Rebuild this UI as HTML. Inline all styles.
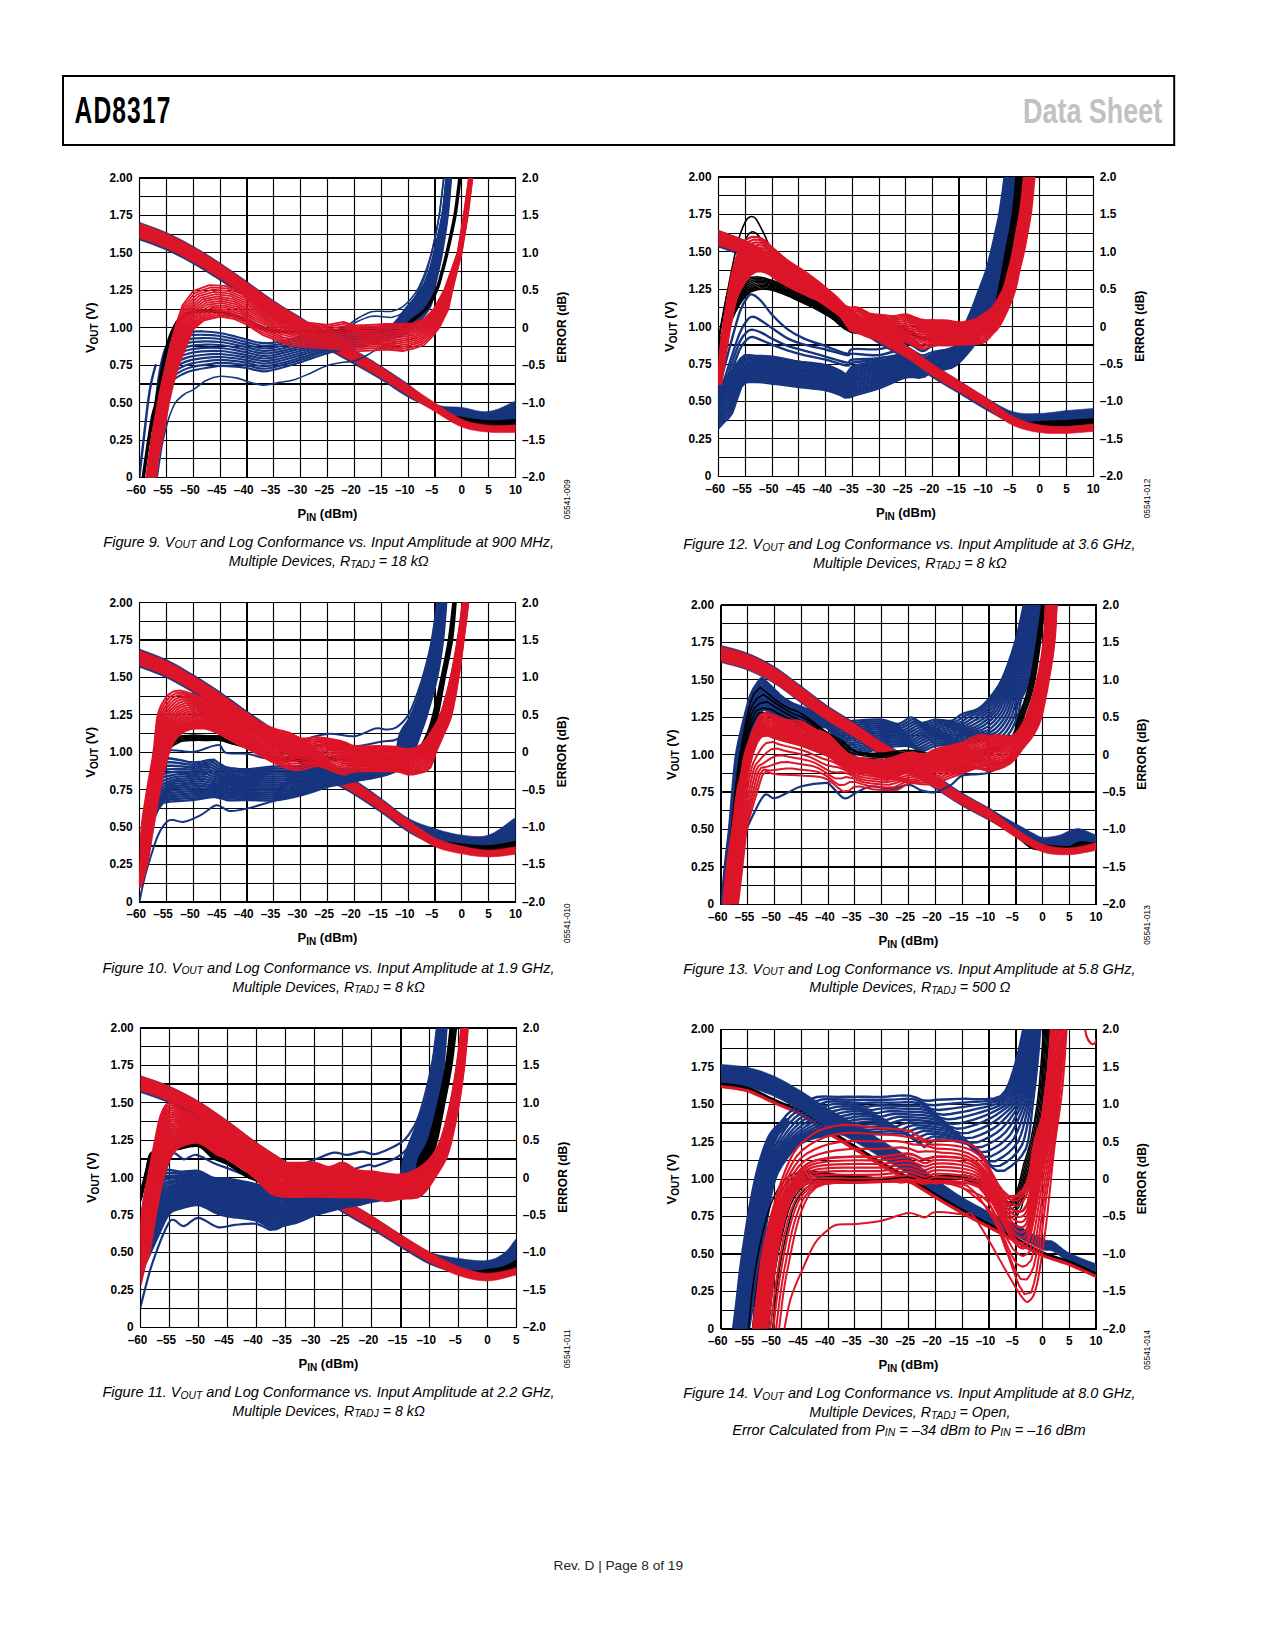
<!DOCTYPE html>
<html><head><meta charset="utf-8"><title>AD8317 Data Sheet Page 8</title>
<style>html,body{margin:0;padding:0;background:#fff;}body{width:1275px;height:1650px;overflow:hidden;position:relative;font-family:"Liberation Sans",sans-serif;}svg{position:absolute;left:0;top:0;}</style>
</head><body>
<svg width="1275" height="1650" viewBox="0 0 1275 1650" xmlns="http://www.w3.org/2000/svg">
<rect x="63" y="76" width="1111.2" height="69" fill="none" stroke="#000" stroke-width="2"/>
<text font-family="Liberation Sans" font-weight="bold" font-size="36.5" fill="#000" letter-spacing="1.6" transform="translate(74.6,122.7) scale(0.675,1)">AD8317</text>
<text font-family="Liberation Sans" font-weight="bold" font-size="35" fill="#c1c1c1" text-anchor="end" transform="translate(1162.2,122.7) scale(0.77,1)">Data Sheet</text>
<clipPath id="clip1"><rect x="139.5" y="178" width="376" height="299.5"/></clipPath>
<g stroke="#000" fill="none"><line x1="139.5" y1="178" x2="139.5" y2="478" stroke-width="1.15"/><line x1="166.5" y1="178" x2="166.5" y2="478" stroke-width="1.15"/><line x1="193.5" y1="178" x2="193.5" y2="478" stroke-width="1.15"/><line x1="220.5" y1="178" x2="220.5" y2="478" stroke-width="1.15"/><line x1="247" y1="178" x2="247" y2="478" stroke-width="2.0"/><line x1="273.5" y1="178" x2="273.5" y2="478" stroke-width="1.15"/><line x1="300.5" y1="178" x2="300.5" y2="478" stroke-width="1.15"/><line x1="327.5" y1="178" x2="327.5" y2="478" stroke-width="1.15"/><line x1="354.5" y1="178" x2="354.5" y2="478" stroke-width="1.15"/><line x1="381.5" y1="178" x2="381.5" y2="478" stroke-width="1.15"/><line x1="408.5" y1="178" x2="408.5" y2="478" stroke-width="1.15"/><line x1="435" y1="178" x2="435" y2="478" stroke-width="2.0"/><line x1="461.5" y1="178" x2="461.5" y2="478" stroke-width="1.15"/><line x1="488.5" y1="178" x2="488.5" y2="478" stroke-width="1.15"/><line x1="515.5" y1="178" x2="515.5" y2="478" stroke-width="1.15"/><line x1="139" y1="178" x2="516" y2="178" stroke-width="2.0"/><line x1="139" y1="196.5" x2="516" y2="196.5" stroke-width="1.15"/><line x1="139" y1="215.5" x2="516" y2="215.5" stroke-width="1.15"/><line x1="139" y1="234.5" x2="516" y2="234.5" stroke-width="1.15"/><line x1="139" y1="252.5" x2="516" y2="252.5" stroke-width="1.15"/><line x1="139" y1="271.5" x2="516" y2="271.5" stroke-width="1.15"/><line x1="139" y1="290.5" x2="516" y2="290.5" stroke-width="1.15"/><line x1="139" y1="309.5" x2="516" y2="309.5" stroke-width="1.15"/><line x1="139" y1="327.5" x2="516" y2="327.5" stroke-width="1.15"/><line x1="139" y1="346.5" x2="516" y2="346.5" stroke-width="1.15"/><line x1="139" y1="365.5" x2="516" y2="365.5" stroke-width="1.15"/><line x1="139" y1="384" x2="516" y2="384" stroke-width="2.0"/><line x1="139" y1="402.5" x2="516" y2="402.5" stroke-width="1.15"/><line x1="139" y1="421.5" x2="516" y2="421.5" stroke-width="1.15"/><line x1="139" y1="440.5" x2="516" y2="440.5" stroke-width="1.15"/><line x1="139" y1="458.5" x2="516" y2="458.5" stroke-width="1.15"/><line x1="139" y1="477.5" x2="516" y2="477.5" stroke-width="1.15"/></g>
<g clip-path="url(#clip1)" fill="none" stroke-linecap="round" stroke-linejoin="round">
<path d="M134.1,220.5 134.5,220.6 134.7,220.7 135.1,220.8 135.9,221 137.3,221.5 139.5,222.3 142.7,223.5 146.9,225 151.6,226.7 156.6,228.5 161.6,230.5 166.4,232.5 170.8,234.6 175.3,236.7 179.8,239 184.3,241.3 188.7,243.8 193.2,246.3 197.7,248.9 202.2,251.5 206.6,254.3 211.1,257.1 215.6,260 220.1,262.9 224.5,265.9 229,268.9 233.5,272 238,275.2 242.5,278.3 246.9,281.5 251.4,284.7 255.9,287.9 260.4,291.2 264.8,294.4 269.3,297.6 273.8,300.7 278.3,303.6 282.7,306.4 287.2,309.2 291.7,311.9 296.2,314.6 300.6,317.3 305.1,320.2 309.6,323 314.1,325.9 318.5,328.7 323,331.5 327.5,334.2 332,336.9 336.5,339.5 340.9,342 345.4,344.6 349.9,347.1 354.4,349.8 358.8,352.4 363.3,355.1 367.8,357.9 372.3,360.6 376.7,363.4 381.2,366.2 385.7,369.1 390.2,372 394.6,374.9 399.1,377.9 403.6,380.9 408.1,384.1 412.5,387.5 417,391.2 421.5,395 426,398.6 430.5,401.7 434.9,404.1 439.4,405.6 443.9,406.4 448.4,406.8 452.8,406.9 457.3,407 461.8,407.4 466.3,408.2 470.7,409.3 475.2,410.4 479.7,411.3 484.2,411.8 488.6,411.6 493.4,410.6 498.4,408.9 503.4,406.7 508.1,404.5 512.3,402.5 515.5,401.1 517.7,400.3 519.1,399.9 519.9,399.7 520.3,399.7 520.5,399.7 520.9,399.6 520.9,430.6 520.5,430.6 520.3,430.6 519.9,430.6 519.1,430.7 517.7,430.6 515.5,430.6 512.3,430.7 508.1,430.7 503.4,430.8 498.4,430.8 493.4,430.7 488.6,430.3 484.2,429.9 479.7,429.4 475.2,428.7 470.7,427.9 466.3,426.7 461.8,425.2 457.3,423.3 452.8,420.8 448.4,418.1 443.9,415.2 439.4,412.5 434.9,410 430.5,407.7 426,405.7 421.5,403.7 417,401.7 412.5,399.6 408.1,397.2 403.6,394.6 399.1,391.8 394.6,388.8 390.2,385.8 385.7,382.8 381.2,380 376.7,377.3 372.3,374.7 367.8,372.1 363.3,369.5 358.8,367 354.4,364.4 349.9,361.9 345.4,359.4 340.9,357 336.5,354.5 332,352 327.5,349.4 323,346.8 318.5,344.1 314.1,341.3 309.6,338.6 305.1,335.8 300.6,333.1 296.2,330.4 291.7,327.7 287.2,325.1 282.7,322.4 278.3,319.6 273.8,316.8 269.3,313.8 264.8,310.6 260.4,307.4 255.9,304.2 251.4,301 246.9,297.9 242.5,295 238,292 233.5,289.1 229,286.3 224.5,283.4 220.1,280.6 215.6,277.7 211.1,274.9 206.6,272 202.2,269.3 197.7,266.6 193.2,264 188.7,261.5 184.3,259 179.8,256.7 175.3,254.4 170.8,252.2 166.4,250.2 161.6,248.2 156.6,246.2 151.6,244.3 146.9,242.6 142.7,241.2 139.5,240 137.3,239.2 135.9,238.7 135.1,238.5 134.7,238.4 134.5,238.3 134.1,238.2Z" fill="#17357f" stroke="#17357f" stroke-width="0.6"/>
<path d="M134.1,228.9C135,229.2 134.1,228.7 139.5,230.7C144.9,232.7 157.4,236.9 166.4,240.9C175.3,244.9 184.3,249.6 193.2,254.7C202.2,259.7 211.1,265.5 220.1,271.3C229,277.1 238,283.1 246.9,289.3C255.9,295.4 264.8,302.4 273.8,308.3C282.7,314.2 291.7,319.2 300.6,324.8C309.6,330.3 318.5,336.1 327.5,341.4C336.5,346.7 345.4,351.4 354.4,356.7C363.3,361.9 372.3,367.1 381.2,372.7C390.2,378.3 399.1,384.4 408.1,390.2C417,396 427.8,402.7 434.9,407.3C442.1,411.8 446.6,415.5 451,417.6C455.5,419.7 455.5,418.9 461.8,419.8C468.1,420.8 479.7,422.8 488.6,423.1C497.6,423.5 510.1,422.1 515.5,421.8C520.9,421.5 520,421.5 520.9,421.5" stroke="#000000" stroke-width="6"/>
<path d="M134.1,221.4 134.5,221.5 134.7,221.6 135.1,221.7 135.9,221.9 137.3,222.4 139.5,223.2 142.7,224.4 146.9,225.9 151.6,227.6 156.6,229.4 161.6,231.4 166.4,233.4 170.8,235.5 175.3,237.6 179.8,239.9 184.3,242.2 188.7,244.7 193.2,247.2 197.7,249.8 202.2,252.4 206.6,255.2 211.1,258 215.6,260.9 220.1,263.8 224.5,266.8 229,269.8 233.5,272.9 238,276.1 242.5,279.2 246.9,282.4 251.4,285.6 255.9,288.8 260.4,292.1 264.8,295.3 269.3,298.5 273.8,301.6 278.3,304.5 282.7,307.3 287.2,310.1 291.7,312.8 296.2,315.5 300.6,318.2 305.1,321.1 309.6,323.9 314.1,326.8 318.5,329.6 323,332.4 327.5,335.1 332,337.8 336.5,340.4 340.9,342.9 345.4,345.5 349.9,348 354.4,350.7 358.8,353.3 363.3,356 367.8,358.8 372.3,361.5 376.7,364.3 381.2,367.1 385.7,370 390.2,373 394.6,376 399.1,379 403.6,382 408.1,385 412.5,387.9 417,390.9 421.5,393.9 426,396.9 430.5,399.9 434.9,402.8 439.4,405.7 443.9,408.8 448.4,411.8 452.8,414.6 457.3,417.1 461.8,419.2 466.3,420.9 470.7,422.3 475.2,423.3 479.7,424.1 484.2,424.7 488.6,425.2 493.4,425.5 498.4,425.6 503.4,425.5 508.1,425.2 512.3,425 515.5,424.9 517.7,424.9 519.1,424.9 519.9,424.9 520.3,424.9 520.5,424.9 520.9,424.9 520.9,432.4 520.5,432.4 520.3,432.4 519.9,432.4 519.1,432.4 517.7,432.4 515.5,432.4 512.3,432.4 508.1,432.5 503.4,432.6 498.4,432.6 493.4,432.5 488.6,432.1 484.2,431.7 479.7,431.2 475.2,430.5 470.7,429.7 466.3,428.5 461.8,427 457.3,425.1 452.8,422.7 448.4,420.1 443.9,417.3 439.4,414.5 434.9,411.8 430.5,409.1 426,406.4 421.5,403.7 417,401 412.5,398.2 408.1,395.4 403.6,392.6 399.1,389.7 394.6,386.8 390.2,383.9 385.7,381 381.2,378.2 376.7,375.5 372.3,372.9 367.8,370.3 363.3,367.7 358.8,365.2 354.4,362.6 349.9,360.1 345.4,357.6 340.9,355.2 336.5,352.7 332,350.2 327.5,347.6 323,345 318.5,342.3 314.1,339.5 309.6,336.8 305.1,334 300.6,331.3 296.2,328.6 291.7,325.9 287.2,323.3 282.7,320.6 278.3,317.8 273.8,315 269.3,312 264.8,308.8 260.4,305.6 255.9,302.4 251.4,299.2 246.9,296.2 242.5,293.2 238,290.2 233.5,287.3 229,284.5 224.5,281.6 220.1,278.8 215.6,275.9 211.1,273.1 206.6,270.2 202.2,267.5 197.7,264.8 193.2,262.2 188.7,259.7 184.3,257.2 179.8,254.9 175.3,252.6 170.8,250.4 166.4,248.4 161.6,246.4 156.6,244.4 151.6,242.5 146.9,240.8 142.7,239.4 139.5,238.2 137.3,237.4 135.9,236.9 135.1,236.7 134.7,236.6 134.5,236.5 134.1,236.4Z" fill="#dc1529" stroke="#dc1529" stroke-width="0.6"/>
<path d="M149.2,485C149.7,477.5 151.3,453.8 152.4,440.1C153.5,426.3 154.5,413.9 155.6,402.6C156.8,391.4 157.9,381.4 159.4,372.7C160.9,363.9 162.5,356 164.7,350.2C167,344.5 169,341.2 172.8,338.2C176.7,335.2 182.7,333.4 187.8,332.2C193,331.1 198.6,331.4 204,331.5C209.3,331.6 214.7,332.1 220.1,333C225.4,333.9 231.7,335.6 236.2,336.7C240.7,337.8 242.9,338.6 246.9,339.6C251,340.6 255.9,342.4 260.4,342.9C264.8,343.4 267.1,343.6 273.8,342.7C280.5,341.8 291.7,339.2 300.6,337.5C309.6,335.7 318.5,333.6 327.5,332.2C336.5,330.9 346.3,330 354.4,329.2C362.4,328.5 369.6,328.5 375.8,327.8C382.1,327 387,327.9 392,324.8C396.9,321.6 400.6,314.8 405.4,309C410.1,303.3 416.5,296.6 420.4,290.3C424.4,284.1 426.8,277.8 429,271.6C431.3,265.4 431.7,262.2 433.9,252.9C436,243.5 440.1,227.9 442.1,215.4C444.2,203 445.4,185.5 446.2,178C447,170.5 446.7,171.8 446.7,170.5" stroke="#17357f" stroke-width="2.2"/>
<path d="M149.4,485C149.9,477.6 151.6,454.2 152.7,440.7C153.8,427.2 154.8,415 156,404C157.2,393 158.3,383.2 159.9,374.7C161.5,366.2 163.1,358.6 165.4,353.1C167.7,347.5 169.9,344.4 173.7,341.5C177.5,338.6 183.2,336.8 188.3,335.7C193.5,334.6 199.2,334.7 204.4,334.8C209.7,334.8 214.8,335.2 220.1,336C225.4,336.8 231.7,338.4 236.2,339.5C240.7,340.5 242.9,341.2 246.9,342.2C251,343.2 256.1,345 260.6,345.5C265.1,346 267.1,346.1 273.8,345.2C280.5,344.2 291.7,341.6 300.6,339.7C309.6,337.9 318.5,335.6 327.5,334.1C336.5,332.7 346.3,331.7 354.4,330.9C362.4,330 369.6,329.9 375.8,329.1C382.1,328.3 387,329 392,326C396.9,323 400.8,316.8 405.6,311.1C410.5,305.5 417.2,298.3 421.2,292C425.2,285.7 427.3,279.5 429.5,273.3C431.6,267.1 432.1,263.7 434.2,254.6C436.4,245.5 440.1,231 442.1,218.8C444.1,206.6 445.5,189.5 446.4,181.4C447.2,173.3 447,172.3 447.2,170.5" stroke="#17357f" stroke-width="2.2"/>
<path d="M149.6,485C150.1,477.7 151.8,454.7 153,441.4C154.1,428.2 155.2,416.1 156.4,405.3C157.6,394.6 158.8,385 160.4,376.8C162.1,368.5 163.7,361.3 166,355.9C168.4,350.6 170.8,347.6 174.6,344.8C178.4,342 183.8,340.3 188.8,339.2C193.9,338 199.7,338.1 204.9,338C210.1,338 214.9,338.3 220.1,339C225.3,339.7 231.7,341.2 236.2,342.2C240.7,343.1 242.8,343.8 246.9,344.8C251,345.7 256.4,347.6 260.8,348C265.3,348.5 267.2,348.6 273.8,347.6C280.4,346.6 291.7,343.9 300.6,342C309.6,340 318.5,337.6 327.5,336.1C336.5,334.5 346.3,333.4 354.4,332.5C362.4,331.6 369.6,331.4 375.8,330.5C382.1,329.6 387,330.1 392,327.2C397,324.3 400.9,318.8 405.9,313.3C410.9,307.7 418,300.1 422,293.7C426,287.3 427.8,281.2 429.9,275C432,268.8 432.6,265.1 434.6,256.3C436.7,247.5 440.1,234.2 442.1,222.2C444.1,210.3 445.6,193.4 446.5,184.8C447.4,176.2 447.4,172.9 447.6,170.5" stroke="#17357f" stroke-width="2.2"/>
<path d="M149.8,485C150.3,477.8 152.1,455.2 153.3,442.1C154.4,429.1 155.5,417.3 156.8,406.7C158.1,396.2 159.3,386.8 161,378.8C162.6,370.8 164.2,363.9 166.7,358.8C169.1,353.7 171.7,350.7 175.4,348C179.2,345.3 184.3,343.7 189.3,342.6C194.3,341.5 200.3,341.4 205.4,341.3C210.5,341.2 214.9,341.4 220.1,342C225.2,342.6 231.7,344 236.2,344.9C240.7,345.8 242.8,346.4 246.9,347.3C251.1,348.3 256.6,350.2 261.1,350.6C265.6,351.1 267.2,351.1 273.8,350.1C280.4,349 291.7,346.2 300.6,344.2C309.6,342.2 318.5,339.6 327.5,338C336.5,336.3 346.3,335.2 354.4,334.1C362.4,333.1 369.6,332.8 375.8,331.8C382.1,330.9 386.9,331.2 392,328.4C397,325.7 401,320.9 406.1,315.4C411.3,309.9 418.7,301.9 422.8,295.4C426.8,289 428.3,282.9 430.3,276.7C432.4,270.5 433.1,266.5 435,258C437,249.5 440.2,237.3 442.1,225.6C444.1,214 445.7,197.4 446.6,188.2C447.6,179 447.8,173.5 448.1,170.5" stroke="#17357f" stroke-width="2.2"/>
<path d="M149.9,485C150.6,478 152.4,455.6 153.6,442.8C154.8,430 155.9,418.4 157.2,408.1C158.5,397.7 159.8,388.6 161.5,380.8C163.2,373.1 164.8,366.6 167.3,361.6C169.8,356.7 172.6,353.9 176.3,351.3C180.1,348.7 184.9,347.2 189.8,346.1C194.7,345 200.9,344.7 205.9,344.6C211,344.4 215,344.5 220.1,345C225.1,345.5 231.7,346.8 236.2,347.6C240.7,348.5 242.7,349 246.9,349.9C251.1,350.9 256.9,352.8 261.3,353.2C265.8,353.7 267.2,353.7 273.8,352.5C280.3,351.4 291.7,348.6 300.6,346.5C309.6,344.4 318.5,341.6 327.5,339.9C336.5,338.1 346.3,336.9 354.4,335.8C362.4,334.7 369.6,334.2 375.8,333.2C382.1,332.2 386.9,332.3 392,329.7C397,327 401.1,322.9 406.4,317.5C411.6,312 419.5,303.6 423.6,297.1C427.6,290.6 428.8,284.6 430.8,278.4C432.8,272.2 433.5,267.9 435.4,259.7C437.3,251.5 440.2,240.4 442.1,229.1C444,217.7 445.7,201.4 446.8,191.6C447.9,181.9 448.2,174 448.5,170.5" stroke="#17357f" stroke-width="2.2"/>
<path d="M150.1,485C150.8,478.1 152.6,456.1 153.9,443.5C155.1,430.9 156.2,419.5 157.6,409.4C158.9,399.3 160.3,390.4 162.1,382.9C163.8,375.4 165.4,369.2 167.9,364.5C170.4,359.8 173.5,357.1 177.2,354.6C180.9,352.1 185.4,350.7 190.3,349.5C195.2,348.4 201.4,348.1 206.4,347.8C211.4,347.6 215.1,347.5 220.1,348C225,348.4 231.7,349.6 236.2,350.3C240.7,351.1 242.7,351.6 246.9,352.5C251.2,353.4 257.1,355.4 261.6,355.8C266.1,356.2 267.3,356.2 273.8,355C280.3,353.8 291.7,350.9 300.6,348.7C309.6,346.5 318.5,343.7 327.5,341.8C336.5,339.9 346.3,338.6 354.4,337.4C362.4,336.2 369.6,335.6 375.8,334.6C382.1,333.5 386.8,333.4 392,330.9C397.1,328.4 401.2,324.9 406.6,319.6C412,314.2 420.2,305.4 424.3,298.8C428.4,292.2 429.3,286.3 431.2,280.1C433.1,273.9 434,269.3 435.8,261.4C437.6,253.4 440.3,243.5 442.1,232.5C444,221.4 445.8,205.3 446.9,195C448.1,184.7 448.6,174.6 448.9,170.5" stroke="#17357f" stroke-width="2.2"/>
<path d="M150.3,485C151,478.2 152.9,456.5 154.1,444.1C155.4,431.8 156.6,420.7 158,410.8C159.4,400.9 160.8,392.2 162.6,384.9C164.4,377.7 166,371.9 168.6,367.4C171.1,362.9 174.4,360.2 178.1,357.8C181.8,355.4 186,354.1 190.8,353C195.6,351.9 202,351.4 206.9,351.1C211.8,350.8 215.2,350.6 220.1,351C225,351.3 231.7,352.4 236.2,353.1C240.7,353.8 242.7,354.2 246.9,355.1C251.2,356 257.3,358 261.8,358.4C266.3,358.8 267.3,358.7 273.8,357.4C280.3,356.2 291.7,353.3 300.6,351C309.6,348.7 318.5,345.7 327.5,343.7C336.5,341.7 346.3,340.3 354.4,339C362.4,337.8 369.6,337.1 375.8,335.9C382.1,334.8 386.8,334.5 392,332.1C397.1,329.7 401.3,327 406.9,321.7C412.4,316.4 421,307.2 425.1,300.5C429.2,293.9 429.8,288 431.7,281.8C433.5,275.6 434.5,270.7 436.2,263.1C437.9,255.4 440.3,246.6 442.1,235.9C443.9,225.1 445.9,209.3 447.1,198.4C448.3,187.5 449,175.2 449.4,170.5" stroke="#17357f" stroke-width="2.2"/>
<path d="M150.5,485C151.2,478.3 153.1,457 154.4,444.8C155.7,432.7 156.9,421.8 158.3,412.2C159.8,402.5 161.3,394 163.1,387C164.9,380 166.6,374.5 169.2,370.2C171.8,365.9 175.3,363.4 179,361.1C182.6,358.8 186.5,357.6 191.3,356.4C196,355.3 202.6,354.8 207.4,354.4C212.2,353.9 215.3,353.7 220.1,354C224.9,354.2 231.7,355.2 236.2,355.8C240.7,356.4 242.6,356.8 246.9,357.7C251.2,358.6 257.6,360.6 262.1,361C266.5,361.3 267.4,361.2 273.8,359.9C280.2,358.6 291.7,355.6 300.6,353.2C309.6,350.8 318.5,347.7 327.5,345.6C336.5,343.5 346.3,342.1 354.4,340.7C362.4,339.3 369.6,338.5 375.8,337.3C382.1,336.1 386.7,335.6 392,333.3C397.2,331.1 401.4,329 407.1,323.8C412.8,318.6 421.7,308.9 425.9,302.2C430.1,295.5 430.3,289.7 432.1,283.5C433.9,277.3 434.9,272.2 436.6,264.8C438.3,257.4 440.4,249.8 442.1,239.3C443.9,228.8 446,213.3 447.2,201.8C448.5,190.4 449.4,175.7 449.8,170.5" stroke="#17357f" stroke-width="2.2"/>
<path d="M150.7,485C151.4,478.4 153.4,457.4 154.7,445.5C156.1,433.6 157.3,422.9 158.7,413.5C160.2,404.1 161.8,395.8 163.7,389C165.5,382.3 167.1,377.2 169.8,373.1C172.5,369 176.2,366.6 179.8,364.4C183.5,362.2 187.1,361 191.7,359.9C196.4,358.8 203.1,358.1 207.9,357.6C212.6,357.1 215.4,356.8 220.1,357C224.8,357.1 231.7,358 236.2,358.5C240.7,359.1 242.6,359.4 246.9,360.3C251.3,361.1 257.8,363.2 262.3,363.6C266.8,363.9 267.4,363.7 273.8,362.3C280.2,361 291.7,357.9 300.6,355.5C309.6,353 318.5,349.7 327.5,347.5C336.5,345.3 346.3,343.8 354.4,342.3C362.4,340.8 369.6,339.9 375.8,338.6C382.1,337.3 386.7,336.7 392,334.6C397.2,332.4 401.6,331 407.3,325.9C413.1,320.8 422.5,310.7 426.7,303.9C430.9,297.1 430.8,291.4 432.5,285.2C434.3,279 435.4,273.6 437,266.5C438.6,259.4 440.4,252.9 442.1,242.7C443.9,232.5 446,217.3 447.4,205.2C448.7,193.2 449.8,176.3 450.3,170.5" stroke="#17357f" stroke-width="2.2"/>
<path d="M150.9,485C151.6,478.5 153.7,457.9 155,446.2C156.4,434.5 157.6,424.1 159.1,414.9C160.7,405.7 162.3,397.5 164.2,391.1C166.1,384.6 167.7,379.8 170.5,375.9C173.2,372 177.1,369.7 180.7,367.6C184.3,365.5 187.6,364.5 192.2,363.4C196.8,362.2 203.7,361.5 208.4,360.9C213,360.3 215.4,359.9 220.1,359.9C224.7,360 231.7,360.8 236.2,361.2C240.7,361.7 242.5,362 246.9,362.9C251.3,363.7 258.1,365.8 262.6,366.2C267,366.5 267.4,366.2 273.8,364.8C280.1,363.4 291.7,360.3 300.6,357.7C309.6,355.1 318.5,351.7 327.5,349.4C336.5,347.1 346.3,345.5 354.4,344C362.4,342.4 369.6,341.4 375.8,340C382.1,338.6 386.7,337.8 392,335.8C397.2,333.8 401.7,333 407.6,328C413.5,323 423.2,312.5 427.5,305.6C431.7,298.8 431.3,293.1 433,286.9C434.6,280.7 435.8,275 437.4,268.2C438.9,261.4 440.4,256 442.1,246.1C443.8,236.1 446.1,221.2 447.5,208.6C449,196 450.2,176.9 450.7,170.5" stroke="#17357f" stroke-width="2.2"/>
<path d="M151.1,485C151.8,478.6 153.9,458.3 155.3,446.9C156.7,435.4 158,425.2 159.5,416.2C161.1,407.3 162.8,399.3 164.7,393.1C166.7,386.9 168.3,382.5 171.1,378.8C173.9,375.1 178,372.9 181.6,370.9C185.2,368.9 188.2,367.9 192.7,366.8C197.3,365.7 204.3,364.8 208.8,364.2C213.4,363.5 215.5,363 220.1,362.9C224.6,362.9 231.7,363.5 236.2,364C240.7,364.4 242.5,364.6 246.9,365.4C251.4,366.2 258.3,368.4 262.8,368.7C267.3,369 267.5,368.7 273.8,367.2C280.1,365.8 291.7,362.6 300.6,359.9C309.6,357.3 318.5,353.7 327.5,351.3C336.5,348.9 346.3,347.2 354.4,345.6C362.4,343.9 369.6,342.8 375.8,341.4C382.1,339.9 386.6,338.9 392,337C397.3,335.1 401.8,335.1 407.8,330.1C413.9,325.2 424,314.2 428.2,307.3C432.5,300.4 431.8,294.9 433.4,288.6C435,282.4 436.3,276.4 437.8,269.9C439.2,263.4 440.5,259.1 442.1,249.5C443.8,239.8 446.2,225.2 447.7,212C449.2,198.9 450.6,177.4 451.1,170.5" stroke="#17357f" stroke-width="2.2"/>
<path d="M151.3,485C152,478.7 154.2,458.8 155.6,447.6C157,436.3 158.3,426.3 159.9,417.6C161.5,408.9 163.3,401.1 165.3,395.1C167.3,389.1 168.9,385.2 171.7,381.7C174.6,378.2 178.9,376.1 182.5,374.2C186.1,372.3 188.7,371.4 193.2,370.3C197.7,369.2 204.9,368.2 209.3,367.4C213.8,366.7 215.6,366.1 220.1,365.9C224.5,365.8 231.7,366.3 236.2,366.7C240.7,367 242.5,367.3 246.9,368C251.4,368.8 258.6,371.1 263,371.3C267.5,371.6 267.5,371.2 273.8,369.7C280.1,368.2 291.7,364.9 300.6,362.2C309.6,359.4 318.5,355.7 327.5,353.2C336.5,350.7 346.3,349 354.4,347.2C362.4,345.5 369.6,344.2 375.8,342.7C382.1,341.2 386.6,340 392,338.2C397.3,336.5 401.9,337.1 408.1,332.2C414.2,327.4 424.7,316 429,309C433.3,302 432.3,296.6 433.9,290.3C435.4,284.1 436.8,277.8 438.2,271.6C439.5,265.4 440.5,262.2 442.1,252.9C443.7,243.5 446.2,229.2 447.8,215.4C449.4,201.7 451,178 451.6,170.5" stroke="#17357f" stroke-width="2.2"/>
<path d="M156.2,485C156.8,480.6 158.7,466.3 159.9,458.8C161.1,451.3 161.6,446.9 163.1,440.1C164.7,433.2 167,423.8 169,417.6C171.1,411.4 172.8,406.6 175.5,402.6C178.2,398.6 182.2,395.8 185.2,393.6C188.1,391.5 189.6,392.1 193.2,389.9C196.8,387.7 202.2,382.4 206.6,380.2C211.1,377.9 215.1,376.6 220.1,376.3C225,375.9 231.7,377.1 236.2,377.9C240.7,378.7 242.5,380 246.9,381.2C251.4,382.4 257.7,384.9 263,385.1C268.4,385.3 273.8,383.4 279.2,382.4C284.5,381.5 289.9,381 295.3,379.4C300.6,377.8 306,375 311.4,372.7C316.8,370.4 322.1,367.2 327.5,365.5C332.9,363.7 339.1,362.9 343.6,362.2C348.1,361.5 350.3,362.4 354.4,361.1C358.4,359.9 363.3,357.1 367.8,354.7C372.3,352.3 376.3,349.2 381.2,346.9C386.1,344.7 394.6,342.2 397.3,341.2" stroke="#17357f" stroke-width="1.6"/>
<path d="M138.4,485C139.1,478.7 141.3,460 142.7,447.6C144.2,435.1 145.7,420.6 147,410.1C148.4,399.6 149.3,392.1 150.8,384.7C152.2,377.2 154.8,368.4 155.6,365.2" stroke="#17357f" stroke-width="2.5"/>
<path d="M327.5,332.2C330.2,331.5 338.7,330 343.6,327.8C348.5,325.5 352.6,321.4 357,318.8C361.5,316.1 366.4,313.3 370.5,312C374.5,310.8 377.6,311.4 381.2,311.3C384.8,311.2 388.4,312 392,311.3C395.5,310.5 399.4,309 402.7,306.8C406,304.5 409.1,301 411.8,297.8C414.5,294.6 416.3,292.3 418.8,287.3C421.3,282.3 424.5,274.8 426.9,267.9C429.3,260.9 431.3,254.1 433.3,245.4C435.4,236.7 437.3,227.9 439.2,215.4C441.1,203 443.7,178 444.6,170.5" stroke="#17357f" stroke-width="1.6"/>
<path d="M327.5,333.7C330.2,333 338.7,331.2 343.6,329.2C348.5,327.3 352.6,323.9 357,321.8C361.5,319.6 366.4,317.4 370.5,316.5C374.5,315.6 377.6,316.4 381.2,316.5C384.8,316.6 388.4,317.9 392,317.3C395.5,316.6 399.4,315.3 402.7,312.8C406,310.3 409.1,306 411.8,302.3C414.5,298.5 416.3,295.6 418.8,290.3C421.3,285.1 424.5,278.3 426.9,270.8C429.3,263.4 431.3,254.6 433.3,245.4C435.4,236.2 437.3,227.9 439.2,215.4C441.1,203 443.7,178 444.6,170.5" stroke="#17357f" stroke-width="1.6"/>
<path d="M142.2,485C143.1,478.7 145.9,458.8 147.6,447.6C149.3,436.3 151,425.1 152.4,417.6C153.8,410.1 154.4,411.4 156.2,402.6C157.9,393.9 160.9,375.9 163.1,365.2C165.4,354.5 166.8,346 169.6,338.2C172.4,330.5 175.8,323.1 179.8,318.8C183.7,314.4 188.3,313.3 193.2,312C198.1,310.7 204.9,311 209.3,311C213.8,311 216,311.2 220.1,312C224.1,312.8 229,314.3 233.5,315.8C238,317.2 242,318.7 246.9,320.9C251.9,323 257.7,326.7 263,328.5C268.4,330.3 272.9,331 279.2,331.5C285.4,332 292.6,331.6 300.6,331.5C308.7,331.4 318.5,331 327.5,330.7C336.5,330.5 345.4,330 354.4,330C363.3,330 373.2,330.9 381.2,330.7C389.3,330.6 397.9,330.7 402.7,329.2C407.5,327.8 406.4,325.1 410.2,321.8C414.1,318.4 421.4,314.3 425.8,309C430.2,303.8 433.8,296.6 436.5,290.3C439.3,284.1 440.4,277.8 442.2,271.6C443.9,265.4 444.9,262.2 447,252.9C449.1,243.5 452.8,227.9 455,215.4C457.1,203 458.9,185.5 459.9,178C460.9,170.5 460.6,171.8 460.7,170.5" stroke="#000000" stroke-width="3.5"/>
<path d="M145.4,485L148.6,458.8 151.3,440.1 154.5,421.3 157.8,402.6 161.5,383.9 165.8,365.2 170.1,346.5 175,327.8 182.5,305.3 193.2,291.1 209.3,285.1 225.4,285.8 241.6,291.8 257.7,303.8 273.8,314.3 289.9,320.3 306,322.5 327.5,324.8 343.6,321.8 354.4,325.5 370.5,324.8 386.6,324 402.7,324 413.4,323.3 424.2,318.8 433.9,309 444.2,290.3 457.5,252.9 463.7,215.4 468.9,178 469.6,170.5" stroke="#dc1529" stroke-width="1.8"/>
<path d="M146.1,485L149.3,458.8 152,440.1 155.3,421.3 158.5,402.6 162.3,383.9 166.7,365.2 171.2,346.5 176.2,327.8 183.9,306.3 195,292.8 210.9,287.3 226.9,288.4 243,294.7 259.8,306.6 275.9,316.5 292.4,322.2 308.5,324.4 329.3,326.5 345.4,323.7 356.5,327.1 372.6,326.5 388.4,325.7 404.1,325.4 414.7,324.2 425.2,319.4 434.8,309 444.7,290.3 457.8,252.9 464,215.4 469.1,178 469.8,170.5" stroke="#dc1529" stroke-width="1.8"/>
<path d="M146.8,485L149.9,458.8 152.7,440.1 156,421.3 159.3,402.6 163.1,383.9 167.5,365.2 172.3,346.5 177.4,327.9 185.3,307.3 196.8,294.5 212.6,289.6 228.3,291 244.4,297.6 262,309.4 278.1,318.7 294.9,324.1 311,326.2 331.1,328.3 347.2,325.6 358.7,328.7 374.8,328.2 390.2,327.3 405.6,326.8 415.9,325.1 426.2,320 435.8,309 445.3,290.3 458.1,252.9 464.3,215.4 469.4,178 470,170.5" stroke="#dc1529" stroke-width="1.8"/>
<path d="M147.4,485L150.6,458.8 153.5,440.1 156.8,421.3 160,402.6 163.9,383.9 168.4,365.2 173.3,346.5 178.6,328 186.8,308.3 198.6,296.2 214.2,291.8 229.7,293.6 245.9,300.5 264.1,312.2 280.2,320.9 297.4,326 313.5,328 332.9,330.1 349,327.5 360.8,330.3 376.9,330 392,328.9 407,328.2 417.2,326 427.2,320.6 436.8,309 445.8,290.3 458.4,252.9 464.5,215.4 469.6,178 470.3,170.5" stroke="#dc1529" stroke-width="1.8"/>
<path d="M148.1,485L151.2,458.8 154.2,440.1 157.5,421.3 160.8,402.6 164.7,383.9 169.3,365.2 174.4,346.5 179.8,328.1 188.2,309.3 200.4,297.8 215.8,294.1 231.2,296.2 247.3,303.4 266.3,315 282.4,323.1 299.9,327.8 316,329.9 334.7,331.8 350.8,329.5 363,331.9 379.1,331.7 393.7,330.6 408.4,329.6 418.5,326.9 428.2,321.2 437.7,309 446.4,290.3 458.6,252.9 464.8,215.4 469.8,178 470.5,170.5" stroke="#dc1529" stroke-width="1.8"/>
<path d="M148.8,485L151.9,458.8 154.9,440.1 158.3,421.3 161.5,402.6 165.5,383.9 170.1,365.2 175.5,346.5 181,328.2 189.6,310.3 202.2,299.5 217.4,296.3 232.6,298.8 248.7,306.3 268.4,317.8 284.5,325.3 302.4,329.7 318.5,331.7 336.5,333.6 352.6,331.4 365.1,333.5 381.2,333.5 395.5,332.2 409.9,331 419.7,327.8 429.2,321.8 438.7,309 446.9,290.3 458.9,252.9 465.1,215.4 470.1,178 470.7,170.5" stroke="#dc1529" stroke-width="1.8"/>
<path d="M149.5,485L152.5,458.8 155.6,440.1 159.1,421.3 162.3,402.6 166.2,383.9 171,365.2 176.6,346.5 182.3,328.3 191.1,311.3 204,301.2 219,298.5 234,301.4 250.2,309.2 270.6,320.6 286.7,327.5 304.9,331.6 321.1,333.6 338.2,335.4 354.4,333.3 367.2,335.1 383.4,335.2 397.3,333.9 411.3,332.4 421,328.6 430.2,322.4 439.7,309 447.5,290.3 459.2,252.9 465.4,215.4 470.3,178 471,170.5" stroke="#dc1529" stroke-width="1.8"/>
<path d="M150.2,485L153.1,458.8 156.3,440.1 159.8,421.3 163,402.6 167,383.9 171.8,365.2 177.6,346.5 183.5,328.4 192.5,312.3 205.7,302.9 220.6,300.8 235.5,304 251.6,312.1 272.7,323.4 288.8,329.6 307.4,333.5 323.6,335.4 340,337.1 356.1,335.2 369.4,336.7 385.5,337 399.1,335.5 412.7,333.8 422.2,329.5 431.2,323 440.6,309 448,290.3 459.5,252.9 465.6,215.4 470.6,178 471.2,170.5" stroke="#dc1529" stroke-width="1.8"/>
<path d="M150.9,485L153.8,458.8 157,440.1 160.6,421.3 163.8,402.6 167.8,383.9 172.7,365.2 178.7,346.5 184.7,328.5 193.9,313.3 207.5,304.6 222.2,303 236.9,306.6 253,315 274.9,326.2 291,331.8 310,335.4 326.1,337.3 341.8,338.9 357.9,337.2 371.5,338.3 387.7,338.7 400.9,337.2 414.2,335.2 423.5,330.4 432.2,323.6 441.6,309 448.6,290.3 459.7,252.9 465.9,215.4 470.8,178 471.4,170.5" stroke="#dc1529" stroke-width="1.8"/>
<path d="M151.5,485L154.4,458.8 157.8,440.1 161.3,421.3 164.5,402.6 168.6,383.9 173.6,365.2 179.8,346.5 185.9,328.6 195.4,314.3 209.3,306.3 223.8,305.3 238.3,309.2 254.4,317.9 277,328.9 293.1,334 312.5,337.3 328.6,339.1 343.6,340.7 359.7,339.1 373.7,339.9 389.8,340.5 402.7,338.8 415.6,336.6 424.7,331.3 433.2,324.2 442.6,309 449.1,290.3 460,252.9 466.2,215.4 471,178 471.7,170.5" stroke="#dc1529" stroke-width="1.8"/>
<path d="M152.2,485L155.1,458.8 158.5,440.1 162.1,421.3 165.3,402.6 169.4,383.9 174.4,365.2 180.9,346.5 187.1,328.7 196.8,315.3 211.1,308 225.4,307.5 239.8,311.8 255.9,320.8 279.2,331.7 295.3,336.2 315,339.2 331.1,341 345.4,342.4 361.5,341 375.8,341.5 392,342.2 404.5,340.5 417,338 426,332.2 434.2,324.8 443.5,309 449.7,290.3 460.3,252.9 466.5,215.4 471.3,178 471.9,170.5" stroke="#dc1529" stroke-width="1.8"/>
<path d="M152.9,485L155.7,458.8 159.2,440.1 162.8,421.3 166,402.6 170.2,383.9 175.3,365.2 181.9,346.5 188.3,328.8 198.2,316.3 212.9,309.7 227.1,309.8 241.2,314.4 257.3,323.7 281.3,334.5 297.4,338.4 317.5,341.1 333.6,342.8 347.2,344.2 363.3,343 378,343.1 394.1,344 406.3,342.1 418.5,339.4 427.2,333.1 435.2,325.4 444.5,309 450.2,290.3 460.6,252.9 466.8,215.4 471.5,178 472.1,170.5" stroke="#dc1529" stroke-width="1.8"/>
<path d="M153.6,485L156.4,458.8 159.9,440.1 163.6,421.3 166.8,402.6 171,383.9 176.1,365.2 183,346.5 189.6,328.9 199.7,317.3 214.7,311.4 228.7,312 242.6,317 258.7,326.6 283.5,337.3 299.6,340.6 320,343 336.1,344.7 349,346 365.1,344.9 380.1,344.7 396.3,345.7 408.1,343.8 419.9,340.8 428.5,334 436.2,326 445.5,309 450.8,290.3 460.9,252.9 467,215.4 471.8,178 472.4,170.5" stroke="#dc1529" stroke-width="1.8"/>
<path d="M154.3,485L157,458.8 160.6,440.1 164.3,421.3 167.5,402.6 171.8,383.9 177,365.2 184.1,346.5 190.8,329 201.1,318.3 216.5,313.1 230.3,314.3 244.1,319.6 260.2,329.4 285.6,340.1 301.7,342.8 322.5,344.9 338.6,346.5 350.8,347.7 366.9,346.8 382.3,346.3 398.4,347.5 409.9,345.4 421.3,342.2 429.7,334.9 437.2,326.6 446.4,309 451.3,290.3 461.1,252.9 467.3,215.4 472,178 472.6,170.5" stroke="#dc1529" stroke-width="1.8"/>
<path d="M154.9,485L157.7,458.8 161.3,440.1 165.1,421.3 168.3,402.6 172.6,383.9 177.9,365.2 185.2,346.5 192,329.1 202.5,319.3 218.3,314.8 231.9,316.5 245.5,322.2 261.6,332.3 287.8,342.9 303.9,345 325,346.8 341.1,348.4 352.6,349.5 368.7,348.7 384.4,347.9 400.6,349.2 411.7,347.1 422.8,343.6 431,335.8 438.2,327.2 447.4,309 451.9,290.3 461.4,252.9 467.6,215.4 472.2,178 472.8,170.5" stroke="#dc1529" stroke-width="1.8"/>
<path d="M155.6,485L158.3,458.8 162.1,440.1 165.8,421.3 169,402.6 173.3,383.9 178.7,365.2 186.2,346.5 193.2,329.2 204,320.3 220.1,316.5 233.5,318.8 246.9,324.8 263,335.2 289.9,345.7 306,347.2 327.5,348.7 343.6,350.2 354.4,351.3 370.5,350.7 386.6,349.5 402.7,351 413.4,348.7 424.2,345 432.2,336.7 439.2,327.8 448.4,309 452.4,290.3 461.7,252.9 467.9,215.4 472.5,178 473.1,170.5" stroke="#dc1529" stroke-width="1.8"/>
</g>
<g font-family="Liberation Sans" font-weight="bold" font-size="13.5" fill="#000"><text x="132.5" y="181.9" text-anchor="end" transform="translate(132.5,0) scale(0.88,1) translate(-132.5,0)">2.00</text><text x="132.5" y="219.34" text-anchor="end" transform="translate(132.5,0) scale(0.88,1) translate(-132.5,0)">1.75</text><text x="132.5" y="256.77" text-anchor="end" transform="translate(132.5,0) scale(0.88,1) translate(-132.5,0)">1.50</text><text x="132.5" y="294.21" text-anchor="end" transform="translate(132.5,0) scale(0.88,1) translate(-132.5,0)">1.25</text><text x="132.5" y="331.65" text-anchor="end" transform="translate(132.5,0) scale(0.88,1) translate(-132.5,0)">1.00</text><text x="132.5" y="369.09" text-anchor="end" transform="translate(132.5,0) scale(0.88,1) translate(-132.5,0)">0.75</text><text x="132.5" y="406.52" text-anchor="end" transform="translate(132.5,0) scale(0.88,1) translate(-132.5,0)">0.50</text><text x="132.5" y="443.96" text-anchor="end" transform="translate(132.5,0) scale(0.88,1) translate(-132.5,0)">0.25</text><text x="132.5" y="481.4" text-anchor="end" transform="translate(132.5,0) scale(0.88,1) translate(-132.5,0)">0</text><text x="522" y="181.9" transform="translate(522,0) scale(0.88,1) translate(-522,0)">2.0</text><text x="522" y="219.34" transform="translate(522,0) scale(0.88,1) translate(-522,0)">1.5</text><text x="522" y="256.77" transform="translate(522,0) scale(0.88,1) translate(-522,0)">1.0</text><text x="522" y="294.21" transform="translate(522,0) scale(0.88,1) translate(-522,0)">0.5</text><text x="522" y="331.65" transform="translate(522,0) scale(0.88,1) translate(-522,0)">0</text><text x="522" y="369.09" transform="translate(522,0) scale(0.88,1) translate(-522,0)">–0.5</text><text x="522" y="406.52" transform="translate(522,0) scale(0.88,1) translate(-522,0)">–1.0</text><text x="522" y="443.96" transform="translate(522,0) scale(0.88,1) translate(-522,0)">–1.5</text><text x="522" y="481.4" transform="translate(522,0) scale(0.88,1) translate(-522,0)">–2.0</text><text x="146.03" y="493.8" text-anchor="end" transform="translate(146.03,0) scale(0.87,1) translate(-146.03,0)">–60</text><text x="172.88" y="493.8" text-anchor="end" transform="translate(172.88,0) scale(0.87,1) translate(-172.88,0)">–55</text><text x="199.74" y="493.8" text-anchor="end" transform="translate(199.74,0) scale(0.87,1) translate(-199.74,0)">–50</text><text x="226.6" y="493.8" text-anchor="end" transform="translate(226.6,0) scale(0.87,1) translate(-226.6,0)">–45</text><text x="253.45" y="493.8" text-anchor="end" transform="translate(253.45,0) scale(0.87,1) translate(-253.45,0)">–40</text><text x="280.31" y="493.8" text-anchor="end" transform="translate(280.31,0) scale(0.87,1) translate(-280.31,0)">–35</text><text x="307.17" y="493.8" text-anchor="end" transform="translate(307.17,0) scale(0.87,1) translate(-307.17,0)">–30</text><text x="334.02" y="493.8" text-anchor="end" transform="translate(334.02,0) scale(0.87,1) translate(-334.02,0)">–25</text><text x="360.88" y="493.8" text-anchor="end" transform="translate(360.88,0) scale(0.87,1) translate(-360.88,0)">–20</text><text x="387.74" y="493.8" text-anchor="end" transform="translate(387.74,0) scale(0.87,1) translate(-387.74,0)">–15</text><text x="414.6" y="493.8" text-anchor="end" transform="translate(414.6,0) scale(0.87,1) translate(-414.6,0)">–10</text><text x="438.19" y="493.8" text-anchor="end" transform="translate(438.19,0) scale(0.87,1) translate(-438.19,0)">–5</text><text x="461.79" y="493.8" text-anchor="middle" transform="translate(461.79,0) scale(0.87,1) translate(-461.79,0)">0</text><text x="488.64" y="493.8" text-anchor="middle" transform="translate(488.64,0) scale(0.87,1) translate(-488.64,0)">5</text><text x="515.5" y="493.8" text-anchor="middle" transform="translate(515.5,0) scale(0.87,1) translate(-515.5,0)">10</text></g>
<g font-family="Liberation Sans" font-weight="bold" fill="#000">
<text font-size="13" transform="translate(94.9,327.75) rotate(-90)" text-anchor="middle">V<tspan font-size="10" dy="3">OUT</tspan><tspan dy="-3"> (V)</tspan></text>
<text font-size="13" transform="translate(565.8,327.25) rotate(-90)" text-anchor="middle" textLength="71" lengthAdjust="spacingAndGlyphs">ERROR (dB)</text>
<text font-size="13" x="327.5" y="517.9" text-anchor="middle">P<tspan font-size="10" dy="3">IN</tspan><tspan dy="-3"> (dBm)</tspan></text>
</g>
<text font-family="Liberation Sans" font-size="8.3" fill="#000" transform="translate(570,499.3) rotate(-90)" text-anchor="middle">05541-009</text>
<text font-family="Liberation Sans" font-style="italic" font-size="15.5" x="328.75" y="546.8" text-anchor="middle" textLength="450.8" lengthAdjust="spacingAndGlyphs">Figure 9. V<tspan font-size="11" dy="1.6">OUT</tspan><tspan dy="-1.6"> and Log Conformance vs. Input Amplitude at 900 MHz,</tspan></text>
<text font-family="Liberation Sans" font-style="italic" font-size="15.5" x="328.6" y="566.2" text-anchor="middle" textLength="199.9" lengthAdjust="spacingAndGlyphs">Multiple Devices, R<tspan font-size="11" dy="1.6">TADJ</tspan><tspan dy="-1.6"> = 18 kΩ</tspan></text>
<clipPath id="clip2"><rect x="718.5" y="177" width="374.8" height="299.3"/></clipPath>
<g stroke="#000" fill="none"><line x1="718.5" y1="177" x2="718.5" y2="477" stroke-width="1.15"/><line x1="745.5" y1="177" x2="745.5" y2="477" stroke-width="1.15"/><line x1="772.5" y1="177" x2="772.5" y2="477" stroke-width="1.15"/><line x1="798.5" y1="177" x2="798.5" y2="477" stroke-width="1.15"/><line x1="825.5" y1="177" x2="825.5" y2="477" stroke-width="1.15"/><line x1="852.5" y1="177" x2="852.5" y2="477" stroke-width="1.15"/><line x1="879.5" y1="177" x2="879.5" y2="477" stroke-width="1.15"/><line x1="905.5" y1="177" x2="905.5" y2="477" stroke-width="1.15"/><line x1="932.5" y1="177" x2="932.5" y2="477" stroke-width="1.15"/><line x1="959" y1="177" x2="959" y2="477" stroke-width="2.0"/><line x1="986.5" y1="177" x2="986.5" y2="477" stroke-width="1.15"/><line x1="1012.5" y1="177" x2="1012.5" y2="477" stroke-width="1.15"/><line x1="1039.5" y1="177" x2="1039.5" y2="477" stroke-width="1.15"/><line x1="1066.5" y1="177" x2="1066.5" y2="477" stroke-width="1.15"/><line x1="1093.5" y1="177" x2="1093.5" y2="477" stroke-width="1.15"/><line x1="718" y1="177" x2="1094" y2="177" stroke-width="2.0"/><line x1="718" y1="195.5" x2="1094" y2="195.5" stroke-width="1.15"/><line x1="718" y1="214.5" x2="1094" y2="214.5" stroke-width="1.15"/><line x1="718" y1="233.5" x2="1094" y2="233.5" stroke-width="1.15"/><line x1="718" y1="251.5" x2="1094" y2="251.5" stroke-width="1.15"/><line x1="718" y1="270.5" x2="1094" y2="270.5" stroke-width="1.15"/><line x1="718" y1="289.5" x2="1094" y2="289.5" stroke-width="1.15"/><line x1="718" y1="307.5" x2="1094" y2="307.5" stroke-width="1.15"/><line x1="718" y1="326.5" x2="1094" y2="326.5" stroke-width="1.15"/><line x1="718" y1="345" x2="1094" y2="345" stroke-width="2.0"/><line x1="718" y1="364.5" x2="1094" y2="364.5" stroke-width="1.15"/><line x1="718" y1="382.5" x2="1094" y2="382.5" stroke-width="1.15"/><line x1="718" y1="401.5" x2="1094" y2="401.5" stroke-width="1.15"/><line x1="718" y1="420.5" x2="1094" y2="420.5" stroke-width="1.15"/><line x1="718" y1="438.5" x2="1094" y2="438.5" stroke-width="1.15"/><line x1="718" y1="457.5" x2="1094" y2="457.5" stroke-width="1.15"/><line x1="718" y1="476.5" x2="1094" y2="476.5" stroke-width="1.15"/></g>
<g clip-path="url(#clip2)" fill="none" stroke-linecap="round" stroke-linejoin="round">
<path d="M713.1,229.4 713.5,229.4 713.7,229.3 714.1,229.3 714.9,229.4 716.3,229.7 718.5,230.4 721.7,231.5 725.8,233 730.5,234.7 735.6,236.6 740.6,238.6 745.3,240.6 749.7,242.7 754.2,244.9 758.7,247.2 763.1,249.7 767.6,252.2 772,254.8 776.5,257.6 781,260.4 785.4,263.4 789.9,266.5 794.4,269.6 798.8,272.8 803.3,276 807.7,279.3 812.2,282.7 816.7,286.2 821.1,289.5 825.6,292.8 830,296.1 834.5,299.3 839,302.4 843.4,305.6 847.9,308.7 852.4,311.7 856.8,314.7 861.3,317.7 865.7,320.6 870.2,323.5 874.7,326.3 879.1,329.1 883.6,331.8 888.1,334.4 892.5,337 897,339.6 901.4,342.3 905.9,345.1 910.4,348.1 914.8,351.3 919.3,354.5 923.7,357.8 928.2,361 932.7,364.1 937.1,367 941.6,369.9 946.1,372.7 950.5,375.4 955,378.2 959.4,381 963.9,383.8 968.4,386.7 972.8,389.5 977.3,392.4 981.8,395.1 986.2,397.7 990.7,400.4 995.1,403.1 999.6,405.7 1004.1,408.1 1008.5,410.2 1013,411.8 1017.4,412.8 1021.9,413.4 1026.4,413.7 1030.8,413.7 1035.3,413.6 1039.8,413.4 1044.2,413.2 1048.7,412.8 1053.1,412.3 1057.6,411.7 1062.1,411.1 1066.5,410.6 1071.2,410.2 1076.2,409.8 1081.3,409.4 1086,409 1090.1,408.7 1093.3,408.5 1095.5,408.4 1096.9,408.3 1097.7,408.2 1098.1,408.2 1098.3,408.2 1098.7,408.2 1098.7,429.3 1098.3,429.3 1098.1,429.3 1097.7,429.3 1096.9,429.4 1095.5,429.5 1093.3,429.6 1090.1,429.9 1086,430.2 1081.3,430.6 1076.2,431 1071.2,431.4 1066.5,431.6 1062.1,431.7 1057.6,431.7 1053.1,431.8 1048.7,431.6 1044.2,431.3 1039.8,430.8 1035.3,430.1 1030.8,429.1 1026.4,428 1021.9,426.7 1017.4,425.3 1013,423.6 1008.5,421.8 1004.1,419.7 999.6,417.4 995.1,415 990.7,412.5 986.2,410 981.8,407.5 977.3,404.8 972.8,402.1 968.4,399.3 963.9,396.6 959.4,393.8 955,391.2 950.5,388.6 946.1,386 941.6,383.3 937.1,380.6 932.7,377.8 928.2,374.9 923.7,371.8 919.3,368.6 914.8,365.4 910.4,362.3 905.9,359.4 901.4,356.7 897,354.1 892.5,351.6 888.1,349.1 883.6,346.6 879.1,343.9 874.7,341.2 870.2,338.4 865.7,335.6 861.3,332.8 856.8,329.9 852.4,326.9 847.9,323.9 843.4,320.9 839,317.8 834.5,314.6 830,311.5 825.6,308.4 821.1,305.3 816.7,302.1 812.2,298.9 807.7,295.8 803.3,292.6 798.8,289.5 794.4,286.4 789.9,283.3 785.4,280.3 781,277.3 776.5,274.3 772,271.6 767.6,268.9 763.1,266.4 758.7,264 754.2,261.7 749.7,259.5 745.3,257.4 740.6,255.3 735.6,253.3 730.5,251.5 725.8,249.8 721.7,248.3 718.5,247.2 716.3,246.5 714.9,246.1 714.1,246 713.7,246.1 713.5,246.1 713.1,246.1Z" fill="#17357f" stroke="#17357f" stroke-width="0.6"/>
<path d="M713.1,236.9C714,237 713.1,236 718.5,237.9C723.9,239.8 736.3,244 745.3,248.1C754.2,252.1 763.1,256.9 772,262.3C781,267.7 789.9,274 798.8,280.3C807.7,286.5 816.7,293.4 825.6,299.7C834.5,306.1 843.4,312.4 852.4,318.4C861.3,324.4 870.2,330.1 879.1,335.6C888.1,341.1 897,345.6 905.9,351.3C914.8,357.1 923.7,364.2 932.7,370C941.6,375.9 950.5,381 959.4,386.5C968.4,392 977.3,397.2 986.2,403C995.1,408.7 1005.8,417.3 1013,420.9C1020.1,424.5 1024.6,424.2 1029,424.7C1033.5,425.2 1033.5,424.2 1039.8,423.9C1046,423.6 1057.6,423.3 1066.5,422.9C1075.5,422.4 1087.9,421.6 1093.3,421.2C1098.7,420.9 1097.8,421 1098.7,420.9" stroke="#000000" stroke-width="6"/>
<path d="M716.9,386.5L720.7,383 724.6,379.4 728.2,375.6 731.5,371.6 734.5,367.3 737.5,362.9 740.6,358.7 744.4,355.3 749.6,355.1 754.8,355.7 760.1,356 765.3,356.1 770.5,356.4 775.7,357.1 780.9,358.1 786,359.2 791.1,360.2 796.2,361.3 801.4,362 806.6,362.5 811.9,363 817.1,363.6 822.3,364.3 827.4,365.5 832.3,367.1 837.1,369.3 841.8,371.6 845.9,374.8 848.4,371.1 851.4,367.1 856.3,365.2 861.4,364.1 866.6,363.1 871.7,362.3 876.9,361.3 882,360.3 887.1,359.1 892.2,357.9 897.3,356.7 902.5,355.8 907.7,355.4 912.9,356.1 917.9,357.5 923.1,357.9 928,356.4 932.8,354.3 937.8,352.7 942.8,351.2 947.8,349.5 952.7,347.7 957.4,345.4 960.5,341.2 962.1,336.2 963.2,331.1 964.7,326.1 966.7,321.2 968.7,316.4 970.8,311.6 972.8,306.7 974.6,301.8 976.4,296.9 978.2,292 980.1,287.1 982,282.2 983.8,277.3 985.6,272.4 987.2,267.4 988.5,262.3 989.7,257.2 991,252.1 992.2,247 993.4,241.9 994.5,236.8 995.6,231.7 996.8,226.5 997.9,221.4 998.9,216.3 999.8,211.1 1000.6,205.9 1001.4,200.8 1002.1,195.6 1002.9,190.4 1003.5,185.2 1004.2,180 1004.7,174.8 1005,169.5" stroke="#17357f" stroke-width="2.4"/>
<path d="M716.9,389.4L720.7,385.8 724.6,382.2 728.3,378.4 731.6,374.4 734.5,370 737.4,365.6 740.4,361.3 744.1,357.8 749.1,357.2 754.2,357.5 759.4,357.7 764.7,357.8 769.9,358.2 775.2,358.8 780.3,359.8 785.5,360.8 790.7,361.9 795.8,362.9 801,363.6 806.3,364.2 811.5,364.7 816.8,365.3 822,366 827.1,367.1 832.1,368.7 836.9,370.8 841.7,373.2 845.8,376.4 848.4,372.9 851.6,368.9 856.5,367.1 861.7,366 866.9,365 872,364.1 877.2,363.1 882.3,361.9 887.4,360.7 892.5,359.4 897.7,358.2 902.8,357.2 908.1,356.8 913.3,357.5 918.4,358.7 923.5,359 928.5,357.3 933.3,355.3 938.4,353.8 943.4,352.3 948.3,350.5 953.2,348.6 957.8,346.2 961,342 962.7,337.1 964,332 965.6,327 967.6,322.1 969.6,317.3 971.7,312.4 973.7,307.5 975.6,302.6 977.5,297.7 979.3,292.7 981.1,287.8 983,282.9 984.9,278 986.6,273 988.1,267.9 989.4,262.8 990.7,257.7 991.9,252.6 993,247.4 994.2,242.3 995.4,237.2 996.5,232 997.6,226.9 998.7,221.7 999.7,216.5 1000.6,211.3 1001.5,206.1 1002.2,200.9 1002.9,195.7 1003.6,190.5 1004.3,185.3 1004.9,180 1005.5,174.8 1005.7,169.5" stroke="#17357f" stroke-width="2.4"/>
<path d="M716.9,392.3L720.7,388.7 724.6,385 728.3,381.2 731.6,377.1 734.5,372.7 737.2,368.2 740.2,363.9 743.8,360.2 748.5,359.3 753.5,359.3 758.8,359.4 764.1,359.6 769.4,359.9 774.6,360.6 779.8,361.5 785,362.5 790.2,363.5 795.4,364.5 800.7,365.3 805.9,365.8 811.2,366.3 816.5,366.9 821.7,367.6 826.9,368.7 831.9,370.3 836.8,372.4 841.5,374.7 845.7,377.9 848.5,374.6 851.9,370.8 856.8,369 862,367.8 867.2,366.8 872.3,365.9 877.5,364.8 882.7,363.6 887.8,362.3 892.9,360.9 898,359.6 903.2,358.6 908.5,358.3 913.7,359 918.8,360 923.9,360 928.9,358.3 933.8,356.4 938.9,354.9 944,353.4 948.9,351.6 953.7,349.5 958.3,346.9 961.5,342.8 963.3,337.9 964.8,332.9 966.5,327.9 968.5,323 970.6,318.1 972.7,313.2 974.7,308.3 976.6,303.4 978.5,298.5 980.3,293.5 982.2,288.5 984.1,283.6 985.9,278.6 987.6,273.6 989,268.5 990.3,263.4 991.6,258.2 992.7,253 993.9,247.9 995.1,242.7 996.2,237.5 997.3,232.4 998.4,227.2 999.5,222 1000.5,216.8 1001.5,211.6 1002.3,206.3 1003,201.1 1003.7,195.8 1004.4,190.6 1005.1,185.3 1005.7,180.1 1006.2,174.8 1006.5,169.5" stroke="#17357f" stroke-width="2.4"/>
<path d="M716.9,395.2L720.7,391.5 724.6,387.8 728.3,384.1 731.6,379.9 734.4,375.4 737.1,370.9 740,366.5 743.4,362.7 748,361.4 752.9,361.1 758.2,361.1 763.5,361.3 768.8,361.6 774.1,362.3 779.3,363.2 784.6,364.2 789.8,365.2 795,366.2 800.3,366.9 805.6,367.5 810.9,368 816.1,368.6 821.4,369.3 826.6,370.3 831.7,371.9 836.6,374 841.4,376.3 845.7,379.4 848.6,376.3 852.1,372.7 857,370.9 862.2,369.7 867.4,368.7 872.7,367.7 877.9,366.5 883,365.3 888.1,363.8 893.2,362.4 898.4,361.1 903.6,360 908.9,359.7 914.1,360.4 919.3,361.3 924.3,361 929.3,359.3 934.3,357.4 939.4,356 944.5,354.5 949.5,352.6 954.2,350.4 958.7,347.7 962,343.6 963.9,338.7 965.5,333.7 967.3,328.7 969.4,323.8 971.5,318.9 973.6,314.1 975.7,309.1 977.6,304.2 979.5,299.2 981.4,294.2 983.2,289.2 985.1,284.2 986.9,279.2 988.5,274.2 990,269.1 991.3,263.9 992.5,258.7 993.6,253.5 994.8,248.3 995.9,243.1 997,237.9 998.2,232.7 999.3,227.5 1000.3,222.3 1001.4,217.1 1002.3,211.8 1003.1,206.5 1003.8,201.3 1004.5,196 1005.2,190.7 1005.8,185.4 1006.5,180.1 1007,174.8 1007.2,169.5" stroke="#17357f" stroke-width="2.4"/>
<path d="M716.9,398.1L720.7,394.4 724.6,390.6 728.4,386.9 731.7,382.7 734.4,378.2 737,373.5 739.8,369 743.1,365.1 747.4,363.5 752.2,362.9 757.5,362.9 762.9,363 768.2,363.3 773.5,364 778.8,364.9 784.1,365.9 789.3,366.8 794.6,367.8 799.9,368.5 805.2,369.1 810.5,369.7 815.8,370.2 821.1,370.9 826.4,372 831.5,373.5 836.4,375.5 841.3,377.8 845.6,380.9 848.6,378.1 852.3,374.6 857.3,372.8 862.5,371.6 867.7,370.5 873,369.4 878.2,368.3 883.3,366.9 888.4,365.4 893.6,363.9 898.7,362.5 903.9,361.5 909.3,361.2 914.6,361.8 919.7,362.5 924.7,362 929.8,360.3 934.8,358.5 939.9,357.1 945.1,355.6 950,353.7 954.7,351.3 959.2,348.5 962.5,344.4 964.6,339.6 966.3,334.6 968.2,329.6 970.2,324.7 972.4,319.8 974.6,314.9 976.6,310 978.6,305 980.6,300 982.4,295 984.3,290 986.1,284.9 987.9,279.9 989.5,274.8 990.9,269.6 992.2,264.4 993.4,259.2 994.5,254 995.6,248.8 996.8,243.5 997.9,238.3 999,233.1 1000.1,227.8 1001.2,222.6 1002.2,217.3 1003.1,212 1003.9,206.8 1004.6,201.4 1005.3,196.1 1006,190.8 1006.6,185.5 1007.2,180.2 1007.8,174.9 1008,169.5" stroke="#17357f" stroke-width="2.4"/>
<path d="M716.9,401L720.7,397.2 724.6,393.4 728.4,389.7 731.7,385.5 734.3,380.9 736.9,376.2 739.6,371.6 742.8,367.5 746.9,365.6 751.6,364.7 756.9,364.6 762.3,364.8 767.7,365.1 773,365.7 778.3,366.6 783.6,367.6 788.9,368.5 794.2,369.5 799.5,370.2 804.8,370.8 810.2,371.3 815.5,371.9 820.9,372.6 826.1,373.6 831.3,375.1 836.3,377.1 841.2,379.3 845.5,382.4 848.7,379.8 852.5,376.5 857.5,374.7 862.8,373.5 868,372.4 873.3,371.2 878.5,370 883.7,368.6 888.8,367 893.9,365.4 899.1,364 904.3,362.9 909.7,362.6 915,363.3 920.2,363.8 925.2,363.1 930.2,361.3 935.2,359.5 940.4,358.2 945.6,356.7 950.6,354.7 955.2,352.3 959.6,349.3 963,345.2 965.2,340.4 967.1,335.4 969,330.5 971.1,325.5 973.3,320.6 975.5,315.7 977.6,310.8 979.6,305.8 981.6,300.8 983.5,295.7 985.3,290.7 987.2,285.6 988.9,280.5 990.5,275.4 991.9,270.2 993.1,265 994.3,259.7 995.4,254.5 996.5,249.2 997.6,243.9 998.7,238.7 999.8,233.4 1000.9,228.1 1002,222.9 1003,217.6 1004,212.3 1004.7,207 1005.4,201.6 1006.1,196.3 1006.8,190.9 1007.4,185.6 1008,180.3 1008.5,174.9 1008.7,169.5" stroke="#17357f" stroke-width="2.4"/>
<path d="M716.9,403.9L720.7,400.1 724.6,396.3 728.4,392.5 731.7,388.3 734.3,383.6 736.8,378.8 739.4,374.2 742.4,370 746.4,367.8 750.9,366.5 756.3,366.3 761.7,366.5 767.1,366.8 772.5,367.5 777.8,368.3 783.1,369.2 788.4,370.2 793.8,371.1 799.1,371.8 804.5,372.4 809.9,373 815.2,373.5 820.6,374.2 825.9,375.2 831.1,376.7 836.1,378.7 841,380.9 845.4,383.9 848.8,381.6 852.7,378.3 857.8,376.6 863.1,375.4 868.3,374.2 873.6,373 878.8,371.7 884,370.2 889.1,368.6 894.2,366.9 899.4,365.4 904.7,364.3 910.1,364 915.4,364.7 920.6,365.1 925.6,364.1 930.6,362.2 935.7,360.6 941,359.3 946.2,357.9 951.1,355.8 955.7,353.2 960.1,350.1 963.5,346 965.8,341.2 967.8,336.3 969.9,331.4 972,326.4 974.2,321.4 976.4,316.5 978.6,311.6 980.6,306.6 982.6,301.5 984.5,296.5 986.4,291.4 988.2,286.3 989.9,281.2 991.5,276 992.8,270.8 994,265.5 995.2,260.2 996.3,254.9 997.4,249.6 998.5,244.3 999.6,239 1000.7,233.8 1001.8,228.5 1002.8,223.2 1003.9,217.8 1004.8,212.5 1005.6,207.2 1006.2,201.8 1006.9,196.4 1007.5,191.1 1008.2,185.7 1008.8,180.3 1009.3,174.9 1009.5,169.5" stroke="#17357f" stroke-width="2.4"/>
<path d="M716.9,406.8L720.7,402.9 724.6,399.1 728.5,395.3 731.8,391.1 734.3,386.3 736.7,381.5 739.2,376.8 742.1,372.4 745.8,369.9 750.3,368.3 755.7,368 761.1,368.2 766.5,368.5 771.9,369.2 777.3,370 782.6,370.9 788,371.8 793.3,372.7 798.7,373.4 804.1,374.1 809.5,374.6 814.9,375.2 820.3,375.9 825.6,376.9 830.9,378.3 835.9,380.2 840.9,382.4 845.4,385.4 848.8,383.3 852.9,380.2 858,378.5 863.3,377.3 868.6,376.1 873.9,374.8 879.1,373.5 884.3,371.9 889.4,370.2 894.6,368.5 899.8,366.9 905,365.7 910.5,365.5 915.8,366.2 921.1,366.3 926,365.1 931,363.2 936.2,361.6 941.5,360.4 946.7,359 951.7,356.9 956.2,354.1 960.5,350.9 963.9,346.8 966.4,342 968.6,337.2 970.7,332.2 972.9,327.3 975.1,322.3 977.4,317.3 979.6,312.4 981.7,307.3 983.7,302.3 985.6,297.2 987.4,292.1 989.3,287 991,281.8 992.5,276.6 993.8,271.3 995,266 996.1,260.7 997.2,255.4 998.2,250.1 999.3,244.8 1000.4,239.4 1001.5,234.1 1002.6,228.8 1003.7,223.4 1004.7,218.1 1005.6,212.7 1006.4,207.4 1007.1,202 1007.7,196.6 1008.3,191.2 1008.9,185.8 1009.5,180.4 1010,175 1010.2,169.5" stroke="#17357f" stroke-width="2.4"/>
<path d="M716.9,409.7L720.7,405.8 724.6,401.9 728.5,398.1 731.8,393.9 734.2,389 736.5,384.1 739,379.3 741.8,374.9 745.3,372 749.7,370.1 755,369.7 760.5,369.9 765.9,370.3 771.4,370.9 776.8,371.7 782.2,372.6 787.5,373.5 792.9,374.4 798.3,375.1 803.8,375.7 809.2,376.3 814.6,376.9 820,377.5 825.4,378.5 830.7,379.9 835.8,381.8 840.8,384 845.3,386.9 848.9,385.1 853.1,382.1 858.3,380.4 863.6,379.1 868.9,377.9 874.2,376.6 879.5,375.2 884.6,373.5 889.8,371.8 894.9,370 900.1,368.3 905.4,367.1 910.9,366.9 916.3,367.6 921.5,367.6 926.4,366.1 931.5,364.2 936.7,362.7 942,361.5 947.3,360.1 952.2,357.9 956.7,355 961,351.7 964.4,347.6 967,342.9 969.4,338 971.6,333.1 973.8,328.1 976,323.1 978.3,318.2 980.5,313.2 982.7,308.1 984.7,303.1 986.6,298 988.5,292.8 990.3,287.7 992,282.5 993.4,277.2 994.7,271.9 995.9,266.6 997,261.2 998,255.9 999.1,250.5 1000.2,245.2 1001.3,239.8 1002.4,234.4 1003.4,229.1 1004.5,223.7 1005.5,218.4 1006.4,213 1007.2,207.6 1007.9,202.1 1008.5,196.7 1009.1,191.3 1009.7,185.9 1010.3,180.4 1010.8,175 1011,169.5" stroke="#17357f" stroke-width="2.4"/>
<path d="M716.9,412.5L720.7,408.6 724.5,404.7 728.5,400.9 731.8,396.7 734.2,391.8 736.4,386.8 738.8,381.9 741.4,377.3 744.7,374.1 749,371.8 754.4,371.5 759.9,371.7 765.4,372 770.8,372.6 776.3,373.4 781.7,374.3 787.1,375.1 792.5,376 797.9,376.7 803.4,377.4 808.9,377.9 814.3,378.5 819.8,379.2 825.2,380.1 830.5,381.5 835.6,383.4 840.7,385.5 845.2,388.5 849,386.8 853.3,384 858.6,382.3 863.9,381 869.2,379.7 874.5,378.4 879.8,376.9 885,375.2 890.1,373.3 895.3,371.5 900.4,369.8 905.8,368.5 911.2,368.4 916.7,369 922,368.9 926.8,367.1 931.9,365.2 937.2,363.8 942.5,362.6 947.8,361.2 952.8,359 957.2,355.9 961.4,352.5 964.9,348.3 967.7,343.7 970.1,338.9 972.4,334 974.7,329 977,324 979.2,319 981.5,314 983.7,308.9 985.7,303.8 987.7,298.7 989.6,293.5 991.4,288.4 993,283.1 994.4,277.8 995.7,272.5 996.8,267.1 997.9,261.7 998.9,256.3 1000,251 1001,245.6 1002.1,240.2 1003.2,234.8 1004.3,229.4 1005.3,224 1006.4,218.6 1007.3,213.2 1008,207.8 1008.7,202.3 1009.3,196.9 1009.9,191.4 1010.5,185.9 1011,180.5 1011.5,175 1011.7,169.5" stroke="#17357f" stroke-width="2.4"/>
<path d="M716.9,415.4L720.7,411.5 724.5,407.5 728.6,403.7 731.9,399.5 734.1,394.5 736.3,389.4 738.6,384.5 741.1,379.8 744.2,376.2 748.4,373.6 753.8,373.2 759.3,373.4 764.8,373.7 770.3,374.4 775.7,375.1 781.2,376 786.6,376.8 792.1,377.6 797.6,378.4 803,379 808.5,379.6 814,380.2 819.5,380.8 824.9,381.8 830.3,383.1 835.4,384.9 840.5,387.1 845.1,390 849,388.6 853.5,385.9 858.8,384.2 864.2,382.9 869.5,381.6 874.8,380.2 880.1,378.7 885.3,376.9 890.4,374.9 895.6,373 900.8,371.2 906.2,370 911.6,369.8 917.1,370.5 922.4,370.1 927.2,368.2 932.3,366.2 937.7,364.8 943,363.7 948.4,362.3 953.3,360 957.7,356.8 961.9,353.3 965.4,349.1 968.3,344.5 970.9,339.8 973.3,334.9 975.6,329.8 977.9,324.8 980.2,319.8 982.5,314.8 984.7,309.7 986.7,304.6 988.7,299.4 990.6,294.3 992.4,289 994,283.8 995.4,278.4 996.6,273.1 997.7,267.7 998.8,262.2 999.8,256.8 1000.8,251.4 1001.9,246 1003,240.6 1004,235.1 1005.1,229.7 1006.2,224.3 1007.2,218.9 1008.1,213.4 1008.8,208 1009.5,202.5 1010.1,197 1010.7,191.5 1011.2,186 1011.8,180.5 1012.3,175 1012.5,169.5" stroke="#17357f" stroke-width="2.4"/>
<path d="M716.9,418.3L720.7,414.3 724.5,410.3 728.6,406.6 731.9,402.2 734.1,397.2 736.2,392.1 738.4,387.1 740.8,382.2 743.6,378.3 747.7,375.4 753.2,374.9 758.7,375.1 764.2,375.4 769.7,376.1 775.2,376.8 780.7,377.6 786.2,378.4 791.7,379.3 797.2,380 802.7,380.6 808.2,381.2 813.7,381.8 819.2,382.5 824.7,383.4 830,384.7 835.3,386.5 840.4,388.6 845.1,391.5 849.1,390.3 853.8,387.7 859.1,386.1 864.4,384.8 869.8,383.4 875.1,382 880.4,380.4 885.6,378.5 890.8,376.5 895.9,374.5 901.1,372.7 906.5,371.4 912,371.2 917.5,371.9 922.9,371.4 927.7,369.2 932.8,367.1 938.1,365.9 943.6,364.8 948.9,363.4 953.9,361.1 958.2,357.8 962.3,354.1 965.9,349.9 968.9,345.4 971.7,340.6 974.2,335.7 976.5,330.7 978.8,325.6 981.1,320.6 983.4,315.6 985.7,310.5 987.8,305.4 989.8,300.2 991.7,295 993.4,289.7 995,284.4 996.4,279 997.5,273.6 998.6,268.2 999.7,262.7 1000.7,257.3 1001.7,251.8 1002.8,246.4 1003.8,240.9 1004.9,235.5 1005.9,230 1007,224.6 1008,219.2 1008.9,213.7 1009.7,208.2 1010.3,202.7 1010.9,197.1 1011.4,191.6 1012,186.1 1012.6,180.6 1013,175.1 1013.2,169.5" stroke="#17357f" stroke-width="2.4"/>
<path d="M716.9,421.2L720.7,417.2 724.5,413.1 728.6,409.4 731.9,405 734.1,399.9 736.1,394.8 738.2,389.6 740.4,384.7 743.1,380.4 747.1,377.2 752.5,376.6 758.1,376.8 763.7,377.2 769.2,377.8 774.7,378.5 780.2,379.3 785.7,380.1 791.3,380.9 796.8,381.6 802.3,382.3 807.9,382.9 813.4,383.5 818.9,384.1 824.4,385 829.8,386.3 835.1,388.1 840.3,390.1 845,393 849.2,392.1 854,389.6 859.3,388.1 864.7,386.7 870.1,385.3 875.5,383.8 880.8,382.1 886,380.2 891.1,378.1 896.3,376 901.5,374.1 906.9,372.8 912.4,372.7 918,373.4 923.3,372.7 928.1,370.2 933.2,368.1 938.6,366.9 944.1,365.9 949.5,364.6 954.4,362.1 958.7,358.7 962.7,354.9 966.4,350.7 969.5,346.2 972.4,341.5 975,336.6 977.4,331.6 979.7,326.5 982.1,321.4 984.4,316.4 986.7,311.3 988.8,306.1 990.8,300.9 992.7,295.7 994.5,290.4 996,285.1 997.4,279.6 998.5,274.2 999.6,268.7 1000.6,263.2 1001.6,257.8 1002.6,252.3 1003.6,246.8 1004.7,241.3 1005.7,235.8 1006.8,230.4 1007.8,224.9 1008.9,219.4 1009.8,213.9 1010.5,208.4 1011.1,202.8 1011.6,197.3 1012.2,191.7 1012.8,186.2 1013.3,180.6 1013.8,175.1 1013.9,169.5" stroke="#17357f" stroke-width="2.4"/>
<path d="M716.9,424.1L720.7,420 724.5,415.9 728.6,412.2 732,407.8 734,402.6 736,397.4 738,392.2 740.1,387.1 742.5,382.5 746.4,379 751.9,378.3 757.5,378.6 763.1,378.9 768.7,379.5 774.2,380.2 779.8,381 785.3,381.8 790.8,382.5 796.4,383.3 802,383.9 807.5,384.5 813.1,385.1 818.6,385.8 824.2,386.7 829.6,387.9 835,389.6 840.2,391.7 844.9,394.5 849.2,393.8 854.2,391.5 859.6,390 865,388.6 870.4,387.1 875.8,385.6 881.1,383.8 886.3,381.8 891.4,379.7 896.6,377.5 901.8,375.6 907.3,374.2 912.8,374.1 918.4,374.8 923.8,373.9 928.5,371.2 933.6,369.1 939.1,368 944.6,367 950,365.7 955,363.2 959.2,359.6 963.2,355.7 966.9,351.5 970.2,347 973.2,342.4 975.9,337.5 978.3,332.4 980.6,327.3 983,322.3 985.4,317.2 987.7,312.1 989.8,306.9 991.9,301.7 993.8,296.4 995.5,291.1 997.1,285.7 998.3,280.3 999.4,274.8 1000.5,269.3 1001.5,263.7 1002.5,258.2 1003.4,252.7 1004.5,247.2 1005.5,241.7 1006.5,236.2 1007.6,230.7 1008.7,225.2 1009.7,219.7 1010.6,214.1 1011.3,208.6 1011.9,203 1012.4,197.4 1013,191.9 1013.6,186.3 1014.1,180.7 1014.5,175.1 1014.7,169.5" stroke="#17357f" stroke-width="2.4"/>
<path d="M716.9,427L720.7,422.9 724.5,418.7 728.7,415 732,410.6 734,405.4 735.8,400.1 737.8,394.8 739.7,389.6 742,384.6 745.8,380.8 751.3,380.1 756.9,380.3 762.5,380.6 768.1,381.3 773.7,381.9 779.3,382.7 784.9,383.4 790.4,384.2 796,384.9 801.6,385.6 807.2,386.2 812.8,386.8 818.4,387.5 823.9,388.3 829.4,389.5 834.8,391.2 840,393.2 844.9,396 849.3,395.6 854.4,393.4 859.8,391.9 865.2,390.4 870.7,389 876.1,387.4 881.4,385.6 886.6,383.5 891.8,381.3 896.9,379 902.2,377 907.6,375.6 913.2,375.6 918.8,376.2 924.2,375.2 928.9,372.3 934.1,370.1 939.6,369 945.1,368.1 950.6,366.8 955.5,364.2 959.7,360.5 963.6,356.5 967.3,352.3 970.8,347.9 973.9,343.2 976.7,338.4 979.2,333.3 981.5,328.2 983.9,323.1 986.3,318 988.7,312.9 990.9,307.7 992.9,302.4 994.8,297.1 996.6,291.8 998.1,286.4 999.3,280.9 1000.4,275.3 1001.4,269.8 1002.4,264.3 1003.4,258.7 1004.3,253.2 1005.3,247.6 1006.4,242.1 1007.4,236.5 1008.4,231 1009.5,225.5 1010.5,219.9 1011.4,214.4 1012.1,208.8 1012.7,203.2 1013.2,197.6 1013.8,192 1014.3,186.4 1014.9,180.8 1015.3,175.1 1015.4,169.5" stroke="#17357f" stroke-width="2.4"/>
<path d="M716.9,429.9L720.7,425.7 724.5,421.6 728.7,417.8 732,413.4 734,408.1 735.7,402.7 737.6,397.4 739.4,392 741.4,386.7 745.1,382.6 750.7,381.8 756.3,382 761.9,382.3 767.6,383 773.2,383.7 778.8,384.4 784.4,385.1 790,385.8 795.6,386.5 801.2,387.2 806.9,387.9 812.5,388.5 818.1,389.1 823.7,389.9 829.2,391.1 834.6,392.8 839.9,394.8 844.8,397.5 849.3,397.3 854.6,395.3 860.1,393.8 865.5,392.3 871,390.8 876.4,389.2 881.7,387.3 886.9,385.1 892.1,382.8 897.3,380.5 902.5,378.4 908,377 913.6,377 919.2,377.7 924.7,376.5 929.3,373.3 934.5,371.1 940.1,370.1 945.6,369.2 951.1,367.9 956.1,365.3 960.2,361.4 964.1,357.3 967.8,353.1 971.4,348.7 974.7,344.1 977.6,339.2 980.1,334.1 982.4,329 984.9,323.9 987.3,318.8 989.7,313.6 991.9,308.4 994,303.2 995.9,297.8 997.6,292.5 999.1,287 1000.3,281.5 1001.3,275.9 1002.3,270.3 1003.3,264.8 1004.2,259.2 1005.2,253.6 1006.2,248 1007.2,242.5 1008.2,236.9 1009.3,231.3 1010.3,225.8 1011.4,220.2 1012.3,214.6 1013,209 1013.5,203.4 1014,197.7 1014.6,192.1 1015.1,186.5 1015.6,180.8 1016.1,175.2 1016.2,169.5" stroke="#17357f" stroke-width="2.4"/>
<path d="M717.4,394C719.4,386.5 725.5,362.8 729.2,349.1C733,335.4 736.8,320.4 739.9,311.7C743,303 745.7,299.5 747.9,296.7C750.2,293.9 751.1,294 753.3,294.8C755.5,295.5 758.2,297.9 761.3,301.2C764.5,304.5 767.6,309.9 772,314.7C776.5,319.4 782.8,325.7 788.1,329.6C793.5,333.6 797.9,335.9 804.2,338.6C810.4,341.4 818.4,343.6 825.6,346.1C832.7,348.6 842.5,353.1 847,353.6C851.5,354.1 847,349.8 852.4,349.1C857.7,348.3 870.2,350.1 879.1,349.1C888.1,348.1 898.8,342.9 905.9,343.3C913,343.6 917.5,350.6 922,351C926.4,351.5 926.4,347.8 932.7,346.1C938.9,344.4 953.2,343 959.4,341C965.7,339 968.4,335.3 970.2,334.1" stroke="#17357f" stroke-width="2.4"/>
<path d="M717.4,401.5C719.4,395.2 725.5,375.5 729.2,364.1C733,352.6 736.8,340.1 739.9,332.6C743,325.2 745.7,321.8 747.9,319.2C750.2,316.5 751.1,316.5 753.3,316.8C755.5,317 758.2,318.8 761.3,320.7C764.5,322.6 767.6,325.2 772,328.1C776.5,331.1 782.8,335.9 788.1,338.6C793.5,341.4 797.9,342.8 804.2,344.6C810.4,346.4 818.4,347.8 825.6,349.5C832.7,351.3 842.5,354.4 847,355.1C851.5,355.8 847,353.6 852.4,353.6C857.7,353.6 870.2,355.9 879.1,355.1C888.1,354.3 898.8,348.7 905.9,348.8C913,348.8 917.5,354.8 922,355.4C926.4,355.9 926.4,353.6 932.7,352.1C938.9,350.6 953.2,349 959.4,346.6C965.7,344.1 968.4,338.7 970.2,337.1" stroke="#17357f" stroke-width="2.4"/>
<path d="M717.4,409C719.4,402.7 725.5,382.8 729.2,371.5C733,360.3 736.8,348.3 739.9,341.6C743,334.9 745.7,333.1 747.9,331.1C750.2,329.2 751.1,329.7 753.3,329.9C755.5,330.2 758.2,331.2 761.3,332.6C764.5,334.1 767.6,336.4 772,338.6C776.5,340.9 782.8,344.1 788.1,346.1C793.5,348.1 797.9,348.8 804.2,350.6C810.4,352.3 818.4,354.6 825.6,356.6C832.7,358.6 842.5,362.1 847,362.6C851.5,363.1 847,360.3 852.4,359.6C857.7,358.8 870.2,359.1 879.1,358.1C888.1,357.1 901.4,354.3 905.9,353.6" stroke="#17357f" stroke-width="2.4"/>
<path d="M717.4,413.4C719.4,407.7 725.5,389.8 729.2,379C733,368.3 736.8,355.8 739.9,349.1C743,342.4 745.7,340.6 747.9,338.6C750.2,336.6 751.1,336.9 753.3,337.1C755.5,337.4 758.2,338.9 761.3,340.1C764.5,341.4 767.6,342.9 772,344.6C776.5,346.4 782.8,348.8 788.1,350.6C793.5,352.3 797.9,353.6 804.2,355.1C810.4,356.6 818.4,357.8 825.6,359.6C832.7,361.3 842.5,365.1 847,365.6C851.5,366.1 847,363.6 852.4,362.6C857.7,361.6 874.7,360.1 879.1,359.6" stroke="#17357f" stroke-width="2.4"/>
<path d="M717.4,349.1L719.4,342.7 721.3,336.2 723.2,329.8 725.2,323.4 727.3,317 729.4,310.6 731.6,304.2 734,298 736.9,291.9 740.4,286.2 744.7,281 750.3,277.4 756.9,276.8 763.6,277.7 770,279.6 776.4,281.8 782.7,284.1 788.9,286.6 795,289.3 801.1,292.2 807.1,295.3 812.9,298.5 818.8,301.9 824.7,305.1 830.6,308.2 836.3,311.7 841.2,316.3 845.8,321.2 851.5,324.8 857.9,326.7 864.6,327.7 871.2,328.4 877.9,328.8 884.7,328.9 891.4,328.6 898.1,328.4 904.8,328.9 911,331.1 916.6,334.9 922.5,337.9 928.5,335.4 935,334 941.8,334 948.5,334.2 955.2,334.3 961.9,334 968.6,333.5 975.3,332.7 981.7,330.8 987.4,327.4 991,321.8 993.3,315.4 994.8,308.9 996.1,302.3 997.3,295.7 998.6,289.1 999.9,282.5 1001.1,275.9 1002.3,269.3 1003.5,262.6 1004.7,256 1005.9,249.4 1007.2,242.8 1008.5,236.2 1009.8,229.6 1010.9,223 1012,216.4 1012.9,209.7 1013.6,203 1014.3,196.3 1014.9,189.6 1015.4,182.9 1016,176.2 1016.2,169.5" stroke="#000000" stroke-width="1.5"/>
<path d="M717.8,349.1L719.8,342.7 721.7,336.3 723.7,329.9 725.7,323.5 727.9,317.1 730,310.8 732.3,304.5 734.9,298.3 737.9,292.4 741.6,286.8 746.1,282 751.8,278.7 758.4,278.2 765,279.2 771.4,281.1 777.7,283.4 784,285.7 790.2,288.3 796.3,291 802.3,293.9 808.3,296.9 814.2,300.2 820,303.5 825.8,306.8 831.6,310.1 837.3,313.7 842.2,318.1 847.1,322.5 852.8,325.8 859.3,327.5 865.9,328.4 872.6,329 879.2,329.3 885.9,329.3 892.6,329 899.3,329 905.9,329.7 912.1,332.1 917.7,335.4 923.7,337.8 929.8,335.6 936.3,334.4 943,334.4 949.7,334.5 956.4,334.6 963,334.3 969.7,333.7 976.3,332.6 982.5,330.5 988.1,326.9 991.7,321.3 993.9,314.9 995.4,308.4 996.7,301.8 997.9,295.2 999.2,288.7 1000.5,282.1 1001.8,275.5 1003.1,269 1004.4,262.4 1005.6,255.8 1006.9,249.2 1008.1,242.6 1009.4,236 1010.6,229.4 1011.8,222.8 1012.8,216.2 1013.7,209.6 1014.5,202.9 1015.1,196.2 1015.7,189.6 1016.3,182.9 1016.9,176.2 1017.1,169.5" stroke="#000000" stroke-width="1.5"/>
<path d="M718.3,349.1L720.2,342.7 722.2,336.3 724.2,330 726.3,323.6 728.4,317.3 730.7,311 733.1,304.8 735.8,298.7 738.9,292.8 742.7,287.4 747.4,282.9 753.2,280 759.8,279.7 766.4,280.7 772.8,282.7 779.1,285 785.3,287.4 791.5,290 797.6,292.7 803.6,295.6 809.5,298.6 815.4,301.9 821.2,305.2 826.9,308.5 832.6,312 838.2,315.6 843.3,319.9 848.3,323.9 854.1,326.8 860.6,328.3 867.2,329.1 873.9,329.6 880.5,329.8 887.2,329.7 893.9,329.5 900.5,329.6 907,330.6 913.2,333 918.9,335.8 924.8,337.7 931,335.7 937.5,334.7 944.2,334.7 950.9,334.8 957.5,334.8 964.2,334.5 970.8,333.9 977.3,332.5 983.4,330.1 988.8,326.4 992.4,320.8 994.6,314.5 996.1,307.9 997.3,301.4 998.5,294.8 999.8,288.3 1001.2,281.7 1002.6,275.2 1004,268.6 1005.3,262.1 1006.6,255.5 1007.8,249 1009.1,242.4 1010.3,235.8 1011.5,229.3 1012.6,222.7 1013.7,216.1 1014.6,209.5 1015.3,202.8 1016,196.2 1016.6,189.5 1017.2,182.8 1017.8,176.2 1018,169.5" stroke="#000000" stroke-width="1.5"/>
<path d="M718.7,349.1L720.7,342.7 722.7,336.4 724.7,330 726.8,323.7 729,317.4 731.4,311.2 733.8,305 736.6,299 739.9,293.3 743.9,288 748.8,283.9 754.7,281.3 761.3,281.1 767.8,282.3 774.2,284.3 780.4,286.6 786.6,289.1 792.7,291.7 798.8,294.4 804.8,297.3 810.8,300.3 816.6,303.5 822.4,306.8 828.1,310.3 833.6,313.8 839.2,317.5 844.3,321.6 849.5,325.2 855.5,327.8 862,329.1 868.6,329.9 875.2,330.3 881.8,330.3 888.5,330.2 895.1,329.9 901.8,330.1 908.2,331.4 914.2,334 920,336.3 926,337.6 932.2,335.9 938.7,335.1 945.4,335.1 952,335.2 958.7,335.1 965.4,334.8 971.9,334 978.3,332.5 984.3,329.8 989.5,325.9 993.1,320.3 995.2,314 996.7,307.5 997.9,300.9 999.1,294.4 1000.4,287.8 1001.9,281.3 1003.3,274.8 1004.8,268.3 1006.2,261.8 1007.5,255.3 1008.8,248.8 1010,242.2 1011.2,235.7 1012.4,229.1 1013.5,222.5 1014.5,215.9 1015.4,209.3 1016.1,202.7 1016.8,196.1 1017.5,189.4 1018.1,182.8 1018.7,176.2 1018.9,169.5" stroke="#000000" stroke-width="1.5"/>
<path d="M719.1,349.1L721.1,342.8 723.2,336.4 725.2,330.1 727.4,323.8 729.6,317.6 732,311.4 734.6,305.3 737.5,299.4 740.9,293.7 745.1,288.7 750.2,284.9 756.2,282.6 762.8,282.6 769.3,283.8 775.6,285.8 781.8,288.2 787.9,290.8 794,293.4 800.1,296.1 806.1,299 812,302 817.8,305.2 823.6,308.5 829.2,312 834.6,315.7 840.1,319.5 845.3,323.4 850.8,326.6 856.8,328.8 863.3,330 869.9,330.6 876.5,330.9 883.1,330.9 889.8,330.6 896.4,330.3 903,330.7 909.3,332.3 915.3,334.9 921.1,336.7 927.2,337.5 933.4,336.1 940,335.4 946.6,335.4 953.2,335.5 959.9,335.4 966.5,335.1 973.1,334.2 979.3,332.4 985.1,329.5 990.2,325.4 993.7,319.8 995.9,313.5 997.3,307 998.4,300.5 999.7,293.9 1001.1,287.4 1002.6,281 1004.1,274.5 1005.6,268 1007,261.6 1008.4,255.1 1009.7,248.5 1011,242 1012.2,235.5 1013.3,228.9 1014.4,222.4 1015.3,215.8 1016.2,209.2 1017,202.6 1017.7,196 1018.3,189.4 1018.9,182.8 1019.5,176.1 1019.8,169.5" stroke="#000000" stroke-width="1.5"/>
<path d="M719.5,349.1L721.6,342.8 723.6,336.5 725.7,330.2 727.9,324 730.2,317.8 732.7,311.6 735.4,305.6 738.4,299.7 741.9,294.2 746.2,289.3 751.6,285.8 757.7,283.9 764.2,284 770.7,285.4 777,287.4 783.2,289.8 789.2,292.4 795.3,295.1 801.3,297.8 807.3,300.6 813.2,303.7 819,306.8 824.8,310.2 830.3,313.7 835.6,317.6 841,321.4 846.4,325.1 852,327.9 858.1,329.8 864.6,330.8 871.2,331.3 877.8,331.5 884.4,331.4 891,331 897.6,330.7 904.2,331.2 910.4,333.1 916.4,335.9 922.3,337.2 928.3,337.5 934.7,336.3 941.2,335.8 947.8,335.8 954.4,335.8 961,335.7 967.7,335.4 974.2,334.4 980.3,332.3 986,329.2 990.9,324.9 994.4,319.3 996.5,313 997.9,306.5 999,300 1000.2,293.5 1001.7,287 1003.2,280.6 1004.8,274.2 1006.4,267.7 1007.9,261.3 1009.3,254.8 1010.7,248.3 1011.9,241.8 1013.1,235.3 1014.2,228.8 1015.2,222.2 1016.2,215.7 1017.1,209.1 1017.8,202.5 1018.5,195.9 1019.2,189.3 1019.8,182.7 1020.4,176.1 1020.7,169.5" stroke="#000000" stroke-width="1.5"/>
<path d="M719.9,349.1L722,342.8 724.1,336.6 726.2,330.3 728.5,324.1 730.8,317.9 733.3,311.8 736.1,305.8 739.2,300.1 742.9,294.6 747.4,289.9 753,286.8 759.2,285.2 765.7,285.5 772.1,286.9 778.4,289 784.5,291.4 790.5,294.1 796.6,296.8 802.6,299.5 808.6,302.3 814.4,305.3 820.2,308.5 826,311.8 831.4,315.5 836.6,319.5 842,323.3 847.4,326.9 853.3,329.3 859.5,330.8 866,331.6 872.6,332 879.2,332.1 885.7,331.9 892.3,331.5 898.9,331.2 905.4,331.8 911.5,333.9 917.4,336.8 923.4,337.6 929.5,337.4 935.9,336.5 942.4,336.1 949,336.2 955.6,336.1 962.2,336 968.8,335.7 975.3,334.5 981.3,332.2 986.9,328.8 991.6,324.4 995.1,318.8 997.2,312.5 998.5,306.1 999.6,299.5 1000.8,293.1 1002.3,286.6 1003.9,280.2 1005.6,273.8 1007.2,267.4 1008.8,261 1010.3,254.6 1011.6,248.1 1012.8,241.6 1014,235.1 1015.1,228.6 1016.1,222.1 1017,215.5 1017.9,209 1018.7,202.4 1019.4,195.8 1020.1,189.3 1020.7,182.7 1021.3,176.1 1021.6,169.5" stroke="#000000" stroke-width="1.5"/>
<path d="M720.3,349.1L722.4,342.9 724.6,336.6 726.7,330.4 729,324.2 731.4,318.1 734,312 736.9,306.1 740.1,300.4 743.9,295.1 748.6,290.5 754.3,287.8 760.6,286.5 767.2,286.9 773.6,288.4 779.8,290.5 785.9,293 791.9,295.8 797.8,298.5 803.8,301.2 809.8,304 815.7,307 821.5,310.1 827.2,313.5 832.5,317.2 837.6,321.3 842.9,325.3 848.4,328.6 854.5,330.6 860.8,331.8 867.3,332.4 873.9,332.7 880.5,332.7 887,332.4 893.6,331.9 900.2,331.6 906.7,332.3 912.7,334.8 918.5,337.8 924.5,338.1 930.7,337.3 937.1,336.6 943.6,336.4 950.2,336.5 956.8,336.5 963.4,336.3 970,335.9 976.4,334.7 982.4,332.1 987.7,328.5 992.3,323.9 995.7,318.3 997.8,312 999.2,305.6 1000.2,299.1 1001.4,292.6 1002.9,286.2 1004.6,279.8 1006.3,273.5 1008,267.1 1009.7,260.7 1011.2,254.3 1012.5,247.9 1013.8,241.4 1014.9,234.9 1015.9,228.4 1016.9,221.9 1017.9,215.4 1018.7,208.8 1019.5,202.3 1020.2,195.8 1020.9,189.2 1021.6,182.6 1022.2,176.1 1022.4,169.5" stroke="#000000" stroke-width="1.5"/>
<path d="M720.8,349.1L722.9,342.9 725,336.7 727.2,330.5 729.5,324.3 732,318.3 734.7,312.2 737.6,306.4 741,300.8 744.9,295.5 749.7,291.2 755.7,288.7 762.1,287.8 768.6,288.4 775,290 781.2,292.1 787.2,294.6 793.2,297.4 799.1,300.2 805.1,302.9 811.1,305.7 816.9,308.7 822.7,311.8 828.3,315.1 833.7,318.9 838.6,323.2 843.8,327.2 849.5,330.4 855.7,331.9 862.1,332.8 868.7,333.2 875.2,333.4 881.8,333.4 888.3,332.9 894.9,332.3 901.4,332 907.9,332.9 913.8,335.6 919.5,338.7 925.7,338.5 931.8,337.2 938.3,336.8 944.9,336.8 951.4,336.9 958,336.8 964.6,336.6 971.1,336.2 977.5,334.9 983.4,332.1 988.6,328.2 993,323.4 996.4,317.8 998.5,311.6 999.8,305.1 1000.8,298.6 1002,292.2 1003.5,285.8 1005.3,279.5 1007.1,273.1 1008.9,266.8 1010.6,260.5 1012.1,254.1 1013.5,247.7 1014.7,241.2 1015.8,234.7 1016.8,228.2 1017.8,221.7 1018.7,215.2 1019.6,208.7 1020.3,202.2 1021.1,195.7 1021.8,189.1 1022.5,182.6 1023.1,176.1 1023.3,169.5" stroke="#000000" stroke-width="1.5"/>
<path d="M721.2,349.1L723.3,342.9 725.5,336.7 727.7,330.6 730.1,324.5 732.6,318.4 735.3,312.5 738.4,306.7 741.9,301.1 745.9,296 750.9,291.8 757.1,289.7 763.6,289.1 770.1,289.8 776.4,291.5 782.6,293.7 788.6,296.2 794.5,299.1 800.4,301.9 806.4,304.6 812.3,307.4 818.1,310.4 823.9,313.5 829.5,316.8 834.8,320.7 839.6,325.1 844.8,329.2 850.5,332.2 857,333.3 863.5,333.8 870,334 876.6,334.1 883.1,334 889.6,333.4 896.1,332.7 902.7,332.4 909.1,333.4 914.9,336.5 920.6,339.7 926.8,339 933,337.1 939.6,337 946.1,337.1 952.6,337.2 959.2,337.1 965.7,336.9 972.3,336.5 978.6,335.1 984.4,332 989.4,327.8 993.7,322.9 997.1,317.3 999.1,311.1 1000.4,304.7 1001.4,298.2 1002.6,291.7 1004.2,285.4 1006,279.1 1007.8,272.8 1009.7,266.5 1011.4,260.2 1013,253.9 1014.4,247.5 1015.6,241 1016.7,234.6 1017.7,228.1 1018.6,221.6 1019.5,215.1 1020.4,208.6 1021.2,202.1 1021.9,195.6 1022.6,189.1 1023.3,182.6 1024,176.1 1024.2,169.5" stroke="#000000" stroke-width="1.5"/>
<path d="M717.4,349.1C718.9,340.4 723.2,314.2 726.5,296.7C729.8,279.3 734.1,256.8 737.2,244.3C740.4,231.9 743,226.5 745.3,221.9C747.5,217.3 748.8,217.2 750.6,216.7C752.4,216.2 753.7,216 756,218.9C758.2,221.8 761.3,228.4 764,233.9C766.7,239.4 768.9,245.8 772,251.8C775.2,257.8 779.2,264.8 782.8,269.8C786.3,274.8 791.7,279.8 793.5,281.8" stroke="#000000" stroke-width="1.6"/>
<path d="M718,341.6C719.4,334.1 723.3,310.4 726.5,296.7C729.7,283 734.1,268.8 737.2,259.3C740.4,249.8 743,244.3 745.3,239.9C747.5,235.4 748.8,233.5 750.6,232.4C752.4,231.2 753.7,231.4 756,233.1C758.2,234.9 761.3,239 764,242.8C766.7,246.7 768.9,251.8 772,256.3C775.2,260.8 779.2,265.5 782.8,269.8C786.3,274 791.7,279.8 793.5,281.8" stroke="#000000" stroke-width="1.6"/>
<path d="M713.1,229.4 713.5,229.4 713.7,229.3 714.1,229.3 714.9,229.4 716.3,229.7 718.5,230.4 721.7,231.5 725.8,233 730.5,234.7 735.6,236.6 740.6,238.6 745.3,240.6 749.7,242.7 754.2,244.9 758.7,247.2 763.1,249.7 767.6,252.2 772,254.8 776.5,257.6 781,260.4 785.4,263.4 789.9,266.5 794.4,269.6 798.8,272.8 803.3,276 807.7,279.3 812.2,282.7 816.7,286.2 821.1,289.5 825.6,292.8 830,296.1 834.5,299.3 839,302.4 843.4,305.6 847.9,308.7 852.4,311.7 856.8,314.7 861.3,317.7 865.7,320.6 870.2,323.5 874.7,326.3 879.1,329.1 883.6,331.8 888.1,334.4 892.5,337 897,339.6 901.4,342.3 905.9,345.1 910.4,348.1 914.8,351.3 919.3,354.5 923.7,357.8 928.2,361 932.7,364.1 937.1,367 941.6,369.9 946.1,372.7 950.5,375.4 955,378.2 959.4,381 963.9,383.8 968.4,386.5 972.8,389.2 977.3,392 981.8,394.8 986.2,397.7 990.7,400.9 995.1,404.2 999.6,407.6 1004.1,410.9 1008.5,413.9 1013,416.4 1017.4,418.5 1021.9,420.2 1026.4,421.7 1030.8,422.9 1035.3,423.9 1039.8,424.8 1044.2,425.5 1048.7,426 1053.1,426.3 1057.6,426.5 1062.1,426.5 1066.5,426.5 1071.2,426.3 1076.2,425.8 1081.3,425.3 1086,424.8 1090.1,424.3 1093.3,423.9 1095.5,423.7 1096.9,423.6 1097.7,423.6 1098.1,423.6 1098.3,423.6 1098.7,423.6 1098.7,431.1 1098.3,431.1 1098.1,431.1 1097.7,431.1 1096.9,431.2 1095.5,431.3 1093.3,431.4 1090.1,431.7 1086,432 1081.3,432.4 1076.2,432.8 1071.2,433.2 1066.5,433.4 1062.1,433.5 1057.6,433.5 1053.1,433.5 1048.7,433.4 1044.2,433.1 1039.8,432.6 1035.3,431.9 1030.8,431.1 1026.4,430 1021.9,428.8 1017.4,427.3 1013,425.4 1008.5,423.1 1004.1,420.4 999.6,417.4 995.1,414.2 990.7,411.1 986.2,408.2 981.8,405.5 977.3,402.7 972.8,400.1 968.4,397.4 963.9,394.7 959.4,392 955,389.4 950.5,386.8 946.1,384.2 941.6,381.5 937.1,378.8 932.7,376 928.2,373.1 923.7,370 919.3,366.8 914.8,363.6 910.4,360.5 905.9,357.6 901.4,354.9 897,352.3 892.5,349.8 888.1,347.3 883.6,344.8 879.1,342.1 874.7,339.4 870.2,336.6 865.7,333.8 861.3,331 856.8,328.1 852.4,325.1 847.9,322.1 843.4,319.1 839,316 834.5,312.9 830,309.7 825.6,306.6 821.1,303.5 816.7,300.3 812.2,297.1 807.7,294 803.3,290.8 798.8,287.7 794.4,284.7 789.9,281.5 785.4,278.5 781,275.5 776.5,272.5 772,269.8 767.6,267.2 763.1,264.6 758.7,262.2 754.2,259.9 749.7,257.7 745.3,255.6 740.6,253.5 735.6,251.5 730.5,249.7 725.8,248 721.7,246.5 718.5,245.4 716.3,244.7 714.9,244.3 714.1,244.2 713.7,244.3 713.5,244.4 713.1,244.3Z" fill="#dc1529" stroke="#dc1529" stroke-width="0.6"/>
<path d="M716.9,383.5L717.4,378.2 717.9,372.9 718.4,367.6 719,362.3 719.5,357 720.1,351.7 720.6,346.3 721.2,341 721.9,335.8 722.6,330.5 723.3,325.2 724.1,319.9 724.9,314.6 725.7,309.3 726.6,304.1 727.4,298.8 728.3,293.5 729.2,288.3 730.2,283 731.2,277.8 732.3,272.6 733.6,267.4 735,262.2 736.6,257.2 738.4,252.2 740.7,247.3 743.5,242.8 747.2,239 752,236.8 757.3,237 762.3,238.8 766.6,242 770.3,245.8 774.3,249.3 778.3,252.8 782.4,256.3 786.5,259.6 790.9,262.8 795.3,265.6 799.9,268.5 804.3,271.4 808.7,274.5 813,277.6 817.2,280.9 821.4,284.2 825.5,287.5 829.6,291 833.7,294.4 837.6,298 841.2,301.9 844.9,305.8 849.7,307.7 855,307.1 860.1,308.2 864.6,311.1 869.4,313.5 874.6,314.3 879.9,314.8 885.2,315.4 890.5,316 895.8,316.1 901,314.8 906.2,314.3 911.3,315.9 916.2,317.9 921.3,319.7 926.5,320.4 931.8,320.2 937.2,320.3 942.5,320.4 947.8,320.6 953.1,321.5 958.3,322.4 963.6,322 968.9,321 974,319.7 978.9,317.5 983.1,314.3 987.7,311.6 991.8,308.3 994.9,303.9 997.8,299.4 1000.4,294.8 1002.8,290 1004.7,285.1 1006.2,279.9 1007.4,274.7 1008.7,269.6 1010,264.4 1011.2,259.2 1012.4,254 1013.4,248.8 1014.4,243.5 1015.3,238.2 1016.2,233 1017.2,227.7 1018.2,222.5 1019.2,217.2 1020,212 1020.7,206.7 1021.4,201.4 1022,196.1 1022.6,190.8 1023.1,185.5 1023.6,180.2 1024.1,174.9 1024.2,169.5" stroke="#dc1529" stroke-width="2.2"/>
<path d="M717.1,383.5L717.7,378.2 718.2,372.9 718.7,367.6 719.3,362.3 719.8,357 720.4,351.7 721,346.4 721.6,341.1 722.3,335.8 723,330.6 723.8,325.3 724.5,320 725.3,314.7 726.2,309.5 727,304.2 727.9,299 728.8,293.7 729.8,288.5 730.9,283.3 732,278.1 733.2,272.9 734.6,267.8 736.2,262.8 738,258 740,253.4 742.4,248.9 745.4,244.9 749.1,241.4 753.8,239.5 759.1,239.9 764,241.8 768.4,244.9 772.2,248.5 776.2,252 780.3,255.4 784.4,258.8 788.6,262.1 792.9,265.2 797.3,268.1 801.9,270.9 806.3,273.9 810.6,277 814.8,280.2 819,283.5 823.1,286.9 827.3,290.1 831.4,293.5 835.5,296.8 839.5,300.3 843.2,304.1 847,307.8 851.8,309.7 857.1,309.1 862.2,310.2 866.7,312.9 871.5,315.1 876.7,316 882,316.6 887.2,317.4 892.5,317.9 897.8,317.9 902.9,316.6 908.2,316.1 913.3,317.6 918.2,319.5 923.2,321.2 928.5,321.8 933.8,321.6 939.1,321.7 944.5,321.8 949.8,322 955,322.7 960.1,323.3 965.3,322.7 970.5,321.6 975.5,320 980.2,317.7 984.4,314.4 988.8,311.6 992.8,308.2 995.8,303.9 998.6,299.3 1001.2,294.7 1003.5,289.9 1005.4,284.9 1006.9,279.8 1008.1,274.6 1009.4,269.4 1010.7,264.3 1011.9,259.1 1013,253.9 1014.1,248.6 1015.1,243.4 1016,238.2 1016.9,232.9 1017.9,227.7 1018.9,222.4 1019.8,217.2 1020.6,211.9 1021.4,206.6 1022,201.4 1022.6,196.1 1023.2,190.8 1023.7,185.5 1024.2,180.2 1024.7,174.8 1024.8,169.5" stroke="#dc1529" stroke-width="2.2"/>
<path d="M717.4,383.5L718,378.2 718.5,372.9 719,367.6 719.6,362.3 720.2,357.1 720.7,351.8 721.4,346.5 722,341.2 722.7,335.9 723.4,330.7 724.2,325.4 725,320.1 725.8,314.9 726.6,309.6 727.5,304.4 728.4,299.1 729.4,293.9 730.4,288.7 731.6,283.5 732.8,278.4 734.1,273.3 735.6,268.2 737.4,263.4 739.4,258.8 741.6,254.6 744.2,250.6 747.2,247 750.9,243.9 755.6,242.3 760.9,242.8 765.8,244.7 770.1,247.7 774,251.3 778.1,254.7 782.2,258.1 786.3,261.3 790.6,264.5 794.9,267.6 799.4,270.5 803.8,273.4 808.2,276.4 812.5,279.5 816.7,282.8 820.7,286.2 824.8,289.6 829,292.8 833.2,296 837.3,299.3 841.4,302.7 845.1,306.3 849,309.8 853.9,311.6 859.1,311.1 864.2,312.2 868.8,314.7 873.6,316.8 878.8,317.7 884,318.5 889.2,319.3 894.5,319.8 899.8,319.7 904.9,318.4 910.1,317.9 915.2,319.3 920.2,321.1 925.2,322.7 930.5,323.2 935.8,323.1 941.1,323.1 946.4,323.1 951.7,323.3 956.9,323.9 961.9,324.2 967,323.4 972.1,322.1 977,320.4 981.6,318 985.6,314.6 989.9,311.7 993.8,308.2 996.8,303.8 999.5,299.2 1002,294.5 1004.3,289.7 1006.1,284.8 1007.6,279.6 1008.8,274.5 1010,269.3 1011.3,264.1 1012.6,259 1013.7,253.8 1014.8,248.5 1015.7,243.3 1016.7,238.1 1017.6,232.8 1018.6,227.6 1019.5,222.4 1020.5,217.1 1021.3,211.9 1022,206.6 1022.7,201.3 1023.3,196 1023.8,190.7 1024.4,185.4 1024.9,180.1 1025.3,174.8 1025.5,169.5" stroke="#dc1529" stroke-width="2.2"/>
<path d="M717.6,383.5L718.2,378.2 718.8,373 719.3,367.7 719.9,362.4 720.5,357.1 721.1,351.8 721.7,346.5 722.4,341.3 723.1,336 723.8,330.7 724.6,325.5 725.4,320.2 726.2,315 727.1,309.7 728,304.5 728.9,299.3 729.9,294.1 731,288.9 732.3,283.8 733.6,278.7 735,273.6 736.7,268.7 738.6,263.9 740.8,259.6 743.2,255.7 745.9,252.2 749,249 752.7,246.4 757.5,245 762.6,245.7 767.6,247.6 771.9,250.6 775.8,254.1 780,257.4 784.1,260.7 788.3,263.9 792.6,267 796.9,270 801.4,272.9 805.8,275.8 810.2,278.9 814.4,282 818.5,285.4 822.5,288.8 826.5,292.3 830.7,295.4 835,298.5 839.2,301.7 843.3,305 847.1,308.5 851,311.8 855.9,313.6 861.2,313.1 866.3,314.1 870.9,316.4 875.7,318.4 880.9,319.5 886.1,320.3 891.3,321.2 896.5,321.8 901.7,321.5 906.8,320.2 912.1,319.7 917.2,321.1 922.2,322.7 927.2,324.2 932.5,324.7 937.8,324.5 943.1,324.5 948.4,324.5 953.7,324.7 958.8,325 963.8,325.1 968.7,324.1 973.7,322.6 978.5,320.8 982.9,318.2 986.9,314.7 991,311.7 994.8,308.1 997.7,303.7 1000.4,299.1 1002.8,294.4 1005.1,289.6 1006.9,284.6 1008.3,279.5 1009.5,274.3 1010.7,269.2 1012,264 1013.2,258.8 1014.4,253.6 1015.5,248.4 1016.4,243.2 1017.3,238 1018.3,232.7 1019.2,227.5 1020.2,222.3 1021.1,217.1 1022,211.8 1022.7,206.5 1023.3,201.3 1023.9,196 1024.5,190.7 1025,185.4 1025.5,180.1 1025.9,174.8 1026.1,169.5" stroke="#dc1529" stroke-width="2.2"/>
<path d="M717.9,383.5L718.5,378.2 719.1,373 719.6,367.7 720.2,362.4 720.8,357.1 721.4,351.9 722.1,346.6 722.8,341.3 723.5,336.1 724.2,330.8 725,325.6 725.8,320.3 726.6,315.1 727.5,309.9 728.4,304.6 729.4,299.4 730.4,294.2 731.6,289.1 732.9,284 734.4,279 735.9,274 737.7,269.1 739.8,264.5 742.2,260.5 744.8,256.9 747.7,253.8 750.8,251.1 754.6,248.9 759.3,247.8 764.4,248.6 769.3,250.6 773.7,253.5 777.7,256.9 781.9,260.1 786,263.3 790.3,266.4 794.6,269.5 799,272.5 803.4,275.4 807.8,278.3 812.1,281.3 816.3,284.6 820.4,287.9 824.2,291.5 828.2,295 832.5,298 836.8,301 841,304.1 845.1,307.3 849.1,310.7 853.1,313.9 858,315.5 863.2,315.1 868.4,316.1 873,318.2 877.9,320.1 883,321.2 888.1,322.1 893.3,323.2 898.5,323.7 903.7,323.3 908.8,322 914,321.6 919.2,322.8 924.1,324.4 929.2,325.6 934.5,326.1 939.7,325.9 945,325.9 950.3,325.9 955.6,326 960.8,326.2 965.6,326 970.4,324.7 975.3,323.2 980,321.1 984.3,318.4 988.1,314.9 992.1,311.7 995.8,308.1 998.6,303.6 1001.2,299 1003.6,294.3 1005.8,289.5 1007.6,284.5 1009,279.4 1010.1,274.2 1011.4,269 1012.7,263.9 1013.9,258.7 1015.1,253.5 1016.1,248.3 1017.1,243.1 1018,237.9 1018.9,232.7 1019.9,227.4 1020.9,222.2 1021.8,217 1022.6,211.8 1023.3,206.5 1023.9,201.2 1024.5,196 1025.1,190.7 1025.6,185.4 1026.1,180.1 1026.5,174.8 1026.7,169.5" stroke="#dc1529" stroke-width="2.2"/>
<path d="M718.2,383.5L718.8,378.3 719.3,373 719.9,367.7 720.5,362.5 721.2,357.2 721.8,351.9 722.4,346.7 723.1,341.4 723.9,336.2 724.6,330.9 725.4,325.7 726.2,320.5 727.1,315.2 728,310 728.9,304.8 729.9,299.6 731,294.4 732.2,289.3 733.6,284.2 735.2,279.2 736.8,274.3 738.7,269.5 741,265 743.6,261.3 746.4,258.1 749.4,255.4 752.6,253.2 756.4,251.3 761.1,250.6 766.2,251.5 771.1,253.5 775.5,256.4 779.5,259.7 783.7,262.8 788,265.9 792.3,269 796.6,271.9 801,274.9 805.4,277.8 809.8,280.7 814.1,283.8 818.3,287.1 822.2,290.5 826,294.1 829.9,297.7 834.2,300.6 838.5,303.5 842.8,306.5 847,309.6 851,312.9 855.1,315.9 860,317.5 865.3,317.1 870.4,318.1 875.1,320 880,321.7 885.1,322.9 890.2,324 895.3,325.1 900.5,325.6 905.7,325.1 910.8,323.7 916,323.4 921.1,324.5 926.1,326 931.2,327.1 936.4,327.5 941.7,327.3 947,327.3 952.3,327.3 957.6,327.3 962.7,327.4 967.4,326.9 972.1,325.4 977,323.7 981.5,321.5 985.7,318.6 989.4,315 993.3,311.7 996.8,308 999.6,303.5 1002.1,298.9 1004.5,294.2 1006.6,289.3 1008.3,284.3 1009.7,279.2 1010.8,274 1012.1,268.9 1013.3,263.8 1014.6,258.6 1015.7,253.4 1016.8,248.2 1017.8,243 1018.7,237.8 1019.6,232.6 1020.6,227.4 1021.6,222.2 1022.5,216.9 1023.3,211.7 1024,206.5 1024.6,201.2 1025.2,195.9 1025.7,190.6 1026.2,185.4 1026.7,180.1 1027.1,174.8 1027.3,169.5" stroke="#dc1529" stroke-width="2.2"/>
<path d="M718.4,383.5L719,378.3 719.6,373 720.2,367.8 720.9,362.5 721.5,357.2 722.1,352 722.8,346.7 723.5,341.5 724.3,336.3 725,331 725.8,325.8 726.7,320.6 727.5,315.4 728.4,310.1 729.4,304.9 730.4,299.7 731.5,294.6 732.8,289.5 734.3,284.5 736,279.5 737.7,274.6 739.8,269.9 742.2,265.6 745,262.1 748,259.3 751.1,257 754.4,255.3 758.3,253.8 763,253.3 768,254.4 772.9,256.4 777.3,259.3 781.4,262.5 785.6,265.5 789.9,268.6 794.2,271.5 798.6,274.4 803,277.3 807.4,280.2 811.8,283.2 816,286.3 820.2,289.6 824.1,293.1 827.7,296.8 831.6,300.4 835.9,303.2 840.3,306 844.6,309 848.9,312 853,315.1 857.2,317.9 862.1,319.4 867.3,319.1 872.5,320 877.2,321.8 882.1,323.4 887.2,324.6 892.2,325.8 897.3,327.1 902.5,327.6 907.6,326.9 912.7,325.5 917.9,325.2 923.1,326.3 928.1,327.6 933.2,328.6 938.4,328.9 943.7,328.7 949,328.7 954.3,328.7 959.5,328.7 964.6,328.6 969.2,327.8 973.8,326.1 978.6,324.2 983,321.9 987,318.9 990.6,315.2 994.4,311.8 997.8,307.9 1000.5,303.4 1003,298.8 1005.3,294 1007.4,289.2 1009,284.2 1010.4,279.1 1011.5,273.9 1012.7,268.8 1014,263.6 1015.3,258.5 1016.4,253.3 1017.5,248.1 1018.4,242.9 1019.4,237.7 1020.3,232.5 1021.3,227.3 1022.2,222.1 1023.1,216.9 1023.9,211.7 1024.6,206.4 1025.2,201.1 1025.8,195.9 1026.3,190.6 1026.9,185.4 1027.3,180.1 1027.8,174.8 1027.9,169.5" stroke="#dc1529" stroke-width="2.2"/>
<path d="M718.7,383.5L719.3,378.3 719.9,373 720.5,367.8 721.2,362.5 721.8,357.3 722.5,352 723.2,346.8 723.9,341.6 724.6,336.3 725.4,331.1 726.2,325.9 727.1,320.7 728,315.5 728.9,310.3 729.8,305.1 730.9,299.9 732,294.7 733.4,289.7 735,284.7 736.7,279.8 738.6,275 740.8,270.3 743.4,266.2 746.5,263 749.6,260.5 752.9,258.7 756.2,257.3 760.1,256.3 764.8,256.1 769.8,257.3 774.6,259.3 779.1,262.1 783.2,265.3 787.5,268.2 791.8,271.2 796.2,274 800.6,276.9 805,279.7 809.4,282.7 813.8,285.7 818,288.8 822.1,292.1 825.9,295.7 829.5,299.4 833.3,303.1 837.7,305.8 842.1,308.5 846.5,311.4 850.8,314.3 854.9,317.2 859.2,319.9 864.2,321.4 869.4,321.1 874.5,322 879.3,323.5 884.2,325 889.3,326.4 894.3,327.7 899.3,329 904.5,329.5 909.6,328.7 914.7,327.3 919.9,327 925,328 930.1,329.2 935.2,330.1 940.4,330.4 945.7,330.2 951,330.1 956.2,330 961.5,330 966.5,329.8 971,328.7 975.5,326.8 980.2,324.8 984.5,322.2 988.4,319.1 991.9,315.3 995.5,311.8 998.8,307.9 1001.4,303.3 1003.9,298.7 1006.1,293.9 1008.1,289.1 1009.8,284 1011,278.9 1012.2,273.8 1013.4,268.6 1014.7,263.5 1015.9,258.4 1017.1,253.2 1018.2,248 1019.1,242.8 1020,237.6 1021,232.4 1021.9,227.2 1022.9,222 1023.8,216.8 1024.6,211.6 1025.3,206.4 1025.9,201.1 1026.4,195.9 1027,190.6 1027.5,185.3 1028,180.1 1028.4,174.8 1028.5,169.5" stroke="#dc1529" stroke-width="2.2"/>
<path d="M718.9,383.5L719.6,378.3 720.2,373 720.8,367.8 721.5,362.6 722.2,357.3 722.8,352.1 723.5,346.9 724.3,341.6 725,336.4 725.8,331.2 726.7,326 727.5,320.8 728.4,315.6 729.3,310.4 730.3,305.2 731.4,300 732.6,294.9 734,289.9 735.7,284.9 737.5,280.1 739.5,275.3 741.8,270.8 744.6,266.7 747.9,263.8 751.2,261.7 754.6,260.3 758,259.4 762,258.7 766.6,258.8 771.6,260.2 776.4,262.3 780.9,265 785.1,268.1 789.4,270.9 793.8,273.8 798.2,276.6 802.6,279.3 807.1,282.2 811.4,285.1 815.8,288.1 820,291.3 824,294.6 827.8,298.2 831.3,302.1 835,305.8 839.4,308.4 843.9,311 848.3,313.8 852.6,316.6 856.9,319.4 861.2,322 866.2,323.3 871.5,323.2 876.6,323.9 881.4,325.3 886.4,326.7 891.4,328.1 896.4,329.5 901.4,330.9 906.6,331.5 911.6,330.4 916.6,329.1 921.8,328.8 927,329.7 932,330.8 937.1,331.6 942.4,331.8 947.6,331.6 952.9,331.5 958.2,331.4 963.5,331.4 968.5,330.9 972.9,329.6 977.2,327.5 981.8,325.3 986,322.6 989.8,319.3 993.1,315.4 996.6,311.8 999.8,307.8 1002.3,303.3 1004.7,298.6 1006.9,293.8 1008.9,288.9 1010.5,283.9 1011.7,278.8 1012.9,273.6 1014.1,268.5 1015.4,263.4 1016.6,258.2 1017.8,253.1 1018.8,247.9 1019.8,242.7 1020.7,237.5 1021.6,232.3 1022.6,227.2 1023.6,222 1024.5,216.8 1025.2,211.5 1025.9,206.3 1026.5,201.1 1027.1,195.8 1027.6,190.6 1028.1,185.3 1028.6,180.1 1029,174.8 1029.1,169.5" stroke="#dc1529" stroke-width="2.2"/>
<path d="M719.2,383.5L719.8,378.3 720.5,373.1 721.1,367.8 721.8,362.6 722.5,357.4 723.2,352.2 723.9,346.9 724.6,341.7 725.4,336.5 726.2,331.3 727.1,326.1 727.9,320.9 728.9,315.7 729.8,310.5 730.8,305.4 731.8,300.2 733.1,295.1 734.6,290.1 736.4,285.2 738.3,280.4 740.4,275.7 742.9,271.2 745.8,267.3 749.3,264.6 752.8,262.9 756.3,261.9 759.8,261.5 763.8,261.2 768.5,261.6 773.4,263.1 778.2,265.2 782.6,267.9 786.9,270.8 791.3,273.7 795.7,276.4 800.2,279.1 804.6,281.8 809.1,284.6 813.4,287.5 817.7,290.6 821.9,293.8 825.9,297.2 829.6,300.8 833,304.7 836.6,308.5 841.1,311 845.7,313.5 850.1,316.3 854.5,318.9 858.9,321.6 863.3,324 868.3,325.3 873.5,325.2 878.7,325.9 883.5,327.1 888.5,328.3 893.5,329.8 898.4,331.4 903.4,332.9 908.6,333.4 913.5,332.2 918.6,330.9 923.8,330.6 928.9,331.5 934,332.4 939.1,333.1 944.4,333.2 949.6,333 954.9,332.9 960.1,332.8 965.4,332.7 970.4,332.1 974.7,330.5 978.9,328.2 983.4,325.8 987.5,323 991.1,319.6 994.4,315.6 997.7,311.8 1000.8,307.8 1003.3,303.2 1005.6,298.5 1007.7,293.7 1009.6,288.8 1011.2,283.8 1012.4,278.6 1013.6,273.5 1014.8,268.4 1016,263.2 1017.3,258.1 1018.4,253 1019.5,247.8 1020.5,242.6 1021.4,237.4 1022.3,232.3 1023.3,227.1 1024.2,221.9 1025.1,216.7 1025.9,211.5 1026.6,206.3 1027.1,201 1027.7,195.8 1028.2,190.5 1028.7,185.3 1029.2,180 1029.6,174.8 1029.8,169.5" stroke="#dc1529" stroke-width="2.2"/>
<path d="M719.4,383.5L720.1,378.3 720.8,373.1 721.4,367.9 722.1,362.6 722.8,357.4 723.5,352.2 724.3,347 725,341.8 725.8,336.6 726.6,331.4 727.5,326.2 728.4,321 729.3,315.8 730.2,310.7 731.2,305.5 732.3,300.4 733.6,295.3 735.2,290.3 737.1,285.4 739.1,280.7 741.3,276 743.9,271.6 747,267.8 750.7,265.4 754.4,264.1 758.1,263.5 761.6,263.6 765.7,263.7 770.3,264.3 775.2,265.9 779.9,268.1 784.4,270.8 788.7,273.6 793.2,276.4 797.6,279.1 802.1,281.7 806.7,284.3 811.1,287 815.5,290 819.7,293 823.9,296.3 827.9,299.7 831.5,303.4 834.8,307.4 838.3,311.2 842.9,313.6 847.4,316 851.9,318.7 856.4,321.3 860.8,323.8 865.3,326 870.3,327.2 875.6,327.2 880.7,327.9 885.6,328.9 890.6,330 895.6,331.5 900.5,333.2 905.4,334.8 910.6,335.3 915.5,334 920.5,332.7 925.8,332.4 930.9,333.2 936,334 941.1,334.6 946.3,334.6 951.6,334.4 956.9,334.3 962.1,334.2 967.4,334.1 972.3,333.3 976.5,331.4 980.6,328.9 985.1,326.4 989,323.4 992.5,319.8 995.6,315.7 998.8,311.9 1001.8,307.7 1004.2,303.1 1006.5,298.4 1008.6,293.5 1010.4,288.6 1011.9,283.6 1013.1,278.5 1014.2,273.4 1015.4,268.2 1016.7,263.1 1018,258 1019.1,252.9 1020.2,247.7 1021.1,242.5 1022.1,237.4 1023,232.2 1024,227 1024.9,221.8 1025.8,216.6 1026.6,211.4 1027.2,206.2 1027.8,201 1028.3,195.7 1028.9,190.5 1029.4,185.3 1029.8,180 1030.2,174.8 1030.4,169.5" stroke="#dc1529" stroke-width="2.2"/>
<path d="M719.7,383.5L720.4,378.3 721,373.1 721.7,367.9 722.4,362.7 723.1,357.5 723.9,352.3 724.6,347.1 725.4,341.9 726.2,336.7 727,331.5 727.9,326.3 728.8,321.1 729.7,316 730.7,310.8 731.7,305.6 732.8,300.5 734.2,295.4 735.8,290.5 737.7,285.7 739.9,281 742.2,276.4 744.9,272 748.2,268.4 752.1,266.3 756,265.3 759.8,265.1 763.5,265.6 767.5,266.2 772.1,267.1 776.9,268.8 781.7,271 786.2,273.7 790.6,276.4 795.1,279.1 799.6,281.7 804.1,284.2 808.7,286.7 813.1,289.5 817.5,292.4 821.7,295.5 825.8,298.8 829.8,302.2 833.4,306 836.5,310 840,313.9 844.6,316.2 849.2,318.5 853.7,321.1 858.3,323.6 862.8,326 867.4,328 872.4,329.2 877.6,329.2 882.8,329.8 887.7,330.6 892.8,331.6 897.7,333.2 902.5,335 907.4,336.8 912.6,337.3 917.4,335.8 922.5,334.5 927.7,334.3 932.9,334.9 938,335.6 943.1,336 948.3,336 953.6,335.8 958.8,335.7 964.1,335.6 969.3,335.4 974.2,334.5 978.3,332.3 982.3,329.5 986.7,326.9 990.5,323.7 993.8,320 996.9,315.9 999.9,311.9 1002.7,307.6 1005.1,303 1007.3,298.2 1009.4,293.4 1011.2,288.5 1012.6,283.5 1013.8,278.4 1014.9,273.2 1016.1,268.1 1017.4,263 1018.6,257.9 1019.8,252.8 1020.8,247.6 1021.8,242.4 1022.7,237.3 1023.7,232.1 1024.6,226.9 1025.6,221.8 1026.5,216.6 1027.2,211.4 1027.8,206.2 1028.4,200.9 1029,195.7 1029.5,190.5 1030,185.2 1030.5,180 1030.8,174.8 1031,169.5" stroke="#dc1529" stroke-width="2.2"/>
<path d="M719.9,383.5L720.6,378.3 721.3,373.1 722,367.9 722.8,362.7 723.5,357.5 724.2,352.3 725,347.1 725.8,341.9 726.6,336.8 727.4,331.6 728.3,326.4 729.2,321.2 730.2,316.1 731.2,310.9 732.2,305.8 733.3,300.7 734.7,295.6 736.4,290.7 738.4,285.9 740.7,281.3 743.1,276.7 746,272.4 749.4,269 753.5,267.1 757.6,266.5 761.6,266.7 765.3,267.7 769.4,268.6 774,269.8 778.7,271.7 783.4,274 788,276.5 792.4,279.2 797,281.8 801.5,284.3 806.1,286.7 810.7,289.2 815.2,291.9 819.5,294.8 823.7,298 827.8,301.2 831.7,304.7 835.2,308.5 838.3,312.7 841.7,316.6 846.3,318.8 851,321 855.6,323.5 860.2,325.9 864.7,328.2 869.4,330.1 874.5,331.1 879.7,331.2 884.8,331.8 889.8,332.4 894.9,333.3 899.8,335 904.6,336.9 909.4,338.7 914.6,339.2 919.4,337.6 924.4,336.3 929.7,336.1 934.8,336.6 940,337.3 945.1,337.5 950.3,337.5 955.5,337.3 960.8,337.1 966,336.9 971.3,336.8 976.1,335.6 980.1,333.2 984.1,330.2 988.3,327.5 992,324.1 995.2,320.3 998.1,316 1001,311.9 1003.7,307.6 1006.1,302.9 1008.2,298.1 1010.2,293.3 1011.9,288.4 1013.4,283.3 1014.5,278.2 1015.6,273.1 1016.8,268 1018.1,262.9 1019.3,257.8 1020.5,252.7 1021.5,247.5 1022.5,242.4 1023.4,237.2 1024.3,232 1025.3,226.9 1026.2,221.7 1027.1,216.5 1027.9,211.3 1028.5,206.1 1029.1,200.9 1029.6,195.7 1030.1,190.5 1030.6,185.2 1031.1,180 1031.5,174.8 1031.6,169.5" stroke="#dc1529" stroke-width="2.2"/>
<path d="M720.2,383.5L720.9,378.3 721.6,373.1 722.3,367.9 723.1,362.8 723.8,357.6 724.6,352.4 725.4,347.2 726.2,342 727,336.9 727.8,331.7 728.7,326.5 729.7,321.4 730.6,316.2 731.6,311.1 732.6,305.9 733.8,300.8 735.2,295.8 737,290.9 739.1,286.1 741.5,281.5 744,277.1 747,272.9 750.6,269.5 754.9,267.9 759.2,267.7 763.3,268.4 767.1,269.8 771.2,271.1 775.8,272.6 780.5,274.6 785.2,276.9 789.8,279.4 794.3,282 798.8,284.5 803.4,286.9 808.1,289.3 812.7,291.7 817.2,294.3 821.5,297.3 825.7,300.4 829.7,303.7 833.6,307.2 837.1,311.1 840,315.3 843.4,319.3 848.1,321.5 852.8,323.5 857.4,326 862,328.2 866.7,330.4 871.4,332.1 876.5,333 881.7,333.2 886.9,333.8 891.9,334.2 897,334.9 901.9,336.7 906.6,338.7 911.4,340.6 916.6,341.1 921.4,339.4 926.4,338.1 931.6,337.9 936.8,338.4 941.9,338.9 947.1,339 952.3,338.9 957.5,338.7 962.8,338.5 968,338.3 973.2,338.1 978.1,336.8 982,334.1 985.8,330.9 989.9,328 993.5,324.5 996.6,320.5 999.4,316.2 1002.1,311.9 1004.7,307.5 1007,302.8 1009.1,298 1011,293.2 1012.7,288.2 1014.1,283.2 1015.2,278.1 1016.3,272.9 1017.5,267.8 1018.7,262.7 1020,257.7 1021.1,252.5 1022.2,247.4 1023.2,242.3 1024.1,237.1 1025,231.9 1026,226.8 1026.9,221.6 1027.8,216.5 1028.5,211.3 1029.1,206.1 1029.7,200.9 1030.2,195.6 1030.7,190.4 1031.2,185.2 1031.7,180 1032.1,174.8 1032.2,169.5" stroke="#dc1529" stroke-width="2.2"/>
<path d="M720.4,383.5L721.2,378.3 721.9,373.2 722.6,368 723.4,362.8 724.1,357.6 724.9,352.4 725.7,347.3 726.5,342.1 727.4,336.9 728.2,331.8 729.1,326.6 730.1,321.5 731.1,316.3 732.1,311.2 733.1,306.1 734.3,301 735.7,295.9 737.6,291.1 739.8,286.4 742.3,281.8 745,277.4 748,273.3 751.8,270.1 756.4,268.7 760.8,268.9 765,270 768.9,271.9 773.1,273.6 777.6,275.4 782.3,277.5 787,279.8 791.6,282.3 796.1,284.8 800.7,287.2 805.4,289.6 810,291.8 814.7,294.1 819.2,296.7 823.5,299.7 827.7,302.9 831.7,306.2 835.5,309.8 838.9,313.7 841.8,318 845.1,322 849.8,324.1 854.6,326 859.2,328.4 863.9,330.5 868.6,332.5 873.5,334.1 878.6,335 883.8,335.2 889,335.7 894,335.9 899.1,336.6 904,338.4 908.7,340.6 913.5,342.6 918.6,343.1 923.3,341.2 928.3,339.9 933.6,339.7 938.7,340.1 943.9,340.5 949.1,340.5 954.3,340.3 959.5,340.1 964.7,339.9 969.9,339.7 975.2,339.5 980,338 983.8,335 987.5,331.6 991.5,328.5 995,324.8 997.9,320.7 1000.6,316.3 1003.3,312 1005.7,307.5 1007.9,302.7 1010,297.9 1011.8,293 1013.5,288.1 1014.8,283 1015.9,277.9 1017,272.8 1018.1,267.7 1019.4,262.6 1020.7,257.5 1021.8,252.4 1022.9,247.3 1023.8,242.2 1024.8,237 1025.7,231.9 1026.6,226.7 1027.6,221.6 1028.4,216.4 1029.2,211.2 1029.8,206 1030.3,200.8 1030.9,195.6 1031.4,190.4 1031.9,185.2 1032.3,180 1032.7,174.7 1032.8,169.5" stroke="#dc1529" stroke-width="2.2"/>
<path d="M720.7,383.5L721.4,378.3 722.2,373.2 722.9,368 723.7,362.8 724.5,357.7 725.3,352.5 726.1,347.3 726.9,342.2 727.8,337 728.6,331.9 729.6,326.7 730.5,321.6 731.5,316.5 732.5,311.3 733.6,306.2 734.8,301.1 736.3,296.1 738.2,291.3 740.5,286.6 743.1,282.1 745.9,277.7 749.1,273.7 753,270.6 757.8,269.6 762.4,270 766.8,271.6 770.7,273.9 774.9,276.1 779.5,278.1 784.1,280.4 788.7,282.8 793.4,285.2 798,287.6 802.6,289.9 807.3,292.2 812,294.4 816.7,296.6 821.2,299.2 825.5,302.2 829.7,305.3 833.6,308.7 837.5,312.3 840.8,316.3 843.6,320.6 846.8,324.7 851.5,326.7 856.4,328.6 861,330.8 865.8,332.9 870.6,334.7 875.5,336.1 880.7,336.9 885.9,337.3 891,337.7 896.1,337.7 901.3,338.2 906.1,340.1 910.7,342.4 915.5,344.5 920.6,345 925.3,343 930.3,341.6 935.5,341.5 940.7,341.8 945.9,342.1 951.1,342 956.3,341.7 961.5,341.5 966.7,341.3 971.9,341.1 977.1,340.8 981.9,339.2 985.6,335.9 989.2,332.3 993.2,329.1 996.5,325.2 999.3,320.9 1001.9,316.5 1004.4,312 1006.7,307.4 1008.9,302.6 1010.8,297.8 1012.6,292.9 1014.2,288 1015.5,282.9 1016.6,277.8 1017.6,272.7 1018.8,267.6 1020.1,262.5 1021.3,257.4 1022.5,252.3 1023.5,247.2 1024.5,242.1 1025.4,236.9 1026.4,231.8 1027.3,226.6 1028.3,221.5 1029.1,216.3 1029.8,211.2 1030.4,206 1031,200.8 1031.5,195.6 1032,190.4 1032.5,185.2 1032.9,180 1033.3,174.7 1033.4,169.5" stroke="#dc1529" stroke-width="2.2"/>
<path d="M720.9,383.5L721.7,378.4 722.5,373.2 723.2,368 724,362.9 724.8,357.7 725.6,352.6 726.4,347.4 727.3,342.3 728.2,337.1 729,332 730,326.8 730.9,321.7 731.9,316.6 733,311.5 734,306.3 735.3,301.3 736.8,296.3 738.8,291.5 741.2,286.9 743.9,282.4 746.8,278.1 750.1,274.1 754.3,271.2 759.2,270.4 764,271.2 768.5,273.2 772.5,276 776.8,278.5 781.3,280.9 785.9,283.3 790.5,285.7 795.1,288.1 799.8,290.4 804.5,292.6 809.2,294.8 814,296.9 818.7,299 823.3,301.6 827.5,304.6 831.6,307.8 835.6,311.2 839.4,314.8 842.6,318.8 845.3,323.3 848.5,327.4 853.3,329.3 858.1,331.1 862.9,333.2 867.7,335.2 872.6,336.9 877.6,338.2 882.7,338.9 887.9,339.3 893.1,339.7 898.2,339.5 903.4,339.9 908.2,341.9 912.8,344.2 917.5,346.5 922.6,347 927.3,344.8 932.3,343.4 937.5,343.3 942.7,343.6 947.9,343.7 953,343.5 958.2,343.1 963.4,342.9 968.7,342.8 973.9,342.5 979.1,342.2 983.8,340.3 987.4,336.8 990.9,333 994.8,329.6 998,325.6 1000.7,321.2 1003.1,316.6 1005.5,312 1007.7,307.3 1009.8,302.6 1011.7,297.7 1013.5,292.8 1015,287.8 1016.3,282.8 1017.3,277.6 1018.3,272.5 1019.5,267.4 1020.8,262.4 1022,257.3 1023.2,252.2 1024.2,247.1 1025.2,242 1026.1,236.8 1027,231.7 1028,226.6 1028.9,221.4 1029.8,216.3 1030.5,211.1 1031.1,205.9 1031.6,200.7 1032.1,195.5 1032.6,190.3 1033.1,185.1 1033.6,179.9 1033.9,174.7 1034.1,169.5" stroke="#dc1529" stroke-width="2.2"/>
<path d="M721.2,383.5L722,378.4 722.8,373.2 723.5,368.1 724.3,362.9 725.1,357.8 726,352.6 726.8,347.5 727.7,342.3 728.5,337.2 729.4,332.1 730.4,326.9 731.4,321.8 732.4,316.7 733.4,311.6 734.5,306.5 735.8,301.4 737.3,296.5 739.4,291.7 741.9,287.1 744.7,282.7 747.7,278.4 751.1,274.5 755.5,271.7 760.6,271.2 765.6,272.4 770.3,274.8 774.3,278.1 778.6,281 783.1,283.6 787.7,286.2 792.3,288.6 796.9,290.9 801.7,293.1 806.4,295.3 811.1,297.4 816,299.4 820.7,301.5 825.3,304 829.5,307 833.6,310.3 837.6,313.7 841.3,317.3 844.5,321.4 847.1,325.9 850.2,330 855,331.9 859.9,333.6 864.7,335.7 869.6,337.5 874.5,339.1 879.6,340.2 884.8,340.8 890,341.3 895.2,341.6 900.3,341.3 905.5,341.5 910.3,343.6 914.9,346.1 919.5,348.4 924.6,348.9 929.2,346.6 934.2,345.2 939.4,345.1 944.6,345.3 949.8,345.3 955,344.9 960.2,344.6 965.4,344.4 970.6,344.2 975.8,343.8 981,343.5 985.7,341.5 989.2,337.7 992.6,333.7 996.4,330.1 999.5,326 1002,321.4 1004.4,316.7 1006.6,312 1008.7,307.3 1010.7,302.5 1012.6,297.6 1014.3,292.7 1015.8,287.7 1017,282.6 1018,277.5 1019,272.4 1020.2,267.3 1021.4,262.2 1022.7,257.2 1023.8,252.1 1024.9,247 1025.9,241.9 1026.8,236.7 1027.7,231.6 1028.7,226.5 1029.6,221.4 1030.4,216.2 1031.2,211.1 1031.7,205.9 1032.3,200.7 1032.8,195.5 1033.3,190.3 1033.7,185.1 1034.2,179.9 1034.5,174.7 1034.7,169.5" stroke="#dc1529" stroke-width="2.2"/>
</g>
<g font-family="Liberation Sans" font-weight="bold" font-size="13.5" fill="#000"><text x="711.5" y="180.9" text-anchor="end" transform="translate(711.5,0) scale(0.88,1) translate(-711.5,0)">2.00</text><text x="711.5" y="218.31" text-anchor="end" transform="translate(711.5,0) scale(0.88,1) translate(-711.5,0)">1.75</text><text x="711.5" y="255.72" text-anchor="end" transform="translate(711.5,0) scale(0.88,1) translate(-711.5,0)">1.50</text><text x="711.5" y="293.14" text-anchor="end" transform="translate(711.5,0) scale(0.88,1) translate(-711.5,0)">1.25</text><text x="711.5" y="330.55" text-anchor="end" transform="translate(711.5,0) scale(0.88,1) translate(-711.5,0)">1.00</text><text x="711.5" y="367.96" text-anchor="end" transform="translate(711.5,0) scale(0.88,1) translate(-711.5,0)">0.75</text><text x="711.5" y="405.38" text-anchor="end" transform="translate(711.5,0) scale(0.88,1) translate(-711.5,0)">0.50</text><text x="711.5" y="442.79" text-anchor="end" transform="translate(711.5,0) scale(0.88,1) translate(-711.5,0)">0.25</text><text x="711.5" y="480.2" text-anchor="end" transform="translate(711.5,0) scale(0.88,1) translate(-711.5,0)">0</text><text x="1099.8" y="180.9" transform="translate(1099.8,0) scale(0.88,1) translate(-1099.8,0)">2.0</text><text x="1099.8" y="218.31" transform="translate(1099.8,0) scale(0.88,1) translate(-1099.8,0)">1.5</text><text x="1099.8" y="255.72" transform="translate(1099.8,0) scale(0.88,1) translate(-1099.8,0)">1.0</text><text x="1099.8" y="293.14" transform="translate(1099.8,0) scale(0.88,1) translate(-1099.8,0)">0.5</text><text x="1099.8" y="330.55" transform="translate(1099.8,0) scale(0.88,1) translate(-1099.8,0)">0</text><text x="1099.8" y="367.96" transform="translate(1099.8,0) scale(0.88,1) translate(-1099.8,0)">–0.5</text><text x="1099.8" y="405.38" transform="translate(1099.8,0) scale(0.88,1) translate(-1099.8,0)">–1.0</text><text x="1099.8" y="442.79" transform="translate(1099.8,0) scale(0.88,1) translate(-1099.8,0)">–1.5</text><text x="1099.8" y="480.2" transform="translate(1099.8,0) scale(0.88,1) translate(-1099.8,0)">–2.0</text><text x="725.02" y="492.6" text-anchor="end" transform="translate(725.02,0) scale(0.87,1) translate(-725.02,0)">–60</text><text x="751.8" y="492.6" text-anchor="end" transform="translate(751.8,0) scale(0.87,1) translate(-751.8,0)">–55</text><text x="778.57" y="492.6" text-anchor="end" transform="translate(778.57,0) scale(0.87,1) translate(-778.57,0)">–50</text><text x="805.34" y="492.6" text-anchor="end" transform="translate(805.34,0) scale(0.87,1) translate(-805.34,0)">–45</text><text x="832.11" y="492.6" text-anchor="end" transform="translate(832.11,0) scale(0.87,1) translate(-832.11,0)">–40</text><text x="858.88" y="492.6" text-anchor="end" transform="translate(858.88,0) scale(0.87,1) translate(-858.88,0)">–35</text><text x="885.65" y="492.6" text-anchor="end" transform="translate(885.65,0) scale(0.87,1) translate(-885.65,0)">–30</text><text x="912.42" y="492.6" text-anchor="end" transform="translate(912.42,0) scale(0.87,1) translate(-912.42,0)">–25</text><text x="939.2" y="492.6" text-anchor="end" transform="translate(939.2,0) scale(0.87,1) translate(-939.2,0)">–20</text><text x="965.97" y="492.6" text-anchor="end" transform="translate(965.97,0) scale(0.87,1) translate(-965.97,0)">–15</text><text x="992.74" y="492.6" text-anchor="end" transform="translate(992.74,0) scale(0.87,1) translate(-992.74,0)">–10</text><text x="1016.25" y="492.6" text-anchor="end" transform="translate(1016.25,0) scale(0.87,1) translate(-1016.25,0)">–5</text><text x="1039.76" y="492.6" text-anchor="middle" transform="translate(1039.76,0) scale(0.87,1) translate(-1039.76,0)">0</text><text x="1066.53" y="492.6" text-anchor="middle" transform="translate(1066.53,0) scale(0.87,1) translate(-1066.53,0)">5</text><text x="1093.3" y="492.6" text-anchor="middle" transform="translate(1093.3,0) scale(0.87,1) translate(-1093.3,0)">10</text></g>
<g font-family="Liberation Sans" font-weight="bold" fill="#000">
<text font-size="13" transform="translate(673.9,326.65) rotate(-90)" text-anchor="middle">V<tspan font-size="10" dy="3">OUT</tspan><tspan dy="-3"> (V)</tspan></text>
<text font-size="13" transform="translate(1143.6,326.15) rotate(-90)" text-anchor="middle" textLength="71" lengthAdjust="spacingAndGlyphs">ERROR (dB)</text>
<text font-size="13" x="905.9" y="516.7" text-anchor="middle">P<tspan font-size="10" dy="3">IN</tspan><tspan dy="-3"> (dBm)</tspan></text>
</g>
<text font-family="Liberation Sans" font-size="8.3" fill="#000" transform="translate(1150,498.5) rotate(-90)" text-anchor="middle">05541-012</text>
<text font-family="Liberation Sans" font-style="italic" font-size="15.5" x="909.35" y="549.4" text-anchor="middle" textLength="452.2" lengthAdjust="spacingAndGlyphs">Figure 12. V<tspan font-size="11" dy="1.6">OUT</tspan><tspan dy="-1.6"> and Log Conformance vs. Input Amplitude at 3.6 GHz,</tspan></text>
<text font-family="Liberation Sans" font-style="italic" font-size="15.5" x="909.8" y="567.7" text-anchor="middle" textLength="193.5" lengthAdjust="spacingAndGlyphs">Multiple Devices, R<tspan font-size="11" dy="1.6">TADJ</tspan><tspan dy="-1.6"> = 8 kΩ</tspan></text>
<clipPath id="clip3"><rect x="139.5" y="602.7" width="376" height="299.3"/></clipPath>
<g stroke="#000" fill="none"><line x1="139.5" y1="602" x2="139.5" y2="903" stroke-width="1.15"/><line x1="166.5" y1="602" x2="166.5" y2="903" stroke-width="1.15"/><line x1="193.5" y1="602" x2="193.5" y2="903" stroke-width="1.15"/><line x1="220.5" y1="602" x2="220.5" y2="903" stroke-width="1.15"/><line x1="247" y1="602" x2="247" y2="903" stroke-width="2.0"/><line x1="273.5" y1="602" x2="273.5" y2="903" stroke-width="1.15"/><line x1="300.5" y1="602" x2="300.5" y2="903" stroke-width="1.15"/><line x1="327.5" y1="602" x2="327.5" y2="903" stroke-width="1.15"/><line x1="354.5" y1="602" x2="354.5" y2="903" stroke-width="1.15"/><line x1="381.5" y1="602" x2="381.5" y2="903" stroke-width="1.15"/><line x1="408.5" y1="602" x2="408.5" y2="903" stroke-width="1.15"/><line x1="435" y1="602" x2="435" y2="903" stroke-width="2.0"/><line x1="461.5" y1="602" x2="461.5" y2="903" stroke-width="1.15"/><line x1="488.5" y1="602" x2="488.5" y2="903" stroke-width="1.15"/><line x1="515.5" y1="602" x2="515.5" y2="903" stroke-width="1.15"/><line x1="139" y1="602.5" x2="516" y2="602.5" stroke-width="1.15"/><line x1="139" y1="621.5" x2="516" y2="621.5" stroke-width="1.15"/><line x1="139" y1="640" x2="516" y2="640" stroke-width="2.0"/><line x1="139" y1="658.5" x2="516" y2="658.5" stroke-width="1.15"/><line x1="139" y1="677.5" x2="516" y2="677.5" stroke-width="1.15"/><line x1="139" y1="696.5" x2="516" y2="696.5" stroke-width="1.15"/><line x1="139" y1="714.5" x2="516" y2="714.5" stroke-width="1.15"/><line x1="139" y1="733.5" x2="516" y2="733.5" stroke-width="1.15"/><line x1="139" y1="752.5" x2="516" y2="752.5" stroke-width="1.15"/><line x1="139" y1="771.5" x2="516" y2="771.5" stroke-width="1.15"/><line x1="139" y1="789.5" x2="516" y2="789.5" stroke-width="1.15"/><line x1="139" y1="808.5" x2="516" y2="808.5" stroke-width="1.15"/><line x1="139" y1="827.5" x2="516" y2="827.5" stroke-width="1.15"/><line x1="139" y1="846" x2="516" y2="846" stroke-width="2.0"/><line x1="139" y1="864.5" x2="516" y2="864.5" stroke-width="1.15"/><line x1="139" y1="883.5" x2="516" y2="883.5" stroke-width="1.15"/><line x1="139" y1="902" x2="516" y2="902" stroke-width="2.0"/></g>
<g clip-path="url(#clip3)" fill="none" stroke-linecap="round" stroke-linejoin="round">
<path d="M134.1,647.6 134.5,647.7 134.7,647.7 135.1,647.7 135.9,647.9 137.3,648.3 139.5,649.1 142.7,650.3 146.9,651.8 151.6,653.5 156.6,655.4 161.6,657.5 166.4,659.6 170.8,661.8 175.3,664.1 179.8,666.6 184.3,669.2 188.7,671.9 193.2,674.5 197.7,677.2 202.2,680 206.6,682.9 211.1,685.8 215.6,688.7 220.1,691.7 224.5,694.9 229,698.1 233.5,701.3 238,704.6 242.5,707.9 246.9,711 251.4,714.1 255.9,717.2 260.4,720.2 264.8,723.2 269.3,726.2 273.8,729.2 278.3,732.2 282.7,735.3 287.2,738.4 291.7,741.4 296.2,744.4 300.6,747.3 305.1,750.2 309.6,753.1 314.1,755.9 318.5,758.6 323,761.3 327.5,764.1 332,766.7 336.5,769.3 340.9,771.8 345.4,774.3 349.9,777 354.4,779.7 358.8,782.7 363.3,785.7 367.8,788.8 372.3,792 376.7,795.2 381.2,798.4 385.7,801.8 390.2,805.3 394.6,808.8 399.1,812.3 403.6,815.4 408.1,818.2 412.5,820.5 417,822.5 421.5,824.3 426,825.8 430.5,827.3 434.9,828.7 439.4,830.1 443.9,831.4 448.4,832.5 452.8,833.6 457.3,834.5 461.8,835.1 466.3,835.7 470.7,836.2 475.2,836.6 479.7,836.6 484.2,836.2 488.6,835.1 493.4,833 498.4,830 503.4,826.4 508.1,822.9 512.3,819.8 515.5,817.6 517.7,816.5 519.1,816 519.9,816.1 520.3,816.3 520.5,816.6 520.9,816.7 520.9,851.6 520.5,851.6 520.3,851.7 519.9,851.8 519.1,852 517.7,852.2 515.5,852.5 512.3,852.9 508.1,853.4 503.4,854.1 498.4,854.6 493.4,855 488.6,855.2 484.2,855 479.7,854.7 475.2,854.2 470.7,853.6 466.3,852.8 461.8,852 457.3,851.1 452.8,850.2 448.4,849.1 443.9,847.9 439.4,846.5 434.9,845 430.5,843.2 426,841.3 421.5,839.2 417,837 412.5,834.6 408.1,832 403.6,829.1 399.1,826 394.6,822.7 390.2,819.3 385.7,816 381.2,812.8 376.7,809.7 372.3,806.7 367.8,803.7 363.3,800.7 358.8,797.8 354.4,795 349.9,792.3 345.4,789.8 340.9,787.3 336.5,784.9 332,782.4 327.5,779.8 323,777.2 318.5,774.6 314.1,771.9 309.6,769.2 305.1,766.5 300.6,763.6 296.2,760.8 291.7,757.8 287.2,754.9 282.7,751.9 278.3,748.9 273.8,745.9 269.3,742.9 264.8,740 260.4,737 255.9,734.1 251.4,731.1 246.9,728.1 242.5,725.1 238,722.1 233.5,719 229,716 224.5,713 220.1,710 215.6,707.1 211.1,704.1 206.6,701.2 202.2,698.3 197.7,695.5 193.2,692.8 188.7,690.1 184.3,687.5 179.8,684.9 175.3,682.4 170.8,680 166.4,677.8 161.6,675.7 156.6,673.7 151.6,671.7 146.9,670 142.7,668.5 139.5,667.3 137.3,666.6 135.9,666.1 135.1,665.9 134.7,665.9 134.5,665.9 134.1,665.9Z" fill="#17357f" stroke="#17357f" stroke-width="0.6"/>
<path d="M134.1,656.6C135,656.8 134.1,656.1 139.5,658.1C144.9,660.1 157.4,664.3 166.4,668.5C175.3,672.8 184.3,678.1 193.2,683.5C202.2,688.9 211.1,694.7 220.1,700.7C229,706.7 238,713.3 246.9,719.4C255.9,725.5 264.8,731.4 273.8,737.4C282.7,743.4 291.7,749.6 300.6,755.3C309.6,761.1 318.5,766.5 327.5,771.8C336.5,777.1 345.4,781.6 354.4,787.2C363.3,792.8 372.3,799.2 381.2,805.5C390.2,811.8 399.1,818.8 408.1,824.9C417,831.1 427.8,838.9 434.9,842.3C442.1,845.7 446.6,844.4 451,845.1C455.5,845.9 455.5,846.1 461.8,846.6C468.1,847.1 479.7,848.6 488.6,848.1C497.6,847.7 510.1,844.7 515.5,843.9C520.9,843.2 520,843.7 520.9,843.6" stroke="#000000" stroke-width="6"/>
<path d="M134.1,649.1 134.5,649.2 134.7,649.1 135.1,649.2 135.9,649.4 137.3,649.8 139.5,650.6 142.7,651.8 146.9,653.2 151.6,655 156.6,656.9 161.6,659 166.4,661.1 170.8,663.3 175.3,665.6 179.8,668.1 184.3,670.7 188.7,673.4 193.2,676 197.7,678.7 202.2,681.5 206.6,684.4 211.1,687.3 215.6,690.2 220.1,693.2 224.5,696.3 229,699.6 233.5,702.8 238,706.1 242.5,709.4 246.9,712.5 251.4,715.6 255.9,718.7 260.4,721.7 264.8,724.7 269.3,727.7 273.8,730.7 278.3,733.7 282.7,736.8 287.2,739.8 291.7,742.9 296.2,745.9 300.6,748.8 305.1,751.7 309.6,754.6 314.1,757.3 318.5,760.1 323,762.8 327.5,765.6 332,768.2 336.5,770.7 340.9,773.3 345.4,775.8 349.9,778.5 354.4,781.2 358.8,784.2 363.3,787.2 367.8,790.3 372.3,793.5 376.7,796.7 381.2,799.9 385.7,803.2 390.2,806.5 394.6,809.9 399.1,813.2 403.6,816.5 408.1,819.7 412.5,822.9 417,826.2 421.5,829.5 426,832.6 430.5,835.4 434.9,837.8 439.4,839.8 443.9,841.4 448.4,842.8 452.8,844 457.3,845 461.8,846 466.3,847 470.7,848 475.2,848.8 479.7,849.4 484.2,849.9 488.6,850.1 493.4,849.9 498.4,849.4 503.4,848.7 508.1,848 512.3,847.3 515.5,846.8 517.7,846.5 519.1,846.3 519.9,846.1 520.3,846 520.5,846 520.9,845.9 520.9,853.4 520.5,853.4 520.3,853.5 519.9,853.6 519.1,853.8 517.7,854 515.5,854.3 512.3,854.7 508.1,855.2 503.4,855.9 498.4,856.4 493.4,856.8 488.6,857 484.2,856.8 479.7,856.5 475.2,856 470.7,855.4 466.3,854.6 461.8,853.8 457.3,853 452.8,852.1 448.4,851.1 443.9,850 439.4,848.6 434.9,846.8 430.5,844.6 426,842 421.5,839.2 417,836.2 412.5,833.2 408.1,830.2 403.6,827.1 399.1,823.9 394.6,820.7 390.2,817.4 385.7,814.2 381.2,811 376.7,807.9 372.3,804.9 367.8,801.9 363.3,798.9 358.8,796 354.4,793.2 349.9,790.5 345.4,788 340.9,785.5 336.5,783.1 332,780.6 327.5,778.1 323,775.4 318.5,772.8 314.1,770.1 309.6,767.4 305.1,764.7 300.6,761.9 296.2,759 291.7,756 287.2,753.1 282.7,750.1 278.3,747.1 273.8,744.1 269.3,741.1 264.8,738.2 260.4,735.2 255.9,732.3 251.4,729.3 246.9,726.3 242.5,723.3 238,720.3 233.5,717.2 229,714.2 224.5,711.2 220.1,708.2 215.6,705.3 211.1,702.3 206.6,699.4 202.2,696.5 197.7,693.7 193.2,691 188.7,688.3 184.3,685.7 179.8,683.1 175.3,680.6 170.8,678.2 166.4,676 161.6,673.9 156.6,671.9 151.6,669.9 146.9,668.2 142.7,666.7 139.5,665.6 137.3,664.8 135.9,664.3 135.1,664.2 134.7,664.1 134.5,664.1 134.1,664.1Z" fill="#dc1529" stroke="#dc1529" stroke-width="0.6"/>
<path d="M147.6,797.2L149.7,791 151.8,784.7 154.1,778.5 156.8,772.4 160,766.7 163.7,761.2 168.6,758.3 175.1,759.2 181.7,760.4 188.1,761.9 194.7,762.5 201.3,761.6 207.8,760.3 214,759.7 219.3,763.6 225,766.9 231.5,768.3 238.1,768.9 244.7,769.1 251.4,768.9 257.9,768.2 264.5,767.4 271.1,766.8 277.7,766.4 284.4,766.4 291,766.5 297.6,766.5 304.3,766.5 310.9,766.4 317.5,766.3 324.2,766.4 330.8,766.9 337.3,767.9 343.8,769.1 350.4,770.1 357,770.3 363.7,770 370.3,769.4 376.8,768.4 383.2,766.7 389.3,764.1 393.9,759.5 396.3,753.3 397.4,746.8 398.4,740.3 399.9,733.9 403,728 406.9,722.7 410.3,717 413,710.9 415.4,704.8 417.8,698.6 420,692.4 422.1,686.1 424,679.8 425.8,673.4 427.4,667 428.9,660.5 430.2,654 431.4,647.5 432.6,641 433.8,634.5 434.8,628 435.8,621.4 436.8,614.9 437.7,608.3 438.7,601.8 439.2,595.2" stroke="#17357f" stroke-width="2.4"/>
<path d="M147.2,801.6L149.3,795.3 151.4,789 153.6,782.7 156.2,776.6 159.4,770.8 163,765.2 167.6,762 174,762.5 180.3,763.3 186.6,764.3 193.3,764.8 199.9,763.9 206.4,762.7 212.7,762.1 218.1,765.7 224,768.7 230.5,769.9 237.1,770.6 243.7,770.9 250.4,770.7 257,770.1 263.7,769.3 270.3,768.7 277,768.4 283.6,768.4 290.3,768.4 297,768.4 303.6,768.3 310.3,768.1 317,767.9 323.6,767.9 330.2,768.2 336.8,769 343.4,770.1 350,770.9 356.6,771 363.3,770.7 369.9,770 376.5,768.9 383,767.3 389.1,764.8 393.9,760.2 396.5,754.3 397.9,747.9 399.1,741.4 400.8,735 403.8,729.1 407.6,723.6 410.9,717.8 413.6,711.8 416.1,705.6 418.4,699.3 420.6,693 422.7,686.7 424.6,680.3 426.4,673.9 428,667.5 429.5,661 430.8,654.4 432,647.9 433.2,641.3 434.3,634.8 435.4,628.2 436.3,621.6 437.3,615 438.2,608.4 439.1,601.8 439.7,595.2" stroke="#17357f" stroke-width="2.4"/>
<path d="M146.8,806L148.8,799.7 150.9,793.3 153,787 155.6,780.8 158.7,774.9 162.2,769.2 166.7,765.8 172.8,765.8 178.9,766.1 185.2,766.7 191.8,767.1 198.5,766.2 205.1,765 211.4,764.4 216.9,767.8 222.9,770.5 229.4,771.6 236.1,772.4 242.7,772.8 249.4,772.6 256.1,772 262.8,771.2 269.5,770.7 276.2,770.4 282.9,770.4 289.6,770.4 296.3,770.3 303,770.1 309.7,769.8 316.4,769.5 323.1,769.3 329.7,769.5 336.3,770.1 342.9,771 349.6,771.7 356.2,771.7 362.9,771.3 369.6,770.6 376.2,769.5 382.8,767.9 389,765.4 393.8,761 396.7,755.2 398.4,748.9 399.8,742.5 401.6,736 404.6,730.1 408.3,724.5 411.6,718.7 414.2,712.6 416.7,706.3 419,700 421.2,693.7 423.3,687.3 425.2,680.9 427,674.5 428.6,668 430,661.4 431.3,654.8 432.6,648.3 433.7,641.7 434.9,635.1 435.9,628.4 436.8,621.8 437.8,615.2 438.7,608.5 439.5,601.9 440.1,595.2" stroke="#17357f" stroke-width="2.4"/>
<path d="M146.4,810.4L148.4,804 150.4,797.6 152.5,791.2 155,784.9 158,779 161.4,773.2 165.8,769.5 171.6,769.1 177.6,768.9 183.7,769.1 190.4,769.4 197.1,768.5 203.7,767.4 210.1,766.8 215.8,769.9 221.8,772.3 228.4,773.3 235.1,774.1 241.7,774.6 248.5,774.4 255.2,773.8 261.9,773.2 268.7,772.7 275.4,772.4 282.2,772.4 288.9,772.3 295.7,772.2 302.4,771.9 309.1,771.5 315.8,771.1 322.5,770.7 329.2,770.7 335.8,771.2 342.5,771.9 349.1,772.5 355.9,772.4 362.6,771.9 369.3,771.2 376,770.1 382.5,768.5 388.8,766 393.8,761.7 396.9,756.1 398.9,749.9 400.5,743.6 402.4,737.1 405.4,731.1 409,725.5 412.2,719.6 414.9,713.4 417.3,707.1 419.6,700.7 421.8,694.4 423.9,688 425.8,681.5 427.6,675 429.2,668.5 430.6,661.9 431.9,655.2 433.1,648.6 434.3,642 435.4,635.3 436.4,628.7 437.4,622 438.3,615.3 439.1,608.6 440,601.9 440.6,595.2" stroke="#17357f" stroke-width="2.4"/>
<path d="M146,814.9L148,808.4 149.9,801.9 152,795.4 154.4,789.1 157.3,783 160.6,777.2 164.9,773.3 170.5,772.4 176.2,771.8 182.2,771.5 188.9,771.7 195.7,770.9 202.4,769.8 208.8,769.2 214.6,772 220.7,774.1 227.4,775 234.1,775.8 240.7,776.5 247.5,776.3 254.3,775.7 261.1,775.1 267.8,774.6 274.6,774.4 281.4,774.4 288.2,774.3 295,774.1 301.8,773.7 308.5,773.2 315.3,772.7 322,772.2 328.6,772 335.3,772.3 342,772.9 348.7,773.3 355.5,773.1 362.2,772.5 369,771.8 375.7,770.7 382.3,769.1 388.6,766.7 393.8,762.5 397.1,757 399.4,751 401.2,744.7 403.2,738.2 406.2,732.1 409.7,726.4 412.8,720.4 415.5,714.2 417.9,707.9 420.2,701.5 422.4,695 424.5,688.6 426.4,682.1 428.2,675.5 429.8,668.9 431.2,662.3 432.5,655.6 433.7,649 434.9,642.3 436,635.6 437,628.9 437.9,622.2 438.7,615.4 439.6,608.7 440.4,602 441,595.2" stroke="#17357f" stroke-width="2.4"/>
<path d="M145.7,819.3L147.5,812.7 149.4,806.2 151.4,799.7 153.8,793.3 156.6,787.1 159.8,781.2 163.9,777 169.3,775.7 174.8,774.6 180.7,773.9 187.5,774 194.3,773.2 201,772.1 207.6,771.6 213.4,774 219.6,776 226.3,776.7 233,777.5 239.7,778.3 246.6,778.1 253.4,777.6 260.2,777 267,776.6 273.9,776.5 280.7,776.4 287.5,776.2 294.3,776 301.1,775.5 307.9,774.9 314.7,774.2 321.4,773.6 328.1,773.3 334.8,773.4 341.5,773.8 348.3,774.1 355.1,773.8 361.9,773.2 368.7,772.3 375.4,771.2 382.1,769.6 388.5,767.3 393.7,763.3 397.3,757.9 399.8,752 401.9,745.8 404,739.3 406.9,733.2 410.4,727.3 413.5,721.3 416.1,715 418.5,708.6 420.8,702.2 423,695.7 425.1,689.2 427,682.7 428.8,676.1 430.4,669.4 431.8,662.8 433.1,656.1 434.3,649.3 435.4,642.6 436.5,635.9 437.5,629.1 438.4,622.3 439.2,615.6 440.1,608.8 440.9,602 441.4,595.2" stroke="#17357f" stroke-width="2.4"/>
<path d="M145.3,823.7L147.1,817.1 149,810.5 150.9,803.9 153.2,797.4 155.9,791.2 159.1,785.2 163,780.8 168.2,779 173.5,777.4 179.2,776.4 186,776.3 192.9,775.5 199.7,774.5 206.3,773.9 212.3,776.1 218.6,777.8 225.3,778.3 232,779.2 238.7,780.1 245.6,780 252.5,779.4 259.3,778.9 266.2,778.6 273.1,778.5 280,778.4 286.8,778.2 293.7,777.8 300.5,777.3 307.3,776.6 314.1,775.8 320.9,775.1 327.6,774.6 334.3,774.5 341.1,774.7 347.9,774.9 354.7,774.5 361.5,773.8 368.3,772.9 375.1,771.8 381.8,770.2 388.3,767.9 393.7,764 397.5,758.8 400.3,753 402.6,746.8 404.8,740.4 407.7,734.2 411.1,728.3 414.1,722.2 416.8,715.8 419.2,709.4 421.4,702.9 423.6,696.4 425.7,689.8 427.6,683.2 429.4,676.6 431,669.9 432.4,663.2 433.7,656.5 434.9,649.7 436,642.9 437.1,636.1 438,629.3 438.9,622.5 439.7,615.7 440.5,608.9 441.3,602.1 441.9,595.2" stroke="#17357f" stroke-width="2.4"/>
<path d="M144.9,828.1L146.7,821.4 148.5,814.7 150.4,808.1 152.6,801.6 155.2,795.3 158.3,789.2 162.1,784.6 167,782.3 172.1,780.3 177.8,778.8 184.6,778.6 191.5,777.8 198.3,776.9 205,776.3 211.1,778.2 217.5,779.6 224.3,780 231,781 237.7,782 244.7,781.8 251.6,781.3 258.5,780.8 265.4,780.6 272.3,780.5 279.2,780.4 286.1,780.1 293,779.7 299.9,779.1 306.7,778.3 313.5,777.4 320.3,776.5 327.1,775.8 333.8,775.6 340.6,775.7 347.5,775.7 354.3,775.1 361.2,774.4 368,773.5 374.9,772.4 381.6,770.8 388.1,768.6 393.7,764.8 397.7,759.7 400.8,754.1 403.3,747.9 405.6,741.5 408.5,735.2 411.8,729.2 414.8,723 417.4,716.6 419.8,710.1 422,703.6 424.2,697 426.2,690.4 428.2,683.8 430,677.1 431.6,670.4 433,663.6 434.3,656.9 435.5,650 436.6,643.2 437.6,636.4 438.5,629.5 439.4,622.7 440.2,615.8 441,609 441.8,602.1 442.3,595.2" stroke="#17357f" stroke-width="2.4"/>
<path d="M144.5,832.5L146.3,825.7 148,819 149.8,812.3 152,805.8 154.6,799.4 157.5,793.2 161.2,788.3 165.8,785.6 170.7,783.1 176.3,781.2 183.1,780.9 190.1,780.1 197,779.3 203.7,778.7 209.9,780.3 216.4,781.4 223.2,781.7 230,782.7 236.7,783.8 243.7,783.7 250.7,783.2 257.6,782.7 264.5,782.5 271.5,782.5 278.5,782.4 285.4,782.1 292.4,781.6 299.3,780.9 306.1,780.1 313,779 319.8,778 326.5,777.1 333.3,776.7 340.1,776.6 347,776.5 353.9,775.8 360.8,775 367.7,774.1 374.6,773 381.4,771.4 388,769.2 393.6,765.6 397.9,760.6 401.3,755.1 404,749 406.4,742.6 409.3,736.3 412.5,730.1 415.4,723.9 418,717.4 420.4,710.9 422.6,704.3 424.8,697.7 426.8,691.1 428.8,684.4 430.6,677.7 432.2,670.9 433.6,664.1 434.9,657.3 436,650.4 437.1,643.5 438.2,636.7 439.1,629.8 439.9,622.9 440.7,616 441.5,609.1 442.2,602.1 442.8,595.2" stroke="#17357f" stroke-width="2.4"/>
<path d="M144.1,836.9L145.8,830.1 147.5,823.3 149.3,816.6 151.4,809.9 153.9,803.5 156.7,797.2 160.2,792.1 164.7,788.9 169.4,785.9 174.8,783.6 181.7,783.2 188.7,782.5 195.6,781.6 202.4,781 208.8,782.4 215.3,783.2 222.2,783.4 229,784.4 235.7,785.7 242.7,785.5 249.7,785.1 256.7,784.7 263.7,784.5 270.7,784.5 277.7,784.4 284.7,784 291.7,783.5 298.6,782.7 305.6,781.8 312.4,780.6 319.2,779.4 326,778.4 332.8,777.7 339.7,777.5 346.6,777.4 353.5,776.5 360.4,775.6 367.4,774.7 374.3,773.6 381.1,772 387.8,769.8 393.6,766.3 398.1,761.5 401.8,756.2 404.7,750.1 407.2,743.7 410.1,737.3 413.2,731.1 416,724.7 418.7,718.3 421,711.7 423.2,705 425.4,698.4 427.4,691.7 429.4,685 431.2,678.2 432.8,671.4 434.2,664.5 435.4,657.7 436.6,650.8 437.7,643.9 438.7,636.9 439.6,630 440.4,623 441.2,616.1 441.9,609.1 442.7,602.2 443.2,595.2" stroke="#17357f" stroke-width="2.4"/>
<path d="M143.8,841.3L145.4,834.4 147,827.6 148.8,820.8 150.8,814.1 153.2,807.5 155.9,801.1 159.3,795.8 163.5,792.2 168,788.8 173.3,786 180.3,785.5 187.3,784.8 194.3,784 201.1,783.4 207.6,784.5 214.2,785.1 221.2,785 228,786.1 234.7,787.5 241.8,787.4 248.8,786.9 255.9,786.6 262.9,786.5 270,786.5 277,786.4 284,786 291,785.4 298,784.5 305,783.5 311.8,782.2 318.7,780.9 325.5,779.7 332.3,778.8 339.2,778.5 346.2,778.2 353.1,777.2 360.1,776.3 367.1,775.3 374,774.1 380.9,772.6 387.6,770.5 393.6,767.1 398.3,762.5 402.2,757.2 405.4,751.2 408,744.7 410.9,738.3 413.9,732 416.7,725.6 419.3,719.1 421.7,712.4 423.9,705.8 426,699 428,692.3 430,685.5 431.8,678.7 433.4,671.9 434.8,665 436,658.1 437.2,651.1 438.3,644.2 439.3,637.2 440.1,630.2 440.9,623.2 441.7,616.2 442.4,609.2 443.1,602.2 443.6,595.2" stroke="#17357f" stroke-width="2.4"/>
<path d="M143.4,845.7L145,838.8 146.6,831.9 148.2,825 150.2,818.3 152.5,811.6 155.2,805.1 158.4,799.6 162.4,795.5 166.6,791.6 171.8,788.4 178.8,787.8 185.9,787.1 192.9,786.4 199.8,785.8 206.4,786.5 213.2,786.9 220.1,786.7 227,787.9 233.7,789.3 240.8,789.2 247.9,788.8 255,788.5 262.1,788.4 269.2,788.5 276.3,788.4 283.3,787.9 290.4,787.2 297.4,786.3 304.4,785.2 311.3,783.8 318.1,782.3 324.9,780.9 331.8,779.9 338.8,779.4 345.8,779 352.7,777.9 359.7,776.9 366.8,775.9 373.8,774.7 380.7,773.2 387.4,771.1 393.5,767.8 398.5,763.4 402.7,758.2 406.1,752.3 408.9,745.8 411.6,739.3 414.5,732.9 417.3,726.5 419.9,719.9 422.3,713.2 424.5,706.5 426.6,699.7 428.6,692.9 430.6,686.1 432.4,679.3 434,672.4 435.4,665.4 436.6,658.5 437.8,651.5 438.8,644.5 439.8,637.5 440.7,630.4 441.5,623.4 442.2,616.4 442.9,609.3 443.5,602.3 444.1,595.2" stroke="#17357f" stroke-width="2.4"/>
<path d="M143,850.1L144.5,843.1 146.1,836.2 147.7,829.3 149.6,822.4 151.8,815.7 154.4,809.1 157.4,803.4 161.2,798.8 165.3,794.4 170.3,790.9 177.4,790.1 184.5,789.4 191.6,788.7 198.6,788.2 205.3,788.6 212.1,788.7 219.1,788.4 226,789.6 232.7,791.2 239.9,791.1 247,790.7 254.1,790.4 261.3,790.4 268.4,790.5 275.5,790.4 282.6,789.9 289.7,789.1 296.8,788.1 303.8,786.9 310.7,785.4 317.6,783.7 324.4,782.2 331.3,781 338.3,780.3 345.4,779.8 352.3,778.6 359.4,777.5 366.4,776.5 373.5,775.3 380.5,773.8 387.3,771.7 393.5,768.6 398.7,764.3 403.2,759.3 406.9,753.4 409.7,746.9 412.4,740.4 415.2,733.9 418,727.3 420.6,720.7 422.9,714 425.1,707.2 427.2,700.4 429.2,693.6 431.2,686.7 433,679.8 434.6,672.9 436,665.9 437.2,658.9 438.3,651.8 439.4,644.8 440.4,637.7 441.2,630.7 442,623.6 442.7,616.5 443.3,609.4 444,602.3 444.5,595.2" stroke="#17357f" stroke-width="2.4"/>
<path d="M142.6,854.5L144.1,847.5 145.6,840.5 147.2,833.5 149,826.6 151.1,819.8 153.6,813.1 156.5,807.1 160,802.1 163.9,797.3 168.9,793.3 175.9,792.4 183.1,791.7 190.2,791.1 197.3,790.5 204.1,790.7 211,790.5 218.1,790.1 225,791.3 231.7,793 238.9,792.9 246.1,792.5 253.3,792.3 260.4,792.4 267.6,792.5 274.8,792.4 282,791.8 289.1,791 296.1,789.9 303.2,788.6 310.1,787 317,785.2 323.9,783.5 330.8,782.1 337.8,781.3 344.9,780.6 352,779.3 359,778.1 366.1,777.1 373.2,775.9 380.2,774.4 387.1,772.4 393.5,769.4 398.9,765.2 403.7,760.3 407.6,754.5 410.5,748 413.2,741.4 415.9,734.8 418.6,728.2 421.2,721.5 423.5,714.7 425.7,707.9 427.8,701.1 429.8,694.2 431.8,687.3 433.6,680.3 435.1,673.4 436.5,666.3 437.8,659.3 438.9,652.2 439.9,645.1 440.9,638 441.7,630.9 442.5,623.8 443.2,616.6 443.8,609.5 444.4,602.4 445,595.2" stroke="#17357f" stroke-width="2.4"/>
<path d="M142.2,858.9L143.7,851.8 145.1,844.8 146.6,837.7 148.4,830.7 150.5,823.9 152.8,817.1 155.6,810.9 158.9,805.4 162.6,800.1 167.4,795.7 174.5,794.7 181.7,794.1 188.9,793.5 196,792.9 202.9,792.8 209.9,792.3 217,791.7 224,793 230.7,794.9 238,794.8 245.2,794.4 252.4,794.2 259.6,794.3 266.8,794.5 274.1,794.3 281.3,793.8 288.4,792.9 295.5,791.7 302.6,790.3 309.6,788.6 316.5,786.6 323.3,784.7 330.3,783.2 337.4,782.2 344.5,781.4 351.6,780 358.7,778.8 365.8,777.6 372.9,776.4 380,775 386.9,773 393.4,770.1 399.1,766.1 404.2,761.3 408.3,755.6 411.3,749.1 414,742.4 416.6,735.8 419.3,729.1 421.8,722.3 424.1,715.5 426.3,708.6 428.4,701.7 430.4,694.8 432.4,687.9 434.1,680.9 435.7,673.8 437.1,666.8 438.4,659.7 439.5,652.6 440.5,645.4 441.5,638.3 442.3,631.1 443,623.9 443.6,616.8 444.3,609.6 444.9,602.4 445.4,595.2" stroke="#17357f" stroke-width="2.4"/>
<path d="M141.9,863.3L143.3,856.2 144.6,849 146.1,842 147.8,834.9 149.8,828 152,821.1 154.7,814.6 157.7,808.7 161.2,802.9 165.9,798.1 173,797 180.3,796.4 187.5,795.9 194.7,795.3 201.8,794.9 208.8,794.2 216,793.4 222.9,794.8 229.7,796.7 237,796.6 244.3,796.3 251.5,796.2 258.8,796.3 266.1,796.5 273.3,796.3 280.6,795.7 287.8,794.8 294.9,793.5 302,792 309,790.1 315.9,788.1 322.8,786 329.8,784.3 336.9,783.1 344.1,782.2 351.2,780.7 358.3,779.4 365.5,778.2 372.7,777 379.8,775.5 386.8,773.6 393.4,770.9 399.3,767 404.7,762.4 409,756.7 412.1,750.2 414.8,743.4 417.3,736.7 419.9,729.9 422.5,723.1 424.8,716.3 426.9,709.3 429,702.4 431,695.4 432.9,688.4 434.7,681.4 436.3,674.3 437.7,667.2 439,660.1 440.1,652.9 441.1,645.7 442,638.5 442.8,631.3 443.5,624.1 444.1,616.9 444.7,609.7 445.3,602.4 445.9,595.2" stroke="#17357f" stroke-width="2.4"/>
<path d="M141.5,867.7L142.8,860.5 144.2,853.3 145.6,846.2 147.2,839.1 149.1,832 151.3,825.1 153.7,818.4 156.6,812 159.8,805.8 164.4,800.5 171.6,799.3 178.9,798.7 186.2,798.2 193.4,797.7 200.6,797 207.8,796 215,795.1 221.9,796.5 228.7,798.5 236.1,798.4 243.4,798.1 250.7,798.1 258,798.3 265.3,798.5 272.6,798.3 279.9,797.7 287.1,796.7 294.3,795.3 301.4,793.7 308.4,791.7 315.4,789.5 322.3,787.3 329.3,785.4 336.5,784.1 343.7,783 350.8,781.4 358,780 365.2,778.8 372.4,777.6 379.5,776.1 386.6,774.3 393.4,771.7 399.5,767.9 405.1,763.4 409.7,757.8 412.9,751.3 415.6,744.5 418,737.6 420.5,730.8 423.1,724 425.4,717 427.5,710.1 429.6,703.1 431.6,696.1 433.5,689 435.3,681.9 436.9,674.8 438.3,667.7 439.5,660.5 440.6,653.3 441.6,646 442.5,638.8 443.3,631.6 444,624.3 444.6,617 445.2,609.8 445.8,602.5 446.3,595.2" stroke="#17357f" stroke-width="2.4"/>
<path d="M141.1,872.1L142.4,864.8 143.7,857.6 145.1,850.4 146.6,843.2 148.4,836.1 150.5,829.1 152.8,822.1 155.4,815.3 158.5,808.6 162.9,802.9 170.1,801.6 177.5,801 184.8,800.6 192.1,800 199.4,799 206.7,797.8 214,796.8 220.9,798.2 227.8,800.4 235.1,800.3 242.4,800 249.8,800 257.1,800.3 264.5,800.5 271.8,800.3 279.2,799.7 286.4,798.5 293.6,797.1 300.8,795.4 307.8,793.3 314.8,791 321.8,788.6 328.8,786.4 336,785 343.3,783.8 350.4,782.1 357.6,780.6 364.9,779.4 372.1,778.2 379.3,776.7 386.4,774.9 393.3,772.4 399.7,768.8 405.6,764.4 410.4,758.9 413.7,752.4 416.3,745.5 418.7,738.6 421.2,731.6 423.7,724.8 426,717.8 428.1,710.8 430.2,703.7 432.2,696.7 434.1,689.6 435.9,682.5 437.5,675.3 438.9,668.1 440.1,660.9 441.2,653.6 442.2,646.4 443.1,639.1 443.9,631.8 444.5,624.5 445.1,617.2 445.7,609.8 446.2,602.5 446.7,595.2" stroke="#17357f" stroke-width="2.4"/>
<path d="M139.5,901C140.4,896.9 142.9,884.3 144.9,876.6C146.8,868.9 149.1,861.7 151.3,854.7C153.6,847.7 155.7,840.1 158.3,834.7C160.9,829.2 164.4,824.2 166.9,821.8C169.4,819.4 170.5,820.1 173.3,820.1C176.2,820.1 179.5,822.6 184.1,821.8C188.6,821 195.4,817.9 200.7,815.2C206.1,812.5 211.6,806 216.3,805.3C221.1,804.6 224.1,810.3 229.2,810.9C234.3,811.4 239.5,810.3 246.9,808.6C254.4,807 264.8,803.4 273.8,801C282.7,798.6 291.7,796.6 300.6,794.3C309.6,791.9 323,788 327.5,786.8" stroke="#17357f" stroke-width="2.0"/>
<path d="M158.3,767.3C159.7,764.6 161.1,753.4 166.9,750.9C172.7,748.3 185.8,752.6 193.2,751.9C200.6,751.2 207,747.5 211.5,746.4C216,745.3 217.7,744.2 220.1,745.3C222.5,746.4 221.5,751.5 226,752.9C230.5,754.4 239,752.9 246.9,753.8C254.9,754.7 265,760.4 273.8,758.3C282.6,756.3 290.6,745.8 299.6,741.7C308.5,737.7 318.4,734.9 327.5,733.9C336.6,733 346.4,737.1 354.4,736.2C362.3,735.3 369.9,729.7 375.3,728.6C380.7,727.5 383.1,729.8 386.6,729.6C390.1,729.4 392.7,729.7 396.3,727.4C399.8,725 404.5,721.2 408.1,715.4C411.7,709.6 415,700 417.7,692.5C420.5,684.9 422.4,678.8 424.7,670C427.1,661.3 429.5,652.6 431.7,640.1C433.9,627.6 437.1,602.7 438.2,595.2" stroke="#17357f" stroke-width="2.0"/>
<path d="M300.6,752.4C305.1,750.9 318.5,744.4 327.5,743.4C336.5,742.4 345.4,746.6 354.4,746.4C363.3,746.1 374.2,742.9 381.2,741.7C388.2,740.6 391.8,741.7 396.3,739.5C400.7,737.3 404.6,735 408.1,728.4C411.6,721.8 414.3,709.7 417.2,700C420.1,690.2 422.8,680 425.3,670C427.8,660.1 430,652.6 432.2,640.1C434.5,627.6 437.6,602.7 438.7,595.2" stroke="#17357f" stroke-width="2.0"/>
<path d="M142.2,857.1C143.5,847.1 147.6,813.5 150.2,797.2C152.9,781 155.6,768.8 158.3,759.8C161,750.9 163.2,747.2 166.4,743.4C169.5,739.5 172.6,738 177.1,736.6C181.6,735.3 187.8,735.3 193.2,735.1C198.6,735 204.9,735.8 209.3,735.9C213.8,736 216.5,735.4 220.1,735.9C223.7,736.4 226.3,737.4 230.8,738.9C235.3,740.4 241.6,742.6 246.9,744.9C252.3,747.1 258.6,750.4 263,752.4C267.5,754.3 267.5,755.8 273.8,756.8C280.1,757.8 291.7,758.3 300.6,758.3C309.6,758.3 318.5,756.8 327.5,756.8C336.5,756.8 345.4,758.1 354.4,758.3C363.3,758.6 373.2,758.8 381.2,758.3C389.3,757.8 396.4,757.1 402.7,755.3C409,753.6 414.8,751.5 418.8,747.9C422.8,744.2 424.5,739.1 426.9,733.6C429.2,728.2 430.4,724.3 432.8,714.9C435.2,705.6 438.5,690 441.1,677.5C443.7,665.1 446.4,652.6 448.4,640.1C450.3,627.6 452.1,610.2 452.9,602.7C453.8,595.2 453.4,596.5 453.5,595.2" stroke="#000000" stroke-width="1.6"/>
<path d="M142.7,857.1C144.1,847.1 148.1,813.3 150.8,797.2C153.5,781.2 156.2,769.5 158.8,760.7C161.5,752 163.8,748.4 166.9,744.6C170,740.7 173.3,739.1 177.6,737.7C182,736.3 187.9,736.3 193.2,736.2C198.5,736 204.9,736.7 209.3,736.8C213.8,736.9 216.5,736.3 220.1,736.8C223.7,737.3 226.3,738.3 230.8,739.8C235.3,741.2 241.6,743.3 246.9,745.5C252.3,747.7 258.6,751 263,752.9C267.5,754.9 267.5,756.4 273.8,757.4C280.1,758.4 291.7,758.9 300.6,758.9C309.6,758.9 318.5,757.4 327.5,757.4C336.5,757.4 345.4,758.7 354.4,758.9C363.3,759.2 373.2,759.4 381.2,758.9C389.3,758.4 396.3,757.7 402.7,755.9C409.1,754.1 415.1,751.9 419.4,748.2C423.6,744.4 425.6,739.2 428.1,733.6C430.5,728.1 431.5,724.3 433.9,714.9C436.2,705.6 439.4,690 441.9,677.5C444.5,665.1 447.2,652.6 449.2,640.1C451.1,627.6 452.7,610.2 453.5,602.7C454.4,595.2 454,596.5 454.1,595.2" stroke="#000000" stroke-width="1.6"/>
<path d="M143.3,857.1C144.6,847.1 148.6,813.2 151.3,797.2C154,781.3 156.7,770.2 159.4,761.6C162.1,753 164.3,749.6 167.4,745.8C170.6,741.9 173.9,740.2 178.2,738.7C182.5,737.3 188,737.4 193.2,737.2C198.4,737.1 204.9,737.6 209.3,737.7C213.8,737.8 216.5,737.2 220.1,737.7C223.7,738.2 226.3,739.3 230.8,740.7C235.3,742.1 241.6,743.9 246.9,746.1C252.3,748.2 258.6,751.6 263,753.5C267.5,755.5 267.5,757 273.8,758C280.1,759 291.7,759.5 300.6,759.5C309.6,759.5 318.5,758 327.5,758C336.5,758 345.4,759.3 354.4,759.5C363.3,759.8 373.2,760 381.2,759.5C389.3,759 396.3,758.4 402.7,756.5C409.1,754.7 415.5,752.3 419.9,748.5C424.3,744.6 426.7,739.2 429.2,733.6C431.7,728.1 432.7,724.3 434.9,714.9C437.2,705.6 440.2,690 442.7,677.5C445.2,665.1 448.1,652.6 450,640.1C451.9,627.6 453.4,610.2 454.2,602.7C455,595.2 454.6,596.5 454.7,595.2" stroke="#000000" stroke-width="1.6"/>
<path d="M143.8,857.1C145.1,847.1 149.2,813 151.9,797.2C154.5,781.5 157.2,770.9 159.9,762.5C162.6,754.1 164.8,750.8 168,747C171.1,743.2 174.5,741.2 178.7,739.8C182.9,738.3 188.1,738.5 193.2,738.3C198.3,738.1 204.9,738.5 209.3,738.6C213.8,738.6 216.5,738.1 220.1,738.6C223.7,739.1 226.3,740.2 230.8,741.6C235.3,742.9 241.6,744.6 246.9,746.7C252.3,748.8 258.6,752.2 263,754.1C267.5,756.1 267.5,757.6 273.8,758.6C280.1,759.6 291.7,760.1 300.6,760.1C309.6,760.1 318.5,758.6 327.5,758.6C336.5,758.6 345.4,759.9 354.4,760.1C363.3,760.4 373.2,760.6 381.2,760.1C389.3,759.6 396.2,759 402.7,757.1C409.2,755.2 415.8,752.7 420.4,748.8C425,744.8 427.8,739.3 430.4,733.6C433,728 433.8,724.3 436,714.9C438.2,705.6 441.1,690 443.5,677.5C446,665.1 448.9,652.6 450.8,640.1C452.7,627.6 454,610.2 454.8,602.7C455.5,595.2 455.2,596.5 455.3,595.2" stroke="#000000" stroke-width="1.6"/>
<path d="M144.3,857.1C145.7,847.1 149.7,812.9 152.4,797.2C155.1,781.6 157.8,771.6 160.4,763.4C163.1,755.2 165.4,751.9 168.5,748.2C171.6,744.4 175.1,742.3 179.2,740.8C183.4,739.4 188.2,739.6 193.2,739.3C198.2,739.1 204.9,739.5 209.3,739.5C213.8,739.5 216.5,739 220.1,739.5C223.7,740 226.3,741.2 230.8,742.5C235.3,743.8 241.6,745.2 246.9,747.3C252.3,749.3 258.6,752.7 263,754.7C267.5,756.7 267.5,758.2 273.8,759.2C280.1,760.2 291.7,760.7 300.6,760.7C309.6,760.7 318.5,759.2 327.5,759.2C336.5,759.2 345.4,760.5 354.4,760.7C363.3,761 373.2,761.2 381.2,760.7C389.3,760.2 396.1,759.7 402.7,757.7C409.3,755.8 416.1,753.1 421,749.1C425.8,745 428.9,739.3 431.6,733.6C434.3,728 435,724.3 437.1,714.9C439.2,705.6 441.9,690 444.3,677.5C446.8,665.1 449.8,652.6 451.6,640.1C453.5,627.6 454.7,610.2 455.4,602.7C456.1,595.2 455.9,596.5 456,595.2" stroke="#000000" stroke-width="1.6"/>
<path d="M144.9,857.1C146.2,847.1 150.2,812.7 152.9,797.2C155.6,781.8 158.3,772.3 161,764.3C163.7,756.3 165.9,753.1 169,749.4C172.2,745.6 175.8,743.4 179.8,741.9C183.8,740.4 188.3,740.6 193.2,740.4C198.1,740.1 204.9,740.4 209.3,740.4C213.8,740.4 216.5,739.9 220.1,740.4C223.7,740.9 226.3,742.1 230.8,743.4C235.3,744.6 241.6,745.9 246.9,747.9C252.3,749.9 258.6,753.3 263,755.3C267.5,757.3 267.5,758.8 273.8,759.8C280.1,760.8 291.7,761.3 300.6,761.3C309.6,761.3 318.5,759.8 327.5,759.8C336.5,759.8 345.4,761.1 354.4,761.3C363.3,761.6 373.2,761.8 381.2,761.3C389.3,760.8 396,760.3 402.7,758.3C409.4,756.3 416.5,753.5 421.5,749.4C426.5,745.2 430,739.4 432.8,733.6C435.6,727.9 436.1,724.3 438.2,714.9C440.2,705.6 442.8,690 445.1,677.5C447.5,665.1 450.6,652.6 452.4,640.1C454.3,627.6 455.3,610.2 456,602.7C456.7,595.2 456.5,596.5 456.6,595.2" stroke="#000000" stroke-width="1.6"/>
<path d="M137.9,887L138.6,880.5 139.3,874 139.8,867.5 140.2,861 140.4,854.5 140.6,848 140.8,841.4 141.1,834.9 141.6,828.4 142.2,821.9 143,815.4 144,809 145,802.5 146,796.1 147,789.6 148.1,783.2 149.3,776.8 150.4,770.3 151.6,763.9 152.7,757.5 153.6,751 154.4,744.5 155,738 155.6,731.5 156.2,725 157.1,718.5 158.5,712.2 160.8,706.1 164,700.4 167.9,695.1 173.3,691.5 179.6,690.4 185.9,691.9 192.1,694 198.2,696.3 204.3,698.6 210.5,700.8 216.6,703.1 222.7,705.6 228.6,708.4 234.5,711.2 240.5,713.8 246.6,716.3 252.5,719 258.4,721.8 264.4,724.5 270.3,727.3 276.5,729.4 282.9,730.9 289.2,732.7 294.9,735.7 300.8,738.4 307.3,738.3 313.8,737.6 320.4,737.5 326.8,738.3 333.3,739.4 339.7,740.8 345.9,742.7 351.8,745.6 358.3,746.3 364.8,746.3 371.3,746.2 377.9,746.1 384.4,746.2 391,746.5 397.5,747.1 403.8,748.9 410.3,749.1 416.6,747.4 422.3,744.2 426.4,739.2 429.8,733.7 433.5,728.2 436.8,722.6 439.6,716.7 441.8,710.6 443.7,704.3 445.4,698 447.1,691.7 448.7,685.4 450.2,679 451.6,672.6 452.9,666.2 454.1,659.8 455.3,653.4 456.4,647 457.4,640.5 458.4,634.1 459.4,627.6 460.3,621.1 461.1,614.7 462,608.2 462.8,601.7 463.4,595.2" stroke="#dc1529" stroke-width="2.0"/>
<path d="M138,887L138.8,880.6 139.5,874.1 140.1,867.6 140.6,861.1 140.8,854.6 141,848.1 141.3,841.6 141.6,835 142.1,828.5 142.8,822.1 143.6,815.6 144.5,809.1 145.5,802.7 146.6,796.3 147.6,789.8 148.7,783.4 149.9,777 151,770.6 152.2,764.1 153.3,757.7 154.3,751.3 155.1,744.8 155.8,738.3 156.5,731.9 157.3,725.5 158.4,719.1 160.1,713 162.6,707.1 165.9,701.7 169.9,696.8 175.3,693.5 181.6,692.5 187.9,694.1 194,696.3 200.1,698.6 206.2,700.9 212.4,703.2 218.5,705.5 224.5,708 230.4,710.8 236.3,713.6 242.3,716.2 248.3,718.7 254.3,721.4 260.2,724.1 266.2,726.7 272.1,729.2 278.3,731.1 284.7,732.6 291,734.4 296.7,737.4 302.6,740.1 309.1,740.1 315.6,739.2 322.1,739.1 328.6,739.9 335,741 341.4,742.2 347.7,744 353.5,746.8 360,747.5 366.5,747.5 373,747.5 379.6,747.4 386.1,747.4 392.6,747.7 399,748.1 405.2,749.5 411.4,749.4 417.5,747.5 423.1,744.2 427.2,739.2 430.5,733.6 434.1,728.1 437.5,722.5 440.2,716.6 442.3,710.5 444.2,704.2 445.9,697.9 447.5,691.6 449.1,685.3 450.6,678.9 452,672.6 453.3,666.2 454.5,659.8 455.6,653.3 456.7,646.9 457.7,640.5 458.7,634 459.7,627.6 460.5,621.1 461.4,614.6 462.3,608.2 463.1,601.7 463.7,595.2" stroke="#dc1529" stroke-width="2.0"/>
<path d="M138.1,887L139,880.6 139.8,874.1 140.4,867.7 140.9,861.2 141.2,854.7 141.5,848.2 141.8,841.7 142.1,835.2 142.6,828.7 143.3,822.2 144.2,815.7 145.1,809.3 146.1,802.9 147.1,796.4 148.2,790 149.3,783.6 150.5,777.2 151.6,770.8 152.8,764.4 154,758 155,751.5 155.8,745.1 156.6,738.7 157.5,732.3 158.5,725.9 159.8,719.7 161.6,713.8 164.3,708.2 167.8,703.1 171.9,698.4 177.3,695.4 183.6,694.6 189.8,696.3 196,698.5 202,700.9 208.1,703.2 214.2,705.5 220.3,707.8 226.3,710.4 232.2,713.2 238.1,716 244.1,718.6 250.1,721.1 256.1,723.8 262,726.4 268,728.8 273.9,731.1 280.1,732.9 286.5,734.3 292.7,736.1 298.5,739.1 304.4,741.8 310.9,741.8 317.3,740.9 323.8,740.7 330.3,741.4 336.7,742.5 343.1,743.7 349.4,745.4 355.3,748 361.7,748.7 368.2,748.8 374.7,748.9 381.3,748.8 387.8,748.7 394.3,748.9 400.6,749.1 406.6,750.1 412.6,749.7 418.5,747.6 423.9,744.2 427.9,739.1 431.2,733.5 434.8,728.1 438.1,722.4 440.7,716.5 442.9,710.4 444.7,704.1 446.4,697.8 448,691.5 449.5,685.2 451,678.8 452.3,672.5 453.6,666.1 454.8,659.7 455.9,653.3 457,646.8 458,640.4 459,634 459.9,627.5 460.8,621.1 461.7,614.6 462.5,608.2 463.4,601.7 463.9,595.2" stroke="#dc1529" stroke-width="2.0"/>
<path d="M138.3,887L139.2,880.6 140,874.2 140.7,867.7 141.2,861.2 141.6,854.8 141.9,848.3 142.2,841.8 142.6,835.3 143.2,828.8 143.9,822.4 144.7,815.9 145.7,809.5 146.7,803 147.7,796.6 148.8,790.2 149.9,783.8 151,777.4 152.3,771 153.4,764.6 154.6,758.2 155.6,751.8 156.6,745.4 157.4,739 158.4,732.6 159.6,726.4 161.1,720.3 163.2,714.6 166,709.2 169.7,704.4 173.9,700.1 179.3,697.4 185.5,696.8 191.8,698.5 197.9,700.8 203.9,703.2 210,705.5 216.1,707.8 222.2,710.2 228.1,712.8 234,715.6 239.9,718.4 245.8,721 251.9,723.5 257.8,726.2 263.8,728.7 269.8,731 275.7,733.1 281.9,734.6 288.3,736 294.5,737.8 300.3,740.8 306.2,743.4 312.6,743.5 319,742.5 325.5,742.3 332,743 338.4,744 344.8,745.1 351.1,746.8 357,749.3 363.5,749.9 370,750 376.4,750.2 382.9,750.1 389.4,750 395.9,750.1 402.2,750.1 407.9,750.7 413.8,750 419.5,747.7 424.7,744.2 428.7,739.1 431.9,733.5 435.4,728 438.7,722.4 441.3,716.4 443.4,710.3 445.2,704 446.9,697.7 448.4,691.4 449.9,685.1 451.4,678.7 452.7,672.4 454,666 455.2,659.6 456.3,653.2 457.3,646.8 458.3,640.4 459.3,633.9 460.2,627.5 461.1,621 462,614.6 462.8,608.1 463.6,601.7 464.2,595.2" stroke="#dc1529" stroke-width="2.0"/>
<path d="M138.4,887L139.3,880.6 140.2,874.2 141,867.8 141.6,861.3 142,854.9 142.3,848.4 142.7,841.9 143.1,835.4 143.7,829 144.4,822.5 145.3,816.1 146.2,809.6 147.2,803.2 148.3,796.8 149.3,790.4 150.5,784 151.6,777.6 152.9,771.2 154.1,764.9 155.2,758.5 156.3,752.1 157.3,745.7 158.3,739.3 159.4,733 160.7,726.8 162.4,720.9 164.7,715.4 167.8,710.3 171.6,705.7 175.9,701.7 181.4,699.3 187.5,698.9 193.8,700.7 199.8,703 205.8,705.5 211.9,707.9 217.9,710.2 224,712.6 230,715.1 235.8,718 241.7,720.8 247.6,723.5 253.6,725.9 259.6,728.5 265.6,731 271.6,733.2 277.6,735 283.7,736.4 290.1,737.6 296.3,739.5 302.1,742.4 308,745.1 314.4,745.3 320.8,744.2 327.3,743.9 333.7,744.6 340.2,745.5 346.6,746.6 352.8,748.1 358.7,750.5 365.2,751 371.7,751.3 378.1,751.6 384.6,751.5 391.1,751.3 397.6,751.3 403.8,751 409.3,751.3 414.9,750.3 420.5,747.8 425.6,744.2 429.4,739 432.7,733.4 436.1,727.9 439.3,722.3 441.9,716.3 443.9,710.1 445.7,703.9 447.4,697.6 448.9,691.3 450.4,685 451.8,678.7 453.1,672.3 454.3,665.9 455.5,659.5 456.6,653.1 457.6,646.7 458.6,640.3 459.6,633.9 460.5,627.4 461.4,621 462.3,614.6 463.1,608.1 463.9,601.7 464.5,595.2" stroke="#dc1529" stroke-width="2.0"/>
<path d="M138.5,887L139.5,880.6 140.5,874.3 141.3,867.8 141.9,861.4 142.4,854.9 142.8,848.5 143.2,842 143.6,835.5 144.2,829.1 145,822.7 145.8,816.2 146.8,809.8 147.8,803.4 148.9,797 149.9,790.6 151,784.2 152.2,777.8 153.5,771.5 154.7,765.1 155.9,758.7 157,752.3 158,746 159.1,739.6 160.3,733.4 161.8,727.3 163.7,721.5 166.3,716.2 169.5,711.3 173.5,707.1 177.9,703.4 183.4,701.2 189.5,701 195.7,702.9 201.7,705.3 207.7,707.8 213.8,710.2 219.8,712.5 225.8,714.9 231.8,717.5 237.6,720.4 243.4,723.3 249.4,725.9 255.4,728.4 261.4,730.9 267.4,733.3 273.4,735.3 279.4,737 285.5,738.1 291.9,739.3 298.1,741.2 303.9,744.1 309.7,746.8 316.2,747 322.5,745.9 329,745.5 335.4,746.1 341.9,747 348.3,748 354.5,749.5 360.5,751.7 366.9,752.2 373.4,752.5 379.8,752.9 386.3,752.8 392.8,752.6 399.2,752.5 405.3,752 410.7,751.9 416.1,750.6 421.5,747.9 426.4,744.1 430.2,739 433.4,733.3 436.8,727.8 439.9,722.2 442.5,716.2 444.5,710 446.2,703.8 447.8,697.5 449.3,691.2 450.8,684.9 452.2,678.6 453.5,672.2 454.7,665.8 455.8,659.5 456.9,653.1 457.9,646.7 458.9,640.2 459.9,633.8 460.8,627.4 461.7,621 462.5,614.5 463.4,608.1 464.2,601.7 464.7,595.2" stroke="#dc1529" stroke-width="2.0"/>
<path d="M138.7,887L139.7,880.7 140.7,874.3 141.6,867.9 142.3,861.5 142.8,855 143.2,848.6 143.6,842.1 144.1,835.7 144.8,829.2 145.5,822.8 146.4,816.4 147.4,810 148.4,803.6 149.4,797.2 150.5,790.8 151.6,784.4 152.8,778 154.1,771.7 155.3,765.3 156.5,759 157.7,752.6 158.8,746.2 159.9,739.9 161.3,733.7 162.9,727.8 165.1,722.1 167.8,717 171.2,712.4 175.3,708.4 179.9,705.1 185.4,703.2 191.5,703.1 197.7,705.1 203.7,707.5 209.6,710 215.6,712.5 221.7,714.9 227.7,717.3 233.6,719.9 239.4,722.8 245.2,725.7 251.2,728.3 257.2,730.8 263.1,733.3 269.1,735.7 275.2,737.5 281.2,738.9 287.3,739.9 293.7,741 299.9,742.9 305.7,745.8 311.5,748.4 318,748.7 324.3,747.5 330.7,747.1 337.2,747.7 343.6,748.5 350,749.5 356.3,750.9 362.2,752.9 368.7,753.4 375.1,753.7 381.5,754.3 388,754.2 394.5,753.9 400.9,753.7 406.9,753 412.1,752.5 417.3,750.9 422.4,748 427.2,744.1 430.9,738.9 434.1,733.2 437.4,727.7 440.6,722.1 443,716.1 445,709.9 446.7,703.7 448.3,697.4 449.8,691.1 451.2,684.8 452.6,678.5 453.9,672.1 455.1,665.8 456.2,659.4 457.2,653 458.3,646.6 459.2,640.2 460.2,633.8 461.1,627.4 462,620.9 462.8,614.5 463.6,608.1 464.5,601.7 465,595.2" stroke="#dc1529" stroke-width="2.0"/>
<path d="M138.8,887L139.9,880.7 141,874.3 141.9,868 142.6,861.5 143.2,855.1 143.6,848.7 144.1,842.2 144.7,835.8 145.3,829.4 146.1,822.9 147,816.5 147.9,810.1 148.9,803.8 150,797.4 151.1,791 152.2,784.6 153.4,778.3 154.7,771.9 155.9,765.6 157.1,759.2 158.3,752.9 159.5,746.5 160.7,740.2 162.2,734.1 164.1,728.2 166.4,722.7 169.4,717.8 173,713.4 177.2,709.7 181.9,706.7 187.4,705.1 193.5,705.3 199.6,707.3 205.6,709.8 211.5,712.3 217.5,714.8 223.5,717.2 229.5,719.7 235.4,722.3 241.2,725.2 247,728.1 252.9,730.7 258.9,733.2 264.9,735.7 270.9,738 277,739.6 283,740.8 289.1,741.6 295.5,742.7 301.7,744.6 307.5,747.5 313.3,750.1 319.7,750.5 326,749.2 332.4,748.7 338.9,749.3 345.3,750 351.7,750.9 358,752.2 364,754.1 370.4,754.6 376.9,755 383.2,755.6 389.7,755.5 396.1,755.2 402.5,754.9 408.5,753.9 413.5,753.1 418.4,751.3 423.4,748.2 428.1,744.1 431.7,738.8 434.8,733.2 438.1,727.6 441.2,722 443.6,716 445.6,709.8 447.2,703.6 448.8,697.3 450.2,691 451.6,684.7 453,678.4 454.3,672 455.4,665.7 456.5,659.3 457.6,652.9 458.6,646.5 459.6,640.1 460.5,633.7 461.4,627.3 462.3,620.9 463.1,614.5 463.9,608.1 464.7,601.7 465.3,595.2" stroke="#dc1529" stroke-width="2.0"/>
<path d="M138.9,887L140.1,880.7 141.2,874.4 142.2,868 143,861.6 143.5,855.2 144.1,848.8 144.6,842.4 145.2,835.9 145.8,829.5 146.6,823.1 147.5,816.7 148.5,810.3 149.5,803.9 150.6,797.6 151.6,791.2 152.8,784.8 154,778.5 155.3,772.1 156.5,765.8 157.8,759.5 159,753.1 160.2,746.8 161.5,740.6 163.2,734.5 165.2,728.7 167.7,723.3 170.9,718.6 174.7,714.5 179.1,711.1 183.9,708.4 189.4,707.1 195.5,707.4 201.6,709.5 207.5,712 213.4,714.6 219.4,717.1 225.4,719.5 231.3,722 237.2,724.7 243,727.6 248.8,730.5 254.7,733.1 260.7,735.6 266.7,738.1 272.7,740.3 278.8,741.8 284.8,742.8 290.9,743.4 297.3,744.4 303.4,746.3 309.2,749.1 315.1,751.7 321.5,752.2 327.7,750.8 334.2,750.3 340.6,750.8 347,751.5 353.4,752.4 359.7,753.6 365.7,755.4 372.2,755.8 378.6,756.2 384.9,756.9 391.4,756.9 397.8,756.4 404.2,756 410,754.9 414.9,753.7 419.6,751.6 424.4,748.3 428.9,744.1 432.4,738.8 435.5,733.1 438.8,727.6 441.8,721.9 444.2,715.9 446.1,709.7 447.8,703.5 449.3,697.2 450.7,690.9 452.1,684.6 453.4,678.3 454.6,671.9 455.8,665.6 456.9,659.2 457.9,652.8 458.9,646.5 459.9,640.1 460.8,633.7 461.7,627.3 462.5,620.9 463.4,614.5 464.2,608.1 465,601.7 465.5,595.2" stroke="#dc1529" stroke-width="2.0"/>
<path d="M139,887L140.3,880.7 141.5,874.4 142.5,868.1 143.3,861.7 143.9,855.3 144.5,848.9 145.1,842.5 145.7,836.1 146.4,829.6 147.2,823.2 148.1,816.9 149.1,810.5 150.1,804.1 151.1,797.7 152.2,791.4 153.4,785 154.6,778.7 155.9,772.4 157.2,766 158.4,759.7 159.7,753.4 160.9,747.1 162.3,740.9 164.1,734.9 166.3,729.1 169.1,723.9 172.4,719.4 176.5,715.6 181,712.4 185.9,710 191.5,709 197.5,709.5 203.5,711.7 209.4,714.3 215.3,716.9 221.3,719.4 227.2,721.9 233.2,724.4 239.1,727.1 244.8,730 250.6,732.9 256.5,735.5 262.5,738 268.4,740.5 274.5,742.6 280.6,743.9 286.6,744.7 292.7,745.1 299.1,746 305.2,748 311,750.8 316.9,753.4 323.3,753.9 329.5,752.5 335.9,752 342.3,752.4 348.7,753 355.1,753.8 361.4,755 367.5,756.6 373.9,757 380.3,757.4 386.6,758.3 393.1,758.2 399.5,757.7 405.8,757.2 411.6,755.9 416.3,754.4 420.8,751.9 425.4,748.4 429.7,744.1 433.2,738.7 436.2,733 439.4,727.5 442.4,721.8 444.8,715.8 446.6,709.6 448.3,703.4 449.7,697.1 451.2,690.8 452.5,684.5 453.8,678.2 455,671.9 456.2,665.5 457.2,659.2 458.2,652.8 459.2,646.4 460.2,640 461.1,633.6 462,627.2 462.8,620.8 463.6,614.4 464.5,608 465.3,601.6 465.8,595.2" stroke="#dc1529" stroke-width="2.0"/>
<path d="M139.2,887L140.5,880.8 141.7,874.5 142.8,868.1 143.6,861.8 144.3,855.4 144.9,849 145.5,842.6 146.2,836.2 146.9,829.8 147.7,823.4 148.7,817 149.6,810.6 150.6,804.3 151.7,797.9 152.8,791.6 154,785.2 155.2,778.9 156.5,772.6 157.8,766.3 159.1,760 160.4,753.7 161.7,747.4 163.1,741.2 165.1,735.2 167.4,729.6 170.4,724.5 174,720.2 178.2,716.6 182.9,713.7 187.8,711.7 193.5,711 199.5,711.7 205.5,713.9 211.4,716.5 217.2,719.2 223.2,721.7 229.1,724.2 235,726.8 240.9,729.5 246.6,732.4 252.4,735.4 258.3,738 264.2,740.4 270.2,742.8 276.3,744.9 282.4,746.1 288.4,746.7 294.6,746.9 300.9,747.7 307,749.7 312.8,752.5 318.7,755.1 325.1,755.7 331.2,754.1 337.6,753.6 344,753.9 350.4,754.6 356.8,755.3 363.1,756.3 369.2,757.8 375.6,758.1 382,758.7 388.3,759.6 394.7,759.6 401.1,759 407.5,758.4 413.2,756.8 417.6,755 421.9,752.2 426.3,748.5 430.5,744.1 433.9,738.7 436.9,733 440.1,727.4 443,721.7 445.3,715.7 447.2,709.5 448.8,703.3 450.2,697 451.6,690.7 452.9,684.4 454.2,678.1 455.4,671.8 456.5,665.4 457.6,659.1 458.6,652.7 459.5,646.3 460.5,640 461.4,633.6 462.3,627.2 463.1,620.8 463.9,614.4 464.7,608 465.5,601.6 466.1,595.2" stroke="#dc1529" stroke-width="2.0"/>
<path d="M139.3,887L140.6,880.8 141.9,874.5 143.1,868.2 144,861.8 144.7,855.5 145.4,849.1 146,842.7 146.7,836.3 147.4,829.9 148.3,823.5 149.2,817.2 150.2,810.8 151.2,804.5 152.3,798.1 153.4,791.8 154.5,785.4 155.8,779.1 157.1,772.8 158.4,766.5 159.7,760.2 161,753.9 162.4,747.7 164,741.5 166,735.6 168.5,730 171.7,725.1 175.5,721 179.9,717.7 184.8,715.1 189.8,713.3 195.5,712.9 201.5,713.8 207.5,716.1 213.3,718.8 219.1,721.5 225,724 231,726.6 236.9,729.1 242.7,731.8 248.4,734.8 254.1,737.8 260,740.4 266,742.8 272,745.2 278.1,747.2 284.2,748.3 290.2,748.6 296.4,748.6 302.7,749.4 308.8,751.4 314.6,754.1 320.5,756.7 326.8,757.4 333,755.8 339.3,755.2 345.7,755.5 352.1,756.1 358.5,756.7 364.8,757.7 370.9,759 377.4,759.3 383.8,759.9 390,761 396.4,760.9 402.8,760.3 409.1,759.6 414.7,757.8 419,755.6 423.1,752.5 427.3,748.6 431.4,744.1 434.7,738.6 437.6,732.9 440.8,727.3 443.6,721.6 445.9,715.6 447.7,709.4 449.3,703.2 450.7,696.9 452.1,690.6 453.3,684.3 454.6,678 455.8,671.7 456.9,665.4 457.9,659 458.9,652.6 459.8,646.3 460.8,639.9 461.7,633.5 462.5,627.2 463.4,620.8 464.2,614.4 465,608 465.8,601.6 466.4,595.2" stroke="#dc1529" stroke-width="2.0"/>
<path d="M139.4,887L140.8,880.8 142.2,874.5 143.4,868.3 144.3,861.9 145.1,855.6 145.8,849.2 146.5,842.8 147.2,836.4 148,830.1 148.8,823.7 149.8,817.3 150.8,811 151.8,804.6 152.8,798.3 154,792 155.1,785.6 156.4,779.3 157.7,773 159,766.8 160.3,760.5 161.7,754.2 163.1,748 164.8,741.8 167,736 169.7,730.5 173,725.7 177.1,721.8 181.7,718.7 186.7,716.4 191.8,715 197.5,714.9 203.5,715.9 209.4,718.3 215.2,721 221,723.8 226.9,726.3 232.8,728.9 238.7,731.5 244.5,734.2 250.2,737.2 255.9,740.2 261.8,742.8 267.8,745.3 273.8,747.6 279.8,749.5 286,750.4 292,750.5 298.2,750.4 304.5,751.1 310.6,753.1 316.4,755.8 322.3,758.4 328.6,759.2 334.7,757.5 341,756.8 347.5,757.1 353.9,757.6 360.2,758.2 366.6,759.1 372.7,760.2 379.1,760.5 385.5,761.1 391.7,762.3 398.1,762.3 404.5,761.6 410.8,760.8 416.3,758.8 420.4,756.2 424.3,752.8 428.3,748.7 432.2,744 435.4,738.6 438.3,732.8 441.4,727.2 444.3,721.5 446.5,715.5 448.2,709.3 449.8,703.1 451.2,696.8 452.5,690.5 453.8,684.2 455,677.9 456.2,671.6 457.2,665.3 458.3,658.9 459.2,652.6 460.2,646.2 461.1,639.9 462,633.5 462.8,627.1 463.7,620.7 464.5,614.4 465.3,608 466.1,601.6 466.6,595.2" stroke="#dc1529" stroke-width="2.0"/>
<path d="M139.6,887L141,880.8 142.4,874.6 143.7,868.3 144.7,862 145.5,855.6 146.2,849.3 147,842.9 147.7,836.6 148.5,830.2 149.4,823.8 150.4,817.5 151.3,811.1 152.4,804.8 153.4,798.5 154.5,792.2 155.7,785.9 157,779.6 158.3,773.3 159.6,767 161,760.7 162.4,754.5 163.9,748.3 165.6,742.1 167.9,736.4 170.8,731 174.4,726.3 178.6,722.6 183.4,719.8 188.6,717.7 193.8,716.7 199.5,716.8 205.5,718 211.4,720.5 217.1,723.3 222.9,726.1 228.8,728.6 234.7,731.2 240.5,733.9 246.3,736.6 252,739.6 257.7,742.6 263.6,745.2 269.5,747.7 275.5,750 281.6,751.8 287.8,752.6 293.8,752.5 300,752.1 306.3,752.8 312.4,754.8 318.2,757.5 324.1,760.1 330.4,760.9 336.4,759.1 342.8,758.4 349.2,758.6 355.6,759.1 362,759.7 368.3,760.4 374.4,761.5 380.8,761.7 387.2,762.4 393.4,763.7 399.8,763.7 406.1,762.9 412.4,762 417.9,759.8 421.8,756.8 425.4,753.1 429.3,748.8 433,744 436.2,738.5 439,732.8 442.1,727.2 444.9,721.4 447.1,715.4 448.8,709.2 450.3,703 451.7,696.7 453,690.4 454.2,684.1 455.4,677.8 456.5,671.5 457.6,665.2 458.6,658.9 459.6,652.5 460.5,646.2 461.4,639.8 462.3,633.4 463.1,627.1 464,620.7 464.8,614.3 465.6,608 466.4,601.6 466.9,595.2" stroke="#dc1529" stroke-width="2.0"/>
<path d="M139.7,887L141.2,880.8 142.7,874.6 144,868.4 145,862.1 145.9,855.7 146.7,849.4 147.4,843 148.2,836.7 149,830.3 150,824 150.9,817.7 151.9,811.3 152.9,805 154,798.7 155.1,792.4 156.3,786.1 157.6,779.8 158.9,773.5 160.2,767.2 161.6,761 163,754.7 164.6,748.5 166.4,742.5 168.9,736.7 171.9,731.4 175.7,726.9 180.2,723.4 185.1,720.8 190.4,719 195.8,718.3 201.6,718.7 207.5,720.2 213.3,722.7 219.1,725.5 224.8,728.3 230.7,730.9 236.5,733.6 242.4,736.2 248.2,739 253.8,742 259.5,745 265.4,747.6 271.3,750.1 277.3,752.4 283.4,754.2 289.6,754.7 295.6,754.4 301.8,753.9 308.1,754.4 314.1,756.5 320,759.2 325.9,761.7 332.1,762.6 338.2,760.8 344.5,760 350.9,760.2 357.3,760.6 363.7,761.1 370,761.8 376.2,762.7 382.6,762.9 388.9,763.6 395.1,765 401.5,765 407.8,764.1 414.1,763.2 419.4,760.7 423.2,757.4 426.6,753.5 430.3,748.9 433.8,744 436.9,738.5 439.7,732.7 442.7,727.1 445.5,721.3 447.6,715.3 449.3,709.1 450.8,702.9 452.1,696.6 453.4,690.3 454.6,684 455.8,677.7 456.9,671.4 458,665.1 458.9,658.8 459.9,652.4 460.8,646.1 461.7,639.7 462.6,633.4 463.4,627 464.2,620.7 465,614.3 465.8,608 466.6,601.6 467.2,595.2" stroke="#dc1529" stroke-width="2.0"/>
<path d="M139.8,887L141.4,880.9 142.9,874.7 144.3,868.4 145.4,862.1 146.3,855.8 147.1,849.5 147.9,843.1 148.7,836.8 149.6,830.5 150.5,824.1 151.5,817.8 152.5,811.5 153.5,805.2 154.6,798.9 155.7,792.5 156.9,786.3 158.2,780 159.5,773.7 160.9,767.5 162.3,761.2 163.7,755 165.3,748.8 167.2,742.8 169.8,737.1 173,731.9 177,727.5 181.7,724.2 186.9,721.9 192.3,720.4 197.8,720 203.6,720.7 209.5,722.3 215.3,724.9 221,727.8 226.7,730.6 232.6,733.3 238.4,735.9 244.2,738.6 250,741.4 255.6,744.4 261.3,747.4 267.1,750.1 273.1,752.5 279.1,754.7 285.2,756.5 291.4,756.9 297.5,756.4 303.6,755.7 309.9,756.1 315.9,758.3 321.8,760.8 327.6,763.4 333.9,764.4 339.9,762.4 346.2,761.6 352.6,761.7 359,762.1 365.4,762.6 371.7,763.2 377.9,763.9 384.3,764.1 390.6,764.9 396.8,766.4 403.2,766.4 409.5,765.4 415.7,764.4 421,761.7 424.6,758 427.8,753.8 431.2,749.1 434.7,744 437.7,738.4 440.4,732.6 443.4,727 446.1,721.2 448.2,715.2 449.9,709 451.3,702.8 452.6,696.5 453.9,690.2 455.1,683.9 456.2,677.6 457.3,671.3 458.3,665 459.3,658.7 460.2,652.4 461.1,646 462,639.7 462.9,633.3 463.7,627 464.5,620.7 465.3,614.3 466.1,607.9 466.9,601.6 467.4,595.2" stroke="#dc1529" stroke-width="2.0"/>
<path d="M139.9,887L141.6,880.9 143.2,874.7 144.6,868.5 145.7,862.2 146.7,855.9 147.5,849.6 148.4,843.3 149.2,836.9 150.1,830.6 151.1,824.3 152,818 153,811.7 154.1,805.3 155.1,799 156.3,792.7 157.5,786.5 158.8,780.2 160.1,774 161.5,767.7 162.9,761.5 164.4,755.3 166,749.1 168,743.1 170.8,737.5 174.1,732.3 178.3,728.1 183.3,725 188.6,722.9 194.2,721.7 199.8,721.6 205.6,722.6 211.5,724.4 217.2,727.1 222.9,730 228.6,732.9 234.4,735.6 240.3,738.2 246,741 251.8,743.8 257.5,746.8 263.1,749.9 268.9,752.5 274.8,754.9 280.8,757.1 287,758.8 293.2,759.1 299.3,758.3 305.4,757.4 311.7,757.8 317.7,760 323.6,762.5 329.4,765.1 335.7,766.1 341.6,764.1 347.9,763.2 354.3,763.3 360.7,763.6 367.1,764 373.4,764.5 379.7,765.1 386.1,765.2 392.4,766.1 398.5,767.7 404.9,767.7 411.2,766.7 417.4,765.6 422.6,762.7 425.9,758.6 429,754.1 432.2,749.2 435.5,744 438.4,738.4 441.1,732.6 444.1,726.9 446.7,721.1 448.8,715.1 450.4,708.9 451.8,702.7 453.1,696.4 454.3,690.1 455.5,683.8 456.6,677.6 457.7,671.3 458.7,664.9 459.6,658.6 460.5,652.3 461.4,646 462.3,639.6 463.2,633.3 464,627 464.8,620.6 465.6,614.3 466.4,607.9 467.2,601.6 467.7,595.2" stroke="#dc1529" stroke-width="2.0"/>
<path d="M140.1,887L141.8,880.9 143.4,874.7 144.8,868.5 146,862.3 147.1,856 148,849.7 148.8,843.4 149.7,837.1 150.6,830.7 151.6,824.4 152.6,818.1 153.6,811.8 154.6,805.5 155.7,799.2 156.8,792.9 158.1,786.7 159.4,780.4 160.7,774.2 162.1,768 163.5,761.7 165.1,755.5 166.8,749.4 168.8,743.4 171.7,737.9 175.3,732.8 179.7,728.7 184.8,725.8 190.4,724 196.1,723 201.8,723.3 207.6,724.6 213.5,726.6 219.2,729.3 224.8,732.3 230.5,735.2 236.3,737.9 242.1,740.6 247.9,743.3 253.6,746.2 259.3,749.2 264.8,752.3 270.7,754.9 276.6,757.3 282.6,759.5 288.8,761.1 295,761.2 301.1,760.2 307.2,759.2 313.5,759.5 319.5,761.7 325.4,764.2 331.2,766.7 337.5,767.8 343.4,765.7 349.7,764.8 356.1,764.9 362.4,765.1 368.8,765.5 375.1,765.9 381.4,766.3 387.8,766.4 394.1,767.3 400.2,769.1 406.5,769.1 412.8,768 419,766.8 424.1,763.6 427.3,759.2 430.1,754.4 433.2,749.3 436.3,744 439.2,738.3 441.9,732.5 444.7,726.8 447.4,721 449.4,715 450.9,708.8 452.3,702.6 453.6,696.3 454.8,690 455.9,683.8 457,677.5 458.1,671.2 459.1,664.9 460,658.5 460.9,652.2 461.7,645.9 462.6,639.6 463.5,633.2 464.3,626.9 465.1,620.6 465.9,614.3 466.7,607.9 467.4,601.6 468,595.2" stroke="#dc1529" stroke-width="2.0"/>
<path d="M140.2,887L141.9,880.9 143.6,874.8 145.1,868.6 146.4,862.4 147.4,856.1 148.4,849.8 149.3,843.5 150.2,837.2 151.2,830.9 152.2,824.6 153.2,818.3 154.2,812 155.2,805.7 156.3,799.4 157.4,793.1 158.6,786.9 159.9,780.6 161.3,774.4 162.7,768.2 164.2,762 165.7,755.8 167.5,749.7 169.6,743.7 172.6,738.2 176.4,733.3 181,729.3 186.4,726.6 192.1,725 198,724.4 203.8,724.9 209.6,726.5 215.5,728.7 221.2,731.5 226.8,734.6 232.4,737.5 238.2,740.2 244,742.9 249.7,745.7 255.4,748.6 261.1,751.6 266.6,754.7 272.4,757.3 278.4,759.7 284.4,761.9 290.5,763.4 296.8,763.4 302.9,762.2 309,760.9 315.3,761.2 321.3,763.4 327.2,765.9 333,768.4 339.2,769.6 345.1,767.4 351.4,766.4 357.8,766.4 364.1,766.6 370.5,766.9 376.9,767.2 383.1,767.5 389.5,767.6 395.8,768.6 401.9,770.4 408.2,770.4 414.5,769.3 420.7,768 425.7,764.6 428.7,759.9 431.3,754.7 434.2,749.4 437.2,743.9 439.9,738.2 442.6,732.4 445.4,726.7 448,720.9 449.9,714.9 451.5,708.7 452.8,702.5 454,696.2 455.2,689.9 456.3,683.7 457.4,677.4 458.5,671.1 459.4,664.8 460.3,658.5 461.2,652.2 462.1,645.8 462.9,639.5 463.7,633.2 464.6,626.9 465.4,620.6 466.2,614.2 466.9,607.9 467.7,601.6 468.2,595.2" stroke="#dc1529" stroke-width="2.0"/>
<path d="M140.3,887L142.1,880.9 143.9,874.8 145.4,868.7 146.7,862.4 147.8,856.2 148.8,849.9 149.8,843.6 150.7,837.3 151.7,831 152.7,824.7 153.7,818.4 154.7,812.2 155.8,805.9 156.8,799.6 158,793.3 159.2,787.1 160.5,780.9 161.9,774.6 163.3,768.4 164.8,762.2 166.4,756.1 168.2,750 170.5,744.1 173.6,738.6 177.5,733.7 182.3,729.9 187.9,727.5 193.8,726.1 199.9,725.7 205.8,726.6 211.7,728.5 217.5,730.8 223.1,733.7 228.7,736.8 234.3,739.8 240.1,742.5 245.8,745.3 251.6,748.1 257.3,750.9 262.9,754 268.4,757.1 274.2,759.7 280.1,762.2 286.1,764.3 292.3,765.7 298.6,765.5 304.7,764.1 310.8,762.7 317.1,762.9 323.1,765.1 329,767.5 334.8,770 341,771.3 346.9,769.1 353.1,768 359.5,768 365.9,768.2 372.2,768.4 378.6,768.6 384.9,768.8 391.3,768.8 397.5,769.8 403.6,771.7 409.9,771.8 416.2,770.6 422.3,769.2 427.3,765.6 430.1,760.5 432.5,755 435.1,749.5 438,743.9 440.7,738.2 443.3,732.4 446.1,726.7 448.6,720.8 450.5,714.8 452,708.6 453.3,702.3 454.5,696.1 455.7,689.8 456.8,683.6 457.8,677.3 458.8,671 459.8,664.7 460.7,658.4 461.5,652.1 462.4,645.8 463.2,639.5 464,633.2 464.9,626.8 465.7,620.5 466.4,614.2 467.2,607.9 468,601.6 468.5,595.2" stroke="#dc1529" stroke-width="2.0"/>
<path d="M140.4,887L142.3,881 144.1,874.9 145.7,868.7 147.1,862.5 148.2,856.3 149.3,850 150.3,843.7 151.2,837.4 152.2,831.2 153.3,824.9 154.3,818.6 155.3,812.3 156.3,806 157.4,799.8 158.6,793.5 159.8,787.3 161.1,781.1 162.5,774.9 163.9,768.7 165.5,762.5 167.1,756.3 168.9,750.3 171.3,744.4 174.5,739 178.6,734.2 183.7,730.5 189.5,728.3 195.6,727.1 201.8,727 207.8,728.3 213.7,730.4 219.5,732.9 225.1,735.9 230.6,739.1 236.2,742.1 242,744.8 247.7,747.6 253.4,750.4 259.1,753.3 264.7,756.4 270.2,759.5 276,762.2 281.9,764.6 287.9,766.7 294.1,768 300.4,767.7 306.5,766.1 312.6,764.4 318.9,764.5 324.9,766.8 330.7,769.2 336.6,771.7 342.8,773 348.6,770.7 354.8,769.6 361.2,769.5 367.6,769.7 373.9,769.8 380.3,770 386.6,770 393,770 399.3,771 405.3,773.1 411.6,773.1 417.8,771.9 424,770.4 428.8,766.6 431.5,761.1 433.6,755.3 436.1,749.6 438.8,743.9 441.4,738.1 444,732.3 446.7,726.6 449.2,720.7 451.1,714.7 452.5,708.5 453.8,702.2 455,696 456.1,689.7 457.2,683.5 458.2,677.2 459.2,670.9 460.1,664.6 461,658.3 461.9,652 462.7,645.7 463.5,639.4 464.3,633.1 465.1,626.8 465.9,620.5 466.7,614.2 467.5,607.9 468.3,601.6 468.8,595.2" stroke="#dc1529" stroke-width="2.0"/>
<path d="M140.6,887L142.5,881 144.4,874.9 146,868.8 147.4,862.6 148.6,856.3 149.7,850.1 150.7,843.8 151.7,837.6 152.8,831.3 153.8,825 154.9,818.8 155.9,812.5 156.9,806.2 158,800 159.1,793.7 160.4,787.5 161.7,781.3 163.1,775.1 164.6,768.9 166.1,762.7 167.8,756.6 169.7,750.6 172.1,744.7 175.5,739.3 179.7,734.6 185,731.1 191,729.1 197.3,728.2 203.7,728.4 209.8,729.9 215.7,732.4 221.4,735.1 227,738.1 232.5,741.3 238.1,744.4 243.8,747.1 249.6,749.9 255.2,752.8 260.9,755.7 266.5,758.8 272,761.9 277.8,764.6 283.7,767 289.7,769 295.9,770.3 302.2,769.8 308.3,768 314.4,766.2 320.7,766.2 326.6,768.5 332.5,770.9 338.4,773.4 344.5,774.8 350.3,772.4 356.6,771.2 362.9,771.1 369.3,771.2 375.7,771.3 382,771.3 388.4,771.2 394.7,771.2 401,772.3 406.9,774.4 413.3,774.5 419.5,773.1 425.7,771.6 430.4,767.5 432.9,761.7 434.8,755.6 437.1,749.7 439.6,743.9 442.2,738.1 444.7,732.2 447.4,726.5 449.8,720.6 451.7,714.6 453.1,708.4 454.3,702.1 455.5,695.9 456.6,689.6 457.6,683.4 458.6,677.1 459.6,670.8 460.5,664.5 461.4,658.2 462.2,652 463,645.7 463.8,639.4 464.6,633.1 465.4,626.8 466.2,620.5 467,614.2 467.8,607.8 468.5,601.5 469,595.2" stroke="#dc1529" stroke-width="2.0"/>
</g>
<g font-family="Liberation Sans" font-weight="bold" font-size="13.5" fill="#000"><text x="132.5" y="606.6" text-anchor="end" transform="translate(132.5,0) scale(0.88,1) translate(-132.5,0)">2.00</text><text x="132.5" y="644.01" text-anchor="end" transform="translate(132.5,0) scale(0.88,1) translate(-132.5,0)">1.75</text><text x="132.5" y="681.43" text-anchor="end" transform="translate(132.5,0) scale(0.88,1) translate(-132.5,0)">1.50</text><text x="132.5" y="718.84" text-anchor="end" transform="translate(132.5,0) scale(0.88,1) translate(-132.5,0)">1.25</text><text x="132.5" y="756.25" text-anchor="end" transform="translate(132.5,0) scale(0.88,1) translate(-132.5,0)">1.00</text><text x="132.5" y="793.66" text-anchor="end" transform="translate(132.5,0) scale(0.88,1) translate(-132.5,0)">0.75</text><text x="132.5" y="831.07" text-anchor="end" transform="translate(132.5,0) scale(0.88,1) translate(-132.5,0)">0.50</text><text x="132.5" y="868.49" text-anchor="end" transform="translate(132.5,0) scale(0.88,1) translate(-132.5,0)">0.25</text><text x="132.5" y="905.9" text-anchor="end" transform="translate(132.5,0) scale(0.88,1) translate(-132.5,0)">0</text><text x="522" y="606.6" transform="translate(522,0) scale(0.88,1) translate(-522,0)">2.0</text><text x="522" y="644.01" transform="translate(522,0) scale(0.88,1) translate(-522,0)">1.5</text><text x="522" y="681.43" transform="translate(522,0) scale(0.88,1) translate(-522,0)">1.0</text><text x="522" y="718.84" transform="translate(522,0) scale(0.88,1) translate(-522,0)">0.5</text><text x="522" y="756.25" transform="translate(522,0) scale(0.88,1) translate(-522,0)">0</text><text x="522" y="793.66" transform="translate(522,0) scale(0.88,1) translate(-522,0)">–0.5</text><text x="522" y="831.07" transform="translate(522,0) scale(0.88,1) translate(-522,0)">–1.0</text><text x="522" y="868.49" transform="translate(522,0) scale(0.88,1) translate(-522,0)">–1.5</text><text x="522" y="905.9" transform="translate(522,0) scale(0.88,1) translate(-522,0)">–2.0</text><text x="146.03" y="918.3" text-anchor="end" transform="translate(146.03,0) scale(0.87,1) translate(-146.03,0)">–60</text><text x="172.88" y="918.3" text-anchor="end" transform="translate(172.88,0) scale(0.87,1) translate(-172.88,0)">–55</text><text x="199.74" y="918.3" text-anchor="end" transform="translate(199.74,0) scale(0.87,1) translate(-199.74,0)">–50</text><text x="226.6" y="918.3" text-anchor="end" transform="translate(226.6,0) scale(0.87,1) translate(-226.6,0)">–45</text><text x="253.45" y="918.3" text-anchor="end" transform="translate(253.45,0) scale(0.87,1) translate(-253.45,0)">–40</text><text x="280.31" y="918.3" text-anchor="end" transform="translate(280.31,0) scale(0.87,1) translate(-280.31,0)">–35</text><text x="307.17" y="918.3" text-anchor="end" transform="translate(307.17,0) scale(0.87,1) translate(-307.17,0)">–30</text><text x="334.02" y="918.3" text-anchor="end" transform="translate(334.02,0) scale(0.87,1) translate(-334.02,0)">–25</text><text x="360.88" y="918.3" text-anchor="end" transform="translate(360.88,0) scale(0.87,1) translate(-360.88,0)">–20</text><text x="387.74" y="918.3" text-anchor="end" transform="translate(387.74,0) scale(0.87,1) translate(-387.74,0)">–15</text><text x="414.6" y="918.3" text-anchor="end" transform="translate(414.6,0) scale(0.87,1) translate(-414.6,0)">–10</text><text x="438.19" y="918.3" text-anchor="end" transform="translate(438.19,0) scale(0.87,1) translate(-438.19,0)">–5</text><text x="461.79" y="918.3" text-anchor="middle" transform="translate(461.79,0) scale(0.87,1) translate(-461.79,0)">0</text><text x="488.64" y="918.3" text-anchor="middle" transform="translate(488.64,0) scale(0.87,1) translate(-488.64,0)">5</text><text x="515.5" y="918.3" text-anchor="middle" transform="translate(515.5,0) scale(0.87,1) translate(-515.5,0)">10</text></g>
<g font-family="Liberation Sans" font-weight="bold" fill="#000">
<text font-size="13" transform="translate(94.9,752.35) rotate(-90)" text-anchor="middle">V<tspan font-size="10" dy="3">OUT</tspan><tspan dy="-3"> (V)</tspan></text>
<text font-size="13" transform="translate(565.8,751.85) rotate(-90)" text-anchor="middle" textLength="71" lengthAdjust="spacingAndGlyphs">ERROR (dB)</text>
<text font-size="13" x="327.5" y="942.4" text-anchor="middle">P<tspan font-size="10" dy="3">IN</tspan><tspan dy="-3"> (dBm)</tspan></text>
</g>
<text font-family="Liberation Sans" font-size="8.3" fill="#000" transform="translate(569.5,923.1) rotate(-90)" text-anchor="middle">05541-010</text>
<text font-family="Liberation Sans" font-style="italic" font-size="15.5" x="328.5" y="972.7" text-anchor="middle" textLength="452.1" lengthAdjust="spacingAndGlyphs">Figure 10. V<tspan font-size="11" dy="1.6">OUT</tspan><tspan dy="-1.6"> and Log Conformance vs. Input Amplitude at 1.9 GHz,</tspan></text>
<text font-family="Liberation Sans" font-style="italic" font-size="15.5" x="328.55" y="991.5" text-anchor="middle" textLength="192.4" lengthAdjust="spacingAndGlyphs">Multiple Devices, R<tspan font-size="11" dy="1.6">TADJ</tspan><tspan dy="-1.6"> = 8 kΩ</tspan></text>
<clipPath id="clip4"><rect x="721" y="605" width="375" height="299.3"/></clipPath>
<g stroke="#000" fill="none"><line x1="721" y1="605" x2="721" y2="905" stroke-width="2.0"/><line x1="747.5" y1="605" x2="747.5" y2="905" stroke-width="1.15"/><line x1="774.5" y1="605" x2="774.5" y2="905" stroke-width="1.15"/><line x1="801.5" y1="605" x2="801.5" y2="905" stroke-width="1.15"/><line x1="828.5" y1="605" x2="828.5" y2="905" stroke-width="1.15"/><line x1="854.5" y1="605" x2="854.5" y2="905" stroke-width="1.15"/><line x1="881.5" y1="605" x2="881.5" y2="905" stroke-width="1.15"/><line x1="908.5" y1="605" x2="908.5" y2="905" stroke-width="1.15"/><line x1="935.5" y1="605" x2="935.5" y2="905" stroke-width="1.15"/><line x1="962.5" y1="605" x2="962.5" y2="905" stroke-width="1.15"/><line x1="989" y1="605" x2="989" y2="905" stroke-width="2.0"/><line x1="1016" y1="605" x2="1016" y2="905" stroke-width="2.0"/><line x1="1042.5" y1="605" x2="1042.5" y2="905" stroke-width="1.15"/><line x1="1069.5" y1="605" x2="1069.5" y2="905" stroke-width="1.15"/><line x1="1096" y1="605" x2="1096" y2="905" stroke-width="2.0"/><line x1="721" y1="605" x2="1097" y2="605" stroke-width="2.0"/><line x1="721" y1="623.5" x2="1097" y2="623.5" stroke-width="1.15"/><line x1="721" y1="642.5" x2="1097" y2="642.5" stroke-width="1.15"/><line x1="721" y1="661.5" x2="1097" y2="661.5" stroke-width="1.15"/><line x1="721" y1="679.5" x2="1097" y2="679.5" stroke-width="1.15"/><line x1="721" y1="698.5" x2="1097" y2="698.5" stroke-width="1.15"/><line x1="721" y1="717.5" x2="1097" y2="717.5" stroke-width="1.15"/><line x1="721" y1="735.5" x2="1097" y2="735.5" stroke-width="1.15"/><line x1="721" y1="754.5" x2="1097" y2="754.5" stroke-width="1.15"/><line x1="721" y1="773.5" x2="1097" y2="773.5" stroke-width="1.15"/><line x1="721" y1="792" x2="1097" y2="792" stroke-width="2.0"/><line x1="721" y1="810.5" x2="1097" y2="810.5" stroke-width="1.15"/><line x1="721" y1="829.5" x2="1097" y2="829.5" stroke-width="1.15"/><line x1="721" y1="848.5" x2="1097" y2="848.5" stroke-width="1.15"/><line x1="721" y1="867" x2="1097" y2="867" stroke-width="2.0"/><line x1="721" y1="885.5" x2="1097" y2="885.5" stroke-width="1.15"/><line x1="721" y1="904.5" x2="1097" y2="904.5" stroke-width="1.15"/></g>
<g clip-path="url(#clip4)" fill="none" stroke-linecap="round" stroke-linejoin="round">
<path d="M721,911.8C721.6,904.3 723.4,880.6 724.8,866.9C726.1,853.2 727.8,841.9 729,829.5C730.3,817 731.1,804.5 732.2,792.1C733.4,779.6 734.3,765.9 736,754.6C737.7,743.4 740,734.7 742.4,724.7C744.8,714.7 747.8,702 750.5,694.8C753.1,687.6 756.5,684.1 758.5,681.3C760.5,678.6 760.5,677.8 762.2,678.3C764,678.8 766.3,681.6 769.2,684.3C772.2,687.1 776.4,691.8 779.9,694.8C783.5,697.8 787.1,700.3 790.6,702.3C794.2,704.3 796.9,705 801.4,706.8C805.8,708.5 813,711.3 817.4,712.7C821.9,714.2 823.7,714.2 828.1,715.7C832.6,717.2 839.8,720.9 844.2,721.7C848.7,722.6 848.7,721 854.9,720.7C861.2,720.3 874.6,719.1 881.7,719.6C888.9,720.2 892.9,724.3 897.8,724C902.7,723.6 907.2,717.6 911.2,717.4C915.2,717.2 917.9,722.6 921.9,722.9C925.9,723.3 930.4,720 935.3,719.6C940.2,719.3 946.9,721.6 951.4,720.7C955.8,719.8 957.6,716.1 962.1,714.1C966.5,712.1 973.7,711.3 978.1,708.7C982.6,706.1 984.9,703.5 988.9,698.7C992.8,693.9 997.3,689.2 1001.7,679.8C1006.1,670.4 1011.4,654.9 1015.1,642.4C1018.8,629.9 1022.2,612.5 1023.7,605C1025.2,597.5 1024.1,598.8 1024.2,597.5" stroke="#17357f" stroke-width="2.4"/>
<path d="M721.3,911.8C722,904.3 723.8,880.6 725.2,866.9C726.6,853.2 728.3,841.9 729.6,829.5C730.9,817 731.8,804.3 733,792.1C734.2,779.8 735.1,766.9 736.7,756C738.3,745.1 740.4,736.6 742.7,726.9C745.1,717.1 748,704.6 750.7,697.5C753.3,690.3 756.5,686.7 758.5,683.9C760.5,681.1 760.5,680.1 762.4,680.6C764.2,681 766.5,683.8 769.6,686.5C772.7,689.1 777.1,693.8 780.7,696.7C784.3,699.6 787.8,702 791.4,703.9C795,705.9 798,706.6 802.5,708.3C807,709.9 813.7,712.2 818.2,713.9C822.7,715.6 824.8,716.5 829.3,718.2C833.8,719.9 840.4,723.3 845,724.1C849.6,724.8 850.4,723.1 856.8,722.6C863.3,722.2 876.5,721 883.6,721.5C890.7,722.1 894.6,726.3 899.5,725.9C904.4,725.6 908.7,719.7 912.9,719.4C917.1,719.2 920.5,724.2 924.8,724.4C929,724.7 933.4,721.6 938.3,721.2C943.3,720.8 949.9,723 954.4,722C958.9,721.1 960.9,717.8 965.3,715.7C969.7,713.5 976.6,712.1 980.9,709.3C985.3,706.5 987.4,703.6 991.2,698.7C995,693.8 999.5,689.2 1003.8,679.8C1008,670.4 1013.1,654.9 1016.7,642.4C1020.2,629.9 1023.5,612.5 1024.9,605C1026.4,597.5 1025.4,598.8 1025.5,597.5" stroke="#17357f" stroke-width="2.4"/>
<path d="M721.7,911.8C722.4,904.3 724.3,880.6 725.7,866.9C727.1,853.2 728.8,841.9 730.2,829.5C731.5,817 732.5,804.1 733.7,792.1C734.9,780 735.8,767.8 737.4,757.3C738.9,746.8 740.8,738.5 743,729C745.3,719.5 748.3,707.2 750.8,700.1C753.4,693 756.6,689.3 758.5,686.5C760.4,683.6 760.6,682.5 762.5,682.8C764.4,683.2 766.8,686 770,688.6C773.1,691.2 777.8,695.8 781.5,698.6C785.2,701.5 788.5,703.7 792.2,705.6C795.9,707.4 799.2,708.2 803.7,709.8C808.1,711.3 814.5,713.2 819,715C823.4,716.9 826,718.8 830.4,720.7C834.9,722.6 841,725.8 845.7,726.4C850.5,727.1 852.1,725.1 858.8,724.6C865.4,724.1 878.5,722.8 885.5,723.4C892.6,723.9 896.4,728.2 901.2,727.9C906.1,727.6 910.2,721.8 914.6,721.5C919,721.1 923.2,725.8 927.6,726C932.1,726.2 936.4,723.1 941.4,722.7C946.4,722.3 953,724.3 957.5,723.4C962,722.5 964.1,719.5 968.5,717.2C972.9,715 979.6,713 983.7,709.9C987.9,706.8 989.8,703.7 993.5,698.7C997.2,693.6 1001.7,689.2 1005.8,679.8C1009.9,670.5 1014.8,654.9 1018.2,642.4C1021.6,629.9 1024.8,612.5 1026.2,605C1027.6,597.5 1026.7,598.8 1026.7,597.5" stroke="#17357f" stroke-width="2.4"/>
<path d="M722,911.8C722.7,904.3 724.7,880.6 726.1,866.9C727.6,853.2 729.4,841.9 730.8,829.5C732.1,817 733.2,803.9 734.4,792.1C735.6,780.3 736.6,768.8 738.1,758.7C739.6,748.5 741.2,740.4 743.3,731.1C745.5,721.8 748.5,709.8 751,702.8C753.6,695.8 756.6,692 758.5,689C760.4,686.1 760.6,684.8 762.6,685.1C764.6,685.3 767.1,688.1 770.4,690.7C773.6,693.3 778.5,697.8 782.2,700.6C786,703.3 789.2,705.5 792.9,707.2C796.7,709 800.3,709.8 804.8,711.3C809.3,712.7 815.3,714.2 819.7,716.2C824.2,718.2 827.1,721.1 831.6,723.2C836.1,725.3 841.7,728.2 846.5,728.8C851.4,729.3 853.8,727.2 860.7,726.6C867.5,726 880.4,724.7 887.5,725.3C894.5,725.8 898.1,730.2 903,729.9C907.8,729.6 911.8,723.9 916.3,723.5C920.9,723.1 925.8,727.4 930.5,727.5C935.2,727.6 939.5,724.7 944.5,724.2C949.5,723.8 956,725.7 960.5,724.8C965.1,723.8 967.4,721.1 971.7,718.8C976,716.4 982.5,713.9 986.5,710.5C990.5,707.2 992.3,703.8 995.9,698.6C999.4,693.5 1003.9,689.2 1007.9,679.8C1011.8,670.5 1016.5,654.9 1019.8,642.4C1023.1,629.9 1026.1,612.5 1027.5,605C1028.8,597.5 1027.9,598.8 1028,597.5" stroke="#17357f" stroke-width="2.4"/>
<path d="M722.4,911.8C723.1,904.3 725.1,880.6 726.6,866.9C728.1,853.2 729.9,841.9 731.3,829.5C732.8,817 733.9,803.6 735.2,792.1C736.4,780.5 737.3,769.8 738.8,760C740.2,750.2 741.6,742.4 743.7,733.3C745.7,724.2 748.8,712.4 751.2,705.5C753.7,698.5 756.6,694.6 758.5,691.6C760.4,688.6 760.7,687.1 762.7,687.3C764.8,687.5 767.4,690.3 770.7,692.9C774.1,695.4 779.2,699.8 783,702.5C786.8,705.2 789.9,707.2 793.7,708.9C797.5,710.6 801.5,711.3 805.9,712.7C810.4,714.2 816,715.2 820.5,717.3C825,719.5 828.3,723.4 832.7,725.7C837.2,728 842.3,730.7 847.3,731.1C852.2,731.6 855.6,729.2 862.6,728.5C869.6,727.9 882.4,726.6 889.4,727.2C896.4,727.7 899.9,732.1 904.7,731.8C909.5,731.6 913.3,726 918.1,725.6C922.8,725.1 928.5,729 933.4,729C938.3,729 942.5,726.3 947.5,725.8C952.6,725.3 959,727 963.6,726.1C968.2,725.2 970.6,722.8 974.9,720.3C979.2,717.8 985.4,714.8 989.3,711.1C993.2,707.5 994.8,703.9 998.2,698.6C1001.6,693.4 1006,689.2 1009.9,679.8C1013.8,670.5 1018.2,654.9 1021.4,642.4C1024.5,629.9 1027.4,612.5 1028.7,605C1030,597.5 1029.2,598.8 1029.3,597.5" stroke="#17357f" stroke-width="2.4"/>
<path d="M722.7,911.8C723.4,904.3 725.5,880.6 727,866.9C728.6,853.2 730.4,841.9 731.9,829.5C733.4,817 734.6,803.4 735.9,792.1C737.1,780.7 738.1,770.8 739.4,761.3C740.8,751.9 742,744.3 744,735.4C746,726.5 749,715 751.4,708.2C753.8,701.3 756.6,697.2 758.5,694.1C760.4,691 760.7,689.4 762.8,689.6C764.9,689.7 767.6,692.5 771.1,695C774.6,697.5 779.9,701.8 783.8,704.4C787.6,707 790.6,708.9 794.5,710.6C798.4,712.2 802.6,712.9 807.1,714.2C811.6,715.6 816.8,716.1 821.3,718.5C825.7,720.8 829.4,725.7 833.9,728.2C838.3,730.8 842.9,733.1 848,733.5C853.1,733.9 857.3,731.3 864.5,730.5C871.7,729.8 884.3,728.5 891.3,729C898.3,729.6 901.6,734 906.4,733.8C911.1,733.6 914.8,728.1 919.8,727.6C924.8,727 931.1,730.6 936.2,730.5C941.4,730.5 945.5,727.8 950.6,727.3C955.7,726.8 962.1,728.4 966.7,727.5C971.3,726.6 973.9,724.5 978.1,721.9C982.4,719.3 988.4,715.6 992.1,711.8C995.8,707.9 997.2,703.9 1000.5,698.6C1003.8,693.3 1008.2,689.2 1012,679.8C1015.7,670.5 1019.9,654.9 1023,642.4C1026,629.9 1028.7,612.5 1030,605C1031.3,597.5 1030.4,598.8 1030.5,597.5" stroke="#17357f" stroke-width="2.4"/>
<path d="M723.1,911.8C723.8,904.3 725.9,880.6 727.5,866.9C729.1,853.2 731,841.9 732.5,829.5C734,817 735.3,803.2 736.6,792.1C737.9,780.9 738.9,771.8 740.1,762.7C741.4,753.6 742.4,746.2 744.3,737.5C746.2,728.9 749.2,717.6 751.6,710.8C754,704 756.6,699.9 758.5,696.7C760.4,693.5 760.8,691.7 762.9,691.8C765.1,691.9 767.9,694.7 771.5,697.1C775.1,699.6 780.6,703.8 784.5,706.3C788.5,708.8 791.3,710.6 795.2,712.2C799.2,713.8 803.8,714.5 808.2,715.7C812.7,717 817.6,717.1 822,719.6C826.5,722.1 830.6,728 835,730.7C839.5,733.5 843.6,735.5 848.8,735.8C854,736.1 859,733.3 866.4,732.5C873.8,731.7 886.2,730.4 893.2,730.9C900.1,731.5 903.4,736 908.1,735.8C912.8,735.6 916.3,730.3 921.5,729.6C926.7,729 933.8,732.2 939.1,732C944.5,731.9 948.6,729.4 953.7,728.9C958.8,728.3 965.1,729.7 969.7,728.8C974.3,727.9 977.2,726.2 981.4,723.5C985.6,720.7 991.3,716.5 994.9,712.4C998.5,708.2 999.7,704 1002.9,698.6C1006,693.2 1010.4,689.2 1014,679.8C1017.6,670.5 1021.6,654.9 1024.5,642.4C1027.4,629.9 1030,612.5 1031.3,605C1032.5,597.5 1031.7,598.8 1031.8,597.5" stroke="#17357f" stroke-width="2.4"/>
<path d="M723.4,911.8C724.2,904.3 726.4,880.6 728,866.9C729.6,853.2 731.5,841.9 733.1,829.5C734.6,817 736,803 737.3,792.1C738.6,781.2 739.6,772.7 740.8,764C742,755.3 742.7,748.1 744.6,739.7C746.4,731.3 749.5,720.2 751.8,713.5C754.1,706.8 756.6,702.5 758.5,699.3C760.4,696 760.8,694 763.1,694C765.3,694 768.2,696.9 771.9,699.3C775.6,701.6 781.3,705.8 785.3,708.3C789.3,710.7 792,712.4 796,713.9C800,715.4 804.9,716.1 809.4,717.2C813.9,718.4 818.3,718.1 822.8,720.8C827.2,723.4 831.7,730.3 836.2,733.3C840.6,736.2 844.2,738 849.6,738.2C854.9,738.4 860.7,735.3 868.3,734.4C875.9,733.5 888.2,732.3 895.1,732.8C902,733.3 905.2,737.9 909.8,737.7C914.5,737.6 917.9,732.4 923.2,731.7C928.6,731 936.4,733.8 942,733.5C947.6,733.3 951.6,731 956.7,730.4C961.8,729.8 968.1,731.1 972.8,730.2C977.4,729.3 980.4,727.9 984.6,725C988.7,722.2 994.3,717.4 997.7,713C1001.1,708.6 1002.1,704.1 1005.2,698.6C1008.3,693.1 1012.6,689.2 1016,679.8C1019.5,670.5 1023.3,654.9 1026.1,642.4C1028.8,629.9 1031.4,612.5 1032.5,605C1033.7,597.5 1033,598.8 1033.1,597.5" stroke="#17357f" stroke-width="2.4"/>
<path d="M723.8,911.8C724.5,904.3 726.8,880.6 728.4,866.9C730.1,853.2 732,841.9 733.6,829.5C735.2,817 736.8,802.8 738.1,792.1C739.4,781.4 740.4,773.7 741.5,765.3C742.6,757 743.1,750 744.9,741.8C746.6,733.6 749.7,722.8 752,716.2C754.3,709.5 756.6,705.2 758.5,701.8C760.4,698.5 760.9,696.4 763.2,696.3C765.5,696.2 768.5,699.1 772.3,701.4C776.1,703.7 782,707.8 786.1,710.2C790.1,712.5 792.7,714.1 796.8,715.5C800.8,717 806.1,717.7 810.5,718.7C815,719.8 819.1,719.1 823.6,721.9C828,724.7 832.9,732.6 837.3,735.8C841.8,738.9 844.9,740.4 850.3,740.5C855.8,740.7 862.5,737.4 870.2,736.4C878,735.4 890.1,734.1 897,734.7C903.9,735.2 906.9,739.9 911.6,739.7C916.2,739.5 919.4,734.5 925,733.7C930.5,732.9 939,735.4 944.9,735.1C950.7,734.8 954.6,732.5 959.8,731.9C964.9,731.4 971.2,732.4 975.8,731.5C980.5,730.6 983.7,729.6 987.8,726.6C991.9,723.6 997.2,718.2 1000.5,713.6C1003.8,708.9 1004.6,704.2 1007.5,698.6C1010.5,693 1014.7,689.2 1018.1,679.8C1021.4,670.5 1025,654.9 1027.7,642.4C1030.3,629.9 1032.7,612.5 1033.8,605C1034.9,597.5 1034.2,598.8 1034.3,597.5" stroke="#17357f" stroke-width="2.4"/>
<path d="M724.1,911.8C724.9,904.3 727.2,880.6 728.9,866.9C730.6,853.2 732.5,841.9 734.2,829.5C735.9,817 737.5,802.5 738.8,792.1C740.1,781.6 741.1,774.7 742.2,766.7C743.3,758.7 743.5,751.9 745.2,744C746.8,736 750,725.4 752.2,718.8C754.4,712.2 756.7,707.8 758.5,704.4C760.3,701 760.9,698.7 763.3,698.5C765.6,698.4 768.7,701.3 772.7,703.6C776.6,705.8 782.7,709.8 786.8,712.1C791,714.4 793.4,715.8 797.5,717.2C801.7,718.5 807.2,719.3 811.7,720.2C816.2,721.2 819.9,720 824.3,723C828.8,726 834,734.9 838.5,738.3C842.9,741.6 845.5,742.9 851.1,742.9C856.7,742.9 864.2,739.4 872.1,738.4C880.1,737.3 892.1,736 898.9,736.6C905.8,737.1 908.7,741.8 913.3,741.7C917.9,741.5 920.9,736.6 926.7,735.8C932.4,734.9 941.7,737 947.7,736.6C953.7,736.2 957.6,734.1 962.8,733.5C968,732.9 974.2,733.8 978.9,732.9C983.6,732 986.9,731.3 991,728.1C995.1,725 1000.1,719.1 1003.3,714.2C1006.4,709.3 1007.1,704.3 1009.9,698.6C1012.7,692.9 1016.9,689.2 1020.1,679.8C1023.4,670.5 1026.7,654.9 1029.2,642.4C1031.7,629.9 1034,612.5 1035,605C1036.1,597.5 1035.5,598.8 1035.6,597.5" stroke="#17357f" stroke-width="2.4"/>
<path d="M724.4,911.8C725.3,904.3 727.6,880.6 729.3,866.9C731.1,853.2 733.1,841.9 734.8,829.5C736.5,817 738.2,802.3 739.5,792.1C740.9,781.8 741.9,775.7 742.9,768C743.9,760.4 743.9,753.8 745.5,746.1C747.1,738.3 750.2,728 752.4,721.5C754.5,715 756.7,710.4 758.5,707C760.3,703.5 761,701 763.4,700.8C765.8,700.6 769,703.5 773,705.7C777.1,707.9 783.4,711.8 787.6,714C791.8,716.2 794.1,717.6 798.3,718.8C802.5,720.1 808.4,720.8 812.8,721.7C817.3,722.6 820.6,721 825.1,724.2C829.5,727.4 835.2,737.2 839.6,740.8C844.1,744.3 846.1,745.3 851.9,745.2C857.6,745.2 865.9,741.5 874.1,740.3C882.2,739.2 894,737.9 900.8,738.4C907.7,739 910.4,743.7 915,743.6C919.6,743.5 922.5,738.7 928.4,737.8C934.3,736.9 944.3,738.6 950.6,738.1C956.8,737.6 960.7,735.7 965.9,735C971.1,734.4 977.2,735.1 982,734.3C986.7,733.4 990.2,732.9 994.2,729.7C998.2,726.5 1003.1,720 1006.1,714.8C1009.1,709.6 1009.5,704.4 1012.2,698.6C1014.9,692.7 1019.1,689.2 1022.2,679.8C1025.3,670.5 1028.4,654.9 1030.8,642.4C1033.1,629.9 1035.3,612.5 1036.3,605C1037.3,597.5 1036.8,598.8 1036.8,597.5" stroke="#17357f" stroke-width="2.4"/>
<path d="M724.8,911.8C725.6,904.3 728,880.6 729.8,866.9C731.6,853.2 733.6,841.9 735.3,829.5C737.1,817 738.9,802.1 740.2,792.1C741.6,782 742.7,776.7 743.6,769.3C744.5,762 744.3,755.8 745.8,748.2C747.3,740.7 750.5,730.6 752.6,724.2C754.7,717.7 756.7,713.1 758.5,709.5C760.3,706 761,703.3 763.5,703C766,702.7 769.3,705.7 773.4,707.8C777.6,710 784.1,713.8 788.3,716C792.6,718.1 794.8,719.3 799.1,720.5C803.3,721.7 809.5,722.4 814,723.2C818.4,724 821.4,722 825.8,725.3C830.3,728.7 836.3,739.5 840.8,743.3C845.2,747 846.8,747.8 852.6,747.6C858.5,747.4 867.6,743.5 876,742.3C884.3,741.1 896,739.8 902.8,740.3C909.6,740.9 912.2,745.7 916.7,745.6C921.3,745.5 924,740.8 930.1,739.8C936.2,738.8 947,740.2 953.5,739.6C959.9,739.1 963.7,737.2 969,736.6C974.2,735.9 980.3,736.5 985,735.6C989.8,734.7 993.5,734.6 997.4,731.3C1001.4,727.9 1006,720.9 1008.9,715.4C1011.7,710 1012,704.5 1014.5,698.6C1017.1,692.6 1021.3,689.2 1024.2,679.8C1027.2,670.5 1030.1,654.9 1032.4,642.4C1034.6,629.9 1036.6,612.5 1037.6,605C1038.5,597.5 1038,598.8 1038.1,597.5" stroke="#17357f" stroke-width="2.4"/>
<path d="M725.1,911.8C726,904.3 728.5,880.6 730.3,866.9C732.1,853.2 734.1,841.9 735.9,829.5C737.7,817 739.6,801.9 741,792.1C742.4,782.3 743.4,777.6 744.3,770.7C745.1,763.7 744.7,757.7 746.1,750.4C747.5,743.1 750.7,733.2 752.8,726.9C754.8,720.5 756.7,715.7 758.5,712.1C760.3,708.5 761.1,705.6 763.6,705.3C766.2,704.9 769.6,707.9 773.8,710C778.1,712.1 784.8,715.8 789.1,717.9C793.4,719.9 795.5,721 799.8,722.2C804.2,723.3 810.7,724 815.1,724.7C819.6,725.4 822.1,723 826.6,726.5C831.1,730 837.5,741.8 841.9,745.8C846.4,749.7 847.4,750.2 853.4,749.9C859.4,749.7 869.3,745.6 877.9,744.3C886.4,743 897.9,741.7 904.7,742.2C911.4,742.8 913.9,747.6 918.4,747.6C923,747.5 925.5,743 931.8,741.9C938.2,740.8 949.6,741.8 956.3,741.1C963,740.5 966.7,738.8 972,738.1C977.3,737.4 983.3,737.9 988.1,737C992.9,736.1 996.7,736.3 1000.6,732.8C1004.6,729.3 1009,721.7 1011.7,716C1014.4,710.3 1014.4,704.6 1016.9,698.6C1019.3,692.5 1023.4,689.2 1026.3,679.8C1029.1,670.5 1031.8,654.9 1033.9,642.4C1036,629.9 1037.9,612.5 1038.8,605C1039.7,597.5 1039.3,598.8 1039.4,597.5" stroke="#17357f" stroke-width="2.4"/>
<path d="M725.5,911.8C726.4,904.3 728.9,880.6 730.7,866.9C732.6,853.2 734.7,841.9 736.5,829.5C738.3,817 740.3,801.6 741.7,792.1C743.1,782.5 744.2,778.6 745,772C745.7,765.4 745.1,759.6 746.4,752.5C747.7,745.4 750.9,735.8 753,729.5C755,723.2 756.7,718.3 758.5,714.7C760.3,711 761.1,707.9 763.7,707.5C766.4,707.1 769.8,710.1 774.2,712.1C778.5,714.2 785.5,717.9 789.9,719.8C794.3,721.8 796.2,722.7 800.6,723.8C805,724.9 811.8,725.6 816.3,726.2C820.7,726.9 822.9,723.9 827.4,727.6C831.8,731.3 838.6,744.1 843.1,748.3C847.5,752.4 848,752.6 854.2,752.3C860.3,752 871.1,747.6 879.8,746.2C888.5,744.9 899.9,743.5 906.6,744.1C913.3,744.6 915.7,749.6 920.2,749.5C924.7,749.5 927.1,745.1 933.6,743.9C940.1,742.8 952.3,743.4 959.2,742.7C966.1,741.9 969.8,740.4 975.1,739.6C980.4,738.9 986.4,739.2 991.2,738.3C995.9,737.5 1000,738 1003.9,734.4C1007.7,730.8 1011.9,722.6 1014.5,716.6C1017,710.7 1016.9,704.7 1019.2,698.5C1021.5,692.4 1025.6,689.2 1028.3,679.8C1031,670.5 1033.5,654.9 1035.5,642.4C1037.5,629.9 1039.2,612.5 1040.1,605C1040.9,597.5 1040.5,598.8 1040.6,597.5" stroke="#17357f" stroke-width="2.4"/>
<path d="M725.8,911.8C726.7,904.3 729.3,880.6 731.2,866.9C733.1,853.2 735.2,841.9 737.1,829.5C738.9,817 741,801.4 742.4,792.1C743.9,782.7 744.9,779.6 745.6,773.4C746.4,767.1 745.5,761.5 746.7,754.6C748,747.8 751.2,738.4 753.1,732.2C755.1,726 756.7,721 758.5,717.2C760.3,713.5 761.2,710.3 763.9,709.8C766.5,709.3 770.1,712.2 774.6,714.2C779,716.2 786.2,719.9 790.6,721.7C795.1,723.6 796.9,724.5 801.4,725.5C805.8,726.5 813,727.2 817.4,727.7C821.9,728.3 823.7,724.9 828.1,728.8C832.6,732.6 839.8,746.4 844.2,750.8C848.7,755.1 848.7,755.1 854.9,754.6C861.2,754.2 872.8,749.7 881.7,748.2C890.6,746.8 901.8,745.4 908.5,746C915.2,746.5 917.4,751.5 921.9,751.5C926.4,751.5 928.6,747.2 935.3,746C942,744.7 954.9,745 962.1,744.2C969.2,743.4 972.8,741.9 978.1,741.2C983.5,740.4 989.4,740.6 994.2,739.7C999,738.8 1003.2,739.7 1007.1,735.9C1010.9,732.2 1014.8,723.5 1017.2,717.2C1019.7,711 1019.3,704.8 1021.5,698.5C1023.7,692.3 1027.8,689.2 1030.4,679.8C1033,670.5 1035.2,654.9 1037.1,642.4C1038.9,629.9 1040.6,612.5 1041.4,605C1042.2,597.5 1041.8,598.8 1041.9,597.5" stroke="#17357f" stroke-width="2.4"/>
<path d="M715.6,644.2 716,644.3 716.2,644.3 716.6,644.3 717.4,644.5 718.8,644.8 721,645.4 724.2,646.3 728.3,647.3 733.1,648.5 738.1,649.9 743.1,651.5 747.8,653.2 752.2,655 756.7,657 761.2,659.2 765.6,661.5 770.1,664 774.6,666.7 779,669.5 783.5,672.7 788,676 792.4,679.4 796.9,682.8 801.4,686.1 805.8,689.5 810.3,692.9 814.8,696.3 819.2,699.7 823.7,703 828.1,706.2 832.6,709.1 837.1,711.9 841.5,714.6 846,717.3 850.5,720 854.9,722.8 859.4,725.8 863.9,728.8 868.3,731.9 872.8,735 877.2,738 881.7,741 886.2,743.8 890.6,746.6 895.1,749.4 899.6,752.1 904,754.9 908.5,757.7 913,760.5 917.4,763.3 921.9,766.2 926.4,769.1 930.8,771.9 935.3,774.9 939.8,777.8 944.2,780.9 948.7,784 953.1,787 957.6,790 962.1,792.8 966.7,795.6 971.5,798.3 976.3,800.9 980.9,803.4 985.2,805.7 988.9,807.8 991.9,809.5 994.3,811 996.4,812.4 998.3,813.6 1000.2,814.8 1002.2,816 1004.5,817.3 1006.6,818.5 1008.8,819.7 1011,820.9 1013.3,822.2 1015.6,823.5 1018.2,824.9 1021,826.5 1023.8,828.1 1026.7,829.7 1029.3,831.2 1031.7,832.5 1033.7,833.6 1035.5,834.6 1037.1,835.5 1038.7,836.3 1040.4,836.9 1042.4,837.3 1044.9,837.4 1047.6,837.2 1050.5,836.9 1053.3,836.5 1056.1,836 1058.5,835.5 1060.6,834.8 1062.5,834.1 1064.2,833.2 1065.8,832.4 1067.5,831.6 1069.2,831 1070.9,830.4 1072.6,829.7 1074.2,829.2 1076,828.7 1077.8,828.6 1079.9,828.7 1082.4,829.4 1085.3,830.4 1088.3,831.7 1091.2,833.1 1093.9,834.3 1096,835.2 1097.6,835.7 1098.8,835.9 1099.7,836.1 1100.4,836.1 1100.9,836.2 1101.4,836.2 1101.4,847.9 1101,847.9 1100.8,847.9 1100.4,848 1099.6,848.1 1098.2,848.3 1096,848.6 1092.8,849.2 1088.7,850.1 1083.9,851 1078.9,851.9 1073.9,852.6 1069.2,853 1064.8,853 1060.3,853 1055.8,852.7 1051.4,852.2 1046.9,851.4 1042.4,850.1 1038,848.4 1033.5,846.2 1029,843.6 1024.6,840.9 1020.1,838.2 1015.6,835.6 1011.2,833.1 1006.7,830.5 1002.2,828 997.8,825.4 993.3,822.8 988.9,820.3 984.4,817.9 979.9,815.6 975.5,813.3 971,810.9 966.5,808.5 962.1,806 957.6,803.3 953.1,800.5 948.7,797.6 944.2,794.7 939.8,791.8 935.3,788.9 930.8,786.1 926.4,783.3 921.9,780.5 917.4,777.8 913,775 908.5,772.3 904,769.6 899.6,766.9 895.1,764.2 890.6,761.6 886.2,758.9 881.7,756.1 877.2,753.2 872.8,750.2 868.3,747.2 863.9,744.2 859.4,741.2 854.9,738.3 850.5,735.5 846,732.9 841.5,730.2 837.1,727.6 832.6,724.9 828.1,722 823.7,719 819.2,716 814.8,712.8 810.3,709.6 805.8,706.4 801.4,703.2 796.9,699.9 792.4,696.5 788,693.1 783.5,689.8 779,686.6 774.6,683.7 770.1,681.1 765.6,678.6 761.2,676.3 756.7,674.1 752.2,672.1 747.8,670.2 743.1,668.5 738.1,667 733.1,665.6 728.3,664.4 724.2,663.3 721,662.5 718.8,661.9 717.4,661.5 716.6,661.4 716.2,661.3 716,661.3 715.6,661.3Z" fill="#17357f" stroke="#17357f" stroke-width="0.6"/>
<path d="M715.6,652.9C716.5,653.1 715.6,652.6 721,654.1C726.4,655.6 738.9,658.3 747.8,661.9C756.7,665.4 765.6,669.8 774.6,675.3C783.5,680.8 792.4,688.3 801.4,694.8C810.3,701.3 819.2,708.3 828.1,714.2C837.1,720.2 846,725 854.9,730.7C863.9,736.4 872.8,742.9 881.7,748.7C890.6,754.4 899.6,759.6 908.5,765.1C917.4,770.7 926.4,776.3 935.3,782C944.2,787.8 953.1,794.2 962.1,799.5C971,804.9 979.9,808.6 988.9,814.2C997.8,819.8 1008.5,827.6 1015.6,832.9C1022.8,838.2 1027.2,843.5 1031.7,845.9C1036.2,848.4 1036.2,846.9 1042.4,847.4C1048.7,847.9 1063,849.4 1069.2,848.9C1075.5,848.4 1075.5,844.9 1079.9,844.4C1084.4,843.9 1092.4,845.7 1096,845.9C1099.6,846.2 1100.5,845.9 1101.4,845.9" stroke="#000000" stroke-width="6"/>
<path d="M715.6,645.4 716,645.5 716.2,645.5 716.6,645.5 717.4,645.7 718.8,646 721,646.6 724.2,647.5 728.3,648.5 733.1,649.7 738.1,651.1 743.1,652.7 747.8,654.4 752.2,656.2 756.7,658.2 761.2,660.4 765.6,662.7 770.1,665.2 774.6,667.9 779,670.7 783.5,673.9 788,677.2 792.4,680.6 796.9,684 801.4,687.3 805.8,690.7 810.3,694.1 814.8,697.5 819.2,700.9 823.7,704.2 828.1,707.4 832.6,710.3 837.1,713.1 841.5,715.8 846,718.5 850.5,721.2 854.9,724 859.4,727 863.9,730 868.3,733.1 872.8,736.2 877.2,739.2 881.7,742.2 886.2,745 890.6,747.8 895.1,750.6 899.6,753.3 904,756.1 908.5,758.9 913,761.7 917.4,764.5 921.9,767.4 926.4,770.3 930.8,773.1 935.3,776 939.8,779 944.2,782.1 948.7,785.2 953.1,788.2 957.6,791.2 962.1,794 966.5,796.6 971,799.1 975.5,801.4 979.9,803.8 984.4,806.3 988.9,809 993.3,812 997.8,815.3 1002.2,818.7 1006.7,822.1 1011.2,825.3 1015.6,828.4 1020.1,831.4 1024.6,834.4 1029,837.3 1033.5,839.9 1038,842.3 1042.4,844.1 1046.9,845.6 1051.4,846.6 1055.8,847.3 1060.3,847.7 1064.8,847.9 1069.2,847.9 1073.9,847.5 1078.9,846.7 1083.9,845.7 1088.7,844.6 1092.8,843.6 1096,842.9 1098.2,842.6 1099.6,842.4 1100.4,842.3 1100.8,842.2 1101,842.2 1101.4,842.2 1101.4,849.7 1101,849.7 1100.8,849.7 1100.4,849.8 1099.6,849.9 1098.2,850.1 1096,850.4 1092.8,851 1088.7,851.9 1083.9,852.8 1078.9,853.7 1073.9,854.4 1069.2,854.8 1064.8,854.8 1060.3,854.8 1055.8,854.5 1051.4,854 1046.9,853.2 1042.4,851.9 1038,850.2 1033.5,848.1 1029,845.6 1024.6,842.9 1020.1,840.2 1015.6,837.4 1011.2,834.6 1006.7,831.5 1002.2,828.4 997.8,825.3 993.3,822.3 988.9,819.4 984.4,816.9 979.9,814.5 975.5,812.2 971,809.9 966.5,807.6 962.1,805.1 957.6,802.4 953.1,799.6 948.7,796.7 944.2,793.8 939.8,790.9 935.3,788 930.8,785.2 926.4,782.4 921.9,779.6 917.4,776.9 913,774.1 908.5,771.4 904,768.7 899.6,766 895.1,763.3 890.6,760.7 886.2,758 881.7,755.2 877.2,752.3 872.8,749.3 868.3,746.3 863.9,743.3 859.4,740.3 854.9,737.4 850.5,734.6 846,732 841.5,729.3 837.1,726.7 832.6,724 828.1,721.1 823.7,718.1 819.2,715.1 814.8,711.9 810.3,708.7 805.8,705.5 801.4,702.3 796.9,699 792.4,695.6 788,692.2 783.5,688.9 779,685.7 774.6,682.8 770.1,680.2 765.6,677.7 761.2,675.4 756.7,673.2 752.2,671.2 747.8,669.3 743.1,667.6 738.1,666.1 733.1,664.7 728.3,663.5 724.2,662.4 721,661.6 718.8,661 717.4,660.6 716.6,660.5 716.2,660.4 716,660.4 715.6,660.4Z" fill="#dc1529" stroke="#dc1529" stroke-width="0.6"/>
<path d="M739.8,859.4C740.7,854.9 743.5,839.7 745.6,832.5C747.8,825.2 749.5,822.2 752.6,816C755.7,809.8 760.8,798 764.4,795.1C768,792.1 770.2,798.7 774,798.3C777.9,798 782.9,794.8 787.4,792.8C792,790.8 794.9,787.9 801.4,786.2C807.8,784.6 821,783 826,782.9C831,782.9 828.3,783.5 831.4,786.1C834.4,788.6 840.1,797.2 844.2,798.3C848.3,799.5 851.5,794.8 856,792.8C860.5,790.8 864.9,787.1 871,786.5C877.1,785.9 886.2,789.4 892.4,789.1C898.7,788.7 903.6,784.3 908.5,784.6C913.4,784.8 917.4,789.3 921.9,790.6C926.4,791.8 930.4,793.1 935.3,792.1C940.2,791.1 946.9,787.3 951.4,784.6C955.8,781.8 957.6,777.3 962.1,775.6C966.5,773.9 973.7,774.6 978.1,774.1C982.6,773.6 984.4,774.6 988.9,772.6C993.3,770.6 1000.5,766.4 1004.9,762.1C1009.4,757.9 1012.5,753.4 1015.6,747.2C1018.8,740.9 1022.3,728.5 1023.7,724.7" stroke="#17357f" stroke-width="2.2"/>
<path d="M723.7,911.8L724.5,902.6 725.4,893.5 726.3,884.3 727.2,875.2 728,866 728.9,856.8 729.8,847.7 730.7,838.5 731.5,829.4 732.4,820.2 733.3,811.1 734.1,801.9 735.1,792.8 736.1,783.6 737.2,774.5 738.4,765.4 739.7,756.3 741.2,747.2 742.7,738.1 744.4,729.1 746.2,720 748.2,711.1 750.5,702.2 753.9,693.7 760.1,687.3 767.1,692.9 774.2,698.8 781.6,704.3 789.6,708.7 798.3,711.8 806,716.7 813.4,722.2 820.7,727.8 828.1,733.2 836.1,737.7 844.3,742 850.3,748.9 858.6,752.4 867.7,753.2 876.9,753.3 886.1,752.8 895.2,751.5 904.3,750.3 913.5,750.6 922.5,752.4 931.5,754.2 940.7,754.8 949.9,754.4 959,753.5 968.2,752.4 977.2,751 986.3,749.2 995.1,746.9 1003.6,743.3 1011.3,738.4 1015,730.1 1017.2,721.2 1020,712.4 1023.3,703.8 1026.3,695.1 1028.8,686.3 1030.8,677.3 1032.5,668.3 1034,659.2 1035.4,650.1 1036.8,641 1038.1,631.9 1039.4,622.8 1040.7,613.7 1041.9,604.6 1042.4,597.5" stroke="#000000" stroke-width="1.6"/>
<path d="M724.3,911.8L725.2,902.7 726.1,893.7 726.9,884.6 727.8,875.5 728.7,866.5 729.5,857.4 730.4,848.4 731.3,839.3 732.1,830.2 733,821.2 733.8,812.1 734.7,803 735.6,794 736.6,784.9 737.7,775.9 739,766.9 740.3,757.9 741.8,748.9 743.4,740 745.2,731 747.3,722.2 749.6,713.4 752.5,704.9 757,698.4 763.6,694.6 770.9,699.8 778.2,705 785.8,709.9 793.9,714 802.4,717.3 810.2,721.8 817.8,726.9 825.3,731.9 832.7,737.2 840,742.3 848.2,746.1 854.9,751.3 863.4,753.8 872.4,754.2 881.5,753.9 890.6,753.3 899.6,752.3 908.6,751.9 917.6,752.6 926.6,754.1 935.5,755.4 944.6,755.6 953.7,755.1 962.7,754.1 971.7,752.9 980.7,751.4 989.6,749.4 998.2,746.6 1006.4,742.8 1013.1,737.2 1016.6,728.8 1018.9,720 1021.7,711.4 1024.9,702.8 1027.8,694.2 1030.2,685.4 1032.1,676.5 1033.7,667.6 1035.1,658.6 1036.5,649.6 1037.8,640.6 1039.1,631.6 1040.3,622.5 1041.5,613.5 1042.8,604.5 1043.2,597.5" stroke="#000000" stroke-width="1.6"/>
<path d="M725,911.8L725.9,902.8 726.7,893.8 727.6,884.9 728.4,875.9 729.3,867 730.1,858 731,849 731.9,840.1 732.7,831.1 733.5,822.1 734.4,813.1 735.2,804.2 736.1,795.2 737.1,786.3 738.3,777.3 739.5,768.4 740.8,759.5 742.4,750.6 744.1,741.8 746.1,733 748.3,724.3 751,715.7 754.6,707.6 760.1,703.2 767.2,701.9 774.7,706.7 782.3,711.2 790.1,715.5 798.2,719.4 806.5,722.7 814.4,727 822.1,731.6 829.8,736.1 837.2,741.2 843.9,746.9 852.2,750.2 859.6,753.6 868.1,755.2 877.1,755.2 886.1,754.6 895,753.8 904,753.2 912.8,753.5 921.7,754.6 930.6,755.8 939.5,756.6 948.5,756.5 957.5,755.8 966.4,754.8 975.3,753.5 984.2,751.8 992.8,749.5 1001.3,746.4 1009.1,742.2 1015,735.9 1018.2,727.5 1020.6,718.8 1023.4,710.3 1026.5,701.8 1029.3,693.3 1031.6,684.6 1033.4,675.7 1034.9,666.9 1036.3,658 1037.6,649.1 1038.8,640.1 1040,631.2 1041.2,622.3 1042.4,613.4 1043.6,604.4 1044,597.5" stroke="#000000" stroke-width="1.6"/>
<path d="M725.7,911.8L726.5,902.9 727.4,894 728.2,885.2 729.1,876.3 729.9,867.4 730.8,858.6 731.6,849.7 732.5,840.8 733.3,831.9 734.1,823.1 734.9,814.2 735.8,805.3 736.7,796.5 737.7,787.6 738.8,778.8 740,769.9 741.4,761.1 743,752.4 744.8,743.6 746.9,735 749.4,726.4 752.4,718.1 756.6,710.4 763.2,707.9 770.7,709.3 778.4,713.5 786.3,717.4 794.4,721.1 802.5,724.7 810.7,728.2 818.6,732.1 826.5,736.2 834.4,740.2 841.8,745.1 847.8,751.4 856.1,754.3 864.2,756 872.9,756.5 881.8,756.2 890.6,755.2 899.5,754.3 908.3,754.1 917.1,755.1 925.9,756.5 934.7,757.5 943.5,757.8 952.4,757.4 961.3,756.5 970.1,755.4 978.9,754 987.6,752.2 996.1,749.6 1004.4,746.2 1011.9,741.7 1016.8,734.6 1019.7,726.2 1022.2,717.7 1025.2,709.3 1028.2,700.9 1030.8,692.3 1032.9,683.7 1034.6,675 1036.1,666.2 1037.4,657.4 1038.6,648.5 1039.8,639.7 1041,630.9 1042.1,622 1043.2,613.2 1044.4,604.3 1044.8,597.5" stroke="#000000" stroke-width="1.6"/>
<path d="M726.4,911.8L727.2,903 728,894.2 728.9,885.5 729.7,876.7 730.5,867.9 731.4,859.1 732.2,850.4 733.1,841.6 733.9,832.8 734.7,824 735.5,815.2 736.3,806.5 737.2,797.7 738.2,788.9 739.3,780.2 740.5,771.5 741.9,762.8 743.6,754.1 745.5,745.5 747.8,737 750.4,728.6 753.8,720.4 758.6,713.1 766.3,712.7 774.2,716.6 782.2,720.4 790.4,723.6 798.7,726.6 806.8,730.1 814.8,733.6 822.8,737.3 830.9,740.9 839,744.3 846.3,749.1 851.7,756 860.1,758.4 868.9,758.4 877.7,757.9 886.5,757.2 895.2,755.9 903.9,754.8 912.7,755 921.4,756.7 930,758.5 938.8,759.2 947.6,759 956.3,758.3 965.1,757.3 973.8,756 982.5,754.5 991.1,752.6 999.4,749.7 1007.4,746 1014.6,741.1 1018.6,733.3 1021.3,724.9 1023.9,716.5 1026.9,708.2 1029.8,699.9 1032.3,691.4 1034.3,682.8 1035.9,674.2 1037.3,665.5 1038.5,656.7 1039.7,648 1040.8,639.3 1041.9,630.5 1043,621.8 1044.1,613 1045.2,604.3 1045.6,597.5" stroke="#000000" stroke-width="1.6"/>
<path d="M729,911.8L729.8,905.2 730.6,898.6 731.3,892 732.1,885.4 732.9,878.8 733.7,872.2 734.6,865.6 735.5,859 736.4,852.4 737.3,845.9 738.3,839.3 739.3,832.7 740.2,826.1 741.1,819.6 742.1,813 743,806.4 743.9,799.8 744.9,793.3 745.9,786.7 747,780.1 748.1,773.6 749.3,767 750.9,760.6 752.7,754.2 754.8,747.9 757.4,741.8 761.3,736.5 767.7,735.2 773.8,737.9 780.1,739.8 786.6,741.6 793,743.3 799.4,745 805.7,747.2 811.9,749.5 818.1,751.9 824.3,754.2 830.2,757.4 835.7,761 841.2,764.8 846.9,768.1 853.1,770.6 859.5,772.1 866.1,773.2 872.6,774.5 878.9,776.7 885.5,777.1 892.1,776.4 898.6,775.4 904.9,773.3 911.5,772.7 918.1,773.7 924.7,774.1 930.6,771.3 936.9,769.4 943.5,768.6 950.2,768 956.8,767.3 963.3,766.3 969.7,764.6 976,762.5 982.6,762.5 989.1,763.6 995.7,762.8 1002.2,761.4 1008.5,759.3 1014,755.7 1018.3,750.7 1022,745.1 1025.4,739.4 1028.8,733.7 1031.6,727.7 1033.9,721.5 1035.9,715.1 1037.7,708.7 1039.5,702.3 1041.1,695.9 1042.6,689.4 1044,682.9 1045.3,676.4 1046.6,669.9 1047.8,663.4 1049,656.8 1050,650.3 1051,643.7 1051.9,637.1 1052.7,630.5 1053.6,623.9 1054.4,617.3 1055.2,610.7 1055.9,604.1 1056.7,597.5" stroke="#dc1529" stroke-width="2.0"/>
<path d="M730.4,911.8L731.1,905.2 731.9,898.7 732.7,892.1 733.4,885.6 734.2,879.1 735,872.5 735.9,866 736.7,859.4 737.6,852.9 738.5,846.4 739.4,839.9 740.4,833.3 741.3,826.8 742.2,820.3 743.3,813.8 744.4,807.3 745.4,800.8 746.6,794.3 747.7,787.8 748.9,781.4 750.1,774.9 751.5,768.4 753.5,762.4 756,757.4 758.8,752.3 762,747.3 766.3,742.9 772.7,741.9 778.8,744.2 785.1,745.9 791.5,747.4 797.9,749 804.2,750.8 810.3,753.3 816.2,755.9 822.3,758.5 828.4,760.3 834.1,762.3 839.8,765.3 845.4,768.6 851.2,771.6 857.4,773.8 863.8,775.1 870.3,776.1 876.8,777.1 882.9,778.3 889.3,778.1 895.8,777.6 902.4,776.9 908.6,775.2 915.1,774.6 921.6,775 928.1,775 934.1,772.3 940.3,770.3 946.8,769.3 953.3,768.4 959.8,767.5 966.3,766.7 972.6,765.7 978.9,763.9 985.4,763.6 991.8,764.1 998.2,762.9 1004.4,761 1010.2,758.4 1015.4,754.5 1019.7,749.5 1023.4,744.1 1026.9,738.5 1030.2,732.8 1033,726.8 1035.2,720.6 1037.1,714.3 1038.9,708 1040.5,701.6 1042,695.2 1043.5,688.8 1044.8,682.3 1046.1,675.8 1047.3,669.4 1048.5,662.9 1049.6,656.4 1050.7,649.9 1051.6,643.4 1052.4,636.8 1053.2,630.3 1054,623.7 1054.7,617.2 1055.4,610.6 1056.1,604.1 1056.8,597.5" stroke="#dc1529" stroke-width="2.0"/>
<path d="M731.7,911.8L732.5,905.3 733.2,898.8 734,892.3 734.8,885.8 735.6,879.3 736.3,872.8 737.1,866.3 738,859.9 738.8,853.4 739.7,846.9 740.6,840.4 741.5,833.9 742.4,827.5 743.3,821 744.5,814.6 745.7,808.2 747,801.8 748.2,795.4 749.5,789 750.8,782.6 752.1,776.2 753.6,769.8 756,764.1 759.2,760.7 762.7,756.7 766.5,752.8 771.2,749.3 777.6,748.6 783.7,750.5 790.1,751.9 796.5,753.2 802.8,754.7 809,756.6 814.9,759.3 820.6,762.3 826.4,765.1 832.5,766.4 838.1,767.2 843.8,769.5 849.5,772.5 855.4,775.1 861.6,777 868,778.1 874.5,778.9 880.9,779.6 886.9,780 893.1,779.1 899.6,778.7 906.1,778.3 912.3,777.1 918.8,776.4 925.2,776.4 931.6,775.9 937.5,773.3 943.7,771.3 950.1,770 956.4,768.9 962.8,767.7 969.3,767 975.4,766.7 981.7,765.2 988.1,764.7 994.4,764.6 1000.6,763 1006.5,760.6 1012,757.6 1016.8,753.4 1021.1,748.4 1024.9,743.1 1028.3,737.6 1031.6,731.9 1034.3,726 1036.5,719.8 1038.3,713.5 1040,707.2 1041.5,700.9 1043,694.5 1044.3,688.1 1045.6,681.7 1046.9,675.3 1048.1,668.8 1049.2,662.4 1050.3,656 1051.3,649.5 1052.2,643 1053,636.5 1053.7,630 1054.3,623.5 1055,617 1055.6,610.5 1056.2,604 1056.8,597.5" stroke="#dc1529" stroke-width="2.0"/>
<path d="M733.1,911.8L733.8,905.3 734.6,898.9 735.3,892.5 736.1,886 736.9,879.6 737.7,873.1 738.4,866.7 739.2,860.3 740.1,853.8 740.9,847.4 741.7,841 742.5,834.6 743.4,828.1 744.4,821.7 745.8,815.4 747.1,809.1 748.5,802.7 749.9,796.4 751.3,790.1 752.7,783.8 754.2,777.5 755.7,771.2 758.6,765.9 762.4,763.9 766.6,761.2 771.1,758.2 776.2,755.7 782.5,755.3 788.7,756.8 795.1,758 801.4,759.1 807.7,760.4 813.9,762.4 819.5,765.4 825,768.7 830.6,771.7 836.7,772.5 842.1,772.1 847.9,773.7 853.7,776.3 859.7,778.7 865.9,780.2 872.3,781.1 878.7,781.8 885.1,782.2 890.9,781.6 896.9,780.2 903.3,779.9 909.8,779.8 916,779 922.4,778.3 928.7,777.8 935,776.9 940.9,774.4 947.1,772.3 953.3,770.8 959.6,769.3 965.9,767.9 972.2,767.4 978.3,767.8 984.6,766.6 990.9,765.7 997.1,765.1 1003.1,763.1 1008.7,760.2 1013.8,756.7 1018.3,752.2 1022.4,747.3 1026.3,742.1 1029.8,736.6 1033,731 1035.6,725.1 1037.7,719 1039.5,712.7 1041.1,706.4 1042.5,700.1 1043.9,693.8 1045.2,687.4 1046.5,681.1 1047.7,674.7 1048.8,668.3 1049.9,661.9 1051,655.5 1051.9,649.1 1052.8,642.7 1053.5,636.3 1054.1,629.8 1054.7,623.3 1055.3,616.9 1055.8,610.4 1056.3,604 1056.9,597.5" stroke="#dc1529" stroke-width="2.0"/>
<path d="M734.4,911.8L735.2,905.4 735.9,899 736.7,892.6 737.4,886.2 738.2,879.9 739,873.5 739.7,867.1 740.5,860.7 741.3,854.3 742,847.9 742.8,841.5 743.6,835.2 744.5,828.8 745.5,822.4 747,816.2 748.5,810 750,803.7 751.5,797.5 753.1,791.3 754.7,785.1 756.2,778.8 757.9,772.6 761.2,767.7 765.7,767.1 770.6,765.6 775.6,763.7 781.1,762.2 787.5,762 793.7,763.1 800,764 806.4,764.9 812.7,766.1 818.7,768.3 824.2,771.5 829.3,775.1 834.8,778.3 840.8,778.6 846,777 852,777.9 857.9,780.2 863.9,782.2 870.2,783.3 876.5,784 882.9,784.6 889.3,784.7 895,783.3 900.7,781.2 907.1,781 913.5,781.3 919.8,780.8 926.1,780.1 932.3,779.1 938.5,777.8 944.4,775.4 950.4,773.2 956.6,771.5 962.7,769.8 968.9,768.2 975.2,767.7 981.2,768.9 987.4,767.9 993.7,766.8 999.8,765.6 1005.6,763.1 1010.9,759.9 1015.5,755.8 1019.7,751.1 1023.8,746.1 1027.8,741.1 1031.2,735.7 1034.4,730.1 1037,724.2 1039,718.1 1040.7,711.9 1042.2,705.7 1043.6,699.4 1044.9,693.1 1046.1,686.8 1047.3,680.5 1048.5,674.1 1049.6,667.8 1050.7,661.5 1051.7,655.1 1052.6,648.7 1053.4,642.4 1054,636 1054.6,629.6 1055.1,623.2 1055.6,616.7 1056,610.3 1056.5,603.9 1057,597.5" stroke="#dc1529" stroke-width="2.0"/>
<path d="M735.7,911.8L736.5,905.4 737.2,899.1 738,892.8 738.8,886.5 739.5,880.1 740.3,873.8 741,867.5 741.8,861.1 742.5,854.8 743.2,848.4 743.9,842.1 744.7,835.8 745.6,829.5 746.6,823.2 748.2,817 749.9,810.9 751.5,804.7 753.1,798.6 754.8,792.4 756.6,786.3 758.3,780.1 760,774 763.8,769.5 768.9,770.4 774.5,770 780.2,769.2 786.1,768.6 792.4,768.6 798.7,769.4 805,770.1 811.3,770.7 817.6,771.8 823.5,774.1 828.8,777.5 833.7,781.5 839,785 844.9,784.7 850,781.9 856.1,782.1 862.1,784.1 868.2,785.7 874.5,786.5 880.8,787 887.2,787.5 893.5,787.3 899,784.9 904.5,782.3 910.9,782.2 917.2,782.8 923.5,782.7 929.7,781.9 935.9,780.5 941.9,778.7 947.8,776.4 953.8,774.2 959.8,772.2 965.8,770.2 971.9,768.4 978.2,768.1 984,770 990.3,769.3 996.4,767.8 1002.4,766.1 1008,763.2 1013,759.5 1017.3,754.9 1021.1,749.9 1025.1,745 1029.2,740.1 1032.6,734.7 1035.8,729.2 1038.3,723.3 1040.3,717.3 1041.9,711.1 1043.3,704.9 1044.6,698.6 1045.8,692.4 1047,686.1 1048.1,679.8 1049.3,673.6 1050.3,667.3 1051.4,661 1052.3,654.7 1053.2,648.4 1054,642 1054.6,635.7 1055.1,629.3 1055.5,623 1055.9,616.6 1056.2,610.2 1056.6,603.9 1057.1,597.5" stroke="#dc1529" stroke-width="2.0"/>
<path d="M737.1,911.8L737.8,905.5 738.6,899.2 739.3,892.9 740.1,886.7 740.8,880.4 741.6,874.1 742.3,867.8 743,861.5 743.7,855.3 744.4,849 745.1,842.7 745.8,836.4 746.6,830.1 747.7,823.9 749.5,817.8 751.2,811.8 753,805.7 754.8,799.6 756.6,793.6 758.5,787.5 760.3,781.5 762.2,775.4 766.3,771.3 772.1,773.6 778.4,774.4 784.7,774.7 791,775 797.4,775.3 803.7,775.8 810,776.1 816.3,776.6 822.5,777.5 828.4,779.9 833.4,783.6 838.1,787.9 843.2,791.6 849,790.7 854,786.8 860.1,786.4 866.3,787.9 872.4,789.3 878.7,789.7 885.1,790 891.4,790.3 897.7,789.8 903,786.6 908.3,783.3 914.6,783.3 920.9,784.2 927.2,784.6 933.4,783.8 939.4,781.9 945.4,779.7 951.3,777.4 957.2,775.2 963.1,773 969,770.7 974.9,768.6 981.1,768.4 986.9,771.1 993.1,770.6 999.2,768.9 1005.1,766.5 1010.5,763.3 1015.2,759.1 1019,754 1022.5,748.8 1026.5,743.9 1030.6,739.1 1034.1,733.8 1037.1,728.3 1039.6,722.5 1041.6,716.4 1043.1,710.3 1044.4,704.1 1045.6,697.9 1046.8,691.7 1047.9,685.5 1049,679.2 1050,673 1051.1,666.8 1052.1,660.5 1053,654.3 1053.8,648 1054.5,641.7 1055.1,635.4 1055.5,629.1 1055.9,622.8 1056.1,616.5 1056.4,610.1 1056.7,603.8 1057.2,597.5" stroke="#dc1529" stroke-width="2.0"/>
<path d="M722.6,911.8L723.2,905.1 723.8,898.4 724.4,891.6 725,884.9 725.7,878.2 726.4,871.5 727.2,864.8 728,858.1 729,851.5 730,844.8 731,838.1 732,831.5 732.9,824.8 733.7,818.1 734.5,811.4 735.3,804.7 736.2,798 737.2,791.4 738.5,784.7 740.2,778.2 741.7,771.6 742.7,765 743.8,758.3 745.4,751.8 747.5,745.4 749.8,739.1 752.2,732.7 754.7,726.5 757.6,720.4 761,714.6 766.8,712.4 773,715.1 779.3,717.5 785.7,719.7 792.3,720.5 799.1,720.5 805.3,723.1 811,726.7 816.7,730.3 823.1,732.1 829,735.1 833.8,739.8 838.3,744.8 843,749.6 848.1,754.1 854.2,756.7 860.8,758.2 867.4,759.4 874.1,760.1 880.9,760.2 887.5,759.1 893.9,757.1 900.3,754.8 906.7,752.9 913.4,752.6 920,754.1 926.6,754.1 932.3,750.5 938.6,748.3 945.2,746.8 951.8,745.3 958.3,743.8 964.7,741.6 970.7,738.6 976.7,735.5 983.3,735.1 989.9,736.1 996.6,735.4 1003.3,735.9 1009.9,737 1015.6,733.7 1019.8,728.5 1023.2,722.7 1026.1,716.6 1028.5,710.3 1030.6,703.8 1032.5,697.4 1034.3,690.9 1036,684.4 1037.5,677.8 1039,671.2 1040.2,664.6 1041.4,658 1042.4,651.3 1043.2,644.6 1043.9,637.9 1044.4,631.2 1044.8,624.4 1045.1,617.7 1045.4,611 1045.7,604.2 1046.2,597.5" stroke="#dc1529" stroke-width="2.2"/>
<path d="M723,911.8L723.7,905.1 724.3,898.4 724.9,891.7 725.5,885 726.2,878.3 726.9,871.6 727.6,864.9 728.5,858.2 729.5,851.5 730.5,844.9 731.5,838.2 732.5,831.5 733.4,824.9 734.2,818.2 735,811.5 735.8,804.8 736.7,798.1 737.7,791.5 739,784.9 740.7,778.3 742.1,771.8 743.1,765.1 744.2,758.5 745.9,751.9 748,745.6 750.3,739.2 752.8,733 755.5,727.1 758.7,721.6 762.3,716.3 768.2,714.4 774.3,717 780.7,719.3 787,721.5 793.6,722.4 800.3,722.6 806.5,725.1 812.2,728.7 817.9,732.3 824.3,734.3 830.2,737.3 835.1,741.8 839.8,746.6 844.6,751.2 849.7,755.4 855.9,758 862.4,759.5 869.1,760.6 875.8,761.1 882.5,761.1 889.1,760 895.5,758.2 901.9,756.1 908.3,754.2 915,753.7 921.5,755.1 928.2,755.1 933.9,751.6 940.3,749.5 946.8,748 953.4,746.5 959.9,745 966.3,743.1 972.4,740.2 978.4,737.3 985,736.7 991.5,737.4 998.1,736.4 1004.6,736.5 1010.9,737.1 1016.5,733.7 1020.6,728.4 1024,722.6 1026.7,716.5 1029.1,710.2 1031.2,703.7 1033.1,697.3 1034.8,690.8 1036.5,684.3 1038,677.7 1039.5,671.1 1040.7,664.5 1041.9,657.9 1042.9,651.2 1043.7,644.5 1044.5,637.8 1045,631.1 1045.4,624.4 1045.7,617.7 1046,611 1046.4,604.2 1046.9,597.5" stroke="#dc1529" stroke-width="2.2"/>
<path d="M723.5,911.8L724.1,905.1 724.7,898.4 725.3,891.7 726,885 726.7,878.3 727.4,871.6 728.1,864.9 729,858.2 730,851.6 731,844.9 732,838.3 732.9,831.6 733.8,825 734.7,818.3 735.5,811.6 736.4,804.9 737.2,798.3 738.2,791.6 739.5,785 741.1,778.5 742.5,771.9 743.6,765.3 744.7,758.6 746.4,752.1 748.5,745.7 750.8,739.4 753.4,733.2 756.4,727.6 759.7,722.7 763.6,718 769.5,716.3 775.7,718.9 782,721.1 788.3,723.3 794.9,724.3 801.6,724.7 807.8,727.2 813.5,730.8 819.2,734.4 825.5,736.5 831.4,739.5 836.4,743.9 841.2,748.4 846.1,752.8 851.4,756.8 857.5,759.4 864.1,760.7 870.7,761.7 877.4,762.2 884.1,762 890.7,760.9 897.1,759.3 903.5,757.4 909.9,755.4 916.6,754.9 923.1,756.1 929.7,756 935.5,752.8 941.9,750.7 948.5,749.2 955,747.6 961.6,746.3 968,744.6 974,741.8 980.1,739 986.7,738.3 993.2,738.7 999.5,737.4 1005.8,737.1 1012,737.3 1017.4,733.7 1021.4,728.4 1024.7,722.5 1027.4,716.4 1029.7,710.1 1031.8,703.6 1033.6,697.2 1035.4,690.7 1037,684.2 1038.6,677.6 1040,671 1041.2,664.4 1042.4,657.8 1043.4,651.1 1044.3,644.5 1045,637.8 1045.5,631.1 1046,624.4 1046.3,617.7 1046.7,610.9 1047.1,604.2 1047.6,597.5" stroke="#dc1529" stroke-width="2.2"/>
<path d="M723.9,911.8L724.5,905.1 725.2,898.4 725.8,891.7 726.5,885 727.1,878.3 727.9,871.6 728.6,865 729.5,858.3 730.5,851.7 731.5,845 732.5,838.4 733.4,831.7 734.3,825 735.2,818.4 736,811.7 736.9,805 737.7,798.4 738.7,791.7 740,785.1 741.6,778.6 742.9,772 744,765.4 745.2,758.8 746.8,752.3 749,745.9 751.3,739.6 754,733.5 757.3,728.2 760.8,723.9 764.8,719.6 770.8,718.2 777,720.8 783.3,723 789.7,725.2 796.2,726.3 802.9,726.8 809.1,729.3 814.8,732.8 820.5,736.4 826.7,738.7 832.6,741.7 837.7,745.9 842.6,750.2 847.6,754.3 853,758.2 859.2,760.7 865.7,762 872.4,762.8 879,763.2 885.7,762.8 892.3,761.8 898.8,760.4 905.2,758.7 911.5,756.6 918.1,756 924.7,757 931.3,756.9 937.2,753.9 943.6,751.9 950.1,750.4 956.6,748.8 963.2,747.5 969.6,746 975.7,743.4 981.8,740.7 988.3,739.9 994.8,740 1001,738.4 1007,737.7 1013,737.5 1018.2,733.7 1022.2,728.3 1025.4,722.4 1028.1,716.3 1030.3,710 1032.4,703.5 1034.2,697.1 1035.9,690.6 1037.6,684.1 1039.1,677.5 1040.5,670.9 1041.7,664.3 1042.9,657.7 1043.9,651.1 1044.8,644.4 1045.5,637.7 1046.1,631 1046.6,624.3 1047,617.6 1047.3,610.9 1047.7,604.2 1048.3,597.5" stroke="#dc1529" stroke-width="2.2"/>
<path d="M724.3,911.8L725,905.1 725.6,898.4 726.3,891.7 726.9,885.1 727.6,878.4 728.3,871.7 729.1,865 730,858.4 731,851.7 731.9,845.1 732.9,838.4 733.9,831.8 734.8,825.1 735.7,818.5 736.5,811.8 737.4,805.2 738.3,798.5 739.3,791.9 740.5,785.3 742,778.7 743.4,772.2 744.5,765.5 745.7,758.9 747.3,752.4 749.5,746.1 751.8,739.8 754.6,733.7 758.1,728.8 761.9,725.1 766.1,721.3 772.1,720.2 778.3,722.6 784.7,724.8 791,727 797.6,728.2 804.1,728.9 810.3,731.4 816.1,734.9 821.7,738.5 827.9,740.8 833.8,743.9 839,748 844,752.1 849.2,755.9 854.6,759.5 860.8,762 867.4,763.2 874,764 880.7,764.2 887.3,763.7 893.9,762.7 900.4,761.5 906.8,760 913.1,757.8 919.7,757.1 926.3,758 932.9,757.8 938.8,755 945.2,753.1 951.7,751.5 958.2,749.9 964.8,748.8 971.2,747.5 977.4,745.1 983.5,742.5 990,741.5 996.4,741.3 1002.4,739.4 1008.3,738.4 1014,737.6 1019.1,733.7 1023,728.3 1026.1,722.3 1028.7,716.2 1030.9,709.8 1032.9,703.4 1034.8,697 1036.5,690.5 1038.1,684 1039.6,677.4 1041,670.9 1042.2,664.3 1043.4,657.6 1044.4,651 1045.3,644.4 1046.1,637.7 1046.7,631 1047.2,624.3 1047.6,617.6 1048,610.9 1048.4,604.2 1049,597.5" stroke="#dc1529" stroke-width="2.2"/>
<path d="M724.8,911.8L725.4,905.1 726.1,898.4 726.7,891.8 727.4,885.1 728.1,878.4 728.8,871.7 729.6,865.1 730.5,858.4 731.4,851.8 732.4,845.2 733.4,838.5 734.4,831.9 735.3,825.2 736.2,818.6 737,811.9 737.9,805.3 738.8,798.6 739.8,792 741,785.4 742.5,778.9 743.8,772.3 744.9,765.7 746.1,759.1 747.8,752.6 749.9,746.2 752.4,740 755.2,734 759,729.4 763,726.2 767.4,723 773.4,722.1 779.7,724.5 786,726.7 792.3,728.8 798.9,730.2 805.4,731 811.6,733.5 817.4,736.9 823,740.5 829.1,743 835,746.1 840.2,750 845.4,753.9 850.7,757.5 856.3,760.9 862.5,763.4 869,764.5 875.7,765.1 882.3,765.2 888.9,764.6 895.5,763.6 902,762.6 908.4,761.2 914.7,759.1 921.3,758.2 927.8,758.9 934.4,758.7 940.4,756.1 946.9,754.3 953.4,752.7 959.9,751.1 966.4,750 972.8,749 979,746.7 985.2,744.2 991.7,743.1 998,742.6 1003.9,740.5 1009.5,739 1015.1,737.8 1020,733.7 1023.8,728.2 1026.8,722.3 1029.4,716.1 1031.6,709.7 1033.5,703.3 1035.4,696.9 1037.1,690.4 1038.6,683.9 1040.1,677.3 1041.5,670.8 1042.7,664.2 1043.9,657.6 1044.9,650.9 1045.8,644.3 1046.6,637.6 1047.2,631 1047.7,624.3 1048.2,617.6 1048.6,610.9 1049.1,604.2 1049.7,597.5" stroke="#dc1529" stroke-width="2.2"/>
<path d="M725.2,911.8L725.9,905.1 726.5,898.4 727.2,891.8 727.9,885.1 728.6,878.4 729.3,871.8 730.1,865.1 731,858.5 731.9,851.9 732.9,845.2 733.9,838.6 734.9,832 735.8,825.3 736.7,818.7 737.5,812 738.4,805.4 739.3,798.7 740.3,792.1 741.5,785.5 742.9,779 744.2,772.4 745.3,765.8 746.6,759.2 748.3,752.7 750.4,746.4 752.9,740.1 755.8,734.3 759.9,730 764.1,727.4 768.7,724.7 774.7,724.1 781,726.4 787.3,728.5 793.7,730.7 800.2,732.1 806.7,733.1 812.9,735.5 818.6,739 824.3,742.6 830.3,745.2 836.2,748.3 841.5,752.1 846.8,755.7 852.2,759.1 857.9,762.2 864.1,764.7 870.7,765.8 877.3,766.2 883.9,766.2 890.5,765.4 897.1,764.6 903.6,763.7 910,762.5 916.3,760.3 922.8,759.3 929.4,759.9 936,759.7 942.1,757.2 948.5,755.5 955,753.9 961.5,752.2 968,751.3 974.5,750.4 980.7,748.3 986.9,745.9 993.4,744.8 999.6,743.9 1005.3,741.5 1010.8,739.6 1016.1,738 1020.9,733.7 1024.6,728.2 1027.5,722.2 1030,716 1032.2,709.6 1034.1,703.2 1035.9,696.8 1037.6,690.3 1039.2,683.8 1040.6,677.2 1042,670.7 1043.3,664.1 1044.4,657.5 1045.4,650.9 1046.3,644.2 1047.1,637.6 1047.8,630.9 1048.3,624.2 1048.8,617.6 1049.3,610.9 1049.8,604.2 1050.4,597.5" stroke="#dc1529" stroke-width="2.2"/>
<path d="M725.6,911.8L726.3,905.1 727,898.5 727.6,891.8 728.3,885.1 729.1,878.5 729.8,871.8 730.6,865.2 731.5,858.5 732.4,851.9 733.4,845.3 734.4,838.7 735.4,832 736.3,825.4 737.2,818.8 738,812.1 738.9,805.5 739.8,798.9 740.8,792.2 742,785.7 743.4,779.1 744.7,772.5 745.8,765.9 747.1,759.4 748.8,752.9 750.9,746.6 753.4,740.3 756.5,734.5 760.8,730.6 765.1,728.6 769.9,726.4 776,726 782.3,728.3 788.7,730.3 795,732.5 801.5,734 807.9,735.2 814.2,737.6 819.9,741 825.5,744.6 831.5,747.4 837.4,750.5 842.8,754.2 848.2,757.5 853.8,760.6 859.5,763.6 865.7,766 872.3,767 878.9,767.4 885.6,767.3 892.1,766.3 898.7,765.5 905.2,764.8 911.7,763.8 917.9,761.5 924.4,760.4 931,760.9 937.6,760.6 943.7,758.4 950.2,756.7 956.6,755.1 963.1,753.4 969.6,752.5 976.1,751.9 982.4,749.9 988.6,747.6 995.1,746.4 1001.2,745.2 1006.8,742.5 1012,740.2 1017.1,738.1 1021.8,733.7 1025.3,728.1 1028.2,722.1 1030.7,715.9 1032.8,709.5 1034.7,703.1 1036.5,696.7 1038.2,690.2 1039.7,683.7 1041.2,677.2 1042.5,670.6 1043.8,664 1044.9,657.4 1045.9,650.8 1046.9,644.2 1047.6,637.5 1048.3,630.9 1048.9,624.2 1049.4,617.5 1049.9,610.9 1050.5,604.2 1051.1,597.5" stroke="#dc1529" stroke-width="2.2"/>
<path d="M726,911.8L726.7,905.1 727.4,898.5 728.1,891.8 728.8,885.2 729.5,878.5 730.3,871.9 731.1,865.2 732,858.6 732.9,852 733.9,845.4 734.9,838.7 735.9,832.1 736.8,825.5 737.7,818.9 738.5,812.2 739.4,805.6 740.3,799 741.3,792.4 742.5,785.8 743.8,779.2 745.1,772.7 746.2,766.1 747.6,759.5 749.3,753.1 751.4,746.7 753.9,740.5 757.1,734.8 761.6,731.1 766.2,729.7 771.2,728 777.4,728 783.6,730.2 790,732.2 796.3,734.3 802.8,736 809.2,737.3 815.4,739.7 821.2,743 826.8,746.7 832.7,749.5 838.6,752.7 844.1,756.2 849.6,759.4 855.3,762.2 861.2,765 867.4,767.3 874,768.3 880.6,768.5 887.2,768.3 893.7,767.2 900.3,766.4 906.8,765.9 913.3,765.1 919.5,762.7 926,761.5 932.5,761.8 939.2,761.5 945.3,759.5 951.8,757.9 958.3,756.3 964.7,754.5 971.3,753.8 977.7,753.4 984,751.5 990.3,749.4 996.7,748 1002.8,746.5 1008.2,743.5 1013.3,740.8 1018.2,738.3 1022.6,733.7 1026.1,728.1 1028.9,722 1031.3,715.8 1033.4,709.4 1035.3,703 1037.1,696.6 1038.7,690.1 1040.2,683.6 1041.7,677.1 1043,670.5 1044.3,663.9 1045.4,657.3 1046.4,650.7 1047.4,644.1 1048.2,637.5 1048.9,630.8 1049.5,624.2 1050.1,617.5 1050.6,610.8 1051.1,604.2 1051.8,597.5" stroke="#dc1529" stroke-width="2.2"/>
<path d="M726.5,911.8L727.2,905.1 727.9,898.5 728.6,891.8 729.3,885.2 730,878.6 730.8,871.9 731.6,865.3 732.5,858.7 733.4,852 734.4,845.4 735.4,838.8 736.4,832.2 737.3,825.6 738.2,819 739,812.3 739.9,805.7 740.8,799.1 741.8,792.5 743,785.9 744.3,779.4 745.5,772.8 746.7,766.2 748,759.7 749.8,753.2 751.9,746.9 754.4,740.7 757.7,735 762.5,731.7 767.3,730.9 772.5,729.7 778.7,729.9 785,732 791.4,734 797.7,736.2 804.1,737.9 810.5,739.4 816.7,741.8 822.5,745.1 828.1,748.7 833.9,751.7 839.8,754.9 845.4,758.3 851.1,761.2 856.9,763.8 862.8,766.3 869,768.7 875.6,769.5 882.2,769.6 888.8,769.3 895.3,768 901.9,767.3 908.4,767 914.9,766.4 921.1,763.9 927.5,762.7 934.1,762.8 940.7,762.4 947,760.6 953.4,759.1 959.9,757.5 966.3,755.7 972.9,755 979.4,754.8 985.7,753.1 992,751.1 998.4,749.6 1004.4,747.8 1009.7,744.5 1014.5,741.4 1019.2,738.5 1023.5,733.7 1026.9,728 1029.6,721.9 1032,715.7 1034,709.3 1035.9,702.9 1037.7,696.5 1039.3,690 1040.8,683.5 1042.2,677 1043.5,670.4 1044.8,663.8 1045.9,657.3 1047,650.7 1047.9,644 1048.7,637.4 1049.4,630.8 1050.1,624.1 1050.7,617.5 1051.2,610.8 1051.8,604.2 1052.5,597.5" stroke="#dc1529" stroke-width="2.2"/>
<path d="M726.9,911.8L727.6,905.1 728.3,898.5 729,891.9 729.8,885.2 730.5,878.6 731.3,872 732.1,865.3 733,858.7 733.9,852.1 734.9,845.5 735.9,838.9 736.8,832.3 737.8,825.7 738.7,819.1 739.5,812.5 740.4,805.8 741.4,799.2 742.3,792.6 743.5,786 744.7,779.5 745.9,772.9 747.1,766.4 748.5,759.8 750.3,753.4 752.4,747.1 754.9,740.9 758.3,735.3 763.4,732.3 768.4,732.1 773.8,731.4 780,731.8 786.3,733.9 792.7,735.8 799,738 805.4,739.8 811.7,741.4 818,743.8 823.8,747.1 829.3,750.8 835.1,753.9 841,757.1 846.7,760.3 852.5,763 858.4,765.3 864.4,767.7 870.7,770 877.3,770.8 883.9,770.8 890.5,770.3 896.9,768.9 903.5,768.2 910,768.2 916.5,767.7 922.7,765.2 929.1,763.8 935.7,763.7 942.3,763.4 948.6,761.7 955.1,760.3 961.5,758.6 967.9,756.8 974.5,756.3 981,756.3 987.4,754.7 993.7,752.8 1000.1,751.2 1006,749.1 1011.1,745.6 1015.8,742.1 1020.3,738.6 1024.4,733.7 1027.7,728 1030.3,721.9 1032.6,715.6 1034.7,709.2 1036.5,702.8 1038.2,696.4 1039.8,689.9 1041.3,683.4 1042.7,676.9 1044,670.3 1045.3,663.8 1046.4,657.2 1047.5,650.6 1048.4,644 1049.2,637.4 1050,630.7 1050.7,624.1 1051.3,617.4 1051.9,610.8 1052.5,604.2 1053.2,597.5" stroke="#dc1529" stroke-width="2.2"/>
<path d="M727.3,911.8L728,905.2 728.8,898.5 729.5,891.9 730.2,885.3 731,878.6 731.8,872 732.6,865.4 733.5,858.8 734.4,852.2 735.4,845.6 736.4,839 737.3,832.4 738.3,825.8 739.2,819.2 740,812.6 740.9,805.9 741.9,799.3 742.9,792.7 744,786.2 745.2,779.6 746.4,773.1 747.6,766.5 749,760 750.8,753.6 752.9,747.2 755.4,741.1 758.9,735.5 764.2,732.9 769.5,733.2 775,733.1 781.3,733.8 787.6,735.8 794,737.7 800.3,739.9 806.7,741.8 813,743.5 819.2,745.9 825,749.2 830.6,752.8 836.4,756.1 842.2,759.3 847.9,762.4 853.9,764.8 859.9,766.9 866.1,769.1 872.3,771.3 878.9,772 885.5,771.9 892.1,771.3 898.5,769.8 905.1,769.1 911.6,769.3 918.2,768.9 924.3,766.4 930.7,764.9 937.3,764.7 943.9,764.3 950.2,762.8 956.7,761.5 963.2,759.8 969.6,757.9 976.1,757.5 982.6,757.8 989,756.3 995.4,754.5 1001.8,752.8 1007.6,750.5 1012.6,746.6 1017,742.7 1021.3,738.8 1025.3,733.7 1028.5,727.9 1031.1,721.8 1033.3,715.5 1035.3,709.1 1037.1,702.7 1038.8,696.3 1040.4,689.8 1041.8,683.3 1043.2,676.8 1044.5,670.2 1045.8,663.7 1046.9,657.1 1048,650.5 1048.9,643.9 1049.8,637.3 1050.5,630.7 1051.2,624.1 1051.9,617.4 1052.6,610.8 1053.2,604.2 1053.9,597.5" stroke="#dc1529" stroke-width="2.2"/>
<path d="M727.8,911.8L728.5,905.2 729.2,898.5 730,891.9 730.7,885.3 731.5,878.7 732.3,872.1 733.1,865.4 734,858.8 734.9,852.2 735.9,845.6 736.9,839.1 737.8,832.5 738.7,825.9 739.7,819.3 740.5,812.7 741.5,806.1 742.4,799.5 743.4,792.9 744.5,786.3 745.6,779.7 746.8,773.2 748,766.6 749.5,760.1 751.2,753.7 753.4,747.4 755.9,741.2 759.5,735.8 765.1,733.5 770.5,734.4 776.3,734.8 782.6,735.7 789,737.7 795.4,739.5 801.7,741.7 808,743.7 814.3,745.6 820.5,748 826.3,751.2 831.9,754.9 837.6,758.2 843.4,761.5 849.2,764.4 855.3,766.6 861.5,768.5 867.7,770.4 873.9,772.7 880.5,773.3 887.2,773 893.7,772.3 900.1,770.7 906.7,770 913.2,770.4 919.8,770.2 925.8,767.6 932.2,766 938.8,765.7 945.4,765.2 951.9,764 958.4,762.7 964.8,761 971.2,759.1 977.7,758.8 984.2,759.2 990.7,758 997.1,756.3 1003.5,754.5 1009.2,751.8 1014,747.6 1018.3,743.3 1022.3,738.9 1026.2,733.7 1029.3,727.9 1031.8,721.7 1033.9,715.4 1035.9,709 1037.7,702.6 1039.4,696.2 1040.9,689.7 1042.4,683.2 1043.8,676.7 1045,670.1 1046.3,663.6 1047.4,657 1048.5,650.5 1049.4,643.9 1050.3,637.3 1051.1,630.6 1051.8,624 1052.5,617.4 1053.2,610.8 1053.9,604.1 1054.6,597.5" stroke="#dc1529" stroke-width="2.2"/>
<path d="M728.2,911.8L728.9,905.2 729.7,898.6 730.4,891.9 731.2,885.3 732,878.7 732.7,872.1 733.6,865.5 734.5,858.9 735.4,852.3 736.4,845.7 737.3,839.1 738.3,832.5 739.2,826 740.1,819.4 741.1,812.8 742,806.2 742.9,799.6 743.9,793 745,786.4 746.1,779.9 747.2,773.3 748.4,766.8 749.9,760.3 751.7,753.9 753.9,747.6 756.4,741.4 760.1,736 766,734.1 771.6,735.6 777.6,736.4 783.9,737.7 790.3,739.5 796.7,741.4 803,743.5 809.3,745.6 815.5,747.7 821.8,750.1 827.6,753.3 833.1,756.9 838.8,760.4 844.5,763.7 850.5,766.5 856.7,768.5 863,770.1 869.3,771.8 875.6,774 882.2,774.5 888.8,774.2 895.4,773.4 901.7,771.5 908.3,770.9 914.9,771.5 921.4,771.5 927.4,768.8 933.8,767.1 940.4,766.6 947,766.1 953.5,765.1 960,763.9 966.5,762.2 972.8,760.2 979.4,760 985.9,760.7 992.4,759.6 998.8,758 1005.1,756.1 1010.8,753.1 1015.4,748.6 1019.5,743.9 1023.4,739.1 1027,733.7 1030.1,727.8 1032.5,721.6 1034.6,715.3 1036.5,708.9 1038.3,702.5 1039.9,696.1 1041.5,689.6 1042.9,683.1 1044.3,676.6 1045.6,670.1 1046.8,663.5 1047.9,657 1049,650.4 1050,643.8 1050.8,637.2 1051.6,630.6 1052.4,624 1053.2,617.4 1053.9,610.8 1054.6,604.1 1055.3,597.5" stroke="#dc1529" stroke-width="2.2"/>
<path d="M728.6,911.8L729.4,905.2 730.1,898.6 730.9,892 731.7,885.4 732.4,878.7 733.2,872.1 734.1,865.5 735,859 735.9,852.4 736.9,845.8 737.8,839.2 738.8,832.6 739.7,826 740.6,819.5 741.6,812.9 742.5,806.3 743.4,799.7 744.4,793.1 745.5,786.6 746.5,780 747.6,773.4 748.9,766.9 750.4,760.4 752.2,754 754.4,747.7 756.9,741.6 760.7,736.3 766.9,734.7 772.7,736.7 778.9,738.1 785.2,739.6 791.6,741.4 798,743.2 804.3,745.4 810.6,747.6 816.8,749.8 823,752.2 828.9,755.3 834.4,759 840,762.6 845.7,765.9 851.8,768.5 858.1,770.3 864.6,771.6 871,773.2 877.2,775.3 883.8,775.8 890.4,775.3 897,774.4 903.3,772.4 909.9,771.8 916.5,772.6 923.1,772.8 929,770.1 935.4,768.2 942,767.6 948.6,767 955.1,766.2 961.7,765.1 968.1,763.4 974.4,761.4 981,761.3 987.5,762.1 994,761.2 1000.5,759.7 1006.8,757.7 1012.4,754.4 1016.9,749.6 1020.8,744.5 1024.4,739.3 1027.9,733.7 1030.9,727.8 1033.2,721.5 1035.2,715.2 1037.1,708.8 1038.9,702.4 1040.5,696 1042,689.5 1043.5,683 1044.8,676.5 1046.1,670 1047.3,663.4 1048.4,656.9 1049.5,650.3 1050.5,643.7 1051.4,637.1 1052.2,630.6 1053,624 1053.8,617.3 1054.5,610.7 1055.2,604.1 1056,597.5" stroke="#dc1529" stroke-width="2.2"/>
<path d="M729,911.8L729.8,905.2 730.6,898.6 731.3,892 732.1,885.4 732.9,878.8 733.7,872.2 734.6,865.6 735.5,859 736.4,852.4 737.3,845.9 738.3,839.3 739.3,832.7 740.2,826.1 741.1,819.6 742.1,813 743,806.4 743.9,799.8 744.9,793.3 745.9,786.7 747,780.1 748.1,773.6 749.3,767 750.9,760.6 752.7,754.2 754.8,747.9 757.4,741.8 761.3,736.5 767.7,735.2 773.8,737.9 780.1,739.8 786.6,741.6 793,743.3 799.4,745 805.7,747.2 811.9,749.5 818.1,751.9 824.3,754.2 830.2,757.4 835.7,761 841.2,764.8 846.9,768.1 853.1,770.6 859.5,772.1 866.1,773.2 872.6,774.5 878.9,776.7 885.5,777.1 892.1,776.4 898.6,775.4 904.9,773.3 911.5,772.7 918.1,773.7 924.7,774.1 930.6,771.3 936.9,769.4 943.5,768.6 950.2,768 956.8,767.3 963.3,766.3 969.7,764.6 976,762.5 982.6,762.5 989.1,763.6 995.7,762.8 1002.2,761.4 1008.5,759.3 1014,755.7 1018.3,750.7 1022,745.1 1025.4,739.4 1028.8,733.7 1031.6,727.7 1033.9,721.5 1035.9,715.1 1037.7,708.7 1039.5,702.3 1041.1,695.9 1042.6,689.4 1044,682.9 1045.3,676.4 1046.6,669.9 1047.8,663.4 1049,656.8 1050,650.3 1051,643.7 1051.9,637.1 1052.7,630.5 1053.6,623.9 1054.4,617.3 1055.2,610.7 1055.9,604.1 1056.7,597.5" stroke="#dc1529" stroke-width="2.2"/>
</g>
<g font-family="Liberation Sans" font-weight="bold" font-size="13.5" fill="#000"><text x="714" y="608.9" text-anchor="end" transform="translate(714,0) scale(0.88,1) translate(-714,0)">2.00</text><text x="714" y="646.31" text-anchor="end" transform="translate(714,0) scale(0.88,1) translate(-714,0)">1.75</text><text x="714" y="683.73" text-anchor="end" transform="translate(714,0) scale(0.88,1) translate(-714,0)">1.50</text><text x="714" y="721.14" text-anchor="end" transform="translate(714,0) scale(0.88,1) translate(-714,0)">1.25</text><text x="714" y="758.55" text-anchor="end" transform="translate(714,0) scale(0.88,1) translate(-714,0)">1.00</text><text x="714" y="795.96" text-anchor="end" transform="translate(714,0) scale(0.88,1) translate(-714,0)">0.75</text><text x="714" y="833.37" text-anchor="end" transform="translate(714,0) scale(0.88,1) translate(-714,0)">0.50</text><text x="714" y="870.79" text-anchor="end" transform="translate(714,0) scale(0.88,1) translate(-714,0)">0.25</text><text x="714" y="908.2" text-anchor="end" transform="translate(714,0) scale(0.88,1) translate(-714,0)">0</text><text x="1102.5" y="608.9" transform="translate(1102.5,0) scale(0.88,1) translate(-1102.5,0)">2.0</text><text x="1102.5" y="646.31" transform="translate(1102.5,0) scale(0.88,1) translate(-1102.5,0)">1.5</text><text x="1102.5" y="683.73" transform="translate(1102.5,0) scale(0.88,1) translate(-1102.5,0)">1.0</text><text x="1102.5" y="721.14" transform="translate(1102.5,0) scale(0.88,1) translate(-1102.5,0)">0.5</text><text x="1102.5" y="758.55" transform="translate(1102.5,0) scale(0.88,1) translate(-1102.5,0)">0</text><text x="1102.5" y="795.96" transform="translate(1102.5,0) scale(0.88,1) translate(-1102.5,0)">–0.5</text><text x="1102.5" y="833.37" transform="translate(1102.5,0) scale(0.88,1) translate(-1102.5,0)">–1.0</text><text x="1102.5" y="870.79" transform="translate(1102.5,0) scale(0.88,1) translate(-1102.5,0)">–1.5</text><text x="1102.5" y="908.2" transform="translate(1102.5,0) scale(0.88,1) translate(-1102.5,0)">–2.0</text><text x="727.52" y="920.6" text-anchor="end" transform="translate(727.52,0) scale(0.87,1) translate(-727.52,0)">–60</text><text x="754.31" y="920.6" text-anchor="end" transform="translate(754.31,0) scale(0.87,1) translate(-754.31,0)">–55</text><text x="781.1" y="920.6" text-anchor="end" transform="translate(781.1,0) scale(0.87,1) translate(-781.1,0)">–50</text><text x="807.88" y="920.6" text-anchor="end" transform="translate(807.88,0) scale(0.87,1) translate(-807.88,0)">–45</text><text x="834.67" y="920.6" text-anchor="end" transform="translate(834.67,0) scale(0.87,1) translate(-834.67,0)">–40</text><text x="861.45" y="920.6" text-anchor="end" transform="translate(861.45,0) scale(0.87,1) translate(-861.45,0)">–35</text><text x="888.24" y="920.6" text-anchor="end" transform="translate(888.24,0) scale(0.87,1) translate(-888.24,0)">–30</text><text x="915.02" y="920.6" text-anchor="end" transform="translate(915.02,0) scale(0.87,1) translate(-915.02,0)">–25</text><text x="941.81" y="920.6" text-anchor="end" transform="translate(941.81,0) scale(0.87,1) translate(-941.81,0)">–20</text><text x="968.6" y="920.6" text-anchor="end" transform="translate(968.6,0) scale(0.87,1) translate(-968.6,0)">–15</text><text x="995.38" y="920.6" text-anchor="end" transform="translate(995.38,0) scale(0.87,1) translate(-995.38,0)">–10</text><text x="1018.91" y="920.6" text-anchor="end" transform="translate(1018.91,0) scale(0.87,1) translate(-1018.91,0)">–5</text><text x="1042.43" y="920.6" text-anchor="middle" transform="translate(1042.43,0) scale(0.87,1) translate(-1042.43,0)">0</text><text x="1069.21" y="920.6" text-anchor="middle" transform="translate(1069.21,0) scale(0.87,1) translate(-1069.21,0)">5</text><text x="1096" y="920.6" text-anchor="middle" transform="translate(1096,0) scale(0.87,1) translate(-1096,0)">10</text></g>
<g font-family="Liberation Sans" font-weight="bold" fill="#000">
<text font-size="13" transform="translate(676.4,754.65) rotate(-90)" text-anchor="middle">V<tspan font-size="10" dy="3">OUT</tspan><tspan dy="-3"> (V)</tspan></text>
<text font-size="13" transform="translate(1146.3,754.15) rotate(-90)" text-anchor="middle" textLength="71" lengthAdjust="spacingAndGlyphs">ERROR (dB)</text>
<text font-size="13" x="908.5" y="944.7" text-anchor="middle">P<tspan font-size="10" dy="3">IN</tspan><tspan dy="-3"> (dBm)</tspan></text>
</g>
<text font-family="Liberation Sans" font-size="8.3" fill="#000" transform="translate(1150,925) rotate(-90)" text-anchor="middle">05541-013</text>
<text font-family="Liberation Sans" font-style="italic" font-size="15.5" x="909.35" y="973.6" text-anchor="middle" textLength="452.2" lengthAdjust="spacingAndGlyphs">Figure 13. V<tspan font-size="11" dy="1.6">OUT</tspan><tspan dy="-1.6"> and Log Conformance vs. Input Amplitude at 5.8 GHz,</tspan></text>
<text font-family="Liberation Sans" font-style="italic" font-size="15.5" x="909.9" y="991.9" text-anchor="middle" textLength="201.1" lengthAdjust="spacingAndGlyphs">Multiple Devices, R<tspan font-size="11" dy="1.6">TADJ</tspan><tspan dy="-1.6"> = 500 Ω</tspan></text>
<clipPath id="clip5"><rect x="140.7" y="1028" width="375.6" height="299.4"/></clipPath>
<g stroke="#000" fill="none"><line x1="140.5" y1="1028" x2="140.5" y2="1328" stroke-width="1.15"/><line x1="169.5" y1="1028" x2="169.5" y2="1328" stroke-width="1.15"/><line x1="198.5" y1="1028" x2="198.5" y2="1328" stroke-width="1.15"/><line x1="227.5" y1="1028" x2="227.5" y2="1328" stroke-width="1.15"/><line x1="256.5" y1="1028" x2="256.5" y2="1328" stroke-width="1.15"/><line x1="285.5" y1="1028" x2="285.5" y2="1328" stroke-width="1.15"/><line x1="314.5" y1="1028" x2="314.5" y2="1328" stroke-width="1.15"/><line x1="342.5" y1="1028" x2="342.5" y2="1328" stroke-width="1.15"/><line x1="371.5" y1="1028" x2="371.5" y2="1328" stroke-width="1.15"/><line x1="401" y1="1028" x2="401" y2="1328" stroke-width="2.0"/><line x1="429.5" y1="1028" x2="429.5" y2="1328" stroke-width="1.15"/><line x1="458.5" y1="1028" x2="458.5" y2="1328" stroke-width="1.15"/><line x1="487.5" y1="1028" x2="487.5" y2="1328" stroke-width="1.15"/><line x1="516.5" y1="1028" x2="516.5" y2="1328" stroke-width="1.15"/><line x1="140" y1="1028" x2="517" y2="1028" stroke-width="2.0"/><line x1="140" y1="1046.5" x2="517" y2="1046.5" stroke-width="1.15"/><line x1="140" y1="1065.5" x2="517" y2="1065.5" stroke-width="1.15"/><line x1="140" y1="1084" x2="517" y2="1084" stroke-width="2.0"/><line x1="140" y1="1102.5" x2="517" y2="1102.5" stroke-width="1.15"/><line x1="140" y1="1121.5" x2="517" y2="1121.5" stroke-width="1.15"/><line x1="140" y1="1140.5" x2="517" y2="1140.5" stroke-width="1.15"/><line x1="140" y1="1159" x2="517" y2="1159" stroke-width="2.0"/><line x1="140" y1="1177.5" x2="517" y2="1177.5" stroke-width="1.15"/><line x1="140" y1="1196.5" x2="517" y2="1196.5" stroke-width="1.15"/><line x1="140" y1="1215.5" x2="517" y2="1215.5" stroke-width="1.15"/><line x1="140" y1="1233.5" x2="517" y2="1233.5" stroke-width="1.15"/><line x1="140" y1="1252.5" x2="517" y2="1252.5" stroke-width="1.15"/><line x1="140" y1="1271.5" x2="517" y2="1271.5" stroke-width="1.15"/><line x1="140" y1="1289.5" x2="517" y2="1289.5" stroke-width="1.15"/><line x1="140" y1="1308.5" x2="517" y2="1308.5" stroke-width="1.15"/><line x1="140" y1="1327.5" x2="517" y2="1327.5" stroke-width="1.15"/></g>
<g clip-path="url(#clip5)" fill="none" stroke-linecap="round" stroke-linejoin="round">
<path d="M134.9,1074.4 135.3,1074.5 135.6,1074.5 136,1074.5 136.8,1074.7 138.3,1075.1 140.7,1075.9 144.2,1077.1 148.6,1078.6 153.7,1080.3 159.1,1082.2 164.5,1084.3 169.6,1086.4 174.4,1088.6 179.2,1090.9 184,1093.3 188.9,1095.9 193.7,1098.5 198.5,1101.4 203.3,1104.3 208.1,1107.4 212.9,1110.7 217.7,1114 222.6,1117.4 227.4,1120.8 232.2,1124.3 237,1127.9 241.8,1131.6 246.6,1135.3 251.5,1138.9 256.3,1142.4 261.1,1145.7 265.9,1148.9 270.7,1152 275.5,1155.1 280.3,1158.2 285.2,1161.3 290,1164.3 294.8,1167.3 299.6,1170.3 304.4,1173.3 309.2,1176.4 314.1,1179.4 318.9,1182.6 323.7,1185.7 328.5,1189 333.3,1192.2 338.1,1195.3 342.9,1198.4 347.8,1201.4 352.6,1204.3 357.4,1207.2 362.2,1210 367,1212.9 371.8,1215.9 376.7,1218.9 381.5,1222.1 386.3,1225.2 391.1,1228.4 395.9,1231.5 400.7,1234.6 405.5,1237.7 410.4,1240.9 415.2,1244 420,1247 424.8,1249.7 429.6,1252 434.4,1253.7 439.3,1255.1 444.1,1256.1 448.9,1257 453.7,1257.7 458.5,1258.4 463.5,1259.1 468.6,1259.8 473.7,1260.3 478.6,1260.7 483.3,1260.8 487.4,1260.5 491,1259.8 494.3,1258.8 497.2,1257.5 499.8,1256 502.3,1254.3 504.7,1252.6 507.1,1250.4 509.2,1247.9 511.2,1245.3 513.1,1242.6 514.8,1240.4 516.3,1238.6 517.7,1237.5 518.9,1236.8 519.9,1236.5 520.8,1236.3 521.5,1236.2 522.1,1236.1 522.1,1272.2 521.7,1272.3 521.4,1272.3 521,1272.3 520.2,1272.5 518.7,1272.7 516.3,1273.2 512.8,1274.1 508.4,1275.3 503.3,1276.6 497.9,1277.9 492.5,1278.8 487.4,1279.2 482.6,1279 477.8,1278.3 473,1277.4 468.1,1276.2 463.3,1274.9 458.5,1273.7 453.7,1272.4 448.9,1271.1 444.1,1269.6 439.3,1268.1 434.4,1266.3 429.6,1264.2 424.8,1261.9 420,1259.2 415.2,1256.4 410.4,1253.4 405.5,1250.4 400.7,1247.5 395.9,1244.5 391.1,1241.6 386.3,1238.6 381.5,1235.6 376.7,1232.6 371.8,1229.6 367,1226.8 362.2,1224 357.4,1221.2 352.6,1218.4 347.8,1215.6 342.9,1212.7 338.1,1209.7 333.3,1206.6 328.5,1203.5 323.7,1200.4 318.9,1197.3 314.1,1194.2 309.2,1191.2 304.4,1188.3 299.6,1185.4 294.8,1182.4 290,1179.5 285.2,1176.5 280.3,1173.4 275.5,1170.4 270.7,1167.4 265.9,1164.3 261.1,1161.1 256.3,1157.9 251.5,1154.6 246.6,1151.3 241.8,1147.8 237,1144.4 232.2,1140.9 227.4,1137.6 222.6,1134.2 217.7,1130.9 212.9,1127.5 208.1,1124.2 203.3,1121.1 198.5,1118.1 193.7,1115.3 188.9,1112.6 184,1110.1 179.2,1107.6 174.4,1105.3 169.6,1103.1 164.5,1101 159.1,1099 153.7,1097.1 148.6,1095.3 144.2,1093.8 140.7,1092.7 138.3,1091.9 136.8,1091.5 136,1091.3 135.6,1091.2 135.3,1091.2 134.9,1091.2Z" fill="#17357f" stroke="#17357f" stroke-width="0.6"/>
<path d="M134.9,1081.9C135.9,1082.1 134.9,1081.4 140.7,1083.4C146.5,1085.4 160,1089.6 169.6,1093.9C179.2,1098.1 188.9,1103.1 198.5,1108.8C208.1,1114.6 217.7,1121.6 227.4,1128.3C237,1135 246.6,1142.6 256.3,1149.3C265.9,1155.9 275.5,1161.9 285.2,1168C294.8,1174.1 304.4,1179.8 314.1,1185.9C323.7,1192 333.3,1198.7 342.9,1204.6C352.6,1210.6 362.2,1215.9 371.8,1221.9C381.5,1227.8 391.1,1234.2 400.7,1240.1C410.4,1246 420,1252.1 429.6,1257.2C439.3,1262.3 450.8,1268.2 458.5,1271C466.2,1273.7 471,1273.3 475.9,1273.5C480.7,1273.7 482.6,1272.8 487.4,1272C492.2,1271.3 499.9,1270.5 504.7,1269C509.6,1267.5 513.4,1264.3 516.3,1263C519.2,1261.8 521.1,1261.8 522.1,1261.5" stroke="#000000" stroke-width="6"/>
<path d="M134.9,1074.4 135.3,1074.5 135.6,1074.5 136,1074.5 136.8,1074.7 138.3,1075.1 140.7,1075.9 144.2,1077.1 148.6,1078.6 153.7,1080.3 159.1,1082.2 164.5,1084.3 169.6,1086.4 174.4,1088.6 179.2,1090.9 184,1093.3 188.9,1095.9 193.7,1098.5 198.5,1101.4 203.3,1104.3 208.1,1107.4 212.9,1110.7 217.7,1114 222.6,1117.4 227.4,1120.8 232.2,1124.3 237,1127.9 241.8,1131.6 246.6,1135.3 251.5,1138.9 256.3,1142.4 261.1,1145.7 265.9,1148.9 270.7,1152 275.5,1155.1 280.3,1158.2 285.2,1161.3 290,1164.3 294.8,1167.3 299.6,1170.3 304.4,1173.3 309.2,1176.4 314.1,1179.4 318.9,1182.6 323.7,1185.7 328.5,1189 333.3,1192.2 338.1,1195.3 342.9,1198.4 347.8,1201.4 352.6,1204.3 357.4,1207.2 362.2,1210 367,1212.9 371.8,1215.9 376.7,1218.9 381.5,1222.1 386.3,1225.2 391.1,1228.4 395.9,1231.5 400.7,1234.6 405.5,1237.6 410.4,1240.6 415.2,1243.5 420,1246.4 424.8,1249.2 429.6,1252 434.4,1254.6 439.3,1257.3 444.1,1259.9 448.9,1262.3 453.7,1264.5 458.5,1266.5 463.3,1268.2 468.1,1269.7 473,1271.1 477.8,1272.1 482.6,1272.9 487.4,1273.2 492.5,1273 497.9,1272.2 503.3,1271.2 508.4,1270 512.8,1268.9 516.3,1268.1 518.7,1267.7 520.2,1267.4 521,1267.2 521.4,1267.2 521.7,1267.1 522.1,1267 522.1,1274 521.7,1274.1 521.4,1274.1 521,1274.1 520.2,1274.3 518.7,1274.5 516.3,1275 512.8,1275.8 508.4,1277.1 503.3,1278.4 497.9,1279.7 492.5,1280.6 487.4,1281 482.6,1280.8 477.8,1280.3 473,1279.4 468.1,1278.3 463.3,1276.9 458.5,1275.5 453.7,1273.8 448.9,1271.8 444.1,1269.6 439.3,1267.3 434.4,1264.9 429.6,1262.4 424.8,1259.9 420,1257.2 415.2,1254.3 410.4,1251.5 405.5,1248.6 400.7,1245.7 395.9,1242.7 391.1,1239.8 386.3,1236.8 381.5,1233.8 376.7,1230.8 371.8,1227.8 367,1225 362.2,1222.2 357.4,1219.4 352.6,1216.6 347.8,1213.8 342.9,1210.9 338.1,1207.9 333.3,1204.8 328.5,1201.7 323.7,1198.6 318.9,1195.5 314.1,1192.4 309.2,1189.5 304.4,1186.5 299.6,1183.6 294.8,1180.6 290,1177.7 285.2,1174.7 280.3,1171.6 275.5,1168.6 270.7,1165.6 265.9,1162.5 261.1,1159.3 256.3,1156.1 251.5,1152.8 246.6,1149.5 241.8,1146 237,1142.6 232.2,1139.1 227.4,1135.8 222.6,1132.4 217.7,1129.1 212.9,1125.7 208.1,1122.4 203.3,1119.3 198.5,1116.3 193.7,1113.5 188.9,1110.8 184,1108.3 179.2,1105.8 174.4,1103.5 169.6,1101.4 164.5,1099.2 159.1,1097.2 153.7,1095.3 148.6,1093.5 144.2,1092 140.7,1090.9 138.3,1090.1 136.8,1089.7 136,1089.5 135.6,1089.4 135.3,1089.4 134.9,1089.4Z" fill="#dc1529" stroke="#dc1529" stroke-width="0.6"/>
<path d="M149.4,1192.7C150.8,1190.2 155.1,1181.4 158,1177.7C160.9,1174 162.9,1171.2 166.7,1170.2C170.6,1169.2 175.9,1171.6 181.1,1171.7C186.4,1171.9 193.2,1170.1 198.5,1171.1C203.8,1172.1 208.1,1176.4 212.9,1177.7C217.7,1179 220.2,1177.7 227.4,1178.7C234.6,1179.8 247.6,1182.1 256.3,1184.3C264.9,1186.5 274.6,1191.1 279.4,1191.9C284.2,1192.7 279.4,1189.2 285.2,1189.1C290.9,1189 306.3,1190.6 314.1,1191.2C321.8,1191.8 326.6,1191.9 331.4,1192.7C336.2,1193.4 338.1,1195.2 342.9,1195.7C347.8,1196.2 355.5,1196.2 360.3,1195.7C365.1,1195.2 367,1194.4 371.8,1192.7C376.7,1190.9 384.6,1187.7 389.2,1185.2C393.8,1182.7 397.2,1182.1 399.6,1177.7C402,1173.3 401.8,1165.2 403.6,1159C405.4,1152.8 407,1149.6 410.6,1140.3C414.1,1130.9 421.3,1115.3 425,1102.8C428.7,1090.4 430.4,1077.9 432.5,1065.4C434.6,1053 436.7,1035.5 437.7,1028C438.7,1020.5 438.2,1021.8 438.3,1020.5" stroke="#17357f" stroke-width="2.5"/>
<path d="M148.9,1196.6C150.3,1194.1 154.6,1185.5 157.5,1181.6C160.4,1177.7 162.4,1174.7 166.3,1173.4C170.1,1172 175.3,1173.8 180.6,1173.7C185.8,1173.6 192.4,1172 197.7,1172.9C202.9,1173.8 207.4,1177.8 212.2,1179C217.1,1180.3 219.7,1179.2 226.8,1180.4C233.9,1181.5 246.3,1183.7 254.9,1185.8C263.5,1188 273.3,1192.4 278.3,1193.3C283.2,1194.1 278.9,1191.1 284.6,1191C290.3,1190.9 305,1192.3 312.7,1192.8C320.3,1193.2 325.5,1193.2 330.6,1193.8C335.6,1194.3 338,1195.8 342.9,1196.2C347.9,1196.6 355.5,1196.6 360.3,1196.1C365.1,1195.6 366.9,1194.8 371.8,1193.1C376.7,1191.4 385,1188.2 389.7,1185.8C394.4,1183.3 397.7,1182.7 400.2,1178.4C402.7,1174.1 402.7,1166.2 404.6,1159.9C406.5,1153.5 408,1149.8 411.5,1140.3C415,1130.8 422,1115.3 425.6,1102.8C429.2,1090.4 431,1077.9 433,1065.4C435.1,1053 437.2,1035.5 438.1,1028C439.1,1020.5 438.6,1021.8 438.7,1020.5" stroke="#17357f" stroke-width="2.5"/>
<path d="M148.4,1200.5C149.9,1198 154.1,1189.5 157,1185.5C159.9,1181.5 162,1178.1 165.9,1176.5C169.7,1174.9 174.8,1176 180,1175.7C185.2,1175.4 191.6,1173.9 196.8,1174.7C202.1,1175.4 206.6,1179.1 211.6,1180.3C216.5,1181.5 219.3,1180.8 226.3,1182C233.3,1183.2 245,1185.2 253.5,1187.3C262,1189.4 272.1,1193.7 277.2,1194.6C282.3,1195.6 278.4,1193 284.1,1192.9C289.7,1192.9 303.7,1194.1 311.3,1194.4C318.9,1194.7 324.5,1194.4 329.7,1194.8C335,1195.2 337.9,1196.5 342.9,1196.8C348,1197.1 355.5,1197.1 360.3,1196.5C365.1,1196 366.8,1195.2 371.8,1193.5C376.8,1191.8 385.4,1188.7 390.3,1186.3C395.1,1183.9 398.2,1183.4 400.8,1179.1C403.3,1174.9 403.6,1167.2 405.5,1160.8C407.5,1154.3 409,1149.9 412.5,1140.3C415.9,1130.6 422.8,1115.3 426.3,1102.8C429.8,1090.4 431.5,1077.9 433.6,1065.4C435.6,1053 437.6,1035.5 438.5,1028C439.5,1020.5 439,1021.8 439.1,1020.5" stroke="#17357f" stroke-width="2.5"/>
<path d="M148,1204.4C149.4,1201.9 153.6,1193.6 156.5,1189.5C159.4,1185.3 161.6,1181.6 165.5,1179.6C169.3,1177.7 174.3,1178.3 179.4,1177.7C184.5,1177.2 190.8,1175.8 196,1176.4C201.3,1177.1 205.9,1180.4 210.9,1181.6C215.8,1182.8 218.8,1182.4 225.7,1183.6C232.6,1184.8 243.7,1186.8 252.1,1188.8C260.5,1190.9 270.9,1195 276.1,1196C281.3,1197 277.9,1194.8 283.5,1194.8C289.2,1194.8 302.4,1195.8 309.9,1196C317.5,1196.2 323.4,1195.7 328.9,1195.9C334.4,1196.2 337.7,1197.2 342.9,1197.4C348.2,1197.5 355.5,1197.5 360.3,1196.9C365.1,1196.4 366.7,1195.6 371.8,1194C376.9,1192.3 385.9,1189.2 390.8,1186.9C395.8,1184.5 398.8,1184 401.4,1179.8C404,1175.6 404.5,1168.3 406.5,1161.7C408.5,1155.1 410,1150.1 413.4,1140.3C416.8,1130.5 423.5,1115.3 426.9,1102.8C430.3,1090.4 432.1,1077.9 434.1,1065.4C436.1,1053 438,1035.5 439,1028C439.9,1020.5 439.4,1021.8 439.5,1020.5" stroke="#17357f" stroke-width="2.5"/>
<path d="M147.5,1208.4C148.9,1205.9 153,1197.6 155.9,1193.4C158.9,1189.1 161.2,1185 165.1,1182.8C168.9,1180.5 173.8,1180.5 178.8,1179.8C183.9,1179 190,1177.7 195.2,1178.2C200.4,1178.7 205.2,1181.7 210.2,1182.9C215.2,1184.1 218.4,1184 225.2,1185.2C231.9,1186.5 242.5,1188.3 250.8,1190.4C259.1,1192.4 269.6,1196.3 275,1197.4C280.3,1198.4 277.4,1196.7 283,1196.7C288.6,1196.8 301,1197.5 308.6,1197.6C316.1,1197.6 322.4,1196.9 328.1,1197C333.8,1197.1 337.6,1197.9 342.9,1197.9C348.3,1198 355.5,1198 360.3,1197.4C365.1,1196.8 366.7,1196 371.8,1194.4C377,1192.7 386.3,1189.8 391.4,1187.5C396.4,1185.2 399.3,1184.7 402,1180.6C404.7,1176.4 405.4,1169.3 407.5,1162.6C409.5,1155.8 411.1,1150.2 414.4,1140.3C417.7,1130.3 424.2,1115.3 427.5,1102.8C430.9,1090.4 432.6,1077.9 434.6,1065.4C436.6,1053 438.5,1035.5 439.4,1028C440.3,1020.5 439.8,1021.8 439.9,1020.5" stroke="#17357f" stroke-width="2.5"/>
<path d="M147,1212.3C148.4,1209.8 152.5,1201.7 155.4,1197.3C158.4,1192.9 160.8,1188.5 164.6,1185.9C168.4,1183.3 173.3,1182.7 178.3,1181.8C183.2,1180.8 189.2,1179.6 194.4,1180C199.6,1180.4 204.4,1183.1 209.5,1184.2C214.5,1185.4 218,1185.6 224.6,1186.9C231.3,1188.2 241.2,1189.9 249.4,1191.9C257.6,1193.9 268.4,1197.6 273.9,1198.7C279.4,1199.9 276.9,1198.6 282.4,1198.7C288,1198.7 299.7,1199.3 307.2,1199.2C314.7,1199.1 321.3,1198.2 327.3,1198.1C333.2,1198 337.4,1198.6 342.9,1198.5C348.4,1198.5 355.5,1198.4 360.3,1197.8C365.1,1197.2 366.6,1196.4 371.8,1194.8C377.1,1193.2 386.8,1190.3 391.9,1188C397.1,1185.8 399.9,1185.4 402.6,1181.3C405.4,1177.2 406.3,1170.3 408.4,1163.4C410.6,1156.6 412.1,1150.4 415.4,1140.3C418.7,1130.2 424.9,1115.3 428.2,1102.8C431.5,1090.4 433.2,1077.9 435.1,1065.4C437.1,1053 438.9,1035.5 439.8,1028C440.6,1020.5 440.3,1021.8 440.4,1020.5" stroke="#17357f" stroke-width="2.5"/>
<path d="M146.6,1216.2C148,1213.7 152,1205.8 154.9,1201.2C157.8,1196.7 160.4,1191.9 164.2,1189C168,1186.1 172.8,1185 177.7,1183.8C182.6,1182.6 188.3,1181.5 193.5,1181.8C198.7,1182.1 203.7,1184.4 208.8,1185.5C213.9,1186.6 217.5,1187.2 224.1,1188.5C230.6,1189.8 239.9,1191.5 248,1193.4C256.1,1195.3 267.1,1198.9 272.8,1200.1C278.4,1201.3 276.4,1200.5 281.9,1200.6C287.4,1200.7 298.4,1201 305.8,1200.8C313.2,1200.6 320.2,1199.5 326.4,1199.2C332.6,1198.9 337.3,1199.2 342.9,1199.1C348.6,1198.9 355.5,1198.9 360.3,1198.2C365.1,1197.6 366.5,1196.8 371.8,1195.2C377.2,1193.6 387.2,1190.8 392.5,1188.6C397.7,1186.4 400.4,1186 403.2,1182C406,1177.9 407.2,1171.3 409.4,1164.3C411.6,1157.4 413.1,1150.5 416.3,1140.3C419.6,1130 425.6,1115.3 428.8,1102.8C432,1090.4 433.8,1077.9 435.6,1065.4C437.5,1053 439.3,1035.5 440.2,1028C441,1020.5 440.7,1021.8 440.8,1020.5" stroke="#17357f" stroke-width="2.5"/>
<path d="M146.1,1220.1C147.5,1217.6 151.4,1209.8 154.4,1205.1C157.3,1200.5 160,1195.4 163.8,1192.2C167.6,1188.9 172.3,1187.2 177.1,1185.8C181.9,1184.3 187.5,1183.4 192.7,1183.5C197.9,1183.7 203,1185.7 208.1,1186.8C213.3,1187.9 217.1,1188.8 223.5,1190.1C229.9,1191.5 238.6,1193 246.6,1194.9C254.7,1196.8 265.9,1200.2 271.7,1201.5C277.5,1202.7 275.9,1202.3 281.3,1202.5C286.8,1202.7 297,1202.8 304.4,1202.4C311.8,1202 319.2,1200.7 325.6,1200.3C332,1199.8 337.2,1199.9 342.9,1199.7C348.7,1199.4 355.5,1199.3 360.3,1198.7C365.1,1198 366.4,1197.2 371.8,1195.7C377.3,1194.1 387.7,1191.3 393,1189.2C398.4,1187 400.9,1186.7 403.8,1182.7C406.7,1178.7 408.1,1172.3 410.4,1165.2C412.6,1158.2 414.1,1150.7 417.3,1140.3C420.5,1129.9 426.3,1115.3 429.4,1102.8C432.6,1090.4 434.3,1077.9 436.2,1065.4C438,1053 439.8,1035.5 440.6,1028C441.4,1020.5 441.1,1021.8 441.2,1020.5" stroke="#17357f" stroke-width="2.5"/>
<path d="M145.6,1224C147,1221.5 150.9,1213.9 153.9,1209.1C156.8,1204.3 159.6,1198.9 163.4,1195.3C167.2,1191.8 171.8,1189.5 176.5,1187.8C181.3,1186.1 186.7,1185.3 191.9,1185.3C197,1185.4 202.2,1187.1 207.4,1188.1C212.6,1189.2 216.7,1190.4 223,1191.8C229.3,1193.1 237.3,1194.6 245.3,1196.4C253.2,1198.3 264.7,1201.5 270.6,1202.8C276.5,1204.1 275.3,1204.2 280.8,1204.4C286.2,1204.6 295.7,1204.5 303,1204C310.4,1203.5 318.1,1202 324.8,1201.3C331.4,1200.7 337,1200.6 342.9,1200.2C348.9,1199.9 355.5,1199.8 360.3,1199.1C365.1,1198.4 366.3,1197.6 371.8,1196.1C377.4,1194.5 388.1,1191.9 393.6,1189.7C399,1187.6 401.5,1187.3 404.4,1183.4C407.4,1179.5 409,1173.3 411.3,1166.1C413.6,1158.9 415.1,1150.8 418.3,1140.3C421.4,1129.7 427,1115.3 430.1,1102.8C433.1,1090.4 434.9,1077.9 436.7,1065.4C438.5,1053 440.2,1035.5 441,1028C441.8,1020.5 441.5,1021.8 441.6,1020.5" stroke="#17357f" stroke-width="2.5"/>
<path d="M145.2,1228C146.5,1225.5 150.4,1217.9 153.3,1213C156.3,1208.1 159.2,1202.3 163,1198.4C166.8,1194.6 171.3,1191.7 175.9,1189.8C180.6,1187.9 185.9,1187.1 191.1,1187.1C196.2,1187 201.5,1188.4 206.7,1189.4C212,1190.5 216.2,1192 222.4,1193.4C228.6,1194.8 236,1196.2 243.9,1198C251.7,1199.8 263.4,1202.8 269.5,1204.2C275.5,1205.6 274.8,1206.1 280.2,1206.3C285.6,1206.6 294.4,1206.3 301.7,1205.6C309,1205 317.1,1203.2 324,1202.4C330.8,1201.6 336.9,1201.3 342.9,1200.8C349,1200.3 355.5,1200.2 360.3,1199.5C365.1,1198.8 366.2,1198.1 371.8,1196.5C377.5,1195 388.6,1192.4 394.1,1190.3C399.7,1188.3 402,1188 405,1184.1C408.1,1180.2 409.9,1174.3 412.3,1167C414.7,1159.7 416.2,1151 419.2,1140.3C422.3,1129.6 427.7,1115.3 430.7,1102.8C433.7,1090.4 435.4,1077.9 437.2,1065.4C439,1053 440.6,1035.5 441.4,1028C442.2,1020.5 441.9,1021.8 442,1020.5" stroke="#17357f" stroke-width="2.5"/>
<path d="M144.7,1231.9C146,1229.4 149.8,1222 152.8,1216.9C155.8,1211.9 158.8,1205.8 162.6,1201.6C166.3,1197.4 170.8,1193.9 175.4,1191.8C180,1189.7 185.1,1189 190.2,1188.9C195.3,1188.7 200.8,1189.7 206.1,1190.7C211.3,1191.8 215.8,1193.5 221.9,1195C228,1196.5 234.8,1197.7 242.5,1199.5C250.3,1201.2 262.2,1204.1 268.4,1205.5C274.6,1207 274.3,1208 279.7,1208.3C285,1208.5 293,1208 300.3,1207.2C307.5,1206.4 316,1204.5 323.1,1203.5C330.2,1202.5 336.8,1202 342.9,1201.4C349.1,1200.8 355.5,1200.7 360.3,1199.9C365.1,1199.2 366.1,1198.5 371.8,1196.9C377.6,1195.4 389,1192.9 394.7,1190.9C400.3,1188.9 402.5,1188.7 405.6,1184.8C408.7,1181 410.8,1175.3 413.3,1167.9C415.7,1160.5 417.2,1151.1 420.2,1140.3C423.2,1129.4 428.4,1115.3 431.3,1102.8C434.3,1090.4 436,1077.9 437.7,1065.4C439.5,1053 441.1,1035.5 441.8,1028C442.6,1020.5 442.3,1021.8 442.4,1020.5" stroke="#17357f" stroke-width="2.5"/>
<path d="M144.2,1235.8C145.6,1233.3 149.3,1226 152.3,1220.8C155.3,1215.6 158.4,1209.2 162.2,1204.7C165.9,1200.2 170.3,1196.2 174.8,1193.8C179.3,1191.5 184.3,1190.9 189.4,1190.6C194.5,1190.3 200,1191.1 205.4,1192C210.7,1193 215.4,1195.1 221.3,1196.6C227.3,1198.1 233.5,1199.3 241.1,1201C248.8,1202.7 260.9,1205.4 267.3,1206.9C273.6,1208.4 273.8,1209.9 279.1,1210.2C284.4,1210.5 291.7,1209.7 298.9,1208.8C306.1,1207.9 315,1205.7 322.3,1204.6C329.6,1203.4 336.6,1202.6 342.9,1201.9C349.3,1201.2 355.5,1201.1 360.3,1200.4C365.1,1199.6 366,1198.9 371.8,1197.4C377.7,1195.9 389.5,1193.4 395.2,1191.5C401,1189.5 403.1,1189.3 406.2,1185.5C409.4,1181.8 411.7,1176.3 414.2,1168.8C416.7,1161.2 418.2,1151.3 421.1,1140.3C424.1,1129.3 429.1,1115.3 432,1102.8C434.8,1090.4 436.5,1077.9 438.3,1065.4C440,1053 441.5,1035.5 442.3,1028C443,1020.5 442.7,1021.8 442.8,1020.5" stroke="#17357f" stroke-width="2.5"/>
<path d="M143.8,1239.7C145.1,1237.2 148.8,1230.1 151.8,1224.7C154.8,1219.4 158,1212.7 161.8,1207.9C165.5,1203 169.7,1198.4 174.2,1195.8C178.7,1193.3 183.5,1192.8 188.6,1192.4C193.7,1192 199.3,1192.4 204.7,1193.4C210,1194.3 214.9,1196.7 220.8,1198.3C226.6,1199.8 232.2,1200.8 239.8,1202.5C247.3,1204.2 259.7,1206.7 266.2,1208.3C272.6,1209.9 273.3,1211.7 278.6,1212.1C283.8,1212.4 290.4,1211.5 297.5,1210.4C304.7,1209.4 313.9,1207 321.5,1205.7C329.1,1204.4 336.5,1203.3 342.9,1202.5C349.4,1201.7 355.5,1201.6 360.3,1200.8C365.1,1200 365.9,1199.3 371.8,1197.8C377.8,1196.3 389.9,1194 395.8,1192C401.6,1190.1 403.6,1190 406.8,1186.3C410.1,1182.5 412.6,1177.3 415.2,1169.7C417.7,1162 419.2,1151.4 422.1,1140.3C425,1129.1 429.8,1115.3 432.6,1102.8C435.4,1090.4 437.1,1077.9 438.8,1065.4C440.5,1053 441.9,1035.5 442.7,1028C443.4,1020.5 443.1,1021.8 443.2,1020.5" stroke="#17357f" stroke-width="2.5"/>
<path d="M143.3,1243.6C144.6,1241.1 148.2,1234.1 151.2,1228.7C154.2,1223.2 157.6,1216.1 161.3,1211C165.1,1205.9 169.2,1200.6 173.6,1197.8C178,1195 182.7,1194.7 187.8,1194.2C192.8,1193.7 198.6,1193.7 204,1194.7C209.4,1195.6 214.5,1198.3 220.2,1199.9C226,1201.4 230.9,1202.4 238.4,1204C245.9,1205.6 258.5,1208 265.1,1209.6C271.7,1211.3 272.8,1213.6 278,1214C283.2,1214.4 289.1,1213.2 296.2,1212C303.3,1210.8 312.9,1208.2 320.7,1206.8C328.5,1205.3 336.3,1204 342.9,1203.1C349.6,1202.2 355.5,1202 360.3,1201.2C365.1,1200.4 365.8,1199.7 371.8,1198.2C377.8,1196.8 390.4,1194.5 396.3,1192.6C402.3,1190.7 404.1,1190.6 407.4,1187C410.7,1183.3 413.5,1178.4 416.1,1170.6C418.7,1162.8 420.2,1151.6 423.1,1140.3C425.9,1129 430.5,1115.3 433.2,1102.8C435.9,1090.4 437.7,1077.9 439.3,1065.4C441,1053 442.4,1035.5 443.1,1028C443.8,1020.5 443.6,1021.8 443.7,1020.5" stroke="#17357f" stroke-width="2.5"/>
<path d="M142.8,1247.6C144.1,1245.1 147.7,1238.2 150.7,1232.6C153.7,1227 157.2,1219.6 160.9,1214.1C164.6,1208.7 168.7,1202.9 173.1,1199.9C177.4,1196.8 181.9,1196.6 186.9,1196C192,1195.3 197.8,1195 203.3,1196C208.8,1196.9 214.1,1199.9 219.7,1201.5C225.3,1203.1 229.6,1204 237,1205.5C244.4,1207.1 257.2,1209.3 264,1211C270.7,1212.7 272.3,1215.5 277.5,1215.9C282.6,1216.4 287.7,1215 294.8,1213.6C301.9,1212.3 311.8,1209.5 319.8,1207.8C327.9,1206.2 336.2,1204.7 342.9,1203.6C349.7,1202.6 355.5,1202.5 360.3,1201.7C365.1,1200.8 365.7,1200.1 371.8,1198.7C377.9,1197.2 390.8,1195 396.9,1193.2C402.9,1191.3 404.7,1191.3 408.1,1187.7C411.4,1184.1 414.4,1179.4 417.1,1171.5C419.8,1163.6 421.2,1151.7 424,1140.3C426.8,1128.8 431.2,1115.3 433.9,1102.8C436.5,1090.4 438.2,1077.9 439.8,1065.4C441.4,1053 442.8,1035.5 443.5,1028C444.2,1020.5 444,1021.8 444.1,1020.5" stroke="#17357f" stroke-width="2.5"/>
<path d="M142.4,1251.5C143.7,1249 147.2,1242.2 150.2,1236.5C153.2,1230.8 156.8,1223 160.5,1217.3C164.2,1211.5 168.2,1205.1 172.5,1201.9C176.7,1198.6 181.1,1198.5 186.1,1197.7C191.1,1197 197.1,1196.4 202.6,1197.3C208.1,1198.2 213.6,1201.5 219.1,1203.1C224.6,1204.8 228.3,1205.5 235.6,1207.1C242.9,1208.6 256,1210.5 262.9,1212.3C269.8,1214.1 271.8,1217.4 276.9,1217.8C282,1218.3 286.4,1216.7 293.4,1215.2C300.4,1213.7 310.8,1210.8 319,1208.9C327.3,1207.1 336.1,1205.4 342.9,1204.2C349.8,1203.1 355.5,1202.9 360.3,1202.1C365.1,1201.2 365.6,1200.5 371.8,1199.1C378,1197.7 391.3,1195.5 397.4,1193.7C403.6,1192 405.2,1192 408.7,1188.4C412.1,1184.8 415.3,1180.4 418.1,1172.4C420.8,1164.3 422.3,1151.9 425,1140.3C427.7,1128.7 431.9,1115.3 434.5,1102.8C437.1,1090.4 438.8,1077.9 440.4,1065.4C441.9,1053 443.2,1035.5 443.9,1028C444.6,1020.5 444.4,1021.8 444.5,1020.5" stroke="#17357f" stroke-width="2.5"/>
<path d="M141.9,1255.4C143.2,1252.9 146.6,1246.3 149.7,1240.4C152.7,1234.6 156.4,1226.5 160.1,1220.4C163.8,1214.3 167.7,1207.4 171.9,1203.9C176.1,1200.4 180.3,1200.4 185.3,1199.5C190.3,1198.6 196.4,1197.7 201.9,1198.6C207.5,1199.4 213.2,1203.1 218.6,1204.8C224,1206.4 227.1,1207.1 234.3,1208.6C241.5,1210.1 254.8,1211.8 261.8,1213.7C268.8,1215.6 271.3,1219.2 276.4,1219.8C281.4,1220.3 285.1,1218.5 292,1216.8C299,1215.2 309.7,1212 318.2,1210C326.7,1208 335.9,1206 342.9,1204.8C350,1203.5 355.5,1203.4 360.3,1202.5C365.1,1201.6 365.6,1200.9 371.8,1199.5C378.1,1198.1 391.7,1196 398,1194.3C404.2,1192.6 405.8,1192.6 409.3,1189.1C412.8,1185.6 416.2,1181.4 419,1173.2C421.8,1165.1 423.3,1152 426,1140.3C428.6,1128.5 432.6,1115.3 435.1,1102.8C437.6,1090.4 439.3,1077.9 440.9,1065.4C442.4,1053 443.6,1035.5 444.3,1028C445,1020.5 444.8,1021.8 444.9,1020.5" stroke="#17357f" stroke-width="2.5"/>
<path d="M141.4,1259.3C142.7,1256.8 146.1,1250.3 149.1,1244.4C152.2,1238.4 156,1229.9 159.7,1223.5C163.4,1217.1 167.2,1209.6 171.3,1205.9C175.5,1202.2 179.5,1202.3 184.5,1201.3C189.4,1200.3 195.6,1199 201.2,1199.9C206.8,1200.7 212.7,1204.7 218,1206.4C223.3,1208.1 225.8,1208.7 232.9,1210.1C240,1211.5 253.5,1213.1 260.7,1215.1C267.8,1217 270.8,1221.1 275.8,1221.7C280.8,1222.2 283.7,1220.2 290.7,1218.4C297.6,1216.7 308.6,1213.3 317.4,1211.1C326.1,1208.9 335.8,1206.7 342.9,1205.4C350.1,1204 355.5,1203.8 360.3,1202.9C365.1,1202 365.5,1201.3 371.8,1199.9C378.2,1198.6 392.2,1196.6 398.5,1194.9C404.9,1193.2 406.3,1193.3 409.9,1189.8C413.4,1186.4 417.1,1182.4 420,1174.1C422.8,1165.9 424.3,1152.2 426.9,1140.3C429.6,1128.4 433.3,1115.3 435.8,1102.8C438.2,1090.4 439.9,1077.9 441.4,1065.4C442.9,1053 444.1,1035.5 444.7,1028C445.4,1020.5 445.2,1021.8 445.3,1020.5" stroke="#17357f" stroke-width="2.5"/>
<path d="M140.9,1263.2C142.2,1260.7 145.6,1254.4 148.6,1248.3C151.7,1242.2 155.6,1233.4 159.3,1226.7C163,1219.9 166.7,1211.8 170.7,1207.9C174.8,1204 178.7,1204.2 183.6,1203.1C188.6,1201.9 194.9,1200.4 200.5,1201.2C206.2,1202 212.3,1206.3 217.5,1208C222.6,1209.7 224.5,1210.2 231.5,1211.6C238.5,1213 252.3,1214.4 259.6,1216.4C266.9,1218.4 270.3,1223 275.3,1223.6C280.2,1224.2 282.4,1221.9 289.3,1220C296.2,1218.1 307.6,1214.5 316.5,1212.2C325.5,1209.8 335.7,1207.4 342.9,1205.9C350.2,1204.5 355.5,1204.3 360.3,1203.4C365.1,1202.4 365.4,1201.7 371.8,1200.4C378.3,1199.1 392.6,1197.1 399.1,1195.5C405.5,1193.8 406.8,1193.9 410.5,1190.5C414.1,1187.1 418.1,1183.4 421,1175C423.9,1166.7 425.3,1152.3 427.9,1140.3C430.5,1128.2 434.1,1115.3 436.4,1102.8C438.7,1090.4 440.5,1077.9 441.9,1065.4C443.4,1053 444.5,1035.5 445.1,1028C445.8,1020.5 445.6,1021.8 445.7,1020.5" stroke="#17357f" stroke-width="2.5"/>
<path d="M140.5,1267.2C141.8,1264.7 145,1258.4 148.1,1252.2C151.2,1246 155.2,1236.9 158.9,1229.8C162.5,1222.8 166.2,1214.1 170.2,1209.9C174.2,1205.7 177.9,1206.1 182.8,1204.8C187.7,1203.6 194.2,1201.7 199.9,1202.5C205.5,1203.3 211.9,1207.9 216.9,1209.6C222,1211.4 223.2,1211.8 230.1,1213.1C237.1,1214.5 251,1215.7 258.5,1217.8C265.9,1219.9 269.8,1224.9 274.7,1225.5C279.6,1226.2 281.1,1223.7 287.9,1221.6C294.7,1219.6 306.5,1215.8 315.7,1213.3C324.9,1210.7 335.5,1208.1 342.9,1206.5C350.4,1204.9 355.5,1204.7 360.3,1203.8C365.1,1202.8 365.3,1202.1 371.8,1200.8C378.4,1199.5 393.1,1197.6 399.6,1196C406.2,1194.4 407.4,1194.6 411.1,1191.2C414.8,1187.9 419,1184.4 421.9,1175.9C424.9,1167.4 426.3,1152.5 428.9,1140.3C431.4,1128.1 434.8,1115.3 437,1102.8C439.3,1090.4 441,1077.9 442.4,1065.4C443.9,1053 444.9,1035.5 445.6,1028C446.2,1020.5 446,1021.8 446.1,1020.5" stroke="#17357f" stroke-width="2.5"/>
<path d="M140,1271.1C141.3,1268.6 144.5,1262.5 147.6,1256.1C150.7,1249.8 154.8,1240.3 158.4,1232.9C162.1,1225.6 165.7,1216.3 169.6,1211.9C173.5,1207.5 177,1208 182,1206.6C186.9,1205.3 193.4,1203 199.2,1203.8C204.9,1204.6 211.4,1209.4 216.4,1211.3C221.3,1213.1 221.9,1213.3 228.8,1214.7C235.6,1216 249.8,1217 257.4,1219.2C264.9,1221.3 269.3,1226.7 274.2,1227.4C279,1228.1 279.7,1225.4 286.5,1223.3C293.3,1221.1 305.5,1217 314.9,1214.3C324.3,1211.6 335.4,1208.8 342.9,1207.1C350.5,1205.4 355.5,1205.2 360.3,1204.2C365.1,1203.2 365.2,1202.5 371.8,1201.2C378.5,1200 393.5,1198.1 400.2,1196.6C406.8,1195 407.9,1195.3 411.7,1192C415.5,1188.7 419.9,1185.4 422.9,1176.8C425.9,1168.2 427.4,1152.6 429.8,1140.3C432.3,1127.9 435.5,1115.3 437.7,1102.8C439.9,1090.4 441.6,1077.9 443,1065.4C444.4,1053 445.4,1035.5 446,1028C446.6,1020.5 446.4,1021.8 446.5,1020.5" stroke="#17357f" stroke-width="2.5"/>
<path d="M139.5,1275C140.8,1272.5 144,1266.5 147.1,1260C150.1,1253.5 154.4,1243.8 158,1236.1C161.7,1228.4 165.2,1218.5 169,1213.9C172.9,1209.3 176.2,1209.9 181.1,1208.4C186.1,1206.9 192.7,1204.3 198.5,1205.1C204.3,1205.8 211,1211 215.8,1212.9C220.6,1214.7 220.6,1214.9 227.4,1216.2C234.1,1217.4 248.6,1218.3 256.3,1220.5C264,1222.7 268.8,1228.6 273.6,1229.3C278.4,1230.1 278.4,1227.2 285.2,1224.9C291.9,1222.5 304.4,1218.3 314.1,1215.4C323.7,1212.6 335.2,1209.4 342.9,1207.6C350.7,1205.8 355.5,1205.6 360.3,1204.6C365.1,1203.6 365.1,1202.9 371.8,1201.7C378.6,1200.4 394,1198.7 400.7,1197.2C407.5,1195.7 408.4,1195.9 412.3,1192.7C416.1,1189.4 420.8,1186.4 423.8,1177.7C426.9,1169 428.4,1152.8 430.8,1140.3C433.2,1127.8 436.2,1115.3 438.3,1102.8C440.4,1090.4 442.1,1077.9 443.5,1065.4C444.8,1053 445.8,1035.5 446.4,1028C447,1020.5 446.9,1021.8 447,1020.5" stroke="#17357f" stroke-width="2.5"/>
<path d="M140.7,1306.1C142.3,1300 147.2,1279.8 150.5,1269C153.8,1258.2 157.3,1249.1 160.3,1241.3C163.4,1233.6 166.7,1226.2 169,1222.6C171.3,1219.1 171.7,1219.5 174.2,1220.1C176.7,1220.6 180,1226.4 184,1226.1C188.1,1225.7 192.9,1217.6 198.5,1217.8C204.1,1218 211.5,1225.9 217.6,1227.1C223.6,1228.3 228.4,1225.4 234.9,1224.9C241.3,1224.3 250.4,1223 256.3,1223.8C262.1,1224.6 266.9,1229.2 270.1,1229.8C273.4,1230.3 271.5,1228.3 275.9,1227.1C280.3,1225.9 290.4,1224.6 296.7,1222.6C303.1,1220.7 311.2,1216.6 314.1,1215.4" stroke="#17357f" stroke-width="2.2"/>
<path d="M163.8,1177.7C165.3,1173.7 169.1,1156.8 172.5,1153.7C175.9,1150.7 180.1,1159.1 184,1159.3C188,1159.5 191.4,1154.2 196.2,1154.8C201,1155.4 207.7,1160.5 212.9,1162.7C218.1,1165 220.2,1165.6 227.4,1168.1C234.6,1170.6 246.6,1177.4 256.3,1177.7C265.9,1178 275.5,1173.2 285.2,1170.2C294.8,1167.2 306,1162.7 314.1,1159.7C322.1,1156.8 328.2,1153.5 333.7,1152.7C339.2,1151.9 342.3,1155.1 347,1154.9C351.7,1154.8 357.1,1151.8 362,1151.7C366.9,1151.5 370,1155.4 376.5,1153.9C382.9,1152.4 395.1,1146.3 400.7,1142.8C406.3,1139.3 407.1,1137 410,1132.8C412.9,1128.6 415.3,1125.3 418.1,1117.8C420.9,1110.3 424.2,1097.9 426.7,1087.9C429.2,1077.9 431.3,1069.2 433.1,1057.9C434.9,1046.7 436.9,1026.8 437.7,1020.5" stroke="#17357f" stroke-width="2.2"/>
<path d="M314.1,1177.7C317.9,1177 330.6,1174.6 337.2,1173.2C343.7,1171.8 348.1,1170.6 353.3,1169.2C358.6,1167.8 365.1,1165.4 368.9,1164.8C372.8,1164.3 371.2,1167.5 376.5,1165.9C381.8,1164.2 394.8,1159.2 400.7,1154.9C406.7,1150.7 408.9,1146.5 412.3,1140.3C415.7,1134.1 418.1,1126.6 421,1117.8C423.8,1109.1 427.2,1097.9 429.6,1087.9C432,1077.9 433.7,1069.2 435.4,1057.9C437.1,1046.7 439.3,1026.8 440,1020.5" stroke="#17357f" stroke-width="2.2"/>
<path d="M139.5,1197.2C140.7,1192.4 144.6,1176 146.5,1168.7C148.3,1161.5 147.6,1157.2 150.5,1153.7C153.4,1150.3 159.3,1149.3 163.8,1147.8C168.3,1146.3 171.9,1145.6 177.7,1144.8C183.5,1143.9 192.6,1141 198.5,1142.5C204.4,1144 208.1,1150.6 212.9,1153.7C217.7,1156.9 221.9,1158 227.4,1161.2C232.9,1164.5 241.1,1170.5 245.9,1173.2C250.7,1176 251.6,1175.7 256.3,1177.7C260.9,1179.7 268.8,1184.2 273.6,1185.2C278.4,1186.2 278.4,1184.4 285.2,1183.7C291.9,1182.9 304.4,1181.4 314.1,1180.7C323.7,1179.9 333.3,1179.2 342.9,1179.2C352.6,1179.2 362.2,1180.2 371.8,1180.7C381.5,1181.2 393.5,1182.7 400.7,1182.2C408,1181.7 412.2,1181.6 415.2,1177.7C418.2,1173.8 416.4,1165.2 418.6,1159C420.9,1152.8 425.2,1149.6 428.5,1140.3C431.7,1130.9 435.4,1115.3 438.3,1102.8C441.2,1090.4 443.8,1077.9 445.8,1065.4C447.8,1053 449.6,1035.5 450.4,1028C451.3,1020.5 450.9,1021.8 451,1020.5" stroke="#000000" stroke-width="2.0"/>
<path d="M139.7,1197.6C140.9,1192.9 144.8,1176.5 146.6,1169.4C148.5,1162.2 147.8,1158.1 150.8,1154.6C153.7,1151.1 159.7,1149.9 164.2,1148.4C168.7,1146.9 172,1146.3 177.7,1145.4C183.4,1144.5 192.6,1141.6 198.5,1143.1C204.4,1144.6 208.1,1151.3 212.9,1154.4C217.7,1157.5 221.9,1158.5 227.4,1161.7C232.9,1164.9 241.1,1170.9 245.9,1173.6C250.7,1176.4 251.6,1176.1 256.3,1178.1C260.9,1180.1 268.8,1184.6 273.6,1185.6C278.4,1186.6 278.4,1184.9 285.2,1184.1C291.9,1183.4 304.4,1181.9 314.1,1181.1C323.7,1180.4 333.3,1179.6 342.9,1179.6C352.6,1179.6 362.2,1180.6 371.8,1181.1C381.5,1181.6 393.4,1183.1 400.7,1182.6C408,1182.1 412.3,1182.1 415.6,1178.1C418.9,1174.2 418,1165.3 420.4,1159C422.7,1152.7 426.6,1149.6 429.7,1140.3C432.8,1130.9 436.4,1115.3 439.2,1102.8C442,1090.4 444.6,1077.9 446.6,1065.4C448.6,1053 450.4,1035.5 451.3,1028C452.1,1020.5 451.7,1021.8 451.8,1020.5" stroke="#000000" stroke-width="2.0"/>
<path d="M139.9,1198C141,1193.3 145,1177.1 146.8,1170C148.7,1162.9 148,1159 151,1155.5C154,1152 160.2,1150.6 164.6,1149C169.1,1147.5 172,1147 177.7,1146C183.3,1145.1 192.6,1142.1 198.5,1143.6C204.4,1145.1 208.1,1151.9 212.9,1155C217.7,1158.1 221.9,1158.9 227.4,1162.1C232.9,1165.3 241.1,1171.3 245.9,1174.1C250.7,1176.8 251.6,1176.6 256.3,1178.6C260.9,1180.6 268.8,1185 273.6,1186C278.4,1187 278.4,1185.3 285.2,1184.5C291.9,1183.8 304.4,1182.3 314.1,1181.5C323.7,1180.8 333.3,1180.1 342.9,1180.1C352.6,1180.1 362.2,1181.1 371.8,1181.5C381.5,1182 393.4,1183.5 400.7,1183C408.1,1182.5 412.4,1182.6 416,1178.6C419.6,1174.5 419.6,1165.4 422.1,1159C424.6,1152.6 427.9,1149.6 430.9,1140.3C433.9,1130.9 437.4,1115.3 440.1,1102.8C442.9,1090.4 445.5,1077.9 447.5,1065.4C449.4,1053 451.2,1035.5 452.1,1028C452.9,1020.5 452.6,1021.8 452.7,1020.5" stroke="#000000" stroke-width="2.0"/>
<path d="M140,1198.4C141.2,1193.8 145.1,1177.7 147,1170.6C148.8,1163.6 148.3,1159.8 151.3,1156.3C154.3,1152.8 160.6,1151.3 165.1,1149.7C169.5,1148.1 172.1,1147.6 177.7,1146.7C183.3,1145.8 192.6,1142.6 198.5,1144.1C204.4,1145.6 208.1,1152.6 212.9,1155.7C217.7,1158.7 221.9,1159.4 227.4,1162.5C232.9,1165.7 241.1,1171.7 245.9,1174.5C250.7,1177.2 251.6,1177 256.3,1179C260.9,1181 268.8,1185.5 273.6,1186.5C278.4,1187.5 278.4,1185.7 285.2,1185C291.9,1184.2 304.4,1182.7 314.1,1182C323.7,1181.2 333.3,1180.5 342.9,1180.5C352.6,1180.5 362.2,1181.5 371.8,1182C381.5,1182.5 393.3,1184 400.7,1183.5C408.2,1183 412.6,1183.1 416.4,1179C420.3,1174.9 421.2,1165.4 423.8,1159C426.5,1152.5 429.3,1149.6 432.2,1140.3C435,1130.9 438.3,1115.3 441,1102.8C443.7,1090.4 446.3,1077.9 448.3,1065.4C450.3,1053 452,1035.5 452.9,1028C453.8,1020.5 453.4,1021.8 453.5,1020.5" stroke="#000000" stroke-width="2.0"/>
<path d="M140.2,1198.9C141.4,1194.3 145.3,1178.2 147.1,1171.3C149,1164.3 148.5,1160.7 151.5,1157.2C154.6,1153.7 161.1,1152 165.5,1150.3C169.8,1148.7 172.2,1148.3 177.7,1147.3C183.2,1146.4 192.6,1143.2 198.5,1144.7C204.4,1146.2 208.1,1153.3 212.9,1156.3C217.7,1159.4 221.9,1159.8 227.4,1162.9C232.9,1166 241.1,1172.2 245.9,1174.9C250.7,1177.7 251.6,1177.4 256.3,1179.4C260.9,1181.4 268.8,1185.9 273.6,1186.9C278.4,1187.9 278.4,1186.1 285.2,1185.4C291.9,1184.7 304.4,1183.2 314.1,1182.4C323.7,1181.7 333.3,1180.9 342.9,1180.9C352.6,1180.9 362.2,1181.9 371.8,1182.4C381.5,1182.9 393.2,1184.4 400.7,1183.9C408.2,1183.4 412.7,1183.6 416.8,1179.4C421,1175.3 422.8,1165.5 425.6,1159C428.3,1152.5 430.7,1149.6 433.4,1140.3C436.1,1130.9 439.3,1115.3 441.9,1102.8C444.5,1090.4 447.1,1077.9 449.1,1065.4C451.1,1053 452.9,1035.5 453.7,1028C454.6,1020.5 454.2,1021.8 454.3,1020.5" stroke="#000000" stroke-width="2.0"/>
<path d="M140.4,1199.3C141.5,1194.7 145.4,1178.8 147.3,1171.9C149.2,1165 148.7,1161.5 151.8,1158C154.9,1154.5 161.6,1152.6 165.9,1151C170.2,1149.3 172.2,1148.9 177.7,1148C183.1,1147 192.6,1143.7 198.5,1145.2C204.4,1146.7 208.1,1153.9 212.9,1157C217.7,1160 221.9,1160.3 227.4,1163.4C232.9,1166.4 241.1,1172.6 245.9,1175.3C250.7,1178.1 251.6,1177.8 256.3,1179.8C260.9,1181.8 268.8,1186.3 273.6,1187.3C278.4,1188.3 278.4,1186.6 285.2,1185.8C291.9,1185.1 304.4,1183.6 314.1,1182.8C323.7,1182.1 333.3,1181.3 342.9,1181.3C352.6,1181.3 362.2,1182.3 371.8,1182.8C381.5,1183.3 393.2,1184.8 400.7,1184.3C408.3,1183.8 412.8,1184.1 417.2,1179.8C421.7,1175.6 424.4,1165.6 427.3,1159C430.2,1152.4 432.1,1149.6 434.7,1140.3C437.2,1130.9 440.3,1115.3 442.8,1102.8C445.4,1090.4 448,1077.9 449.9,1065.4C451.9,1053 453.7,1035.5 454.6,1028C455.4,1020.5 455,1021.8 455.1,1020.5" stroke="#000000" stroke-width="2.0"/>
<path d="M140.5,1199.7C141.7,1195.2 145.6,1179.4 147.5,1172.6C149.4,1165.8 148.9,1162.4 152,1158.9C155.1,1155.4 162,1153.3 166.3,1151.6C170.6,1149.9 172.3,1149.6 177.7,1148.6C183,1147.6 192.6,1144.2 198.5,1145.7C204.4,1147.2 208.1,1154.6 212.9,1157.6C217.7,1160.6 221.9,1160.8 227.4,1163.8C232.9,1166.8 241.1,1173 245.9,1175.8C250.7,1178.5 251.6,1178.3 256.3,1180.3C260.9,1182.3 268.8,1186.8 273.6,1187.8C278.4,1188.7 278.4,1187 285.2,1186.3C291.9,1185.5 304.4,1184 314.1,1183.3C323.7,1182.5 333.3,1181.8 342.9,1181.8C352.6,1181.8 362.2,1182.8 371.8,1183.3C381.5,1183.8 393.1,1185.3 400.7,1184.8C408.4,1184.3 412.9,1184.6 417.7,1180.3C422.4,1176 426,1165.7 429,1159C432.1,1152.3 433.4,1149.6 435.9,1140.3C438.3,1130.9 441.3,1115.3 443.7,1102.8C446.2,1090.4 448.8,1077.9 450.8,1065.4C452.7,1053 454.5,1035.5 455.4,1028C456.2,1020.5 455.9,1021.8 456,1020.5" stroke="#000000" stroke-width="2.0"/>
<path d="M140.7,1200.2C141.9,1195.7 145.7,1179.9 147.6,1173.2C149.6,1166.5 149.1,1163.2 152.3,1159.7C155.4,1156.2 162.5,1154 166.7,1152.3C170.9,1150.5 172.4,1150.3 177.7,1149.3C183,1148.3 192.6,1144.8 198.5,1146.3C204.4,1147.8 208.1,1155.2 212.9,1158.2C217.7,1161.2 221.9,1161.2 227.4,1164.2C232.9,1167.2 241.1,1173.5 245.9,1176.2C250.7,1178.9 251.6,1178.7 256.3,1180.7C260.9,1182.7 268.8,1187.2 273.6,1188.2C278.4,1189.2 278.4,1187.4 285.2,1186.7C291.9,1185.9 304.4,1184.4 314.1,1183.7C323.7,1182.9 333.3,1182.2 342.9,1182.2C352.6,1182.2 362.2,1183.2 371.8,1183.7C381.5,1184.2 393,1185.7 400.7,1185.2C408.4,1184.7 413.1,1185.1 418.1,1180.7C423.1,1176.3 427.6,1165.7 430.8,1159C434,1152.3 434.8,1149.6 437.1,1140.3C439.4,1130.9 442.2,1115.3 444.6,1102.8C447.1,1090.4 449.7,1077.9 451.6,1065.4C453.5,1053 455.3,1035.5 456.2,1028C457.1,1020.5 456.7,1021.8 456.8,1020.5" stroke="#000000" stroke-width="2.0"/>
<path d="M139.5,1230.1C140.2,1225.1 142,1210.1 143.6,1200.2C145.2,1190.2 147.4,1180.2 149.4,1170.2C151.3,1160.2 153.2,1149.5 155.1,1140.3C157.1,1131 158.6,1121.1 160.9,1114.8C163.2,1108.6 165.6,1103.8 169,1102.8C172.4,1101.9 176.2,1106.3 181.1,1108.8C186.1,1111.3 192.7,1114.6 198.5,1117.8C204.3,1121.1 211,1125.6 215.8,1128.3C220.6,1131 222.6,1131.5 227.4,1134.3C232.2,1137 239.9,1142 244.7,1144.8C249.5,1147.5 251.5,1148.5 256.3,1150.8C261.1,1153 268.8,1156.2 273.6,1158.2C278.4,1160.2 278.4,1162 285.2,1162.7C291.9,1163.5 306.8,1162 314.1,1162.7C321.3,1163.5 323.7,1167.1 328.5,1167.1C333.3,1167.1 338.1,1162.2 342.9,1162.7C347.8,1163.3 352.6,1168.9 357.4,1170.4C362.2,1171.8 367,1170.9 371.8,1171.4C376.7,1172 381.5,1173.1 386.3,1173.7C391.1,1174.2 395.9,1175.3 400.7,1174.7C405.5,1174.1 410.4,1172.8 415.2,1170.2C420,1167.6 425.4,1164 429.6,1159C433.9,1154 437.1,1149.6 440.6,1140.3C444.1,1130.9 447.7,1115.3 450.4,1102.8C453.1,1090.4 455,1077.9 456.8,1065.4C458.6,1053 460.5,1035.5 461.4,1028C462.3,1020.5 461.9,1021.8 462,1020.5" stroke="#dc1529" stroke-width="2.2"/>
<path d="M139.6,1232.4C140.3,1227.5 142,1212.7 143.7,1203C145.3,1193.2 147.4,1183.7 149.4,1173.8C151.3,1163.9 153.2,1152.9 155.2,1143.5C157.1,1134.2 158.7,1123.9 161,1117.6C163.3,1111.2 165.7,1106.5 169,1105.3C172.4,1104.2 176.1,1108.3 181,1110.5C185.9,1112.8 192.7,1115.8 198.5,1118.9C204.3,1122.1 211,1126.7 215.8,1129.4C220.6,1132.1 222.6,1132.6 227.4,1135.4C232.2,1138.1 239.9,1143.1 244.7,1145.9C249.5,1148.6 251.5,1149.7 256.3,1152C261.1,1154.3 268.7,1157.7 273.5,1159.8C278.3,1161.8 278.4,1163.5 285.2,1164.2C291.9,1164.9 306.7,1163.5 314.1,1164.2C321.4,1164.9 324.1,1168.4 329.1,1168.4C334.2,1168.4 339.3,1163.7 344.2,1164.3C349.1,1164.8 353.8,1170.3 358.6,1171.7C363.5,1173.1 368.3,1172.1 373.1,1172.6C377.9,1173.1 382.9,1174.2 387.7,1174.7C392.5,1175.1 397.1,1176 401.9,1175.4C406.6,1174.7 411.3,1173.3 416,1170.5C420.8,1167.8 426.2,1164 430.3,1159C434.5,1153.9 437.7,1149.6 441.1,1140.3C444.5,1130.9 448.1,1115.3 450.8,1102.8C453.5,1090.4 455.3,1077.9 457.1,1065.4C458.9,1053 460.8,1035.5 461.7,1028C462.5,1020.5 462.2,1021.8 462.3,1020.5" stroke="#dc1529" stroke-width="2.2"/>
<path d="M139.6,1234.8C140.3,1229.9 142.1,1215.3 143.7,1205.8C145.4,1196.2 147.5,1187.2 149.4,1177.4C151.3,1167.5 153.2,1156.3 155.2,1146.8C157.2,1137.3 158.8,1126.8 161.1,1120.3C163.4,1113.8 165.8,1109.1 169.1,1107.8C172.4,1106.5 176,1110.2 180.9,1112.2C185.8,1114.3 192.7,1116.9 198.5,1120C204.3,1123 211,1127.8 215.8,1130.5C220.6,1133.3 222.6,1133.7 227.4,1136.5C232.2,1139.2 239.9,1144.2 244.7,1147C249.5,1149.8 251.5,1150.8 256.3,1153.2C261,1155.6 268.5,1159.2 273.4,1161.3C278.2,1163.4 278.4,1165 285.2,1165.7C291.9,1166.4 306.6,1165 314.1,1165.7C321.5,1166.4 324.5,1169.7 329.8,1169.7C335,1169.7 340.4,1165.2 345.5,1165.8C350.5,1166.3 355.1,1171.7 359.9,1173C364.7,1174.4 369.5,1173.4 374.4,1173.8C379.2,1174.3 384.3,1175.3 389,1175.7C393.8,1176.1 398.4,1176.8 403,1176C407.6,1175.2 412.2,1173.7 416.9,1170.9C421.6,1168 426.9,1164.1 431,1159C435.1,1153.9 438.2,1149.6 441.6,1140.3C444.9,1130.9 448.5,1115.3 451.2,1102.8C453.8,1090.4 455.6,1077.9 457.4,1065.4C459.2,1053 461.1,1035.5 462,1028C462.8,1020.5 462.4,1021.8 462.5,1020.5" stroke="#dc1529" stroke-width="2.2"/>
<path d="M139.7,1237.1C140.4,1232.4 142.2,1217.9 143.8,1208.6C145.4,1199.2 147.5,1190.7 149.4,1181C151.3,1171.2 153.2,1159.7 155.2,1150C157.2,1140.4 158.9,1129.7 161.2,1123C163.5,1116.4 165.8,1111.8 169.1,1110.3C172.3,1108.8 175.9,1112.1 180.8,1113.9C185.7,1115.7 192.6,1118.1 198.5,1121.1C204.3,1124 211,1128.9 215.8,1131.6C220.6,1134.4 222.6,1134.8 227.4,1137.5C232.2,1140.3 239.9,1145.3 244.7,1148.1C249.5,1150.9 251.5,1152 256.3,1154.5C261,1156.9 268.4,1160.7 273.2,1162.8C278,1164.9 278.4,1166.4 285.2,1167.2C292,1167.9 306.5,1166.5 314.1,1167.2C321.6,1167.8 324.9,1171 330.4,1171C335.8,1171 341.6,1166.7 346.7,1167.3C351.8,1167.9 356.3,1173.1 361.2,1174.4C366,1175.7 370.7,1174.6 375.6,1175C380.5,1175.4 385.7,1176.4 390.4,1176.7C395.2,1177 399.6,1177.6 404.1,1176.7C408.7,1175.7 413.1,1174.1 417.7,1171.2C422.3,1168.2 427.7,1164.1 431.7,1159C435.8,1153.8 438.7,1149.6 442,1140.3C445.3,1130.9 448.9,1115.3 451.6,1102.8C454.2,1090.4 456,1077.9 457.8,1065.4C459.5,1053 461.4,1035.5 462.2,1028C463.1,1020.5 462.7,1021.8 462.8,1020.5" stroke="#dc1529" stroke-width="2.2"/>
<path d="M139.7,1239.5C140.4,1234.8 142.3,1220.5 143.9,1211.3C145.5,1202.2 147.5,1194.2 149.4,1184.5C151.3,1174.9 153.3,1163.1 155.2,1153.3C157.2,1143.5 159,1132.5 161.3,1125.8C163.6,1119 165.9,1114.4 169.1,1112.7C172.3,1111.1 175.8,1114 180.6,1115.6C185.5,1117.2 192.6,1119.3 198.5,1122.2C204.3,1125 211,1130 215.8,1132.7C220.6,1135.5 222.6,1135.9 227.4,1138.6C232.2,1141.4 239.9,1146.3 244.7,1149.2C249.5,1152 251.5,1153.2 256.3,1155.7C261,1158.2 268.3,1162.2 273.1,1164.3C277.9,1166.5 278.3,1167.9 285.2,1168.6C292,1169.4 306.4,1168 314.1,1168.6C321.7,1169.3 325.4,1172.3 331,1172.3C336.7,1172.3 342.7,1168.3 348,1168.8C353.2,1169.4 357.6,1174.5 362.4,1175.7C367.2,1176.9 372,1175.9 376.9,1176.2C381.8,1176.5 387.1,1177.6 391.8,1177.7C396.5,1177.9 400.8,1178.3 405.3,1177.3C409.7,1176.3 414.1,1174.6 418.6,1171.5C423.1,1168.5 428.5,1164.2 432.4,1159C436.4,1153.8 439.3,1149.6 442.5,1140.3C445.8,1130.9 449.3,1115.3 451.9,1102.8C454.5,1090.4 456.3,1077.9 458.1,1065.4C459.9,1053 461.7,1035.5 462.5,1028C463.3,1020.5 463,1021.8 463.1,1020.5" stroke="#dc1529" stroke-width="2.2"/>
<path d="M139.8,1241.8C140.5,1237.2 142.4,1223.1 144,1214.1C145.6,1205.2 147.5,1197.7 149.4,1188.1C151.3,1178.5 153.3,1166.5 155.3,1156.5C157.3,1146.6 159.1,1135.4 161.4,1128.5C163.7,1121.6 166,1117.1 169.1,1115.2C172.3,1113.4 175.6,1116 180.5,1117.3C185.4,1118.6 192.6,1120.5 198.5,1123.3C204.4,1126 211,1131.1 215.8,1133.8C220.6,1136.6 222.6,1137 227.4,1139.7C232.2,1142.5 239.9,1147.4 244.7,1150.3C249.5,1153.2 251.6,1154.3 256.3,1156.9C261,1159.5 268.2,1163.7 273,1165.9C277.8,1168.1 278.3,1169.4 285.2,1170.1C292,1170.8 306.3,1169.5 314.1,1170.1C321.8,1170.7 325.8,1173.6 331.6,1173.6C337.5,1173.7 343.9,1169.8 349.2,1170.3C354.6,1170.9 358.9,1175.9 363.7,1177C368.5,1178.2 373.2,1177.1 378.1,1177.4C383,1177.7 388.5,1178.7 393.2,1178.8C397.9,1178.9 402,1179.1 406.4,1178C410.8,1176.8 415,1175 419.4,1171.8C423.9,1168.7 429.2,1164.2 433.1,1159C437.1,1153.7 439.8,1149.6 443,1140.3C446.2,1130.9 449.7,1115.3 452.3,1102.8C454.9,1090.4 456.7,1077.9 458.4,1065.4C460.2,1053 462,1035.5 462.8,1028C463.6,1020.5 463.3,1021.8 463.4,1020.5" stroke="#dc1529" stroke-width="2.2"/>
<path d="M139.8,1244.2C140.5,1239.6 142.5,1225.7 144,1216.9C145.6,1208.2 147.5,1201.2 149.4,1191.7C151.2,1182.2 153.3,1169.9 155.3,1159.8C157.3,1149.7 159.2,1138.2 161.5,1131.2C163.8,1124.2 166,1119.7 169.2,1117.7C172.3,1115.7 175.5,1117.9 180.4,1119C185.3,1120.1 192.6,1121.7 198.5,1124.3C204.4,1127 211,1132.2 215.8,1134.9C220.6,1137.7 222.6,1138.1 227.4,1140.8C232.2,1143.6 239.9,1148.5 244.7,1151.4C249.5,1154.3 251.6,1155.5 256.3,1158.2C261,1160.8 268,1165.1 272.9,1167.4C277.7,1169.6 278.3,1170.9 285.2,1171.6C292,1172.3 306.2,1171 314.1,1171.6C321.9,1172.1 326.2,1174.9 332.3,1174.9C338.3,1175 345,1171.3 350.5,1171.9C355.9,1172.4 360.1,1177.2 364.9,1178.4C369.7,1179.5 374.4,1178.4 379.4,1178.6C384.3,1178.8 389.9,1179.8 394.6,1179.8C399.3,1179.8 403.2,1179.9 407.5,1178.6C411.8,1177.3 415.9,1175.4 420.3,1172.2C424.7,1168.9 430,1164.3 433.8,1159C437.7,1153.7 440.3,1149.6 443.5,1140.3C446.6,1130.9 450.1,1115.3 452.7,1102.8C455.2,1090.4 457,1077.9 458.7,1065.4C460.5,1053 462.2,1035.5 463.1,1028C463.9,1020.5 463.5,1021.8 463.6,1020.5" stroke="#dc1529" stroke-width="2.2"/>
<path d="M139.9,1246.5C140.6,1242 142.5,1228.3 144.1,1219.7C145.7,1211.2 147.5,1204.7 149.4,1195.3C151.2,1185.8 153.3,1173.3 155.3,1163.1C157.4,1152.8 159.3,1141.1 161.6,1134C163.9,1126.8 166.1,1122.4 169.2,1120.2C172.3,1118 175.4,1119.8 180.3,1120.7C185.2,1121.6 192.6,1122.9 198.5,1125.4C204.4,1128 211,1133.3 215.8,1136C220.6,1138.8 222.6,1139.2 227.4,1141.9C232.2,1144.6 239.9,1149.6 244.7,1152.5C249.5,1155.4 251.6,1156.7 256.3,1159.4C260.9,1162.1 267.9,1166.6 272.7,1168.9C277.5,1171.2 278.3,1172.4 285.2,1173.1C292,1173.8 306.1,1172.5 314.1,1173.1C322,1173.6 326.6,1176.2 332.9,1176.2C339.2,1176.3 346.2,1172.8 351.7,1173.4C357.3,1174 361.4,1178.6 366.2,1179.7C371,1180.8 375.7,1179.6 380.6,1179.8C385.6,1180 391.3,1180.9 396,1180.8C400.6,1180.7 404.4,1180.6 408.6,1179.3C412.8,1177.9 416.8,1175.9 421.2,1172.5C425.5,1169.1 430.7,1164.4 434.5,1159C438.3,1153.6 440.9,1149.6 443.9,1140.3C447,1130.9 450.5,1115.3 453.1,1102.8C455.6,1090.4 457.4,1077.9 459.1,1065.4C460.8,1053 462.5,1035.5 463.3,1028C464.1,1020.5 463.8,1021.8 463.9,1020.5" stroke="#dc1529" stroke-width="2.2"/>
<path d="M139.9,1248.8C140.7,1244.5 142.6,1230.9 144.2,1222.5C145.8,1214.2 147.5,1208.2 149.4,1198.9C151.2,1189.5 153.3,1176.7 155.3,1166.3C157.4,1156 159.4,1144 161.7,1136.7C164,1129.4 166.1,1125 169.2,1122.6C172.3,1120.2 175.3,1121.7 180.1,1122.4C185,1123 192.5,1124.1 198.5,1126.5C204.4,1129 211,1134.4 215.8,1137.2C220.6,1139.9 222.6,1140.2 227.4,1143C232.2,1145.7 239.9,1150.7 244.7,1153.6C249.5,1156.6 251.6,1157.8 256.3,1160.6C260.9,1163.4 267.8,1168.1 272.6,1170.4C277.4,1172.7 278.3,1173.9 285.2,1174.5C292.1,1175.2 306,1174.1 314.1,1174.5C322.1,1175 327,1177.5 333.5,1177.5C340,1177.6 347.3,1174.3 353,1174.9C358.6,1175.5 362.6,1180 367.4,1181C372.3,1182.1 376.9,1180.9 381.9,1181C386.9,1181.1 392.7,1182 397.3,1181.8C402,1181.7 405.7,1181.4 409.8,1179.9C413.9,1178.4 417.8,1176.3 422,1172.8C426.3,1169.3 431.5,1164.4 435.3,1159C439,1153.6 441.4,1149.6 444.4,1140.3C447.5,1130.9 450.9,1115.3 453.4,1102.8C455.9,1090.4 457.7,1077.9 459.4,1065.4C461.1,1053 462.8,1035.5 463.6,1028C464.4,1020.5 464.1,1021.8 464.2,1020.5" stroke="#dc1529" stroke-width="2.2"/>
<path d="M140,1251.2C140.7,1246.9 142.7,1233.5 144.3,1225.3C145.8,1217.2 147.5,1211.7 149.4,1202.4C151.2,1193.1 153.3,1180.1 155.4,1169.6C157.4,1159.1 159.5,1146.8 161.8,1139.4C164.1,1132 166.2,1127.7 169.2,1125.1C172.3,1122.5 175.1,1123.7 180,1124.1C184.9,1124.5 192.5,1125.2 198.5,1127.6C204.5,1130 211,1135.5 215.8,1138.3C220.6,1141 222.6,1141.3 227.4,1144.1C232.2,1146.8 239.9,1151.8 244.7,1154.7C249.5,1157.7 251.6,1159 256.3,1161.9C260.9,1164.8 267.7,1169.6 272.5,1171.9C277.3,1174.3 278.2,1175.3 285.2,1176C292.1,1176.7 305.9,1175.6 314.1,1176C322.2,1176.5 327.5,1178.8 334.2,1178.8C340.9,1178.9 348.5,1175.8 354.3,1176.4C360,1177 363.9,1181.4 368.7,1182.4C373.5,1183.3 378.1,1182.1 383.1,1182.2C388.1,1182.3 394.1,1183.1 398.7,1182.9C403.3,1182.6 406.9,1182.2 410.9,1180.6C414.9,1178.9 418.7,1176.7 422.9,1173.1C427,1169.5 432.3,1164.5 436,1159C439.6,1153.5 441.9,1149.6 444.9,1140.3C447.9,1130.9 451.3,1115.3 453.8,1102.8C456.3,1090.4 458,1077.9 459.7,1065.4C461.4,1053 463.1,1035.5 463.9,1028C464.7,1020.5 464.4,1021.8 464.5,1020.5" stroke="#dc1529" stroke-width="2.2"/>
<path d="M140,1253.5C140.8,1249.3 142.8,1236.1 144.3,1228.1C145.9,1220.2 147.5,1215.2 149.4,1206C151.2,1196.8 153.3,1183.5 155.4,1172.8C157.5,1162.2 159.6,1149.7 161.9,1142.2C164.2,1134.6 166.3,1130.3 169.3,1127.6C172.3,1124.8 175,1125.6 179.9,1125.8C184.8,1125.9 192.5,1126.4 198.5,1128.7C204.5,1131 211,1136.6 215.8,1139.4C220.6,1142.1 222.6,1142.4 227.4,1145.2C232.2,1147.9 239.9,1152.8 244.7,1155.8C249.5,1158.8 251.7,1160.2 256.3,1163.1C260.9,1166.1 267.5,1171.1 272.3,1173.5C277.2,1175.9 278.2,1176.8 285.2,1177.5C292.1,1178.2 305.8,1177.1 314.1,1177.5C322.3,1177.9 327.9,1180.1 334.8,1180.2C341.7,1180.2 349.6,1177.4 355.5,1178C361.4,1178.6 365.1,1182.8 370,1183.7C374.8,1184.6 379.4,1183.4 384.4,1183.4C389.4,1183.4 395.5,1184.2 400.1,1183.9C404.7,1183.5 408.1,1182.9 412,1181.2C416,1179.5 419.6,1177.2 423.7,1173.5C427.8,1169.8 433,1164.5 436.7,1159C440.3,1153.5 442.5,1149.6 445.4,1140.3C448.3,1130.9 451.7,1115.3 454.2,1102.8C456.6,1090.4 458.4,1077.9 460,1065.4C461.7,1053 463.4,1035.5 464.2,1028C465,1020.5 464.6,1021.8 464.7,1020.5" stroke="#dc1529" stroke-width="2.2"/>
<path d="M140.1,1255.9C140.8,1251.7 142.9,1238.7 144.4,1230.9C146,1223.2 147.5,1218.7 149.4,1209.6C151.2,1200.4 153.3,1186.9 155.4,1176.1C157.5,1165.3 159.7,1152.6 162,1144.9C164.3,1137.2 166.3,1133 169.3,1130.1C172.2,1127.1 174.9,1127.5 179.8,1127.5C184.6,1127.4 192.5,1127.6 198.5,1129.8C204.5,1131.9 211,1137.7 215.8,1140.5C220.6,1143.2 222.6,1143.5 227.4,1146.2C232.2,1149 239.9,1153.9 244.7,1156.9C249.5,1160 251.7,1161.3 256.3,1164.4C260.9,1167.4 267.4,1172.6 272.2,1175C277,1177.4 278.2,1178.3 285.2,1179C292.1,1179.6 305.7,1178.6 314.1,1179C322.4,1179.4 328.3,1181.4 335.4,1181.5C342.5,1181.5 350.8,1178.9 356.8,1179.5C362.7,1180.1 366.4,1184.2 371.2,1185C376,1185.9 380.6,1184.6 385.7,1184.6C390.7,1184.6 396.9,1185.4 401.5,1184.9C406.1,1184.4 409.3,1183.7 413.2,1181.9C417,1180 420.5,1177.6 424.6,1173.8C428.6,1170 433.8,1164.6 437.4,1159C440.9,1153.4 443,1149.6 445.9,1140.3C448.7,1130.9 452.2,1115.3 454.6,1102.8C457,1090.4 458.7,1077.9 460.4,1065.4C462,1053 463.7,1035.5 464.4,1028C465.2,1020.5 464.9,1021.8 465,1020.5" stroke="#dc1529" stroke-width="2.2"/>
<path d="M140.1,1258.2C140.9,1254.1 143,1241.2 144.5,1233.7C146,1226.2 147.5,1222.2 149.4,1213.2C151.2,1204.1 153.3,1190.3 155.4,1179.3C157.6,1168.4 159.8,1155.4 162.1,1147.6C164.4,1139.8 166.4,1135.6 169.3,1132.5C172.2,1129.4 174.8,1129.4 179.6,1129.1C184.5,1128.9 192.5,1128.8 198.5,1130.9C204.5,1132.9 211,1138.8 215.8,1141.6C220.6,1144.3 222.6,1144.6 227.4,1147.3C232.2,1150.1 239.9,1155 244.7,1158C249.5,1161.1 251.7,1162.5 256.3,1165.6C260.8,1168.7 267.3,1174 272.1,1176.5C276.9,1179 278.2,1179.8 285.2,1180.5C292.2,1181.1 305.6,1180.1 314.1,1180.5C322.5,1180.8 328.7,1182.7 336,1182.8C343.4,1182.9 351.9,1180.4 358,1181C364.1,1181.6 367.7,1185.6 372.5,1186.4C377.3,1187.2 381.8,1185.9 386.9,1185.8C392,1185.7 398.3,1186.5 402.9,1185.9C407.4,1185.4 410.5,1184.5 414.3,1182.5C418.1,1180.5 421.5,1178 425.4,1174.1C429.4,1170.2 434.6,1164.6 438.1,1159C441.5,1153.3 443.5,1149.6 446.3,1140.3C449.1,1130.9 452.6,1115.3 454.9,1102.8C457.3,1090.4 459.1,1077.9 460.7,1065.4C462.3,1053 464,1035.5 464.7,1028C465.5,1020.5 465.2,1021.8 465.3,1020.5" stroke="#dc1529" stroke-width="2.2"/>
<path d="M140.2,1260.6C140.9,1256.6 143,1243.8 144.6,1236.5C146.1,1229.2 147.6,1225.7 149.4,1216.8C151.2,1207.8 153.3,1193.6 155.5,1182.6C157.6,1171.5 159.9,1158.3 162.2,1150.4C164.5,1142.4 166.5,1138.3 169.3,1135C172.2,1131.7 174.7,1131.3 179.5,1130.8C184.4,1130.3 192.4,1130 198.5,1132C204.5,1133.9 211,1139.9 215.8,1142.7C220.6,1145.4 222.6,1145.7 227.4,1148.4C232.2,1151.2 239.9,1156.1 244.7,1159.2C249.5,1162.2 251.7,1163.7 256.3,1166.8C260.8,1170 267.2,1175.5 272,1178C276.8,1180.6 278.1,1181.3 285.2,1181.9C292.2,1182.6 305.5,1181.6 314.1,1181.9C322.6,1182.3 329.1,1184 336.7,1184.1C344.2,1184.2 353.1,1181.9 359.3,1182.5C365.5,1183.1 368.9,1187 373.7,1187.7C378.5,1188.5 383.1,1187.1 388.2,1187C393.3,1186.9 399.7,1187.6 404.2,1186.9C408.8,1186.3 411.8,1185.3 415.4,1183.2C419.1,1181.1 422.4,1178.5 426.3,1174.4C430.2,1170.4 435.3,1164.7 438.8,1159C442.2,1153.3 444,1149.6 446.8,1140.3C449.6,1130.9 453,1115.3 455.3,1102.8C457.7,1090.4 459.4,1077.9 461,1065.4C462.6,1053 464.2,1035.5 465,1028C465.8,1020.5 465.5,1021.8 465.6,1020.5" stroke="#dc1529" stroke-width="2.2"/>
<path d="M140.2,1262.9C141,1259 143.1,1246.4 144.6,1239.3C146.2,1232.2 147.6,1229.2 149.4,1220.3C151.2,1211.4 153.3,1197 155.5,1185.8C157.7,1174.6 160,1161.2 162.3,1153.1C164.6,1145 166.5,1140.9 169.4,1137.5C172.2,1134 174.5,1133.3 179.4,1132.5C184.2,1131.8 192.4,1131.2 198.5,1133C204.6,1134.9 211,1141 215.8,1143.8C220.6,1146.5 222.6,1146.8 227.4,1149.5C232.2,1152.2 239.9,1157.2 244.7,1160.3C249.5,1163.4 251.7,1164.8 256.3,1168.1C260.8,1171.3 267,1177 271.8,1179.6C276.7,1182.1 278.1,1182.8 285.2,1183.4C292.2,1184.1 305.4,1183.1 314.1,1183.4C322.7,1183.7 329.5,1185.3 337.3,1185.4C345,1185.5 354.3,1183.4 360.5,1184.1C366.8,1184.7 370.2,1188.4 375,1189C379.8,1189.7 384.3,1188.4 389.4,1188.2C394.5,1188 401.1,1188.7 405.6,1188C410.2,1187.2 413,1186 416.6,1183.8C420.1,1181.6 423.3,1178.9 427.1,1174.8C431,1170.6 436.1,1164.7 439.5,1159C442.8,1153.2 444.6,1149.6 447.3,1140.3C450,1130.9 453.4,1115.3 455.7,1102.8C458,1090.4 459.8,1077.9 461.4,1065.4C462.9,1053 464.5,1035.5 465.3,1028C466,1020.5 465.8,1021.8 465.9,1020.5" stroke="#dc1529" stroke-width="2.2"/>
<path d="M140.3,1265.2C141,1261.4 143.2,1249 144.7,1242.1C146.2,1235.2 147.6,1232.8 149.4,1223.9C151.2,1215.1 153.3,1200.4 155.5,1189.1C157.7,1177.7 160.1,1164 162.4,1155.8C164.7,1147.6 166.6,1143.6 169.4,1139.9C172.2,1136.3 174.4,1135.2 179.3,1134.2C184.1,1133.3 192.4,1132.3 198.5,1134.1C204.6,1135.9 211,1142.2 215.8,1144.9C220.6,1147.6 222.6,1147.8 227.4,1150.6C232.2,1153.3 239.9,1158.2 244.7,1161.4C249.5,1164.5 251.8,1166 256.3,1169.3C260.8,1172.6 266.9,1178.5 271.7,1181.1C276.5,1183.7 278.1,1184.3 285.2,1184.9C292.2,1185.5 305.3,1184.6 314.1,1184.9C322.8,1185.2 330,1186.6 337.9,1186.7C345.9,1186.8 355.4,1185 361.8,1185.6C368.2,1186.2 371.4,1189.7 376.2,1190.4C381.1,1191 385.6,1189.6 390.7,1189.4C395.8,1189.1 402.5,1189.8 407,1189C411.5,1188.2 414.2,1186.8 417.7,1184.5C421.2,1182.2 424.2,1179.3 428,1175.1C431.7,1170.8 436.9,1164.8 440.2,1159C443.5,1153.2 445.1,1149.6 447.8,1140.3C450.4,1130.9 453.8,1115.3 456.1,1102.8C458.4,1090.4 460.1,1077.9 461.7,1065.4C463.3,1053 464.8,1035.5 465.6,1028C466.3,1020.5 466,1021.8 466.1,1020.5" stroke="#dc1529" stroke-width="2.2"/>
<path d="M140.3,1267.6C141.1,1263.8 143.3,1251.6 144.8,1244.9C146.3,1238.3 147.6,1236.3 149.4,1227.5C151.2,1218.7 153.4,1203.8 155.5,1192.3C157.7,1180.9 160.2,1166.9 162.5,1158.6C164.8,1150.2 166.6,1146.2 169.4,1142.4C172.2,1138.6 174.3,1137.1 179.1,1135.9C184,1134.7 192.4,1133.5 198.5,1135.2C204.6,1136.9 211,1143.3 215.8,1146C220.6,1148.7 222.6,1148.9 227.4,1151.7C232.2,1154.4 239.9,1159.3 244.7,1162.5C249.5,1165.6 251.8,1167.2 256.3,1170.5C260.7,1173.9 266.8,1180 271.6,1182.6C276.4,1185.2 278.1,1185.7 285.2,1186.4C292.2,1187 305.2,1186.1 314.1,1186.4C323,1186.6 330.4,1187.9 338.5,1188C346.7,1188.1 356.6,1186.5 363,1187.1C369.5,1187.7 372.7,1191.1 377.5,1191.7C382.3,1192.3 386.8,1190.9 391.9,1190.6C397.1,1190.3 403.9,1190.9 408.4,1190C412.9,1189.1 415.4,1187.6 418.8,1185.1C422.2,1182.7 425.2,1179.8 428.8,1175.4C432.5,1171.1 437.6,1164.8 440.9,1159C444.1,1153.1 445.6,1149.6 448.2,1140.3C450.8,1130.9 454.2,1115.3 456.5,1102.8C458.7,1090.4 460.4,1077.9 462,1065.4C463.6,1053 465.1,1035.5 465.8,1028C466.6,1020.5 466.3,1021.8 466.4,1020.5" stroke="#dc1529" stroke-width="2.2"/>
<path d="M140.4,1269.9C141.1,1266.2 143.4,1254.2 144.9,1247.7C146.4,1241.3 147.6,1239.8 149.4,1231.1C151.2,1222.4 153.4,1207.2 155.6,1195.6C157.8,1184 160.3,1169.7 162.6,1161.3C164.9,1152.8 166.7,1148.8 169.4,1144.9C172.2,1140.9 174.2,1139 179,1137.6C183.9,1136.2 192.4,1134.7 198.5,1136.3C204.6,1137.9 211,1144.4 215.8,1147.1C220.6,1149.9 222.6,1150 227.4,1152.8C232.2,1155.5 239.9,1160.4 244.7,1163.6C249.5,1166.7 251.8,1168.4 256.3,1171.8C260.7,1175.2 266.7,1181.5 271.5,1184.1C276.3,1186.8 278.1,1187.2 285.2,1187.8C292.3,1188.5 305.1,1187.6 314.1,1187.8C323.1,1188.1 330.8,1189.2 339.2,1189.3C347.6,1189.4 357.7,1188 364.3,1188.6C370.9,1189.2 373.9,1192.5 378.7,1193C383.6,1193.6 388,1192.1 393.2,1191.8C398.4,1191.4 405.3,1192 409.8,1191C414.2,1190 416.6,1188.3 420,1185.8C423.3,1183.2 426.1,1180.2 429.7,1175.7C433.3,1171.3 438.4,1164.9 441.6,1159C444.8,1153.1 446.2,1149.6 448.7,1140.3C451.3,1130.9 454.6,1115.3 456.8,1102.8C459.1,1090.4 460.8,1077.9 462.3,1065.4C463.9,1053 465.4,1035.5 466.1,1028C466.8,1020.5 466.6,1021.8 466.7,1020.5" stroke="#dc1529" stroke-width="2.2"/>
<path d="M140.4,1272.3C141.2,1268.6 143.5,1256.8 144.9,1250.5C146.4,1244.3 147.6,1243.3 149.4,1234.7C151.1,1226 153.4,1210.6 155.6,1198.9C157.8,1187.1 160.4,1172.6 162.7,1164C165,1155.5 166.8,1151.5 169.5,1147.4C172.2,1143.2 174.1,1141 178.9,1139.3C183.7,1137.6 192.3,1135.9 198.5,1137.4C204.6,1138.9 211,1145.5 215.8,1148.2C220.6,1151 222.6,1151.1 227.4,1153.9C232.2,1156.6 239.9,1161.5 244.7,1164.7C249.5,1167.9 251.8,1169.5 256.3,1173C260.7,1176.5 266.5,1182.9 271.3,1185.7C276.2,1188.4 278,1188.7 285.2,1189.3C292.3,1189.9 304.9,1189.1 314.1,1189.3C323.2,1189.5 331.2,1190.5 339.8,1190.6C348.4,1190.8 358.9,1189.5 365.6,1190.1C372.3,1190.8 375.2,1193.9 380,1194.4C384.8,1194.9 389.3,1193.4 394.4,1193C399.6,1192.6 406.7,1193.1 411.2,1192.1C415.6,1191 417.8,1189.1 421.1,1186.4C424.3,1183.8 427,1180.6 430.6,1176.1C434.1,1171.5 439.2,1165 442.3,1159C445.4,1153 446.7,1149.6 449.2,1140.3C451.7,1130.9 455,1115.3 457.2,1102.8C459.5,1090.4 461.1,1077.9 462.7,1065.4C464.2,1053 465.7,1035.5 466.4,1028C467.1,1020.5 466.9,1021.8 467,1020.5" stroke="#dc1529" stroke-width="2.2"/>
<path d="M140.5,1274.6C141.3,1271.1 143.5,1259.4 145,1253.3C146.5,1247.3 147.6,1246.8 149.4,1238.2C151.1,1229.7 153.4,1214 155.6,1202.1C157.9,1190.2 160.5,1175.5 162.8,1166.8C165.1,1158.1 166.8,1154.1 169.5,1149.8C172.1,1145.5 173.9,1142.9 178.8,1141C183.6,1139.1 192.3,1137.1 198.5,1138.5C204.7,1139.9 211,1146.6 215.8,1149.3C220.6,1152.1 222.6,1152.2 227.4,1154.9C232.2,1157.7 239.9,1162.6 244.7,1165.8C249.5,1169 251.9,1170.7 256.3,1174.3C260.7,1177.8 266.4,1184.4 271.2,1187.2C276,1189.9 278,1190.2 285.2,1190.8C292.3,1191.4 304.8,1190.6 314.1,1190.8C323.3,1191 331.6,1191.8 340.4,1191.9C349.2,1192.1 360,1191 366.8,1191.7C373.6,1192.3 376.4,1195.3 381.3,1195.7C386.1,1196.1 390.5,1194.6 395.7,1194.2C400.9,1193.7 408.1,1194.3 412.5,1193.1C417,1191.9 419.1,1189.9 422.2,1187.1C425.4,1184.3 427.9,1181.1 431.4,1176.4C434.9,1171.7 439.9,1165 443,1159C446,1153 447.2,1149.6 449.7,1140.3C452.1,1130.9 455.4,1115.3 457.6,1102.8C459.8,1090.4 461.5,1077.9 463,1065.4C464.5,1053 465.9,1035.5 466.7,1028C467.4,1020.5 467.1,1021.8 467.2,1020.5" stroke="#dc1529" stroke-width="2.2"/>
<path d="M140.5,1277C141.3,1273.5 143.6,1262 145.1,1256.1C146.6,1250.3 147.6,1250.3 149.4,1241.8C151.1,1233.3 153.4,1217.4 155.6,1205.4C157.9,1193.3 160.6,1178.3 162.9,1169.5C165.2,1160.7 166.9,1156.8 169.5,1152.3C172.1,1147.8 173.8,1144.8 178.6,1142.7C183.5,1140.6 192.3,1138.3 198.5,1139.6C204.7,1140.8 211,1147.7 215.8,1150.4C220.6,1153.2 222.6,1153.3 227.4,1156C232.2,1158.8 239.9,1163.7 244.7,1166.9C249.5,1170.1 251.9,1171.9 256.3,1175.5C260.7,1179.1 266.3,1185.9 271.1,1188.7C275.9,1191.5 278,1191.7 285.2,1192.3C292.3,1192.9 304.7,1192.1 314.1,1192.3C323.4,1192.4 332.1,1193.1 341.1,1193.2C350.1,1193.4 361.2,1192.6 368.1,1193.2C375,1193.8 377.7,1196.7 382.5,1197.1C387.3,1197.4 391.7,1195.9 397,1195.4C402.2,1194.9 409.5,1195.4 413.9,1194.1C418.3,1192.8 420.3,1190.6 423.3,1187.7C426.4,1184.8 428.9,1181.5 432.3,1176.7C435.7,1171.9 440.7,1165.1 443.7,1159C446.7,1152.9 447.8,1149.6 450.1,1140.3C452.5,1130.9 455.8,1115.3 458,1102.8C460.2,1090.4 461.8,1077.9 463.3,1065.4C464.8,1053 466.2,1035.5 466.9,1028C467.6,1020.5 467.4,1021.8 467.5,1020.5" stroke="#dc1529" stroke-width="2.2"/>
<path d="M140.6,1279.3C141.4,1275.9 143.7,1264.6 145.2,1258.9C146.6,1253.3 147.6,1253.8 149.4,1245.4C151.1,1237 153.4,1220.8 155.7,1208.6C158,1196.4 160.7,1181.2 163,1172.2C165.3,1163.3 167,1159.4 169.5,1154.8C172.1,1150.1 173.7,1146.7 178.5,1144.4C183.3,1142 192.3,1139.5 198.5,1140.6C204.7,1141.8 211,1148.8 215.8,1151.5C220.6,1154.3 222.6,1154.4 227.4,1157.1C232.2,1159.9 239.9,1164.7 244.7,1168C249.5,1171.3 251.9,1173 256.3,1176.7C260.6,1180.4 266.2,1187.4 271,1190.2C275.8,1193.1 278,1193.2 285.2,1193.8C292.3,1194.3 304.6,1193.6 314.1,1193.8C323.5,1193.9 332.5,1194.4 341.7,1194.5C350.9,1194.7 362.3,1194.1 369.3,1194.7C376.3,1195.4 379,1198.1 383.8,1198.4C388.6,1198.7 393,1197.1 398.2,1196.6C403.5,1196 410.9,1196.5 415.3,1195.1C419.7,1193.8 421.5,1191.4 424.5,1188.4C427.4,1185.4 429.8,1181.9 433.1,1177C436.4,1172.2 441.5,1165.1 444.4,1159C447.3,1152.9 448.3,1149.6 450.6,1140.3C453,1130.9 456.2,1115.3 458.3,1102.8C460.5,1090.4 462.2,1077.9 463.6,1065.4C465.1,1053 466.5,1035.5 467.2,1028C467.9,1020.5 467.7,1021.8 467.8,1020.5" stroke="#dc1529" stroke-width="2.2"/>
<path d="M140.6,1281.6C141.4,1278.3 143.8,1267.2 145.2,1261.7C146.7,1256.3 147.6,1257.3 149.4,1249C151.1,1240.7 153.4,1224.2 155.7,1211.9C158,1199.5 160.8,1184.1 163.1,1175C165.4,1165.9 167,1162.1 169.6,1157.3C172.1,1152.4 173.6,1148.7 178.4,1146.1C183.2,1143.5 192.2,1140.6 198.5,1141.7C204.7,1142.8 211,1149.9 215.8,1152.6C220.6,1155.4 222.6,1155.5 227.4,1158.2C232.2,1160.9 239.9,1165.8 244.7,1169.1C249.5,1172.4 251.9,1174.2 256.3,1178C260.6,1181.7 266,1188.9 270.8,1191.7C275.7,1194.6 278,1194.7 285.2,1195.2C292.4,1195.8 304.5,1195.1 314.1,1195.2C323.6,1195.3 332.9,1195.7 342.3,1195.9C351.7,1196 363.5,1195.6 370.6,1196.2C377.7,1196.9 380.2,1199.5 385,1199.7C389.8,1200 394.2,1198.4 399.5,1197.8C404.8,1197.2 412.3,1197.6 416.7,1196.1C421,1194.7 422.7,1192.2 425.6,1189C428.5,1185.9 430.7,1182.4 434,1177.4C437.2,1172.4 442.2,1165.2 445.1,1159C448,1152.8 448.8,1149.6 451.1,1140.3C453.4,1130.9 456.6,1115.3 458.7,1102.8C460.9,1090.4 462.5,1077.9 464,1065.4C465.4,1053 466.8,1035.5 467.5,1028C468.2,1020.5 468,1021.8 468.1,1020.5" stroke="#dc1529" stroke-width="2.2"/>
<path d="M140.7,1284C141.5,1280.7 143.9,1269.8 145.3,1264.5C146.8,1259.3 147.6,1260.8 149.4,1252.6C151.1,1244.3 153.4,1227.6 155.7,1215.1C158,1202.7 160.9,1186.9 163.2,1177.7C165.5,1168.5 167.1,1164.7 169.6,1159.7C172.1,1154.7 173.4,1150.6 178.3,1147.8C183.1,1144.9 192.2,1141.8 198.5,1142.8C204.7,1143.8 211,1151 215.8,1153.7C220.6,1156.5 222.6,1156.5 227.4,1159.3C232.2,1162 239.9,1166.9 244.7,1170.2C249.5,1173.5 251.9,1175.4 256.3,1179.2C260.6,1183 265.9,1190.3 270.7,1193.3C275.5,1196.2 277.9,1196.1 285.2,1196.7C292.4,1197.3 304.4,1196.6 314.1,1196.7C323.7,1196.8 333.3,1197 342.9,1197.2C352.6,1197.3 364.6,1197.1 371.8,1197.8C379.1,1198.4 381.5,1200.9 386.3,1201.1C391.1,1201.3 395.4,1199.6 400.7,1199C406,1198.3 413.7,1198.7 418.1,1197.2C422.4,1195.6 423.9,1192.9 426.7,1189.7C429.5,1186.4 431.6,1182.8 434.8,1177.7C438,1172.6 443,1165.2 445.8,1159C448.6,1152.8 449.4,1149.6 451.6,1140.3C453.8,1130.9 457,1115.3 459.1,1102.8C461.2,1090.4 462.8,1077.9 464.3,1065.4C465.7,1053 467.1,1035.5 467.8,1028C468.4,1020.5 468.2,1021.8 468.3,1020.5" stroke="#dc1529" stroke-width="2.2"/>
</g>
<g font-family="Liberation Sans" font-weight="bold" font-size="13.5" fill="#000"><text x="133.7" y="1031.9" text-anchor="end" transform="translate(133.7,0) scale(0.88,1) translate(-133.7,0)">2.00</text><text x="133.7" y="1069.33" text-anchor="end" transform="translate(133.7,0) scale(0.88,1) translate(-133.7,0)">1.75</text><text x="133.7" y="1106.75" text-anchor="end" transform="translate(133.7,0) scale(0.88,1) translate(-133.7,0)">1.50</text><text x="133.7" y="1144.18" text-anchor="end" transform="translate(133.7,0) scale(0.88,1) translate(-133.7,0)">1.25</text><text x="133.7" y="1181.6" text-anchor="end" transform="translate(133.7,0) scale(0.88,1) translate(-133.7,0)">1.00</text><text x="133.7" y="1219.03" text-anchor="end" transform="translate(133.7,0) scale(0.88,1) translate(-133.7,0)">0.75</text><text x="133.7" y="1256.45" text-anchor="end" transform="translate(133.7,0) scale(0.88,1) translate(-133.7,0)">0.50</text><text x="133.7" y="1293.88" text-anchor="end" transform="translate(133.7,0) scale(0.88,1) translate(-133.7,0)">0.25</text><text x="133.7" y="1331.3" text-anchor="end" transform="translate(133.7,0) scale(0.88,1) translate(-133.7,0)">0</text><text x="522.8" y="1031.9" transform="translate(522.8,0) scale(0.88,1) translate(-522.8,0)">2.0</text><text x="522.8" y="1069.33" transform="translate(522.8,0) scale(0.88,1) translate(-522.8,0)">1.5</text><text x="522.8" y="1106.75" transform="translate(522.8,0) scale(0.88,1) translate(-522.8,0)">1.0</text><text x="522.8" y="1144.18" transform="translate(522.8,0) scale(0.88,1) translate(-522.8,0)">0.5</text><text x="522.8" y="1181.6" transform="translate(522.8,0) scale(0.88,1) translate(-522.8,0)">0</text><text x="522.8" y="1219.03" transform="translate(522.8,0) scale(0.88,1) translate(-522.8,0)">–0.5</text><text x="522.8" y="1256.45" transform="translate(522.8,0) scale(0.88,1) translate(-522.8,0)">–1.0</text><text x="522.8" y="1293.88" transform="translate(522.8,0) scale(0.88,1) translate(-522.8,0)">–1.5</text><text x="522.8" y="1331.3" transform="translate(522.8,0) scale(0.88,1) translate(-522.8,0)">–2.0</text><text x="147.22" y="1343.7" text-anchor="end" transform="translate(147.22,0) scale(0.87,1) translate(-147.22,0)">–60</text><text x="176.12" y="1343.7" text-anchor="end" transform="translate(176.12,0) scale(0.87,1) translate(-176.12,0)">–55</text><text x="205.01" y="1343.7" text-anchor="end" transform="translate(205.01,0) scale(0.87,1) translate(-205.01,0)">–50</text><text x="233.9" y="1343.7" text-anchor="end" transform="translate(233.9,0) scale(0.87,1) translate(-233.9,0)">–45</text><text x="262.79" y="1343.7" text-anchor="end" transform="translate(262.79,0) scale(0.87,1) translate(-262.79,0)">–40</text><text x="291.69" y="1343.7" text-anchor="end" transform="translate(291.69,0) scale(0.87,1) translate(-291.69,0)">–35</text><text x="320.58" y="1343.7" text-anchor="end" transform="translate(320.58,0) scale(0.87,1) translate(-320.58,0)">–30</text><text x="349.47" y="1343.7" text-anchor="end" transform="translate(349.47,0) scale(0.87,1) translate(-349.47,0)">–25</text><text x="378.36" y="1343.7" text-anchor="end" transform="translate(378.36,0) scale(0.87,1) translate(-378.36,0)">–20</text><text x="407.26" y="1343.7" text-anchor="end" transform="translate(407.26,0) scale(0.87,1) translate(-407.26,0)">–15</text><text x="436.15" y="1343.7" text-anchor="end" transform="translate(436.15,0) scale(0.87,1) translate(-436.15,0)">–10</text><text x="461.78" y="1343.7" text-anchor="end" transform="translate(461.78,0) scale(0.87,1) translate(-461.78,0)">–5</text><text x="487.41" y="1343.7" text-anchor="middle" transform="translate(487.41,0) scale(0.87,1) translate(-487.41,0)">0</text><text x="516.3" y="1343.7" text-anchor="middle" transform="translate(516.3,0) scale(0.87,1) translate(-516.3,0)">5</text></g>
<g font-family="Liberation Sans" font-weight="bold" fill="#000">
<text font-size="13" transform="translate(96.1,1177.7) rotate(-90)" text-anchor="middle">V<tspan font-size="10" dy="3">OUT</tspan><tspan dy="-3"> (V)</tspan></text>
<text font-size="13" transform="translate(566.6,1177.2) rotate(-90)" text-anchor="middle" textLength="71" lengthAdjust="spacingAndGlyphs">ERROR (dB)</text>
<text font-size="13" x="328.5" y="1367.8" text-anchor="middle">P<tspan font-size="10" dy="3">IN</tspan><tspan dy="-3"> (dBm)</tspan></text>
</g>
<text font-family="Liberation Sans" font-size="8.3" fill="#000" transform="translate(569.5,1348.8) rotate(-90)" text-anchor="middle">05541-011</text>
<text font-family="Liberation Sans" font-style="italic" font-size="15.5" x="328.5" y="1396.9" text-anchor="middle" textLength="452.1" lengthAdjust="spacingAndGlyphs">Figure 11. V<tspan font-size="11" dy="1.6">OUT</tspan><tspan dy="-1.6"> and Log Conformance vs. Input Amplitude at 2.2 GHz,</tspan></text>
<text font-family="Liberation Sans" font-style="italic" font-size="15.5" x="328.55" y="1415.8" text-anchor="middle" textLength="192.4" lengthAdjust="spacingAndGlyphs">Multiple Devices, R<tspan font-size="11" dy="1.6">TADJ</tspan><tspan dy="-1.6"> = 8 kΩ</tspan></text>
<clipPath id="clip6"><rect x="721" y="1029.6" width="375" height="299.1"/></clipPath>
<g stroke="#000" fill="none"><line x1="721" y1="1029" x2="721" y2="1329" stroke-width="2.0"/><line x1="747.5" y1="1029" x2="747.5" y2="1329" stroke-width="1.15"/><line x1="774.5" y1="1029" x2="774.5" y2="1329" stroke-width="1.15"/><line x1="801.5" y1="1029" x2="801.5" y2="1329" stroke-width="1.15"/><line x1="828.5" y1="1029" x2="828.5" y2="1329" stroke-width="1.15"/><line x1="854.5" y1="1029" x2="854.5" y2="1329" stroke-width="1.15"/><line x1="881.5" y1="1029" x2="881.5" y2="1329" stroke-width="1.15"/><line x1="908.5" y1="1029" x2="908.5" y2="1329" stroke-width="1.15"/><line x1="935.5" y1="1029" x2="935.5" y2="1329" stroke-width="1.15"/><line x1="962.5" y1="1029" x2="962.5" y2="1329" stroke-width="1.15"/><line x1="989" y1="1029" x2="989" y2="1329" stroke-width="2.0"/><line x1="1016" y1="1029" x2="1016" y2="1329" stroke-width="2.0"/><line x1="1042.5" y1="1029" x2="1042.5" y2="1329" stroke-width="1.15"/><line x1="1069.5" y1="1029" x2="1069.5" y2="1329" stroke-width="1.15"/><line x1="1096" y1="1029" x2="1096" y2="1329" stroke-width="2.0"/><line x1="721" y1="1029.5" x2="1097" y2="1029.5" stroke-width="1.15"/><line x1="721" y1="1048.5" x2="1097" y2="1048.5" stroke-width="1.15"/><line x1="721" y1="1066.5" x2="1097" y2="1066.5" stroke-width="1.15"/><line x1="721" y1="1085.5" x2="1097" y2="1085.5" stroke-width="1.15"/><line x1="721" y1="1104.5" x2="1097" y2="1104.5" stroke-width="1.15"/><line x1="721" y1="1123" x2="1097" y2="1123" stroke-width="2.0"/><line x1="721" y1="1141.5" x2="1097" y2="1141.5" stroke-width="1.15"/><line x1="721" y1="1160.5" x2="1097" y2="1160.5" stroke-width="1.15"/><line x1="721" y1="1179.5" x2="1097" y2="1179.5" stroke-width="1.15"/><line x1="721" y1="1197.5" x2="1097" y2="1197.5" stroke-width="1.15"/><line x1="721" y1="1216.5" x2="1097" y2="1216.5" stroke-width="1.15"/><line x1="721" y1="1235.5" x2="1097" y2="1235.5" stroke-width="1.15"/><line x1="721" y1="1254" x2="1097" y2="1254" stroke-width="2.0"/><line x1="721" y1="1272.5" x2="1097" y2="1272.5" stroke-width="1.15"/><line x1="721" y1="1291.5" x2="1097" y2="1291.5" stroke-width="1.15"/><line x1="721" y1="1310.5" x2="1097" y2="1310.5" stroke-width="1.15"/><line x1="721" y1="1329" x2="1097" y2="1329" stroke-width="2.0"/></g>
<g clip-path="url(#clip6)" fill="none" stroke-linecap="round" stroke-linejoin="round">
<path d="M715.6,1062.9 716,1063 716.2,1063.2 716.6,1063.4 717.4,1063.7 718.8,1064 721,1064.4 724.2,1064.7 728.3,1065 733.1,1065.4 738.1,1065.9 743.1,1066.5 747.8,1067.4 752.2,1068.4 756.7,1069.7 761.2,1071.1 765.6,1072.7 770.1,1074.4 774.6,1076.3 779,1078.5 783.5,1080.8 788,1083.3 792.4,1085.9 796.9,1088.6 801.4,1091.3 805.8,1094.1 810.3,1096.9 814.8,1099.9 819.2,1102.9 823.7,1105.8 828.1,1108.5 832.6,1111.2 837.1,1113.7 841.5,1116.2 846,1118.7 850.5,1121.2 854.9,1123.8 859.4,1126.5 863.9,1129.2 868.3,1132 872.8,1134.8 877.2,1137.7 881.7,1140.5 886.2,1143.2 890.6,1145.9 895.1,1148.6 899.6,1151.3 904,1154.2 908.5,1157.3 913,1160.6 917.4,1164.1 921.9,1167.8 926.4,1171.5 930.8,1175.1 935.3,1178.6 939.8,1181.8 944.2,1185.1 948.7,1188.2 953.1,1191.3 957.6,1194.3 962.1,1197.1 966.5,1199.8 971,1202.3 975.5,1204.8 979.9,1207.1 984.4,1209.4 988.9,1211.7 993.3,1213.9 997.8,1216 1002.2,1218.1 1006.7,1220.1 1011.2,1222.2 1015.6,1224.4 1020.3,1226.8 1025.2,1229.6 1030,1232.3 1034.7,1234.9 1038.9,1237.2 1042.4,1239 1045.1,1240 1047,1240.3 1048.5,1240.4 1049.8,1240.4 1051.2,1240.6 1053.1,1241.4 1055.4,1242.8 1057.7,1244.6 1060.2,1246.6 1062.9,1248.8 1065.9,1250.9 1069.2,1252.9 1073.3,1254.8 1078.1,1256.9 1083.3,1259 1088.3,1260.9 1092.7,1262.6 1096,1263.8 1098.2,1264.6 1099.6,1265.1 1100.4,1265.3 1100.8,1265.3 1101,1265.3 1101.4,1265.3 1101.4,1275.4 1101,1275.4 1100.8,1275.4 1100.4,1275.4 1099.6,1275.2 1098.2,1274.8 1096,1273.9 1092.7,1272.5 1088.3,1270.7 1083.3,1268.6 1078.1,1266.4 1073.3,1264.2 1069.2,1262.2 1065.9,1260.2 1062.9,1258.2 1060.2,1256.2 1057.7,1254.3 1055.4,1252.7 1053.1,1251.5 1051.2,1250.7 1049.8,1250.5 1048.5,1250.6 1047,1250.6 1045.1,1250.3 1042.4,1249.5 1038.9,1247.9 1034.7,1245.9 1030,1243.5 1025.2,1241.1 1020.3,1238.7 1015.6,1236.5 1011.2,1234.6 1006.7,1232.9 1002.2,1231.2 997.8,1229.5 993.3,1227.8 988.9,1225.8 984.4,1223.8 979.9,1221.6 975.5,1219.4 971,1217 966.5,1214.6 962.1,1212 957.6,1209.4 953.1,1206.6 948.7,1203.8 944.2,1200.9 939.8,1197.8 935.3,1194.7 930.8,1191.4 926.4,1187.9 921.9,1184.3 917.4,1180.8 913,1177.3 908.5,1174.1 904,1171.2 899.6,1168.4 895.1,1165.8 890.6,1163.2 886.2,1160.7 881.7,1158 877.2,1155.3 872.8,1152.6 868.3,1149.8 863.9,1147.1 859.4,1144.4 854.9,1141.8 850.5,1139.3 846,1136.8 841.5,1134.4 837.1,1132 832.6,1129.6 828.1,1127.1 823.7,1124.6 819.2,1122 814.8,1119.3 810.3,1116.7 805.8,1114.1 801.4,1111.5 796.9,1108.9 792.4,1106.2 788,1103.6 783.5,1101 779,1098.7 774.6,1096.5 770.1,1094.6 765.6,1092.9 761.2,1091.3 756.7,1089.9 752.2,1088.6 747.8,1087.6 743.1,1086.7 738.1,1086.1 733.1,1085.6 728.3,1085.2 724.2,1084.9 721,1084.6 718.8,1084.2 717.4,1083.9 716.6,1083.6 716.2,1083.4 716,1083.2 715.6,1083.1Z" fill="#17357f" stroke="#17357f" stroke-width="0.6"/>
<path d="M715.6,1083.1C716.5,1083.4 715.6,1083.6 721,1084.6C726.4,1085.6 738.9,1086.4 747.8,1089.1C756.7,1091.9 765.6,1097.1 774.6,1101.1C783.5,1105.1 792.4,1108.1 801.4,1113C810.3,1118 819.2,1125.3 828.1,1131C837.1,1136.7 846,1142 854.9,1147.4C863.9,1152.9 872.8,1158.7 881.7,1163.9C890.6,1169.1 899.6,1173.6 908.5,1178.9C917.4,1184.1 926.4,1189.9 935.3,1195.3C944.2,1200.7 953.1,1206 962.1,1211C971,1216 979.9,1220.5 988.9,1225.2C997.8,1230 1006.7,1234.8 1015.6,1239.6C1024.6,1244.3 1033.5,1249.8 1042.4,1253.6C1051.4,1257.5 1060.3,1259.1 1069.2,1262.6C1078.1,1266.1 1090.6,1272.3 1096,1274.6C1101.4,1276.8 1100.5,1275.8 1101.4,1276.1" stroke="#000000" stroke-width="4.5"/>
<path d="M715.6,1084.9C716.5,1085.2 715.6,1085.4 721,1086.4C726.4,1087.4 738.9,1088.2 747.8,1090.9C756.7,1093.7 765.6,1098.9 774.6,1102.9C783.5,1106.9 792.4,1109.9 801.4,1114.8C810.3,1119.8 819.2,1127.1 828.1,1132.8C837.1,1138.5 846,1143.8 854.9,1149.2C863.9,1154.7 872.8,1160.5 881.7,1165.7C890.6,1170.9 899.6,1175.4 908.5,1180.6C917.4,1185.9 926.4,1191.7 935.3,1197.1C944.2,1202.5 953.1,1207.8 962.1,1212.8C971,1217.8 979.9,1222.2 988.9,1227C997.8,1231.8 1006.7,1236.6 1015.6,1241.4C1024.6,1246.1 1033.5,1251.6 1042.4,1255.4C1051.4,1259.3 1060.3,1260.9 1069.2,1264.4C1078.1,1267.9 1090.6,1274.1 1096,1276.4C1101.4,1278.6 1100.5,1277.6 1101.4,1277.9" stroke="#dc1529" stroke-width="3.2"/>
<path d="M735.5,1336.2L736.6,1329.1 737.7,1322.1 738.8,1315 739.9,1308 741,1300.9 742,1293.8 743.1,1286.8 744.1,1279.7 745,1272.6 746,1265.6 747,1258.5 748.2,1251.5 749.6,1244.4 751,1237.4 752.4,1230.4 753.9,1223.5 755.3,1216.5 756.6,1209.4 757.8,1202.4 759.1,1195.4 760.4,1188.3 761.8,1181.3 763.3,1174.4 764.9,1167.4 766.5,1160.5 768.3,1153.5 770.2,1146.7 772.6,1139.9 775.3,1133.3 778.5,1126.9 782.1,1120.8 786.4,1115.1 791.7,1110.3 797.7,1106.5 803.9,1102.9 810.1,1099.4 816.8,1097 823.9,1096.4 831.1,1096.6 838.2,1096.9 845.3,1096.8 852.5,1096.6 859.6,1096.7 866.8,1096.8 873.9,1096.9 881.1,1096.9 888.2,1096.5 895.3,1095.9 902.4,1095.4 909.5,1095.6 916.4,1097.6 922.9,1100.5 929.9,1100.7 937,1099.8 944.1,1099.5 951.3,1099.2 958.4,1098.9 965.6,1098.8 972.7,1099.1 979.8,1099.2 987,1098.9 994.1,1098.4 1000.8,1096.1 1005.4,1090.8 1008.6,1084.4 1011,1077.7 1013.2,1070.9 1015.2,1064 1017,1057.1 1018.8,1050.2 1020.3,1043.2 1021.8,1036.2 1023.2,1029.2 1023.7,1022.1" stroke="#17357f" stroke-width="2.4"/>
<path d="M736.3,1336.2L737.4,1329.1 738.5,1322 739.6,1314.9 740.8,1307.7 741.9,1300.6 743,1293.5 744,1286.4 745,1279.3 746,1272.2 747,1265 748.1,1257.9 749.3,1250.8 750.6,1243.8 752,1236.7 753.4,1229.7 754.9,1222.6 756.3,1215.6 757.6,1208.5 758.8,1201.4 760.1,1194.3 761.5,1187.3 763.1,1180.3 764.8,1173.3 766.6,1166.4 768.5,1159.5 770.6,1152.8 772.9,1146.2 775.6,1139.7 778.7,1133.5 782.2,1127.5 786.1,1121.7 790.6,1116.4 796.1,1111.9 802.2,1108.3 808.5,1104.9 814.9,1101.7 821.7,1099.5 828.8,1098.8 836,1099.1 843.2,1099.5 850.2,1099.8 857.3,1100 864.3,1099.7 871.5,1099.6 878.7,1099.8 885.8,1099.8 893,1099.6 900.2,1099.1 907.3,1098.8 914.3,1099.4 921,1101.8 927.4,1104.8 934.4,1105.3 941.5,1104.5 948.6,1103.9 955.7,1103.3 962.7,1102.7 969.6,1102.1 976.4,1101.8 983.1,1101.4 989.9,1100.7 996.6,1099.6 1002.9,1097 1007.2,1091.4 1010.3,1085 1012.6,1078.2 1014.7,1071.3 1016.6,1064.4 1018.4,1057.4 1020.1,1050.4 1021.6,1043.4 1023,1036.4 1024.3,1029.3 1024.8,1022.1" stroke="#17357f" stroke-width="2.4"/>
<path d="M737.1,1336.2L738.2,1329 739.4,1321.9 740.5,1314.7 741.6,1307.5 742.7,1300.4 743.9,1293.2 745,1286.1 746,1278.9 747,1271.7 748.1,1264.5 749.2,1257.4 750.3,1250.2 751.6,1243.1 753,1236 754.4,1228.9 755.9,1221.8 757.2,1214.6 758.6,1207.5 759.8,1200.4 761.2,1193.3 762.7,1186.2 764.5,1179.2 766.4,1172.3 768.4,1165.4 770.5,1158.6 772.9,1152 775.6,1145.7 778.7,1139.6 782.1,1133.7 785.9,1128 790.1,1122.6 794.9,1117.6 800.5,1113.5 806.8,1110.2 813.2,1107 819.6,1104.1 826.5,1102 833.7,1101.3 841,1101.5 848.1,1102.2 855.1,1102.8 862.1,1103.3 869,1102.8 876.2,1102.5 883.4,1102.6 890.6,1102.8 897.9,1102.6 905.1,1102.3 912.2,1102.3 919.1,1103.2 925.6,1105.9 931.9,1109.2 938.8,1110 946,1109.2 953,1108.4 960,1107.4 966.9,1106.4 973.6,1105.4 980.1,1104.6 986.5,1103.7 992.8,1102.4 999.1,1100.9 1005,1097.9 1009.1,1092.1 1012,1085.6 1014.2,1078.7 1016.2,1071.7 1018.1,1064.8 1019.8,1057.7 1021.4,1050.7 1022.8,1043.6 1024.2,1036.5 1025.5,1029.3 1026,1022.1" stroke="#17357f" stroke-width="2.4"/>
<path d="M737.9,1336.2L739.1,1329 740.2,1321.8 741.4,1314.5 742.5,1307.3 743.6,1300.1 744.8,1292.9 745.9,1285.7 747,1278.5 748,1271.2 749.1,1264 750.2,1256.8 751.4,1249.6 752.7,1242.4 754,1235.2 755.4,1228.1 756.8,1220.9 758.2,1213.7 759.5,1206.6 760.8,1199.4 762.3,1192.2 763.9,1185.1 765.8,1178.2 767.9,1171.3 770.1,1164.4 772.5,1157.7 775.2,1151.3 778.3,1145.2 781.7,1139.4 785.5,1133.8 789.6,1128.5 794.1,1123.5 799.1,1118.9 804.9,1115.1 811.3,1112 817.8,1109.1 824.4,1106.4 831.4,1104.4 838.6,1103.8 845.9,1104 853.1,1104.8 859.9,1105.8 866.9,1106.7 873.8,1105.8 880.8,1105.3 888.1,1105.5 895.4,1105.7 902.7,1105.7 909.9,1105.6 917.1,1105.8 923.9,1107.1 930.2,1110.1 936.4,1113.6 943.3,1114.7 950.5,1114 957.5,1112.8 964.4,1111.6 971.2,1110.2 977.7,1108.7 983.8,1107.4 989.8,1105.9 995.7,1104.1 1001.5,1102.1 1007.1,1098.7 1010.9,1092.8 1013.7,1086.2 1015.8,1079.2 1017.7,1072.2 1019.5,1065.1 1021.1,1058 1022.7,1050.9 1024.1,1043.8 1025.4,1036.6 1026.6,1029.4 1027.1,1022.1" stroke="#17357f" stroke-width="2.4"/>
<path d="M738.8,1336.2L739.9,1328.9 741.1,1321.6 742.2,1314.4 743.4,1307.1 744.5,1299.9 745.7,1292.6 746.8,1285.3 747.9,1278.1 749,1270.8 750.1,1263.5 751.3,1256.2 752.4,1249 753.7,1241.7 755,1234.5 756.4,1227.3 757.8,1220.1 759.2,1212.8 760.5,1205.6 761.8,1198.4 763.3,1191.2 765.1,1184.1 767.1,1177.1 769.5,1170.2 771.9,1163.4 774.6,1156.8 777.6,1150.5 781,1144.7 784.8,1139.2 788.9,1134 793.3,1129 798,1124.3 803.3,1120.2 809.3,1116.7 815.8,1113.9 822.5,1111.2 829.2,1108.7 836.2,1106.9 843.5,1106.3 850.9,1106.5 858.1,1107.5 864.8,1108.9 871.7,1110.1 878.5,1108.9 885.5,1108.1 892.9,1108.3 900.2,1108.6 907.5,1108.7 914.8,1108.8 922,1109.3 928.7,1110.9 934.8,1114.2 940.9,1118 947.7,1119.4 954.9,1118.7 962,1117.3 968.8,1115.7 975.4,1113.9 981.7,1112 987.5,1110.2 993.1,1108.2 998.6,1105.9 1004,1103.4 1009.2,1099.6 1012.8,1093.5 1015.4,1086.8 1017.4,1079.7 1019.2,1072.6 1020.9,1065.5 1022.5,1058.3 1024,1051.2 1025.3,1043.9 1026.6,1036.7 1027.7,1029.4 1028.2,1022.1" stroke="#17357f" stroke-width="2.4"/>
<path d="M739.6,1336.2L740.7,1328.9 741.9,1321.5 743.1,1314.2 744.2,1306.9 745.4,1299.6 746.6,1292.3 747.8,1285 748.9,1277.6 750.1,1270.3 751.2,1263 752.3,1255.7 753.5,1248.4 754.7,1241.1 756,1233.8 757.4,1226.5 758.8,1219.2 760.2,1211.9 761.5,1204.7 762.9,1197.4 764.4,1190.1 766.2,1183 768.5,1176 771,1169.2 773.7,1162.5 776.6,1155.9 779.9,1149.7 783.7,1144.2 787.8,1139 792.2,1134.1 797,1129.5 802,1125.2 807.5,1121.5 813.7,1118.3 820.4,1115.8 827.1,1113.3 833.9,1111 841.1,1109.3 848.4,1108.7 855.8,1109 863,1110.1 869.7,1111.9 876.5,1113.4 883.2,1111.9 890.2,1111 897.6,1111.2 905,1111.6 912.4,1111.8 919.7,1112 926.9,1112.7 933.5,1114.7 939.4,1118.4 945.4,1122.3 952.2,1124 959.4,1123.4 966.4,1121.7 973.2,1119.8 979.7,1117.7 985.7,1115.3 991.2,1112.9 996.4,1110.4 1001.5,1107.6 1006.5,1104.6 1011.3,1100.5 1014.6,1094.2 1017.1,1087.4 1019,1080.3 1020.8,1073.1 1022.4,1065.9 1023.9,1058.7 1025.3,1051.4 1026.5,1044.1 1027.8,1036.8 1028.9,1029.5 1029.4,1022.1" stroke="#17357f" stroke-width="2.4"/>
<path d="M740.4,1336.2L741.6,1328.8 742.8,1321.4 743.9,1314.1 745.1,1306.7 746.3,1299.3 747.5,1292 748.7,1284.6 749.9,1277.2 751.1,1269.9 752.2,1262.5 753.4,1255.1 754.5,1247.8 755.7,1240.4 757,1233 758.4,1225.7 759.8,1218.4 761.1,1211 762.5,1203.7 763.9,1196.4 765.4,1189.1 767.4,1181.9 769.8,1175 772.5,1168.2 775.4,1161.5 778.6,1155 782.2,1149 786.3,1143.6 790.8,1138.8 795.6,1134.3 800.6,1130.1 806,1126.1 811.7,1122.7 818.1,1119.9 824.9,1117.6 831.8,1115.4 838.7,1113.4 845.9,1111.8 853.3,1111.2 860.8,1111.4 868,1112.8 874.5,1114.9 881.3,1116.8 887.9,1115 894.9,1113.8 902.4,1114 909.8,1114.5 917.2,1114.9 924.6,1115.2 931.7,1116.2 938.3,1118.6 944,1122.5 949.9,1126.7 956.6,1128.7 963.9,1128.1 970.9,1126.2 977.6,1124 983.9,1121.4 989.8,1118.6 994.9,1115.7 999.7,1112.6 1004.4,1109.3 1009,1105.8 1013.4,1101.3 1016.5,1094.9 1018.8,1088 1020.7,1080.8 1022.3,1073.5 1023.8,1066.3 1025.3,1059 1026.6,1051.6 1027.8,1044.3 1028.9,1036.9 1030,1029.6 1030.5,1022.1" stroke="#17357f" stroke-width="2.4"/>
<path d="M741.2,1336.2L742.4,1328.8 743.6,1321.3 744.8,1313.9 746,1306.5 747.2,1299.1 748.4,1291.7 749.6,1284.2 750.9,1276.8 752.1,1269.4 753.3,1262 754.4,1254.6 755.6,1247.1 756.8,1239.7 758,1232.3 759.4,1224.9 760.7,1217.5 762.1,1210.1 763.4,1202.7 764.9,1195.4 766.5,1188 768.6,1180.9 771.2,1173.9 774.1,1167.1 777.2,1160.5 780.6,1154.1 784.5,1148.2 789,1143.1 793.9,1138.6 799,1134.4 804.3,1130.6 810,1127 816,1124 822.5,1121.5 829.4,1119.5 836.4,1117.5 843.5,1115.7 850.7,1114.3 858.2,1113.7 865.7,1113.9 872.9,1115.4 879.4,1117.9 886.1,1120.2 892.6,1118 899.6,1116.6 907.1,1116.9 914.6,1117.4 922.1,1117.9 929.4,1118.5 936.6,1119.7 943.1,1122.4 948.6,1126.6 954.4,1131.1 961.1,1133.4 968.4,1132.9 975.3,1130.7 982,1128.1 988.2,1125.2 993.8,1121.9 998.6,1118.5 1003,1114.9 1007.3,1111.1 1011.5,1107.1 1015.5,1102.2 1018.3,1095.6 1020.5,1088.6 1022.3,1081.3 1023.8,1074 1025.3,1066.6 1026.6,1059.3 1027.9,1051.9 1029,1044.5 1030.1,1037 1031.2,1029.6 1031.7,1022.1" stroke="#17357f" stroke-width="2.4"/>
<path d="M742,1336.2L743.2,1328.7 744.4,1321.2 745.7,1313.8 746.9,1306.3 748.1,1298.8 749.3,1291.3 750.6,1283.9 751.8,1276.4 753.1,1268.9 754.3,1261.5 755.5,1254 756.6,1246.5 757.8,1239 759,1231.6 760.4,1224.1 761.7,1216.7 763.1,1209.2 764.4,1201.8 765.9,1194.4 767.5,1187 769.8,1179.8 772.5,1172.8 775.6,1166.1 778.9,1159.5 782.6,1153.2 786.9,1147.5 791.7,1142.6 796.9,1138.4 802.4,1134.6 808,1131.1 814,1127.9 820.2,1125.3 826.9,1123.1 834,1121.3 841.1,1119.6 848.2,1118 855.6,1116.7 863.1,1116.1 870.7,1116.4 877.9,1118.1 884.3,1120.9 890.8,1123.5 897.3,1121.1 904.3,1119.5 911.9,1119.8 919.4,1120.3 926.9,1121 934.3,1121.7 941.5,1123.2 947.9,1126.2 953.2,1130.8 958.8,1135.5 965.5,1138.1 972.9,1137.6 979.8,1135.1 986.3,1132.3 992.4,1128.9 997.8,1125.2 1002.3,1121.2 1006.3,1117.1 1010.2,1112.8 1014,1108.3 1017.6,1103 1020.2,1096.3 1022.2,1089.2 1023.9,1081.8 1025.3,1074.4 1026.7,1067 1028,1059.6 1029.2,1052.1 1030.3,1044.6 1031.3,1037.2 1032.3,1029.7 1032.8,1022.1" stroke="#17357f" stroke-width="2.4"/>
<path d="M742.9,1336.2L744.1,1328.7 745.3,1321.1 746.5,1313.6 747.7,1306.1 749,1298.5 750.2,1291 751.5,1283.5 752.8,1276 754.1,1268.5 755.3,1261 756.5,1253.4 757.7,1245.9 758.8,1238.4 760,1230.8 761.3,1223.3 762.7,1215.8 764,1208.3 765.4,1200.8 766.9,1193.3 768.6,1185.9 770.9,1178.7 773.8,1171.8 777.2,1165.1 780.7,1158.5 784.6,1152.3 789.2,1146.7 794.4,1142.1 799.9,1138.2 805.7,1134.8 811.7,1131.6 817.9,1128.8 824.4,1126.6 831.3,1124.7 838.5,1123.2 845.7,1121.7 853,1120.3 860.4,1119.2 868,1118.6 875.6,1118.8 882.9,1120.7 889.1,1124 895.6,1126.9 902,1124.2 909,1122.3 916.6,1122.6 924.2,1123.3 931.7,1124 939.2,1124.9 946.4,1126.6 952.6,1130 957.8,1134.9 963.3,1139.8 970,1142.7 977.4,1142.3 984.2,1139.6 990.7,1136.4 996.6,1132.7 1001.9,1128.5 1006,1124 1009.6,1119.4 1013.1,1114.5 1016.5,1109.6 1019.7,1103.9 1022,1097 1023.9,1089.7 1025.5,1082.3 1026.8,1074.9 1028.1,1067.4 1029.4,1059.9 1030.5,1052.4 1031.5,1044.8 1032.5,1037.3 1033.4,1029.7 1034,1022.1" stroke="#17357f" stroke-width="2.4"/>
<path d="M743.7,1336.2L744.9,1328.6 746.1,1321 747.4,1313.4 748.6,1305.9 749.9,1298.3 751.1,1290.7 752.4,1283.2 753.8,1275.6 755.1,1268 756.4,1260.5 757.6,1252.9 758.7,1245.3 759.9,1237.7 761,1230.1 762.3,1222.5 763.7,1215 765,1207.4 766.4,1199.9 767.9,1192.3 769.7,1184.9 772.1,1177.6 775.2,1170.7 778.7,1164 782.4,1157.5 786.7,1151.4 791.5,1146 797.1,1141.6 803,1138.1 809.1,1134.9 815.4,1132.1 821.9,1129.7 828.6,1127.8 835.7,1126.3 843,1125 850.4,1123.8 857.7,1122.7 865.3,1121.6 872.9,1121.1 880.6,1121.3 887.8,1123.3 894,1127 900.4,1130.3 906.7,1127.2 913.7,1125.1 921.4,1125.5 929,1126.2 936.6,1127.1 944.1,1128.2 951.3,1130.1 957.4,1133.9 962.4,1139.1 967.8,1144.2 974.4,1147.4 981.9,1147 988.7,1144 995.1,1140.5 1000.9,1136.4 1005.9,1131.8 1009.7,1126.8 1012.9,1121.6 1016,1116.2 1018.9,1110.8 1021.8,1104.8 1023.9,1097.7 1025.6,1090.3 1027.1,1082.8 1028.4,1075.3 1029.6,1067.8 1030.7,1060.2 1031.8,1052.6 1032.8,1045 1033.7,1037.4 1034.6,1029.8 1035.1,1022.1" stroke="#17357f" stroke-width="2.4"/>
<path d="M744.5,1336.2L745.7,1328.5 747,1320.9 748.2,1313.3 749.5,1305.7 750.8,1298 752,1290.4 753.4,1282.8 754.7,1275.2 756.1,1267.6 757.4,1259.9 758.6,1252.3 759.8,1244.7 760.9,1237 762.1,1229.4 763.3,1221.8 764.7,1214.1 766,1206.5 767.3,1198.9 768.9,1191.3 770.7,1183.8 773.3,1176.6 776.5,1169.6 780.2,1163 784.2,1156.5 788.7,1150.4 793.9,1145.2 799.8,1141.1 806,1137.9 812.5,1135.1 819.1,1132.7 825.9,1130.6 832.9,1129.1 840.1,1127.9 847.5,1126.9 855,1125.9 862.5,1125 870.1,1124.1 877.8,1123.5 885.6,1123.8 892.8,1126 898.9,1130 905.2,1133.6 911.4,1130.3 918.4,1128 926.1,1128.3 933.8,1129.1 941.4,1130.1 949,1131.4 956.2,1133.6 962.2,1137.7 967,1143.2 972.3,1148.6 978.9,1152.1 986.4,1151.8 993.1,1148.5 999.5,1144.7 1005.1,1140.2 1009.9,1135.1 1013.4,1129.5 1016.2,1123.8 1018.9,1118 1021.4,1112 1023.9,1105.6 1025.8,1098.4 1027.3,1090.9 1028.7,1083.4 1029.9,1075.8 1031,1068.1 1032.1,1060.5 1033.1,1052.8 1034,1045.2 1034.9,1037.5 1035.7,1029.8 1036.2,1022.1" stroke="#17357f" stroke-width="2.4"/>
<path d="M745.3,1336.2L746.6,1328.5 747.8,1320.8 749.1,1313.1 750.4,1305.4 751.6,1297.8 753,1290.1 754.3,1282.4 755.7,1274.8 757.1,1267.1 758.4,1259.4 759.7,1251.8 760.8,1244.1 761.9,1236.3 763.1,1228.6 764.3,1221 765.6,1213.3 766.9,1205.6 768.3,1198 769.9,1190.3 771.8,1182.8 774.5,1175.5 777.9,1168.6 781.8,1162 786,1155.5 790.7,1149.5 796.2,1144.4 802.4,1140.6 809.1,1137.7 815.9,1135.2 822.8,1133.2 829.9,1131.4 837.1,1130.4 844.5,1129.5 852.1,1128.7 859.7,1128 867.3,1127.3 875,1126.5 882.7,1126 890.5,1126.3 897.8,1128.6 903.7,1133 910,1137 916.1,1133.3 923.1,1130.8 930.9,1131.2 938.6,1132.1 946.3,1133.2 953.8,1134.6 961.1,1137.1 967,1141.5 971.7,1147.4 976.8,1153 983.3,1156.7 990.8,1156.5 997.6,1153 1003.9,1148.8 1009.4,1143.9 1014,1138.4 1017.1,1132.3 1019.6,1126.1 1021.8,1119.7 1023.9,1113.3 1026,1106.5 1027.6,1099.1 1029,1091.5 1030.3,1083.9 1031.4,1076.2 1032.5,1068.5 1033.5,1060.8 1034.4,1053.1 1035.2,1045.4 1036.1,1037.6 1036.8,1029.9 1037.4,1022.1" stroke="#17357f" stroke-width="2.4"/>
<path d="M746.1,1336.2L747.4,1328.4 748.7,1320.7 750,1313 751.2,1305.2 752.5,1297.5 753.9,1289.8 755.3,1282.1 756.7,1274.4 758.1,1266.7 759.5,1258.9 760.7,1251.2 761.9,1243.4 763,1235.7 764.1,1227.9 765.3,1220.2 766.6,1212.4 767.9,1204.7 769.3,1197 770.9,1189.3 772.8,1181.7 775.6,1174.4 779.2,1167.5 783.3,1160.9 787.7,1154.5 792.7,1148.6 798.5,1143.7 805.1,1140.1 812.1,1137.5 819.2,1135.4 826.5,1133.7 833.9,1132.3 841.3,1131.6 848.9,1131.1 856.6,1130.6 864.3,1130.1 872,1129.6 879.8,1129 887.6,1128.5 895.5,1128.7 902.7,1131.3 908.6,1136 914.8,1140.3 920.9,1136.4 927.8,1133.6 935.6,1134 943.4,1135 951.1,1136.3 958.7,1137.8 966,1140.5 971.8,1145.3 976.3,1151.5 981.3,1157.3 987.8,1161.4 995.3,1161.2 1002,1157.4 1008.3,1153 1013.6,1147.7 1018,1141.7 1020.8,1135.1 1022.9,1128.3 1024.7,1121.4 1026.4,1114.5 1028,1107.4 1029.5,1099.8 1030.7,1092.1 1031.9,1084.4 1032.9,1076.6 1033.9,1068.9 1034.8,1061.1 1035.7,1053.3 1036.5,1045.5 1037.2,1037.7 1038,1029.9 1038.5,1022.1" stroke="#17357f" stroke-width="2.4"/>
<path d="M747,1336.2L748.2,1328.4 749.5,1320.6 750.8,1312.8 752.1,1305 753.4,1297.2 754.8,1289.5 756.2,1281.7 757.7,1273.9 759.1,1266.2 760.5,1258.4 761.8,1250.6 762.9,1242.8 764,1235 765.1,1227.2 766.3,1219.4 767.6,1211.6 768.9,1203.8 770.3,1196 771.9,1188.3 773.9,1180.7 776.8,1173.4 780.5,1166.4 784.9,1159.9 789.5,1153.5 794.7,1147.7 800.8,1142.9 807.8,1139.6 815.1,1137.3 822.6,1135.6 830.2,1134.2 837.8,1133.2 845.5,1132.9 853.3,1132.7 861.1,1132.4 869,1132.2 876.8,1132 884.7,1131.5 892.5,1131 900.4,1131.2 907.7,1133.9 913.5,1139.1 919.6,1143.7 925.6,1139.4 932.5,1136.5 940.4,1136.9 948.2,1137.9 955.9,1139.3 963.6,1141.1 970.8,1144 976.6,1149.2 980.9,1155.7 985.8,1161.7 992.2,1166.1 999.8,1165.9 1006.5,1161.9 1012.6,1157.1 1017.9,1151.4 1022,1145 1024.5,1137.9 1026.2,1130.5 1027.6,1123.2 1028.9,1115.8 1030.1,1108.2 1031.3,1100.5 1032.4,1092.7 1033.5,1084.9 1034.4,1077.1 1035.4,1069.3 1036.2,1061.4 1037,1053.6 1037.7,1045.7 1038.4,1037.9 1039.1,1030 1039.7,1022.1" stroke="#17357f" stroke-width="2.4"/>
<path d="M747.8,1336.2L749.1,1328.3 750.4,1320.5 751.7,1312.7 753,1304.8 754.3,1297 755.7,1289.2 757.1,1281.3 758.6,1273.5 760.1,1265.7 761.6,1257.9 762.8,1250.1 764,1242.2 765,1234.3 766.1,1226.4 767.3,1218.6 768.6,1210.8 769.9,1202.9 771.2,1195.1 772.9,1187.3 775,1179.6 778,1172.3 781.9,1165.4 786.4,1158.8 791.2,1152.5 796.7,1146.8 803.2,1142.2 810.5,1139.1 818.2,1137.1 826,1135.7 833.9,1134.7 841.8,1134.1 849.8,1134.2 857.7,1134.3 865.7,1134.3 873.6,1134.3 881.6,1134.3 889.5,1133.9 897.4,1133.4 905.4,1133.7 912.6,1136.6 918.3,1142.1 924.4,1147.1 930.3,1142.5 937.2,1139.3 945.1,1139.7 953,1140.9 960.8,1142.4 968.5,1144.3 975.7,1147.5 981.4,1153 985.5,1159.8 990.3,1166.1 996.7,1170.8 1004.3,1170.7 1010.9,1166.3 1017,1161.2 1022.1,1155.2 1026.1,1148.3 1028.2,1140.6 1029.5,1132.8 1030.5,1124.9 1031.4,1117 1032.2,1109.1 1033.2,1101.2 1034.1,1093.3 1035.1,1085.4 1036,1077.5 1036.8,1069.6 1037.6,1061.7 1038.3,1053.8 1039,1045.9 1039.6,1038 1040.2,1030 1040.8,1022.1" stroke="#17357f" stroke-width="2.4"/>
<path d="M735.5,1336.2C736.1,1331.2 737.9,1317.5 739.2,1306.3C740.6,1295.1 741.9,1281.3 743.5,1268.9C745.1,1256.4 746.9,1244 748.9,1231.5C750.8,1219 753.1,1205.3 755.3,1194.1C757.5,1182.9 759.5,1173.7 762.2,1164.2C765,1154.7 768.1,1144.3 771.9,1137.3C775.7,1130.3 783.1,1124.8 785.3,1122.3" stroke="#17357f" stroke-width="9"/>
<path d="M747.8,1336.2L748.6,1327.2 749.5,1318.2 750.3,1309.2 751.2,1300.3 752.2,1291.3 753.4,1282.3 754.7,1273.4 756.1,1264.5 757.7,1255.6 759.5,1246.8 761.4,1238 763.5,1229.2 765.8,1220.5 768.3,1211.8 771.2,1203.3 774.8,1195 779.1,1187.1 784.6,1179.9 791.8,1174.6 800.4,1171.9 809.3,1171 818.3,1171.8 827.2,1173.1 836.2,1174.4 845.1,1175.3 854.1,1176.1 863.1,1176.8 872.1,1177.3 881.1,1177.6 890.2,1177.7 899.2,1177.5 908.2,1177.2 917.2,1176.9 926.2,1176.5 935.3,1176.2 944.3,1175.6 953.3,1174.9 962.3,1174.7 971.1,1176.2 979.4,1179.9 986.8,1185 993.7,1190.7 1000.1,1197.1 1007.1,1202.6 1014.3,1199.4 1017.2,1190.8 1019.5,1182.1 1021.5,1173.3 1023.6,1164.5 1026.3,1155.9 1029,1147.3 1031.1,1138.5 1032.8,1129.7 1034.5,1120.8 1035.9,1111.9 1037.2,1103 1038.3,1094.1 1039.3,1085.1 1040,1076.1 1040.8,1067.1 1041.5,1058.1 1042.2,1049.1 1042.8,1040.1 1043.4,1031.1 1044,1022.1" stroke="#000000" stroke-width="1.5"/>
<path d="M751.8,1336.2L752.6,1327.2 753.5,1318.2 754.3,1309.3 755.2,1300.3 756.2,1291.4 757.4,1282.4 758.7,1273.5 760.1,1264.6 761.7,1255.7 763.5,1246.9 765.4,1238.1 767.5,1229.3 769.7,1220.6 772.2,1212 775.2,1203.5 778.8,1195.2 783.4,1187.5 789.1,1180.6 796.5,1175.7 805.1,1173.4 814.1,1172.6 823.1,1173.2 832,1174.4 840.9,1175.4 849.9,1176.2 858.9,1176.8 867.9,1177.4 876.9,1177.8 885.9,1178 894.9,1178 903.9,1177.8 912.9,1177.5 921.9,1177.2 930.9,1176.9 939.9,1176.7 948.9,1176.5 957.7,1176.6 966.2,1177.5 974.6,1179.9 982.4,1184.1 989.4,1189.6 996.4,1195.3 1003,1200.1 1009.5,1203.4 1015.9,1199.2 1018.6,1190.6 1020.8,1181.9 1022.9,1173.1 1025.1,1164.4 1027.8,1155.8 1030.5,1147.2 1032.6,1138.4 1034.3,1129.6 1035.8,1120.7 1037.2,1111.8 1038.5,1102.9 1039.6,1094 1040.5,1085 1041.2,1076 1042,1067.1 1042.7,1058.1 1043.3,1049.1 1043.9,1040.1 1044.5,1031.1 1045.1,1022.1" stroke="#000000" stroke-width="1.5"/>
<path d="M755.8,1336.2L756.7,1327.2 757.5,1318.3 758.3,1309.3 759.2,1300.4 760.2,1291.4 761.4,1282.5 762.7,1273.6 764.1,1264.7 765.7,1255.8 767.5,1247 769.4,1238.2 771.5,1229.5 773.7,1220.7 776.1,1212.1 779.1,1203.6 782.9,1195.5 787.7,1187.9 793.6,1181.3 801.2,1176.8 809.9,1174.8 818.9,1174.2 827.9,1174.7 836.8,1175.6 845.7,1176.5 854.7,1177.1 863.7,1177.6 872.7,1178 881.6,1178.3 890.6,1178.4 899.6,1178.3 908.6,1178.1 917.6,1177.9 926.6,1177.6 935.6,1177.3 944.6,1177.2 953.6,1177.3 962.1,1178.3 970.2,1180.3 978,1183.6 985.3,1188.4 992.1,1194.2 999,1199.8 1005.9,1203.1 1011.9,1204.1 1017.5,1199.1 1020,1190.4 1022.2,1181.7 1024.3,1173 1026.6,1164.3 1029.3,1155.7 1032,1147.1 1034,1138.4 1035.7,1129.5 1037.2,1120.6 1038.6,1111.7 1039.8,1102.8 1040.8,1093.9 1041.7,1084.9 1042.4,1076 1043.1,1067 1043.8,1058 1044.4,1049.1 1045,1040.1 1045.5,1031.1 1046.2,1022.1" stroke="#000000" stroke-width="1.5"/>
<path d="M759.8,1336.2L760.7,1327.2 761.5,1318.3 762.4,1309.3 763.3,1300.4 764.2,1291.5 765.4,1282.5 766.7,1273.7 768.1,1264.8 769.7,1255.9 771.5,1247.1 773.4,1238.3 775.4,1229.6 777.6,1220.9 780.1,1212.2 783.1,1203.8 786.9,1195.7 791.9,1188.3 798.2,1181.9 805.9,1177.8 814.7,1176.3 823.7,1175.7 832.6,1176.2 841.6,1176.9 850.5,1177.5 859.5,1178 868.4,1178.4 877.4,1178.6 886.4,1178.7 895.4,1178.8 904.4,1178.6 913.4,1178.4 922.3,1178.2 931.3,1177.9 940.3,1177.6 949.3,1177.7 958.2,1178.1 966.6,1180 974.2,1183.1 981.4,1187.3 988.3,1192.7 994.7,1198.8 1001.7,1204.4 1008.8,1206.1 1014.4,1204.9 1019,1198.9 1021.3,1190.2 1023.5,1181.5 1025.7,1172.8 1028.2,1164.2 1030.9,1155.6 1033.5,1147 1035.5,1138.3 1037.2,1129.4 1038.6,1120.6 1039.9,1111.7 1041,1102.7 1042,1093.8 1042.9,1084.9 1043.6,1075.9 1044.3,1067 1044.9,1058 1045.5,1049 1046.1,1040.1 1046.6,1031.1 1047.2,1022.1" stroke="#000000" stroke-width="1.5"/>
<path d="M763.9,1336.2L764.7,1327.2 765.5,1318.3 766.4,1309.4 767.3,1300.4 768.3,1291.5 769.4,1282.6 770.7,1273.7 772.1,1264.9 773.7,1256 775.5,1247.2 777.4,1238.5 779.4,1229.7 781.6,1221 784,1212.4 787,1203.9 791,1195.9 796.2,1188.7 802.7,1182.6 810.7,1178.9 819.5,1177.7 828.4,1177.3 837.4,1177.6 846.3,1178.1 855.3,1178.6 864.3,1178.9 873.2,1179.1 882.2,1179.2 891.2,1179.2 900.1,1179.1 909.1,1178.9 918.1,1178.7 927.1,1178.5 936,1178.2 945,1178 954,1178.2 962.9,1179 971,1181.7 978.1,1185.9 984.8,1191.1 991.3,1196.9 997.4,1203.4 1004.3,1209 1011.7,1209.1 1016.8,1205.6 1020.6,1198.7 1022.7,1190 1024.8,1181.3 1027.2,1172.7 1029.7,1164.1 1032.4,1155.5 1035,1146.9 1037,1138.2 1038.6,1129.3 1040,1120.5 1041.2,1111.6 1042.3,1102.7 1043.2,1093.7 1044.1,1084.8 1044.8,1075.9 1045.5,1066.9 1046.1,1058 1046.6,1049 1047.2,1040 1047.7,1031.1 1048.3,1022.1" stroke="#000000" stroke-width="1.5"/>
<path d="M767.9,1336.2L768.7,1327.3 769.5,1318.3 770.4,1309.4 771.3,1300.5 772.3,1291.6 773.4,1282.7 774.7,1273.8 776.1,1265 777.7,1256.1 779.5,1247.3 781.4,1238.6 783.4,1229.8 785.5,1221.1 787.9,1212.5 790.9,1204.1 795,1196.1 800.5,1189.1 807.2,1183.2 815.4,1179.9 824.3,1179.2 833.2,1178.9 842.2,1179.1 851.1,1179.4 860.1,1179.7 869,1179.8 878,1179.9 887,1179.8 895.9,1179.7 904.9,1179.5 913.8,1179.3 922.8,1179 931.8,1178.8 940.7,1178.6 949.7,1178.4 958.7,1178.8 967.5,1179.8 975.4,1183.4 982.1,1188.7 988.3,1194.8 994.3,1201.2 1000,1208 1007,1213.5 1014.6,1212 1019.2,1206.4 1022.2,1198.6 1024.1,1189.9 1026.2,1181.1 1028.6,1172.5 1031.2,1163.9 1034,1155.4 1036.5,1146.8 1038.5,1138.1 1040.1,1129.2 1041.4,1120.4 1042.5,1111.5 1043.5,1102.6 1044.5,1093.7 1045.3,1084.7 1046,1075.8 1046.6,1066.9 1047.2,1057.9 1047.8,1049 1048.3,1040 1048.8,1031.1 1049.4,1022.1" stroke="#000000" stroke-width="1.5"/>
<path d="M771.9,1336.2L772.7,1327.3 773.6,1318.3 774.4,1309.4 775.3,1300.5 776.3,1291.6 777.4,1282.7 778.7,1273.9 780.1,1265.1 781.7,1256.2 783.5,1247.5 785.3,1238.7 787.3,1230 789.5,1221.3 791.8,1212.6 794.9,1204.2 799,1196.3 804.8,1189.5 811.7,1183.9 820.1,1181 829,1180.6 838,1180.4 846.9,1180.6 855.9,1180.6 864.9,1180.7 873.8,1180.7 882.8,1180.6 891.7,1180.4 900.7,1180.1 909.6,1179.9 918.6,1179.6 927.5,1179.3 936.5,1179.1 945.4,1178.9 954.4,1178.8 963.3,1179.3 972.2,1180.7 979.9,1185.1 986.1,1191.5 991.7,1198.5 997.3,1205.5 1002.7,1212.6 1009.6,1218.1 1017.6,1215 1021.6,1207.1 1023.8,1198.4 1025.5,1189.7 1027.5,1180.9 1030,1172.3 1032.7,1163.8 1035.5,1155.3 1038,1146.7 1040,1138 1041.5,1129.2 1042.7,1120.3 1043.8,1111.4 1044.8,1102.5 1045.7,1093.6 1046.5,1084.7 1047.1,1075.7 1047.8,1066.8 1048.4,1057.9 1048.9,1048.9 1049.4,1040 1049.8,1031.1 1050.5,1022.1" stroke="#000000" stroke-width="1.5"/>
<path d="M766.5,1336.2L767.5,1327.5 768.6,1318.8 769.6,1310.1 770.6,1301.5 771.7,1292.8 772.8,1284.1 774,1275.5 775.2,1266.8 776.5,1258.2 778,1249.6 779.6,1241 781.4,1232.4 783.3,1223.9 785.6,1215.4 788.3,1207.1 791.5,1199 795.8,1191.4 802.4,1185.8 810.5,1182.6 819.1,1181.2 827.8,1181.4 836.6,1181.6 845.3,1181.9 854,1182.1 862.8,1182.1 871.5,1181.8 880.3,1181.5 889,1180.7 897.7,1179.7 906.4,1179.2 915,1180.5 923.2,1183.4 931.4,1181.4 940.1,1180.7 948.8,1181.1 957.6,1181.7 966.3,1182.5 974.9,1183.8 982.2,1188.3 987.6,1195.2 992.2,1202.6 996.3,1210.4 1000.4,1218.1 1004.5,1225.8 1008.8,1233.4 1013.4,1240.8 1019.4,1247.1 1026.7,1245.9 1029.7,1237.7 1031.7,1229.2 1033.5,1220.6 1035.1,1212.1 1036.6,1203.4 1038.1,1194.8 1039.6,1186.2 1041.1,1177.6 1042.7,1169 1044.4,1160.4 1046.1,1151.9 1047.7,1143.3 1049.3,1134.7 1050.9,1126.1 1052.4,1117.5 1053.8,1108.9 1055.1,1100.2 1056.3,1091.6 1057.5,1082.9 1058.6,1074.2 1059.7,1065.6 1060.8,1056.9 1061.7,1048.2 1062.6,1039.5 1063.5,1030.8 1064.4,1022.1" stroke="#dc1529" stroke-width="2.0"/>
<path d="M769.5,1336.2L770.5,1327.2 771.5,1318.3 772.6,1309.4 773.7,1300.5 774.8,1291.5 776.1,1282.6 777.4,1273.7 778.8,1264.9 780.3,1256 781.9,1247.2 783.6,1238.3 785.6,1229.6 787.8,1220.9 790.4,1212.3 793.6,1203.9 797.7,1196.1 803.2,1189.5 810.5,1185.1 819.1,1182.7 827.9,1181.6 836.9,1181.7 845.9,1181.8 854.9,1181.9 863.9,1181.8 872.9,1181.6 881.8,1181.5 890.7,1182.1 899.5,1181.1 908.5,1180.2 917.4,1179.8 926.3,1181 934.9,1183.5 943.3,1182.8 951.4,1184.2 959,1186.6 966.4,1189.4 973.8,1192.3 981,1195.6 987.3,1201.3 992.2,1208.7 996.5,1216.6 1000.3,1224.7 1004.2,1232.8 1008.2,1240.8 1012.7,1248.6 1017.9,1253.8 1023,1256.1 1029,1252.8 1031.7,1244.3 1033.5,1235.5 1035.2,1226.7 1036.7,1217.8 1038.1,1208.9 1039.5,1200.1 1041,1191.2 1042.4,1182.3 1044,1173.5 1045.6,1164.6 1047.2,1155.8 1048.8,1146.9 1050.3,1138.1 1051.8,1129.2 1053.3,1120.3 1054.6,1111.4 1055.8,1102.5 1057,1093.6 1058.2,1084.7 1059.3,1075.8 1060.3,1066.9 1061.3,1057.9 1062.2,1049 1063.1,1040 1063.9,1031.1 1064.8,1022.1" stroke="#dc1529" stroke-width="2.0"/>
<path d="M772.4,1336.2L773.5,1327 774.5,1317.8 775.6,1308.6 776.7,1299.5 778,1290.3 779.3,1281.2 780.8,1272 782.4,1262.9 784,1253.8 785.8,1244.8 787.6,1235.7 789.8,1226.7 792.3,1217.8 795.2,1209.1 798.8,1200.6 803.9,1193.2 810.5,1187.5 818.7,1184.4 827.6,1182.7 836.8,1182 846,1182.1 855.3,1182 864.5,1182 873.7,1181.6 882.9,1181 892.2,1181.2 901.1,1182.7 910.1,1181.5 919.3,1180.6 928.5,1180.5 937.6,1181.6 946.6,1183.6 955.2,1184.3 962.7,1187.7 969.2,1192.2 975.3,1197.1 981.2,1202.1 987.1,1207.3 992.4,1214.2 996.8,1222.2 1000.7,1230.5 1004.4,1239 1008,1247.5 1011.9,1255.8 1016.6,1263.8 1022.3,1266.7 1026.7,1265.2 1031.4,1259.8 1033.7,1250.9 1035.4,1241.8 1036.9,1232.7 1038.4,1223.6 1039.7,1214.4 1041,1205.3 1042.4,1196.1 1043.8,1187 1045.2,1177.9 1046.8,1168.8 1048.3,1159.7 1049.9,1150.6 1051.4,1141.4 1052.8,1132.3 1054.2,1123.2 1055.4,1114 1056.6,1104.9 1057.8,1095.7 1058.8,1086.5 1059.9,1077.3 1060.9,1068.1 1061.8,1058.9 1062.7,1049.7 1063.6,1040.5 1064.4,1031.3 1065.2,1022.1" stroke="#dc1529" stroke-width="2.0"/>
<path d="M775.4,1336.2L776.4,1326.7 777.5,1317.3 778.6,1307.9 779.8,1298.5 781.1,1289.1 782.6,1279.7 784.2,1270.3 786,1261 787.8,1251.7 789.6,1242.4 791.6,1233.1 793.9,1223.9 796.8,1214.8 800,1205.9 804.1,1197.4 810.1,1190.3 817.9,1185.6 826.8,1183.7 836.2,1182.8 845.6,1182.5 855.1,1182.4 864.6,1182.3 874.1,1182 883.6,1181.3 893,1180.5 902.5,1180.9 911.5,1183.3 920.6,1181.8 930.1,1181 939.5,1181.2 949,1182.1 958.3,1183.7 967.1,1185.8 973.9,1191.2 979.4,1197.8 984.2,1204.8 988.7,1211.9 993.2,1219.1 997.5,1227.1 1001.3,1235.7 1005,1244.5 1008.4,1253.3 1011.8,1262.2 1015.6,1270.8 1020.5,1278.9 1026.8,1279.6 1030.4,1274.2 1033.7,1266.7 1035.7,1257.5 1037.3,1248.1 1038.7,1238.7 1040,1229.3 1041.2,1219.9 1042.5,1210.5 1043.8,1201.1 1045.1,1191.7 1046.5,1182.3 1048,1172.9 1049.4,1163.6 1050.9,1154.2 1052.4,1144.8 1053.8,1135.4 1055.1,1126 1056.3,1116.6 1057.4,1107.2 1058.5,1097.7 1059.5,1088.3 1060.5,1078.9 1061.5,1069.4 1062.4,1060 1063.2,1050.5 1064,1041 1064.8,1031.6 1065.6,1022.1" stroke="#dc1529" stroke-width="2.0"/>
<path d="M778.3,1336.2L779.4,1326.5 780.5,1316.8 781.6,1307.1 782.8,1297.5 784.2,1287.8 785.8,1278.2 787.7,1268.6 789.6,1259.1 791.5,1249.5 793.5,1240 795.6,1230.4 798.1,1221 801.2,1211.8 804.8,1202.7 809.4,1194.1 816.3,1187.4 825.3,1183.7 835,1183 844.7,1182.8 854.5,1182.9 864.2,1182.7 874,1182.5 883.7,1182 893.4,1181 903.1,1180 912.8,1180.6 922,1183.9 931.2,1182.2 940.9,1181.4 950.6,1181.9 960.3,1182.7 970,1183.8 978.9,1187.3 985.2,1194.7 989.6,1203.3 993.1,1212.4 996.2,1221.7 999.4,1230.9 1002.6,1240.1 1005.9,1249.3 1009.2,1258.4 1012.4,1267.6 1015.6,1276.9 1019.3,1285.9 1024.5,1294.1 1031.2,1292.5 1034,1283.2 1036.1,1273.7 1037.7,1264.1 1039.1,1254.4 1040.4,1244.8 1041.6,1235.1 1042.8,1225.4 1044,1215.8 1045.2,1206.1 1046.4,1196.4 1047.7,1186.8 1049.1,1177.1 1050.6,1167.5 1052,1157.8 1053.4,1148.2 1054.7,1138.5 1055.9,1128.9 1057.1,1119.2 1058.2,1109.5 1059.2,1099.8 1060.2,1090.1 1061.1,1080.4 1062.1,1070.7 1062.9,1061 1063.7,1051.3 1064.5,1041.6 1065.2,1031.8 1066,1022.1" stroke="#dc1529" stroke-width="2.0"/>
<path d="M783.1,1336.2C784.4,1329.9 787.2,1310.5 790.6,1298.8C794.1,1287.1 800,1275.1 804,1265.9C808.1,1256.7 811.1,1249.2 814.8,1243.5C818.4,1237.7 822.3,1234.6 826,1231.5C829.7,1228.4 831.9,1226 836.7,1224.8C841.5,1223.5 847.4,1224.7 854.9,1224C862.4,1223.3 872.8,1222.6 881.7,1220.7C890.6,1218.9 901.4,1213.5 908.5,1212.9C915.6,1212.4 920.1,1217.6 924.6,1217.4C929,1217.3 929,1212.6 935.3,1212.1C941.5,1211.5 955.8,1213.6 962.1,1214.1C968.3,1214.7 968.3,1210.8 972.8,1215.2C977.2,1219.6 983.5,1231.5 988.9,1240.5C994.2,1249.4 999.6,1259.7 1004.9,1268.9C1010.3,1278.1 1017,1290.4 1021,1295.8C1025,1301.2 1026.4,1303.2 1029,1301.2C1031.7,1299.2 1034.2,1296.7 1037.1,1283.8C1039.9,1271 1043.3,1246.4 1046.2,1224C1049,1201.6 1051.5,1171.7 1054.2,1149.2C1056.9,1126.8 1060.1,1110.6 1062.2,1089.4C1064.4,1068.2 1066.3,1033.3 1067.1,1022.1" stroke="#dc1529" stroke-width="2.0"/>
<path d="M756.9,1336.2C757.8,1328.7 760.4,1305 762.2,1291.3C764.1,1277.6 765.6,1266.4 768.1,1253.9C770.6,1241.5 773.5,1228.3 777.2,1216.5C781,1204.8 785.7,1192.4 790.6,1183.6C795.6,1174.9 800.5,1168.4 806.7,1164.2C813,1160 820.1,1159.5 828.1,1158.2C836.2,1157 846,1157 854.9,1156.7C863.9,1156.5 872.8,1157.2 881.7,1156.7C890.6,1156.2 901.4,1153.2 908.5,1153.7C915.6,1154.2 920.1,1159.2 924.6,1159.7C929,1160.2 929,1157 935.3,1156.7C941.5,1156.5 954.9,1156.7 962.1,1158.2C969.2,1159.7 973.7,1162.2 978.1,1165.7C982.6,1169.2 985.3,1174.2 988.9,1179.2C992.4,1184.1 996,1190.9 999.6,1195.6C1003.1,1200.3 1007.2,1204.8 1010.3,1207.6C1013.4,1210.3 1015.6,1212.3 1018.3,1212.1C1021,1211.8 1023.9,1211.6 1026.4,1206.1C1028.8,1200.6 1030.6,1191.1 1032.8,1179.2C1035,1167.2 1037.6,1149.2 1039.8,1134.3C1041.9,1119.3 1044.1,1101.9 1045.6,1089.4C1047.2,1077 1047.8,1070.7 1048.9,1059.5C1049.9,1048.3 1051.5,1028.4 1052.1,1022.1" stroke="#dc1529" stroke-width="2.2"/>
<path d="M758.3,1336.2C759.2,1328.7 761.8,1305 763.6,1291.3C765.5,1277.6 767,1266.4 769.4,1253.9C771.9,1241.5 774.7,1228.1 778.4,1216.5C782.1,1205 786.6,1193 791.4,1184.7C796.3,1176.4 801.4,1170.6 807.5,1166.8C813.6,1162.9 820.2,1162.6 828.1,1161.5C836.1,1160.5 846,1160.6 854.9,1160.3C863.9,1160.1 872.8,1160.7 881.7,1160.2C890.6,1159.7 901.4,1156.9 908.5,1157.4C915.6,1157.8 920.1,1162.7 924.6,1163.1C929,1163.6 929,1160.4 935.3,1160.1C941.5,1159.9 954.9,1160.2 962.1,1161.6C969.2,1163 973.7,1165.1 978.1,1168.5C982.6,1171.8 985.3,1176.7 988.9,1181.7C992.4,1186.7 996,1193.6 999.6,1198.6C1003.1,1203.6 1007.2,1208.6 1010.3,1211.6C1013.4,1214.7 1015.6,1216.9 1018.3,1217C1021,1217 1023.9,1217.1 1026.4,1211.8C1028.8,1206.6 1030.5,1197.4 1032.8,1185.6C1035,1173.7 1037.6,1156 1039.9,1140.7C1042.2,1125.4 1044.8,1107 1046.6,1093.7C1048.3,1080.3 1049.2,1072.5 1050.4,1060.6C1051.6,1048.6 1053.3,1028.5 1053.8,1022.1" stroke="#dc1529" stroke-width="2.2"/>
<path d="M759.6,1336.2C760.5,1328.7 763.2,1305 765,1291.3C766.9,1277.6 768.3,1266.4 770.7,1253.9C773.2,1241.5 776,1227.9 779.5,1216.5C783.1,1205.2 787.4,1193.6 792.2,1185.8C797,1177.9 802.2,1172.8 808.2,1169.3C814.2,1165.8 820.4,1165.7 828.1,1164.8C835.9,1163.9 846,1164.2 854.9,1164C863.9,1163.8 872.8,1164.3 881.7,1163.8C890.6,1163.3 901.4,1160.5 908.5,1161C915.6,1161.5 920.1,1166.1 924.6,1166.5C929,1167 929,1163.8 935.3,1163.6C941.5,1163.3 954.9,1163.8 962.1,1165C969.2,1166.3 973.7,1168 978.1,1171.2C982.6,1174.4 985.3,1179.2 988.9,1184.3C992.4,1189.3 996,1196.3 999.6,1201.6C1003.1,1206.8 1007.2,1212.3 1010.3,1215.7C1013.4,1219.1 1015.6,1221.6 1018.3,1221.9C1021,1222.2 1023.9,1222.6 1026.4,1217.6C1028.8,1212.6 1030.5,1203.7 1032.8,1192C1035.1,1180.2 1037.6,1162.8 1040.1,1147.1C1042.5,1131.4 1045.5,1112.2 1047.5,1098C1049.5,1083.7 1050.6,1074.3 1051.9,1061.6C1053.3,1049 1055,1028.7 1055.6,1022.1" stroke="#dc1529" stroke-width="2.2"/>
<path d="M761,1336.2C761.9,1328.7 764.5,1305 766.4,1291.3C768.2,1277.6 769.7,1266.4 772,1253.9C774.4,1241.5 777.2,1227.7 780.7,1216.5C784.2,1205.4 788.2,1194.3 792.9,1186.8C797.7,1179.4 803.1,1175 809,1171.9C814.9,1168.8 820.5,1168.9 828.1,1168.1C835.8,1167.4 846,1167.8 854.9,1167.6C863.9,1167.5 872.8,1167.8 881.7,1167.3C890.6,1166.8 901.4,1164.2 908.5,1164.6C915.6,1165.1 920.1,1169.6 924.6,1170C929,1170.4 929,1167.2 935.3,1167C941.5,1166.7 954.9,1167.3 962.1,1168.5C969.2,1169.6 973.7,1171 978.1,1174C982.6,1177.1 985.3,1181.7 988.9,1186.8C992.4,1191.9 996,1199.1 999.6,1204.6C1003.1,1210.1 1007.2,1216 1010.3,1219.7C1013.4,1223.4 1015.6,1226.2 1018.3,1226.8C1021,1227.4 1023.9,1228.1 1026.4,1223.4C1028.8,1218.6 1030.5,1210 1032.8,1198.4C1035.1,1186.7 1037.6,1169.5 1040.2,1153.5C1042.8,1137.5 1046.2,1117.4 1048.4,1102.2C1050.6,1087.1 1052,1076.1 1053.4,1062.7C1054.9,1049.4 1056.7,1028.9 1057.4,1022.1" stroke="#dc1529" stroke-width="2.2"/>
<path d="M762.4,1336.2C763.3,1328.7 765.9,1305 767.8,1291.3C769.6,1277.6 771,1266.4 773.3,1253.9C775.7,1241.5 778.4,1227.5 781.8,1216.5C785.2,1205.5 789,1194.9 793.7,1187.9C798.4,1180.9 804,1177.2 809.8,1174.4C815.5,1171.7 820.6,1172 828.1,1171.5C835.7,1170.9 846,1171.4 854.9,1171.2C863.9,1171.1 872.8,1171.3 881.7,1170.8C890.6,1170.3 901.4,1167.8 908.5,1168.3C915.6,1168.7 920.1,1173 924.6,1173.4C929,1173.7 929,1170.6 935.3,1170.4C941.5,1170.1 954.9,1170.8 962.1,1171.9C969.2,1173 973.7,1173.9 978.1,1176.8C982.6,1179.7 985.3,1184.3 988.9,1189.4C992.4,1194.5 996,1201.8 999.6,1207.6C1003.1,1213.3 1007.2,1219.8 1010.3,1223.8C1013.4,1227.8 1015.6,1230.8 1018.3,1231.7C1021,1232.6 1023.9,1233.6 1026.4,1229.1C1028.8,1224.7 1030.5,1216.3 1032.8,1204.8C1035.1,1193.3 1037.6,1176.3 1040.4,1159.9C1043.1,1143.5 1046.9,1122.5 1049.3,1106.5C1051.8,1090.5 1053.3,1077.8 1055,1063.8C1056.6,1049.7 1058.4,1029.1 1059.1,1022.1" stroke="#dc1529" stroke-width="2.2"/>
<path d="M763.8,1336.2C764.7,1328.7 767.3,1305 769.1,1291.3C770.9,1277.6 772.3,1266.4 774.6,1253.9C777,1241.5 779.7,1227.4 783,1216.5C786.3,1205.7 789.9,1195.6 794.5,1189C799.1,1182.4 804.9,1179.4 810.5,1177C816.2,1174.6 820.7,1175.1 828.1,1174.8C835.5,1174.4 846,1174.9 854.9,1174.9C863.9,1174.8 872.8,1174.8 881.7,1174.3C890.6,1173.8 901.4,1171.5 908.5,1171.9C915.6,1172.3 920.1,1176.5 924.6,1176.8C929,1177.1 929,1174.1 935.3,1173.8C941.5,1173.6 954.9,1174.3 962.1,1175.3C969.2,1176.3 973.7,1176.8 978.1,1179.6C982.6,1182.4 985.3,1186.8 988.9,1192C992.4,1197.1 996,1204.6 999.6,1210.6C1003.1,1216.5 1007.2,1223.5 1010.3,1227.9C1013.4,1232.2 1015.6,1235.4 1018.3,1236.6C1021,1237.8 1023.9,1239.1 1026.4,1234.9C1028.8,1230.7 1030.4,1222.6 1032.8,1211.2C1035.1,1199.8 1037.6,1183.1 1040.5,1166.3C1043.4,1149.6 1047.6,1127.7 1050.2,1110.8C1052.9,1093.9 1054.7,1079.6 1056.5,1064.9C1058.3,1050.1 1060.1,1029.2 1060.9,1022.1" stroke="#dc1529" stroke-width="2.2"/>
<path d="M765.2,1336.2C766.1,1328.7 768.7,1305 770.5,1291.3C772.3,1277.6 773.7,1266.4 775.9,1253.9C778.2,1241.5 780.9,1227.2 784.1,1216.5C787.4,1205.9 790.7,1196.2 795.2,1190C799.8,1183.9 805.8,1181.6 811.3,1179.6C816.8,1177.6 820.9,1178.3 828.1,1178.1C835.4,1177.9 846,1178.5 854.9,1178.5C863.9,1178.5 872.8,1178.4 881.7,1177.9C890.6,1177.4 901.4,1175.1 908.5,1175.5C915.6,1175.9 920.1,1179.9 924.6,1180.2C929,1180.5 929,1177.5 935.3,1177.2C941.5,1177 954.9,1177.9 962.1,1178.7C969.2,1179.6 973.7,1179.7 978.1,1182.4C982.6,1185 985.3,1189.3 988.9,1194.5C992.4,1199.7 996,1207.3 999.6,1213.5C1003.1,1219.8 1007.2,1227.3 1010.3,1231.9C1013.4,1236.6 1015.6,1240.1 1018.3,1241.5C1021,1243 1023.9,1244.7 1026.4,1240.7C1028.8,1236.7 1030.4,1228.9 1032.8,1217.6C1035.2,1206.3 1037.6,1189.8 1040.7,1172.7C1043.7,1155.6 1048.3,1132.9 1051.2,1115.1C1054,1097.3 1056.1,1081.4 1058,1065.9C1060,1050.4 1061.9,1029.4 1062.6,1022.1" stroke="#dc1529" stroke-width="2.2"/>
<path d="M766.5,1336.2C767.4,1328.7 770.1,1305 771.9,1291.3C773.7,1277.6 775,1266.4 777.2,1253.9C779.5,1241.5 782.2,1227 785.3,1216.5C788.4,1206.1 791.5,1196.8 796,1191.1C800.5,1185.4 806.7,1183.8 812.1,1182.1C817.4,1180.5 821,1181.4 828.1,1181.4C835.3,1181.4 846,1182.1 854.9,1182.1C863.9,1182.1 872.8,1181.9 881.7,1181.4C890.6,1180.9 901.4,1178.8 908.5,1179.2C915.6,1179.5 920.1,1183.4 924.6,1183.6C929,1183.9 929,1180.9 935.3,1180.6C941.5,1180.4 954.9,1181.4 962.1,1182.1C969.2,1182.9 973.7,1182.6 978.1,1185.1C982.6,1187.6 985.3,1191.9 988.9,1197.1C992.4,1202.3 996,1210.1 999.6,1216.5C1003.1,1223 1007.2,1231 1010.3,1236C1013.4,1241 1015.6,1244.7 1018.3,1246.4C1021,1248.2 1023.9,1250.2 1026.4,1246.4C1028.8,1242.7 1030.4,1235.2 1032.8,1224C1035.2,1212.8 1037.6,1196.6 1040.8,1179.2C1044,1161.7 1048.9,1138 1052.1,1119.3C1055.2,1100.6 1057.5,1083.2 1059.6,1067C1061.6,1050.8 1063.6,1029.6 1064.4,1022.1" stroke="#dc1529" stroke-width="2.2"/>
<path d="M752.1,1336.2L753.1,1327.7 754.1,1319.2 755.1,1310.7 756.1,1302.2 757.1,1293.7 758.2,1285.2 759.1,1276.7 760.1,1268.2 761.3,1259.7 762.8,1251.2 764.4,1242.9 766.3,1234.5 768.3,1226.2 770.5,1217.9 772.7,1209.6 775,1201.4 777.4,1193.2 780,1185 782.9,1176.9 785.9,1168.9 789.3,1161.1 793.2,1153.5 798.2,1146.5 804.3,1140.5 811,1135.3 818.4,1130.8 826.3,1127.8 834.7,1126 843.2,1124.8 851.7,1125.1 860.3,1125.8 868.8,1126.8 877.3,1127.8 885.8,1128.6 894.4,1129 902.9,1129.6 911.2,1131.6 918.4,1136.2 925.6,1140.6 934.1,1140.3 942.7,1140.4 951.3,1140.7 959.8,1141.4 968.1,1143.3 975.7,1147.2 981.5,1153.5 985.6,1160.9 989.6,1168.5 993.6,1176.1 997.6,1183.6 1002.6,1190.6 1008.9,1196.4 1016.7,1195.6 1022.6,1189.5 1026.9,1182.1 1029.2,1173.9 1030.6,1165.4 1031.8,1156.9 1033,1148.5 1034.8,1140.1 1037.2,1131.9 1040,1123.8 1042.7,1115.7 1044.9,1107.4 1046.5,1099 1047.5,1090.5 1048,1081.9 1048.5,1073.4 1049,1064.9 1049.5,1056.3 1050,1047.8 1050.5,1039.2 1050.9,1030.7 1051.5,1022.1" stroke="#dc1529" stroke-width="2.2"/>
<path d="M753.3,1336.2L754.3,1327.7 755.3,1319.3 756.3,1310.8 757.3,1302.4 758.3,1293.9 759.3,1285.5 760.4,1277 761.4,1268.6 762.6,1260.2 764.1,1251.8 765.8,1243.5 767.7,1235.2 769.7,1226.9 771.8,1218.7 774.1,1210.5 776.5,1202.3 779.1,1194.2 781.9,1186.2 785,1178.3 788.4,1170.5 792.3,1163 796.8,1156 802.5,1150 809.1,1145.1 816.3,1140.9 823.8,1137.4 831.9,1135 840.3,1133.7 848.7,1132.8 857.2,1133 865.7,1133.5 874.2,1134 882.6,1134.5 891.1,1134.9 899.5,1135.6 907.8,1137 916,1138.2 923.4,1141.3 930.9,1144.6 939.4,1144.5 947.9,1145 956.3,1145.8 964.4,1147.5 972.1,1150.5 978.9,1155.1 984.4,1161.6 988.6,1168.9 992.9,1176.3 997.3,1183.5 1001.9,1190.5 1007.7,1195.6 1013.5,1198.3 1019.9,1195.7 1024.8,1189.1 1028.3,1181.5 1030.5,1173.2 1031.8,1164.8 1033,1156.4 1034.3,1148 1035.9,1139.7 1038,1131.4 1040.4,1123.3 1042.6,1115.1 1044.6,1106.9 1046.1,1098.5 1047,1090 1047.7,1081.5 1048.3,1073.1 1048.9,1064.6 1049.5,1056.1 1050,1047.6 1050.5,1039.1 1051,1030.6 1051.7,1022.1" stroke="#dc1529" stroke-width="2.2"/>
<path d="M754.5,1336.2L755.5,1327.8 756.4,1319.4 757.4,1311 758.4,1302.6 759.5,1294.2 760.5,1285.8 761.6,1277.4 762.7,1269 764,1260.7 765.5,1252.4 767.2,1244.1 769,1235.8 771,1227.6 773.2,1219.4 775.6,1211.3 778.1,1203.2 780.8,1195.2 783.8,1187.3 787.2,1179.6 790.9,1172.1 795.3,1164.9 800.5,1158.5 806.8,1153.5 813.9,1149.7 821.5,1146.5 829.3,1144 837.5,1142.3 845.8,1141.3 854.2,1140.8 862.7,1141 871.1,1141.3 879.5,1141.3 887.9,1141.1 896.3,1141.2 904.7,1142.2 912.7,1144.4 920.8,1144.8 928.4,1146.4 936.2,1148.7 944.7,1148.8 953.1,1149.5 961.3,1151 969,1153.6 976,1157.7 982.2,1163 987.3,1169.7 991.6,1176.9 996.2,1184 1001,1190.9 1006.2,1197.4 1012.7,1200.7 1018,1200.2 1023.1,1195.8 1026.9,1188.6 1029.8,1180.8 1031.7,1172.6 1033,1164.3 1034.3,1155.9 1035.5,1147.5 1037,1139.2 1038.8,1131 1040.7,1122.8 1042.6,1114.6 1044.3,1106.3 1045.6,1098 1046.6,1089.6 1047.4,1081.1 1048,1072.7 1048.7,1064.3 1049.4,1055.9 1050,1047.4 1050.6,1039 1051.2,1030.6 1051.8,1022.1" stroke="#dc1529" stroke-width="2.2"/>
<path d="M755.7,1336.2L756.7,1327.8 757.6,1319.5 758.6,1311.1 759.6,1302.8 760.6,1294.5 761.7,1286.1 762.8,1277.8 764,1269.5 765.3,1261.2 766.9,1252.9 768.6,1244.7 770.4,1236.5 772.4,1228.3 774.6,1220.2 777,1212.1 779.6,1204.2 782.5,1196.3 785.7,1188.5 789.3,1181 793.4,1173.7 798.3,1166.9 804.1,1161.1 811.1,1157 818.8,1154.3 826.7,1152.1 834.8,1150.6 843,1149.6 851.4,1149 859.8,1148.8 868.2,1148.9 876.6,1149 884.9,1148.5 893.2,1147.8 901.6,1147.4 909.8,1148.8 917.6,1151.8 925.5,1151.3 933.5,1151.5 941.5,1152.7 949.9,1153 958.2,1154 966.3,1156.1 973.7,1159.7 980,1164.8 985.4,1170.9 990.3,1177.8 994.7,1184.9 999.4,1191.8 1004.6,1198.3 1010.5,1204.2 1017.7,1205.8 1022.6,1202.1 1026.2,1195.9 1029,1188.2 1031.3,1180.2 1032.9,1172 1034.3,1163.7 1035.5,1155.4 1036.7,1147 1038.1,1138.8 1039.6,1130.5 1041.1,1122.3 1042.6,1114 1044,1105.8 1045.2,1097.4 1046.2,1089.1 1047,1080.7 1047.8,1072.4 1048.6,1064 1049.3,1055.6 1050,1047.3 1050.6,1038.9 1051.3,1030.5 1051.9,1022.1" stroke="#dc1529" stroke-width="2.2"/>
<path d="M756.9,1336.2L757.8,1327.9 758.8,1319.6 759.8,1311.3 760.8,1303 761.8,1294.7 762.9,1286.4 764.1,1278.2 765.3,1269.9 766.7,1261.7 768.2,1253.5 769.9,1245.3 771.7,1237.1 773.7,1229 775.9,1221 778.4,1213 781.2,1205.1 784.2,1197.3 787.6,1189.7 791.4,1182.3 795.9,1175.2 801.2,1168.8 807.7,1163.6 815.4,1160.4 823.6,1158.9 831.9,1157.7 840.2,1157.1 848.6,1156.9 856.9,1156.7 865.3,1156.7 873.6,1156.9 882,1156.7 890.3,1155.7 898.5,1154.4 906.9,1153.7 915,1155.4 922.4,1159.2 930.3,1157.9 938.5,1156.6 946.8,1156.8 955.2,1157.3 963.4,1158.5 971.3,1161.3 978.3,1165.8 983.9,1172 988.7,1178.9 993.2,1185.9 997.7,1192.9 1002.7,1199.6 1008.3,1205.7 1014.7,1211.1 1022.7,1210.8 1027.2,1204 1029.4,1195.9 1031.1,1187.8 1032.7,1179.6 1034.2,1171.3 1035.5,1163.1 1036.8,1154.8 1038,1146.6 1039.2,1138.3 1040.3,1130 1041.5,1121.8 1042.6,1113.5 1043.7,1105.2 1044.7,1096.9 1045.7,1088.6 1046.7,1080.3 1047.6,1072 1048.5,1063.7 1049.2,1055.4 1050,1047.1 1050.7,1038.8 1051.4,1030.4 1052.1,1022.1" stroke="#dc1529" stroke-width="2.2"/>
<path d="M1083.7,1020.6C1084.1,1023.1 1085.2,1031.8 1086.4,1035.6C1087.5,1039.3 1089.2,1041.8 1090.6,1043.1C1092.1,1044.3 1093.7,1044.6 1094.9,1043.1C1096.2,1041.6 1097.6,1035.6 1098.1,1034.1" stroke="#dc1529" stroke-width="2.2"/>
</g>
<g font-family="Liberation Sans" font-weight="bold" font-size="13.5" fill="#000"><text x="714" y="1033.5" text-anchor="end" transform="translate(714,0) scale(0.88,1) translate(-714,0)">2.00</text><text x="714" y="1070.89" text-anchor="end" transform="translate(714,0) scale(0.88,1) translate(-714,0)">1.75</text><text x="714" y="1108.28" text-anchor="end" transform="translate(714,0) scale(0.88,1) translate(-714,0)">1.50</text><text x="714" y="1145.66" text-anchor="end" transform="translate(714,0) scale(0.88,1) translate(-714,0)">1.25</text><text x="714" y="1183.05" text-anchor="end" transform="translate(714,0) scale(0.88,1) translate(-714,0)">1.00</text><text x="714" y="1220.44" text-anchor="end" transform="translate(714,0) scale(0.88,1) translate(-714,0)">0.75</text><text x="714" y="1257.83" text-anchor="end" transform="translate(714,0) scale(0.88,1) translate(-714,0)">0.50</text><text x="714" y="1295.21" text-anchor="end" transform="translate(714,0) scale(0.88,1) translate(-714,0)">0.25</text><text x="714" y="1332.6" text-anchor="end" transform="translate(714,0) scale(0.88,1) translate(-714,0)">0</text><text x="1102.5" y="1033.5" transform="translate(1102.5,0) scale(0.88,1) translate(-1102.5,0)">2.0</text><text x="1102.5" y="1070.89" transform="translate(1102.5,0) scale(0.88,1) translate(-1102.5,0)">1.5</text><text x="1102.5" y="1108.28" transform="translate(1102.5,0) scale(0.88,1) translate(-1102.5,0)">1.0</text><text x="1102.5" y="1145.66" transform="translate(1102.5,0) scale(0.88,1) translate(-1102.5,0)">0.5</text><text x="1102.5" y="1183.05" transform="translate(1102.5,0) scale(0.88,1) translate(-1102.5,0)">0</text><text x="1102.5" y="1220.44" transform="translate(1102.5,0) scale(0.88,1) translate(-1102.5,0)">–0.5</text><text x="1102.5" y="1257.83" transform="translate(1102.5,0) scale(0.88,1) translate(-1102.5,0)">–1.0</text><text x="1102.5" y="1295.21" transform="translate(1102.5,0) scale(0.88,1) translate(-1102.5,0)">–1.5</text><text x="1102.5" y="1332.6" transform="translate(1102.5,0) scale(0.88,1) translate(-1102.5,0)">–2.0</text><text x="727.52" y="1345" text-anchor="end" transform="translate(727.52,0) scale(0.87,1) translate(-727.52,0)">–60</text><text x="754.31" y="1345" text-anchor="end" transform="translate(754.31,0) scale(0.87,1) translate(-754.31,0)">–55</text><text x="781.1" y="1345" text-anchor="end" transform="translate(781.1,0) scale(0.87,1) translate(-781.1,0)">–50</text><text x="807.88" y="1345" text-anchor="end" transform="translate(807.88,0) scale(0.87,1) translate(-807.88,0)">–45</text><text x="834.67" y="1345" text-anchor="end" transform="translate(834.67,0) scale(0.87,1) translate(-834.67,0)">–40</text><text x="861.45" y="1345" text-anchor="end" transform="translate(861.45,0) scale(0.87,1) translate(-861.45,0)">–35</text><text x="888.24" y="1345" text-anchor="end" transform="translate(888.24,0) scale(0.87,1) translate(-888.24,0)">–30</text><text x="915.02" y="1345" text-anchor="end" transform="translate(915.02,0) scale(0.87,1) translate(-915.02,0)">–25</text><text x="941.81" y="1345" text-anchor="end" transform="translate(941.81,0) scale(0.87,1) translate(-941.81,0)">–20</text><text x="968.6" y="1345" text-anchor="end" transform="translate(968.6,0) scale(0.87,1) translate(-968.6,0)">–15</text><text x="995.38" y="1345" text-anchor="end" transform="translate(995.38,0) scale(0.87,1) translate(-995.38,0)">–10</text><text x="1018.91" y="1345" text-anchor="end" transform="translate(1018.91,0) scale(0.87,1) translate(-1018.91,0)">–5</text><text x="1042.43" y="1345" text-anchor="middle" transform="translate(1042.43,0) scale(0.87,1) translate(-1042.43,0)">0</text><text x="1069.21" y="1345" text-anchor="middle" transform="translate(1069.21,0) scale(0.87,1) translate(-1069.21,0)">5</text><text x="1096" y="1345" text-anchor="middle" transform="translate(1096,0) scale(0.87,1) translate(-1096,0)">10</text></g>
<g font-family="Liberation Sans" font-weight="bold" fill="#000">
<text font-size="13" transform="translate(676.4,1179.15) rotate(-90)" text-anchor="middle">V<tspan font-size="10" dy="3">OUT</tspan><tspan dy="-3"> (V)</tspan></text>
<text font-size="13" transform="translate(1146.3,1178.65) rotate(-90)" text-anchor="middle" textLength="71" lengthAdjust="spacingAndGlyphs">ERROR (dB)</text>
<text font-size="13" x="908.5" y="1369.1" text-anchor="middle">P<tspan font-size="10" dy="3">IN</tspan><tspan dy="-3"> (dBm)</tspan></text>
</g>
<text font-family="Liberation Sans" font-size="8.3" fill="#000" transform="translate(1150,1349.8) rotate(-90)" text-anchor="middle">05541-014</text>
<text font-family="Liberation Sans" font-style="italic" font-size="15.5" x="909.35" y="1398" text-anchor="middle" textLength="452.2" lengthAdjust="spacingAndGlyphs">Figure 14. V<tspan font-size="11" dy="1.6">OUT</tspan><tspan dy="-1.6"> and Log Conformance vs. Input Amplitude at 8.0 GHz,</tspan></text>
<text font-family="Liberation Sans" font-style="italic" font-size="15.5" x="909.9" y="1416.9" text-anchor="middle" textLength="201.1" lengthAdjust="spacingAndGlyphs">Multiple Devices, R<tspan font-size="11" dy="1.6">TADJ</tspan><tspan dy="-1.6"> = Open,</tspan></text>
<text font-family="Liberation Sans" font-style="italic" font-size="15.5" x="908.95" y="1434.8" text-anchor="middle" textLength="353.6" lengthAdjust="spacingAndGlyphs">Error Calculated from P<tspan font-size="11" dy="1.6">IN</tspan><tspan dy="-1.6"> = –34 dBm to P</tspan><tspan font-size="11" dy="1.6">IN</tspan><tspan dy="-1.6"> = –16 dBm</tspan></text>
<text font-family="Liberation Sans" font-size="13.5" fill="#231f20" x="618.3" y="1570.3" text-anchor="middle" textLength="129.5" lengthAdjust="spacingAndGlyphs">Rev. D | Page 8 of 19</text>
</svg>
</body></html>
